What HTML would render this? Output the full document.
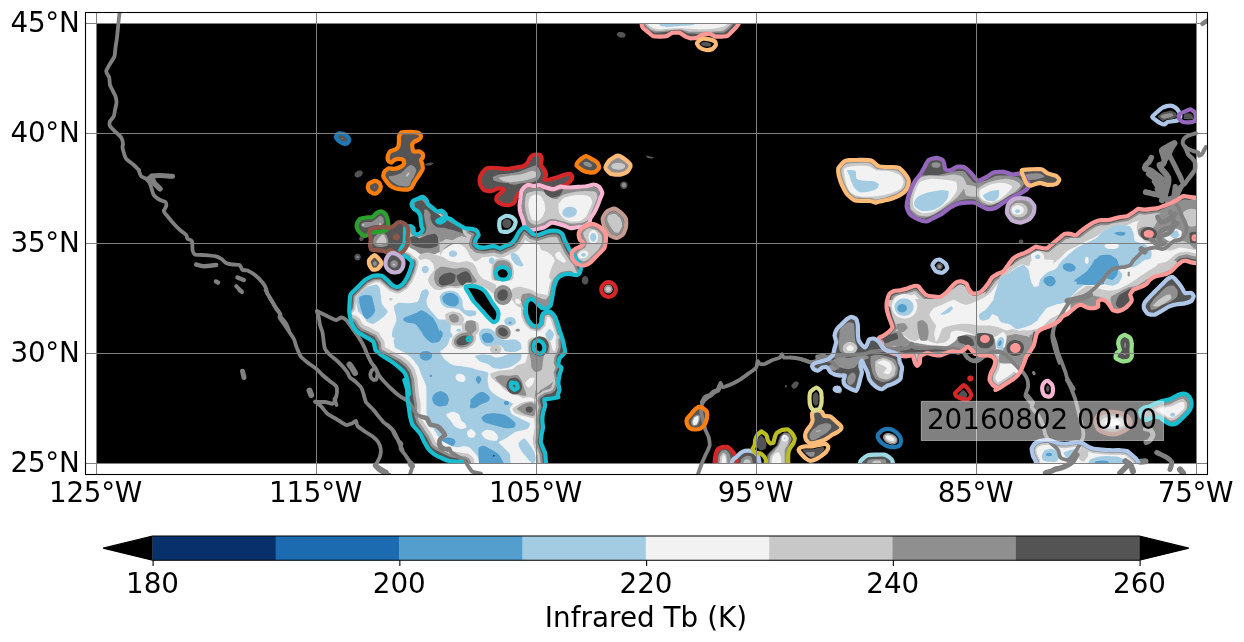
<!DOCTYPE html>
<html lang="en"><head><meta charset="utf-8"><title>Infrared Tb 20160802 00:00</title>
<style>html,body{margin:0;padding:0;background:#fff;}body{width:1244px;height:642px;overflow:hidden;}svg{display:block;}text{font-family:'DejaVu Sans', 'Liberation Sans', sans-serif;font-size:27.78px;fill:#000;}</style></head><body>
<svg width="1244" height="642" viewBox="0 0 1244 642">
<rect x="0" y="0" width="1244" height="642" fill="#fff"/>
<defs><clipPath id="ax"><rect x="85.5" y="12.5" width="1122" height="462"/></clipPath><clipPath id="data"><rect x="96.5" y="23.5" width="1100" height="440"/></clipPath><clipPath id="bigclip"><path d="M422.8 196.9 C423.5 197 426.1 199.4 426.5 200 C426.9 200.6 427.4 203.2 427.8 203.8 C428.2 204.4 430.8 206.3 431.5 206.9 C432.3 207.5 435.7 211 436.6 211.3 C437.4 211.6 440.8 210.5 441.6 210.7 C442.3 210.9 444.9 213.2 445.3 213.8 C445.8 214.4 446.2 217.2 446.6 217.6 C447 218 449.6 218.4 450.4 218.8 C451.1 219.2 454.5 222 455.4 222.6 C456.2 223.2 459.6 225.3 460.4 225.7 C461.2 226.2 464.5 228 465.4 228.2 C466.3 228.5 470.7 228.7 471.7 228.9 C472.6 229.1 476.1 230.2 476.7 230.7 C477.3 231.3 478.6 234.5 478.6 235.1 C478.5 235.8 476.4 238.2 476.1 238.9 C475.8 239.6 474.7 243.2 474.8 243.9 C475 244.6 477.2 246.7 477.9 247 C478.7 247.4 483.2 247.7 484.2 247.7 C485.3 247.6 489.6 246.5 490.5 246.4 C491.4 246.3 494.4 246.2 495.2 246.4 C496 246.6 499.4 248.3 500.2 248.3 C501 248.2 504.3 246.2 505.2 245.8 C506.2 245.4 510.6 243.8 511.5 243.3 C512.3 242.7 514.7 239.7 515.2 238.9 C515.8 238.1 517.3 234.6 517.8 233.9 C518.2 233.1 520.3 230 520.9 229.5 C521.5 228.9 524.6 226.9 525.3 227 C526 227 528.4 229.5 529 230.1 C529.7 230.7 532.1 233.4 532.8 233.9 C533.5 234.3 537 235.2 537.8 235.1 C538.7 235.1 542 233.5 542.8 233.2 C543.7 232.9 547 231.6 547.9 231.4 C548.7 231.1 552 230.7 552.9 230.7 C553.7 230.7 557.1 230.8 557.9 231.1 C558.7 231.4 561.7 233.2 562.3 233.9 C562.8 234.5 563.8 238 564.2 238.9 C564.5 239.7 566.2 243.1 566.7 243.9 C567.1 244.7 568.7 248.1 569.2 248.9 C569.6 249.7 571.8 253.1 572.3 253.9 C572.8 254.7 574.9 257.6 575.4 258.3 C576 259 578.7 261.9 579.2 262.7 C579.7 263.5 581.1 266.8 581.1 267.7 C581.1 268.6 579.9 272.6 579.5 273.2 C579.2 273.8 577.2 275.1 576.3 275.1 C575.4 275.2 569.8 273.9 568.6 273.9 C567.4 273.9 563.2 274.7 562.2 275.1 C561.2 275.6 557.7 278.1 557 279 C556.4 279.9 554.8 284.4 554.5 285.4 C554.1 286.5 553.4 290.7 553.2 291.9 C553 293 552.1 298.5 551.9 299.6 C551.7 300.7 551 304.6 550.6 305.4 C550.2 306.1 547.5 308.4 546.8 308.6 C546 308.8 542.4 308.3 541.6 307.9 C540.9 307.6 538.4 304.7 537.7 304.1 C537.1 303.4 534.5 300.7 533.9 300.2 C533.2 299.8 530.6 298.8 530 298.9 C529.4 299.1 527.2 301.4 526.8 302.2 C526.5 303 525.9 307.5 525.9 308.6 C525.9 309.7 526.2 314 526.4 315 C526.7 316 528.2 319.9 528.7 320.8 C529.3 321.7 531.9 324.8 532.6 325.3 C533.4 325.8 537.1 326.8 537.7 326.6 C538.4 326.4 540.6 324.1 541 323.4 C541.3 322.6 541.4 318.4 541.6 317.6 C541.8 316.8 542.5 314.2 542.9 313.7 C543.3 313.2 546.1 311.9 546.8 311.8 C547.4 311.7 550.6 312 551.3 312.4 C552 312.9 554.6 316 555.1 316.9 C555.6 317.9 557.3 322.9 557.7 324 C558.1 325.1 559.2 329.3 559.6 330.5 C560 331.6 561.8 336.9 562.2 338.2 C562.6 339.5 563.9 344.7 564.1 345.9 C564.4 347.1 565.4 351.3 565 352.3 C564.6 353.4 560 357.5 559.5 358.5 C558.9 359.6 558.2 364 558.4 364.8 C558.6 365.6 561.5 367.1 561.5 367.9 C561.6 368.8 559.7 373.9 559.5 375.2 C559.2 376.5 558.4 382.4 558.4 383.6 C558.4 384.8 559.5 388.8 559.5 389.9 C559.4 390.9 557.5 395.5 557.4 396.1 C557.3 396.8 558.8 397 558.2 397.2 C557.6 397.4 551.4 398.5 550.2 398.7 C549.1 398.9 544.9 398.8 544.4 399.4 C544 400 545.3 404.8 545.2 405.9 C545 407.1 543.2 411.9 543 413.2 C542.8 414.4 542.3 419.2 542.3 420.4 C542.3 421.6 543.1 426.4 543 427.6 C542.9 428.8 541.7 433.7 541.5 434.9 C541.4 436.1 540.7 441 540.8 442.1 C540.9 443.2 542.6 446.9 543 447.9 C543.4 448.8 544.9 452.5 545.2 453.7 C545.4 454.9 545.8 460.7 545.9 462.3 C545.9 464 552.9 473 545.9 473.9 C538.9 474.9 469 474.9 462 473.9 C455 472.9 462.4 462.9 462 461.9 C461.5 460.9 457.3 462 456.2 461.9 C455.1 461.8 450.1 461.2 448.9 460.9 C447.7 460.6 442.9 458.6 441.7 458 C440.5 457.5 435.6 455.1 434.5 454.4 C433.4 453.7 429.5 450.4 428.7 449.3 C427.8 448.3 425.1 443.4 424.3 442.1 C423.6 440.8 421 434.8 420 433.4 C419 432 413.5 426.4 412.7 425 C411.8 423.5 410.2 417 409.9 415.6 C409.6 414.2 409.1 409.5 408.9 408.1 C408.7 406.7 407.8 400.3 407.6 398.7 C407.5 397.2 407.3 390.9 407.1 389.4 C406.8 387.8 404.1 379.6 404.3 380 C404.4 380.4 408.7 393.8 409 394.1 C409.3 394.4 408.3 385.3 407.9 383.6 C407.6 381.9 405.6 374.5 404.8 373.2 C404 371.8 399.7 367.9 398.5 366.9 C397.3 365.8 391.6 361.6 390.2 360.6 C388.8 359.7 383 356.3 381.8 355.4 C380.6 354.5 376.2 351.3 375.5 350.2 C374.8 349 374.3 342.9 373.4 341.8 C372.6 340.7 366.5 337.4 365.1 336.6 C363.7 335.7 357.9 332.5 356.7 331.4 C355.6 330.2 352.1 324.6 351.5 323 C350.9 321.4 349.6 313.9 349.4 312.5 C349.2 311.2 349.3 308.5 349.4 307 C349.5 305.5 349.8 296.1 350.5 294.5 C351.1 292.9 355.5 289.5 356.7 288.2 C357.9 287 363.7 280.9 365.1 279.9 C366.5 278.8 372 276 373.4 275.7 C374.8 275.3 380.7 275.3 381.8 275.7 C382.9 276 386.2 279.1 387 279.9 C387.9 280.7 391.4 284.5 392.3 285.1 C393.1 285.7 396.6 287.3 397.5 287.2 C398.3 287.1 401.9 284.8 402.7 284.1 C403.5 283.3 406.3 278.9 406.9 277.8 C407.5 276.6 409.6 271.7 410 270.5 C410.5 269.2 411.9 263.6 412.1 263.2 C412.3 262.7 412.2 265.4 412.1 265.2 C412.1 265.1 411.8 262.1 411.5 261.5 C411.1 260.8 408.5 258.2 407.7 257.7 C407 257.2 403.3 255.8 402.7 255.2 C402.1 254.6 400 251.2 400.2 250.2 C400.4 249.1 404.2 244.5 404.6 242.7 C405 240.8 404.8 229 405.2 227.6 C405.6 226.2 408.5 226.5 409 226.4 C409.5 226.2 411.1 226.2 411.5 226.4 C411.8 226.5 413.2 227.7 413.4 228.2 C413.6 228.8 413.7 232.1 414 232.6 C414.3 233.1 416 234.5 416.5 234.5 C417 234.6 419.7 233.7 420.3 233.2 C420.8 232.8 422.7 230.1 422.8 229.5 C422.9 228.9 421.7 227 421.5 226.4 C421.4 225.7 421 222.2 420.9 221.3 C420.8 220.4 420.5 216.5 420.3 215.7 C420 214.9 418.3 211.9 417.8 211.3 C417.2 210.7 414.5 209.4 414 208.8 C413.5 208.2 411.5 205.1 411.5 204.4 C411.4 203.7 412.8 201.1 413.4 200.6 C413.9 200.2 417 199.1 417.8 198.8 C418.5 198.4 422 196.8 422.8 196.9Z"/></clipPath><clipPath id="bandclip"><path d="M1209 198 C1208.1 192.6 1199.4 198.1 1197.7 198 C1196.1 197.9 1190.9 197 1189.7 196.9 C1188.5 196.7 1184.4 195.8 1183.3 196.1 C1182.2 196.3 1177.9 199.5 1176.8 200.1 C1175.8 200.7 1171.5 202.8 1170.4 203.3 C1169.3 203.8 1165.1 205.3 1164 205.7 C1162.9 206.1 1158.6 207.9 1157.6 208.1 C1156.5 208.4 1152.2 208.8 1151.1 208.9 C1150.1 209.1 1145.8 209.7 1144.7 209.7 C1143.6 209.7 1139.2 208.7 1138.3 208.9 C1137.3 209.1 1134.4 211.6 1133.4 212.2 C1132.5 212.8 1128.1 215.8 1127 216.2 C1125.9 216.6 1121.7 216.8 1120.6 217 C1119.5 217.2 1115.2 218.3 1114.1 218.6 C1113.1 218.9 1108.9 220.1 1107.7 220.2 C1106.5 220.3 1100.9 220 1099.7 220.2 C1098.5 220.4 1094.3 222.1 1093.2 222.6 C1092.2 223.1 1087.9 225.9 1086.8 226.6 C1085.7 227.4 1081.3 230.7 1080.4 231.4 C1079.4 232.2 1076.4 235.3 1075.6 235.5 C1074.8 235.7 1071.7 234 1070.7 233.9 C1069.8 233.7 1065.2 233.5 1064.3 233.9 C1063.4 234.2 1060.3 237.2 1059.5 237.9 C1058.7 238.5 1055.5 241.2 1054.7 241.9 C1053.9 242.6 1050.5 245.4 1049.8 245.9 C1049.2 246.5 1047.4 248.2 1046.6 248.3 C1045.8 248.5 1041.1 247.7 1040.2 247.5 C1039.3 247.4 1036.2 246.5 1035.4 246.7 C1034.6 246.9 1031.5 249.4 1030.5 249.9 C1029.6 250.5 1025.2 252.7 1024.1 253.2 C1023 253.6 1018.6 255.1 1017.7 255.6 C1016.7 256 1013.7 258 1012.9 258.8 C1012.1 259.6 1008.8 264.1 1008 265.2 C1007.2 266.3 1004 271 1003.2 271.6 C1002.4 272.3 999.5 272.8 998.6 273.3 C997.7 273.8 993 276.6 992.2 277.3 C991.4 278.1 989.6 281.2 989 282.2 C988.3 283.1 985 287.7 984.1 288.6 C983.3 289.5 980.3 292.2 979.3 292.6 C978.4 293 973.8 293.7 972.9 293.4 C972 293.1 969.4 290.2 968.9 289.4 C968.3 288.6 967.1 284.4 966.5 283.8 C965.9 283.1 962.4 281.5 961.6 281.4 C960.8 281.2 957.6 281.8 956.8 282.2 C956 282.6 952.8 285.4 952 286.2 C951.2 287 948.1 290.9 947.2 291.8 C946.2 292.7 941.8 296.2 940.7 296.6 C939.7 297 935.5 296.8 934.3 296.6 C933.1 296.5 927.3 295.6 926.3 295 C925.2 294.5 922.1 290.9 921.4 290.2 C920.8 289.5 918.9 286.5 918.2 286.2 C917.6 285.8 914.3 286 913.4 286.2 C912.5 286.4 908 288.3 907 288.6 C905.9 288.9 901.6 290 900.5 290.2 C899.5 290.4 895.1 290.7 894.1 291 C893.2 291.3 889.9 293.3 889.3 294.2 C888.7 295.1 887.1 300.2 886.9 301.4 C886.7 302.7 886.7 308.3 886.9 309.5 C887 310.7 888.2 314.8 888.5 315.9 C888.8 317 890.6 321.4 890.9 322.3 C891.2 323.3 892.7 326.4 892.5 327.2 C892.3 328 889.3 331.3 888.5 332 C887.7 332.7 883.7 335.5 882.9 336 C882.1 336.5 878.8 337.4 878.8 338.4 C878.9 339.4 882.7 347.1 883.6 348.2 C884.5 349.4 888.7 351.6 890 352.3 C891.4 352.9 898.3 355.1 899.7 355.5 C901 355.8 905 356.3 906.1 356.3 C907.2 356.3 911.8 354.9 912.5 355.5 C913.3 356 914.5 361.8 915 362.7 C915.4 363.6 917 365.9 917.4 365.9 C917.8 365.9 919.5 363.5 919.8 362.7 C920 361.9 920 357.1 920.6 356.3 C921.2 355.5 925.9 353.2 927 353.1 C928.1 352.9 932.4 354.5 933.4 354.7 C934.5 354.9 938.8 355.6 939.9 355.5 C940.9 355.3 945.2 353.4 946.3 353.1 C947.4 352.7 951.7 351.5 952.7 351.4 C953.8 351.4 958.2 352.4 959.2 352.3 C960.1 352.1 963.3 350.3 964 349.8 C964.7 349.4 967.4 346.6 968 346.6 C968.6 346.6 970.6 349.2 971.2 349.8 C971.8 350.4 974.4 353.4 975.2 353.9 C976.1 354.3 980.6 355.3 981.7 355.5 C982.7 355.6 987.2 355.3 988.1 355.5 C989 355.6 992.3 356.6 992.9 357.1 C993.5 357.5 995.3 360.2 995.3 361.1 C995.4 362 994.1 366.5 993.7 367.5 C993.3 368.6 990.8 372.9 990.5 374 C990.2 375 989.5 379.4 989.7 380.4 C989.9 381.3 992.3 384.5 992.9 385.2 C993.6 385.9 997.5 388 997.7 388.4 C998 388.8 995.3 390.1 995.5 390 C995.7 389.9 999.5 388.1 1000.5 387.5 C1001.5 386.9 1006.8 383.3 1008 382.5 C1009.2 381.7 1014.5 378.4 1015.5 377.5 C1016.5 376.6 1019.8 372.5 1020.5 371.2 C1021.2 370 1023.6 364.1 1024.1 362.9 C1024.6 361.7 1026 357.5 1026.5 356.5 C1027.1 355.5 1029.9 351.8 1030.5 350.8 C1031.1 349.9 1033.4 346.2 1033.8 345.2 C1034.2 344.2 1035.1 339.8 1035.4 338.8 C1035.6 337.8 1036.4 334 1037 333.2 C1037.5 332.3 1040.9 329.7 1041.8 329.1 C1042.7 328.6 1047.2 327.2 1048.2 326.7 C1049.3 326.3 1053.7 324 1054.7 323.5 C1055.6 323 1058.8 320.9 1059.5 320.3 C1060.2 319.7 1062 316.8 1062.7 316.3 C1063.4 315.7 1066.7 314.4 1067.5 313.9 C1068.3 313.3 1071.5 310.5 1072.3 309.8 C1073.2 309.2 1076.4 306.2 1077.2 305.8 C1078 305.4 1081.2 304.9 1082 305 C1082.8 305.2 1085.9 307.2 1086.8 307.4 C1087.8 307.7 1092.3 308.3 1093.2 308.2 C1094.2 308.2 1097.7 307.2 1098.1 306.6 C1098.5 306.1 1097.8 302.4 1098.1 301.8 C1098.3 301.2 1100.6 299.5 1101.3 299.4 C1102 299.3 1105.4 300.5 1106.1 301 C1106.8 301.5 1108.8 304.3 1109.3 305 C1109.9 305.8 1111.9 309.3 1112.5 309.8 C1113.2 310.4 1116.4 311.5 1117.4 311.4 C1118.3 311.4 1122.9 309.6 1123.8 309 C1124.7 308.5 1127.9 305.8 1128.6 305 C1129.3 304.3 1131.7 301.1 1131.8 300.2 C1132 299.3 1130.1 295.4 1130.2 294.6 C1130.4 293.7 1132.6 290.3 1133.4 289.7 C1134.2 289.1 1138.8 287.8 1139.9 287.3 C1140.9 286.9 1145.5 284.7 1146.3 284.1 C1147.1 283.5 1148.8 280.7 1149.5 280.1 C1150.2 279.5 1153.4 277.3 1154.3 276.9 C1155.3 276.5 1159.7 275.5 1160.8 275.3 C1161.8 275 1166.3 274.1 1167.2 273.7 C1168.1 273.3 1171.2 271.1 1172 270.5 C1172.8 269.8 1176 266.4 1176.8 265.6 C1177.7 264.9 1180.9 262 1181.7 261.6 C1182.5 261.2 1185.7 260.7 1186.5 260.8 C1187.3 260.9 1190.4 262.2 1191.3 262.4 C1192.3 262.6 1196.3 263.1 1197.7 263.2 C1199.2 263.3 1208.1 268.6 1209 263.2 C1209.9 257.8 1209.9 203.4 1209 198Z"/></clipPath></defs>
<rect x="96.5" y="23.5" width="1100" height="440" fill="#000"/>
<g clip-path="url(#data)" stroke="none">
<path d="M335.8 136.6 C335.9 135.9 338.3 133.6 339.1 133.3 C339.8 133 342.4 133.6 343.2 133.8 C344 134 346 135 346.6 135.6 C347.2 136.1 349.2 138.1 349.3 138.8 C349.5 139.5 348.5 142.1 348.1 142.6 C347.7 143.1 345.7 143.8 345.1 143.8 C344.4 143.8 342.3 143 341.6 142.7 C340.9 142.3 338.6 140.9 338.1 140.3 C337.5 139.7 335.7 137.3 335.8 136.6Z" fill="#545454"/>
<path d="M343.2 138.6 C343.2 138.6 343.1 138.8 343.1 138.8 C343.1 138.9 342.9 139 342.9 139 C342.8 139 342.6 139.1 342.6 139.1 C342.5 139.1 342.3 139 342.3 139 C342.2 139 342.1 138.9 342 138.8 C342 138.8 341.9 138.6 341.9 138.6 C341.9 138.5 342 138.4 342 138.3 C342.1 138.3 342.2 138.2 342.3 138.1 C342.3 138.1 342.5 138.1 342.6 138.1 C342.6 138.1 342.8 138.1 342.9 138.1 C342.9 138.2 343.1 138.3 343.1 138.3 C343.1 138.4 343.2 138.5 343.2 138.6Z" fill="#8f8f8f"/>
<path d="M401.5 132.5 C402.6 132.1 408.5 131.9 410.3 131.9 C412 132 418 132.7 419.1 133.2 C420.1 133.6 421 135.7 421 136.3 C421 136.9 419.8 138.9 419.1 139.4 C418.4 140 414.7 141.4 414.1 141.9 C413.4 142.5 412.2 144.1 412.2 145.1 C412.1 146 412.7 150.7 413.4 151.4 C414.1 152 418.1 151.1 419.1 151.4 C420 151.6 422.5 153.2 422.8 153.9 C423.2 154.5 423 157 422.8 157.6 C422.6 158.2 421 159.5 421 160.1 C420.9 160.8 422 163 422.2 163.9 C422.4 164.8 423 168 422.8 168.9 C422.6 169.8 421 172.3 420.3 173.3 C419.7 174.3 417.2 178 416.6 178.9 C415.9 179.9 414.6 181.8 414.1 182.7 C413.6 183.6 412.2 187 411.5 187.7 C410.9 188.4 409.2 189.5 407.8 189.6 C406.4 189.7 399.4 189.3 397.8 189 C396.1 188.7 392.6 187.2 391.5 186.5 C390.4 185.7 387.3 182.5 386.5 181.4 C385.7 180.4 383.5 177.4 383.3 176.4 C383.1 175.4 384 172.2 384.6 171.4 C385.1 170.6 388 168.5 389 168.3 C389.9 168 392.9 169 394 168.9 C395.1 168.8 399.3 167.5 400.3 167 C401.3 166.5 403.7 164.6 404 163.9 C404.3 163.2 403.9 160.6 403.4 160.1 C402.9 159.6 399.9 158.9 399 158.9 C398.1 158.9 394.7 159.8 394 160.1 C393.2 160.5 392 162.6 391.5 162.6 C390.9 162.7 388.7 161.4 388.3 160.8 C388 160.1 387.5 157.3 387.7 156.4 C387.9 155.4 389.5 152 390.2 151.4 C391 150.7 394.4 150 395.2 149.5 C396.1 149 398 147.2 398.4 146.3 C398.8 145.5 398.9 142.3 399 141.3 C399.1 140.3 398.8 137.2 399 136.3 C399.3 135.4 400.4 133 401.5 132.5Z" fill="#545454"/>
<path d="M389 176.4 C389.5 176.1 394 175.6 395.2 175.2 C396.5 174.8 400.4 173.4 401.5 172.7 C402.6 171.9 405.7 168.4 406.5 167.7 C407.4 166.9 409.5 165.3 410.3 165.1 C411 165 413.5 165.9 414.1 166.4 C414.7 166.9 416.3 169.2 416.3 170.2 C416.3 171.2 414.5 175.4 414.1 176.4 C413.6 177.4 412 179.3 411.5 180.2 C411.1 181.1 410.2 184.6 409.7 185.2 C409.2 185.8 407.7 186.5 406.5 186.5 C405.3 186.5 399.1 185.7 397.8 185.2 C396.4 184.8 393.6 182.7 392.7 182.1 C391.9 181.4 390 179.5 389.6 178.9 C389.2 178.4 388.4 176.8 389 176.4Z" fill="#8f8f8f"/>
<path d="M409.2 172.5 C409.3 172.6 409.4 172.9 409.4 173.1 C409.4 173.2 409.3 173.8 409.2 174 C409.1 174.2 408.8 174.9 408.6 175.1 C408.5 175.3 407.9 175.9 407.8 176.1 C407.6 176.2 407.1 176.6 407 176.6 C406.8 176.7 406.4 176.7 406.3 176.6 C406.3 176.5 406.1 176.2 406.1 176 C406.1 175.9 406.3 175.3 406.4 175.1 C406.4 174.9 406.8 174.2 407 174 C407.1 173.8 407.6 173.2 407.8 173 C408 172.9 408.5 172.5 408.6 172.5 C408.8 172.4 409.1 172.4 409.2 172.5Z" fill="#c8c8c8"/>
<path d="M374.6 180.9 C375.6 180.8 378.3 182.2 378.9 182.7 C379.6 183.3 380.8 185.6 380.8 186.5 C380.8 187.3 379.8 190.3 379.2 191 C378.6 191.7 376 193.6 375.2 193.7 C374.3 193.9 371.4 192.6 370.7 192.1 C369.9 191.6 368.1 189.2 367.9 188.3 C367.7 187.5 368.2 184.4 368.9 183.7 C369.6 183 373.5 181 374.6 180.9Z" fill="#545454"/>
<path d="M374.9 187.5 C374.9 187.5 374.9 187.7 374.8 187.8 C374.8 187.8 374.7 188 374.6 188 C374.6 188 374.4 188.1 374.3 188.1 C374.2 188.1 374 188 374 188 C373.9 188 373.8 187.8 373.8 187.8 C373.7 187.7 373.7 187.5 373.7 187.5 C373.7 187.4 373.7 187.2 373.8 187.2 C373.8 187.1 373.9 187 374 186.9 C374 186.9 374.2 186.8 374.3 186.8 C374.4 186.8 374.6 186.9 374.6 186.9 C374.7 187 374.8 187.1 374.8 187.2 C374.9 187.2 374.9 187.4 374.9 187.5Z" fill="#8f8f8f"/>
<path d="M362.4 171.7 C362.6 172 362.8 173 362.7 173.4 C362.6 173.7 362.1 174.9 361.9 175.2 C361.6 175.5 360.6 176.4 360.2 176.6 C359.8 176.9 358.5 177.3 358.1 177.4 C357.7 177.4 356.4 177.3 356.1 177.2 C355.8 177.1 355 176.4 354.8 176.1 C354.7 175.8 354.5 174.8 354.5 174.5 C354.6 174.1 355.1 173 355.4 172.7 C355.6 172.3 356.7 171.4 357.1 171.2 C357.4 171 358.8 170.5 359.2 170.5 C359.6 170.4 360.8 170.5 361.1 170.7 C361.5 170.8 362.3 171.5 362.4 171.7Z" fill="#545454"/>
<path d="M425.3 164.1 C425.8 163.8 429.5 162.5 430.4 162.4 C431.2 162.3 433.5 163 433.5 163.3 C433.5 163.6 431.1 165.2 430.4 165.4 C429.6 165.6 426.5 165.5 426 165.4 C425.5 165.3 424.9 164.4 425.3 164.1Z" fill="#545454"/>
<path d="M533.7 154.8 C534.7 154.5 539.1 154.3 539.9 154.8 C540.7 155.2 541.6 158.2 541.7 159.2 C541.8 160.2 540.5 163.4 540.8 164.5 C541.1 165.5 543.8 168.7 544.3 169.8 C544.9 170.9 546.1 174.1 546.1 175.1 C546.1 176.1 544 179.1 544.3 179.5 C544.7 180 548.4 179.7 549.6 179.5 C550.9 179.3 555.3 177.8 556.7 177.4 C558.1 177 562.5 175.5 563.8 175.1 C565.1 174.7 569.1 173.7 570 173.9 C570.8 174 572.3 176.1 572.3 176.9 C572.3 177.6 570.7 180.5 570 181.3 C569.3 182.1 566.5 184.3 565.6 184.8 C564.6 185.4 561.5 186.1 560.3 186.6 C559 187 554.6 189.2 553.2 189.2 C551.8 189.3 547.5 187.9 546.1 187.5 C544.7 187.1 540.3 185.3 539 185.2 C537.8 185.1 534.8 186.3 533.7 186.2 C532.7 186.2 529.4 184.7 528.4 184.8 C527.5 184.9 524.8 186.8 524 187.5 C523.2 188.2 521.1 191.2 520.5 191.9 C519.8 192.6 518.3 193.9 517.8 194.6 C517.4 195.2 516.4 197.3 516 198.1 C515.7 198.9 515 201.8 514.3 202.5 C513.6 203.2 510.2 205 509 205.2 C507.7 205.3 503.1 204.7 501.9 204.3 C500.7 203.8 497.1 201.5 496.6 200.7 C496.1 199.9 496.4 197.2 496.9 196.3 C497.5 195.4 501.2 192.6 501.9 191.9 C502.6 191.2 504 189.6 503.7 189.2 C503.3 188.9 499.6 188.2 498.4 188.4 C497.1 188.5 492.7 190.8 491.3 191 C489.9 191.2 485.3 190.7 484.2 190.1 C483.1 189.5 480.8 186 480.3 184.8 C479.9 183.7 479.6 179.9 479.8 178.6 C480 177.4 481.6 173.5 482.4 172.4 C483.2 171.4 486.3 168.5 487.7 168 C489.2 167.6 494.6 167.9 496.6 168 C498.5 168.1 505.3 169 507.2 168.9 C509.1 168.9 514.5 167.8 516 167.5 C517.6 167.2 522 166.7 523.1 166.3 C524.3 165.8 526.8 163.6 527.5 162.7 C528.2 161.8 529.6 158.2 530.2 157.4 C530.8 156.6 532.8 155 533.7 154.8Z" fill="#545454"/>
<path d="M493.1 176.9 C493.7 176.2 498.4 174.6 500.1 174.2 C501.9 173.9 508.8 173.6 510.7 173.3 C512.7 173.1 517.8 172.1 519.6 171.6 C521.4 171 526.8 168.6 528.4 168 C530 167.4 534.4 165.3 535.5 165.4 C536.6 165.5 538.5 168 539 168.9 C539.6 169.8 540.9 173.2 540.8 174.2 C540.7 175.3 539 178.7 538.2 179.5 C537.3 180.3 533.5 181.8 532 182.2 C530.5 182.5 524.9 182.8 523.1 183.1 C521.4 183.3 515.9 184.8 514.3 184.8 C512.7 184.8 508.6 183.3 507.2 183.1 C505.8 182.8 501.5 182.4 500.1 182.2 C498.8 181.9 494.6 180.9 493.9 180.4 C493.2 179.9 492.4 177.5 493.1 176.9Z" fill="#8f8f8f"/>
<path d="M499.2 177.7 C500 177.2 508.5 176 510.7 175.6 C513 175.3 519.2 174.7 521.4 174.2 C523.5 173.7 530.5 170.9 532 170.7 C533.5 170.5 536 171.8 536.4 172.4 C536.7 173.1 536.3 176.2 535.5 176.9 C534.7 177.6 530 179.1 528.4 179.5 C526.8 180 521.4 181 519.6 181.3 C517.8 181.6 512.3 182.2 510.7 182.2 C509.1 182.2 504.8 181.7 503.7 181.3 C502.5 180.8 498.5 178.3 499.2 177.7Z" fill="#c8c8c8"/>
<path d="M528.4 184.8 C529.4 184.7 532.7 186.2 533.7 186.2 C534.8 186.3 537.8 185.1 539 185.2 C540.3 185.3 544.7 187.1 546.1 187.5 C547.5 187.9 551.8 189.3 553.2 189.2 C554.6 189.2 558.8 186.8 560.3 186.6 C561.7 186.4 565.6 187.4 567.3 187.5 C569.1 187.5 576 187.1 577.9 186.9 C579.9 186.8 585.2 186.5 586.8 186.2 C588.4 186 592.6 184.4 593.9 184.5 C595.1 184.5 598.3 186.1 599.2 186.9 C600 187.8 602.3 191.6 602.3 192.8 C602.4 194 600.5 197.6 600 199 C599.6 200.3 598 204.6 597.4 206 C596.8 207.5 594.6 211.9 593.9 213.1 C593.2 214.4 590.8 217.5 590.3 218.4 C589.9 219.4 590.1 222.1 589.4 222.8 C588.7 223.6 584.6 225.9 583.2 226.4 C581.9 226.8 577.4 227.1 576.2 227.3 C574.9 227.4 572.1 228.3 570.9 228.2 C569.6 228 565.2 226 563.8 225.5 C562.4 225 558 223.6 556.7 223.4 C555.5 223.1 552.7 222.5 551.4 222.8 C550.2 223.2 545.8 226.6 544.3 227.3 C542.9 227.9 538.7 228.8 537.3 229 C535.9 229.3 531.4 230.2 530.2 229.9 C529 229.7 525.6 227.4 524.9 226.4 C524.2 225.4 523.6 221.5 523.1 220.2 C522.7 218.9 520.8 214.5 520.5 213.1 C520.1 211.7 519.6 207.5 519.6 206 C519.6 204.6 520.3 200.4 520.5 199 C520.6 197.6 521 193 521.4 191.9 C521.7 190.7 523.3 188.2 524 187.5 C524.7 186.8 527.5 184.9 528.4 184.8Z" fill="#545454"/>
<path d="M528.8 187.2 C527.9 187.3 526.1 188.5 525.6 189.1 C525.1 189.6 523.9 190.9 523.5 192.6 C523.1 194.3 521.9 204 521.8 206 C521.7 208 522.1 210.7 522.6 212.6 C523.1 214.5 526 223.5 526.8 225 C527.6 226.5 529.7 227.4 530.7 227.6 C531.7 227.8 535.6 227.1 536.9 226.9 C538.1 226.6 542 225.8 543.5 225.2 C544.9 224.6 549.8 221 551.2 220.7 C552.6 220.3 555.4 220.7 557.4 221.3 C559.3 221.8 568.6 225.6 571.1 225.9 C573.6 226.2 580.9 224.7 582.5 224.3 C584.2 223.8 586.9 222.1 587.5 221.4 C588.1 220.8 587.8 218.5 588.3 217.6 C588.7 216.6 591.2 213.3 592 212 C592.7 210.8 594.6 207.1 595.4 205.2 C596.2 203.3 599.7 194.6 599.9 193 C600.2 191.3 598.2 189.2 597.6 188.6 C596.9 188 594.7 186.8 593.6 186.8 C592.6 186.8 588.7 188.2 587.1 188.4 C585.6 188.6 580 189 578.1 189.1 C576.1 189.3 569 189.7 567.3 189.7 C565.5 189.6 561.9 188.7 560.5 188.8 C559.1 189 555.2 191.6 553.1 191.4 C550.9 191.3 540.8 187.7 538.9 187.4 C537 187.1 534.8 188.5 533.8 188.4 C532.7 188.4 529.6 187.1 528.8 187.2Z" fill="#8f8f8f"/>
<path d="M526.7 193.7 C527.7 192.5 533.7 191.2 535.5 191 C537.3 190.8 542.8 191.2 544.3 191.9 C545.9 192.6 550.2 197.4 551.4 198.1 C552.7 198.8 555.5 199.3 556.7 199 C558 198.6 562 195.3 563.8 194.6 C565.6 193.8 572.1 192.3 574.4 191.9 C576.7 191.5 584.7 191 586.8 191 C588.9 191 594.6 191.3 595.6 191.9 C596.7 192.5 597.5 196 597.4 197.2 C597.3 198.4 595.4 202.7 594.7 204.3 C594.1 205.9 591.9 211.5 591.2 213.1 C590.5 214.7 588.6 219.2 587.7 220.2 C586.7 221.2 583.2 222.5 581.5 222.8 C579.8 223.2 572.8 223.9 570.9 223.7 C568.9 223.6 563.6 221.5 562 221.1 C560.4 220.6 556.2 219.5 555 219.3 C553.7 219.1 551.1 218.9 549.6 219.3 C548.2 219.8 542.4 223.2 540.8 223.7 C539.2 224.3 535 225 533.7 224.6 C532.5 224.3 529.2 221.5 528.4 220.2 C527.6 218.9 526.1 213.1 525.8 211.4 C525.4 209.6 524.8 204.3 524.9 202.5 C525 200.7 525.6 194.8 526.7 193.7Z" fill="#c8c8c8"/>
<path d="M543.5 189.2 C544.2 188.9 551.2 191.5 553.2 191.5 C555.1 191.5 562.3 188.8 562.9 189.2 C563.5 189.7 560.5 195 559.4 195.8 C558.2 196.6 552.7 197.7 551.4 197.6 C550.1 197.4 546.9 195.4 546.1 194.6 C545.3 193.7 542.8 189.5 543.5 189.2Z" fill="#545454"/>
<path d="M530.2 197.2 C530.9 196.2 534.4 194.6 535.5 194.6 C536.6 194.5 539.9 195.5 540.8 196.3 C541.7 197.1 543.9 201.2 544.3 202.5 C544.8 203.8 545.4 208.2 545.2 209.6 C545 211 543.4 215.5 542.6 216.7 C541.8 217.8 538.3 220.8 537.3 221.1 C536.2 221.3 532.8 220.3 532 219.3 C531.2 218.3 529.7 212.9 529.3 211.4 C529 209.8 528.3 205.7 528.4 204.3 C528.5 202.9 529.5 198.2 530.2 197.2Z" fill="#f2f2f2"/>
<path d="M558.5 204.3 C558.9 202.8 562.4 199 563.8 198.1 C565.2 197.2 570.7 195.7 572.6 195.4 C574.6 195.1 581.5 194.9 583.2 195.1 C585 195.3 589.4 196.5 590.3 197.2 C591.2 197.9 592.2 201.3 592.1 202.5 C592 203.7 590.1 208.2 589.4 209.6 C588.8 211 586.9 215.5 585.9 216.7 C584.9 217.8 581.2 220.6 579.7 221.1 C578.2 221.6 572.5 221.9 570.9 221.6 C569.3 221.3 564.9 219.3 563.8 218.4 C562.6 217.6 559.9 214.5 559.4 213.1 C558.8 211.7 558 205.8 558.5 204.3Z" fill="#f2f2f2"/>
<path d="M576.9 210.9 C577 211.5 576.7 213.3 576.4 213.8 C576.2 214.3 574.7 215.9 574.1 216.3 C573.5 216.6 571.3 217.5 570.6 217.6 C569.9 217.8 567.5 217.7 566.8 217.6 C566.1 217.4 564.2 216.5 563.8 216.1 C563.3 215.6 562.4 214.1 562.3 213.5 C562.2 213 562.5 211.2 562.8 210.7 C563.1 210.1 564.6 208.6 565.1 208.2 C565.7 207.8 567.9 207 568.7 206.8 C569.4 206.7 571.8 206.8 572.5 206.9 C573.1 207.1 575 208 575.5 208.4 C575.9 208.8 576.9 210.4 576.9 210.9Z" fill="#a3cce3"/>
<path d="M511.4 223.4 C511.4 223.8 511.1 225.3 510.8 225.7 C510.6 226.1 509.5 227.1 509.1 227.4 C508.8 227.6 507.3 228 506.8 228 C506.4 228 504.9 227.6 504.6 227.4 C504.2 227.1 503.1 226.1 502.9 225.7 C502.6 225.3 502.3 223.8 502.3 223.4 C502.3 222.9 502.6 221.5 502.9 221.1 C503.1 220.7 504.2 219.6 504.6 219.4 C504.9 219.2 506.4 218.8 506.8 218.8 C507.3 218.8 508.8 219.2 509.1 219.4 C509.5 219.6 510.6 220.7 510.8 221.1 C511.1 221.5 511.4 222.9 511.4 223.4Z" fill="#545454"/>
<path d="M585.9 156.2 C587.1 156.1 590.9 158.5 592.1 159.2 C593.2 159.8 596.7 161.9 597.4 162.7 C598.1 163.5 599.3 166.6 599.2 167.5 C599 168.4 596.6 171.1 595.6 171.6 C594.7 172.1 590.8 172.6 589.4 172.4 C588.1 172.3 583.7 171 582.4 170.3 C581.1 169.6 576.8 166.4 576.5 165.4 C576.3 164.3 578.8 161 579.7 160.1 C580.6 159.1 584.7 156.3 585.9 156.2Z" fill="#545454"/>
<path d="M592 166.1 C591.9 166.3 591.3 166.8 591 166.9 C590.7 167 589.6 167.2 589.1 167.1 C588.7 167.1 587.3 166.8 586.9 166.6 C586.5 166.5 585.2 165.8 584.8 165.6 C584.5 165.3 583.7 164.5 583.5 164.2 C583.4 163.9 583.3 163.1 583.3 162.9 C583.4 162.7 584 162.2 584.3 162 C584.6 161.9 585.8 161.8 586.2 161.8 C586.6 161.9 588 162.2 588.5 162.3 C588.9 162.5 590.2 163.2 590.5 163.4 C590.8 163.6 591.7 164.5 591.8 164.8 C592 165 592.1 165.8 592 166.1Z" fill="#8f8f8f"/>
<path d="M617.7 155.6 C619.2 155.6 623.5 158.2 624.8 159.2 C626.1 160.2 630.4 164.1 630.6 165.4 C630.9 166.6 628.5 170.6 627.5 171.6 C626.4 172.5 622.1 174.3 620.4 174.6 C618.7 174.8 612.2 174.6 610.7 173.9 C609.2 173.2 605.4 168.9 605.4 167.5 C605.3 166.1 608.5 161.2 609.8 160.1 C611 158.9 616.2 155.7 617.7 155.6Z" fill="#8f8f8f"/>
<path d="M625.3 166.3 C625.3 166.6 624.7 167.7 624.4 168 C624 168.3 622.4 169.1 621.8 169.3 C621.2 169.5 619 169.8 618.3 169.8 C617.6 169.8 615.3 169.5 614.7 169.3 C614.1 169.1 612.5 168.3 612.1 168 C611.8 167.7 611.2 166.6 611.2 166.3 C611.2 165.9 611.8 164.8 612.1 164.5 C612.5 164.2 614.1 163.4 614.7 163.2 C615.3 163 617.6 162.7 618.3 162.7 C619 162.7 621.2 163 621.8 163.2 C622.4 163.4 624 164.2 624.4 164.5 C624.7 164.8 625.3 165.9 625.3 166.3Z" fill="#c8c8c8"/>
<path d="M627.6 185.2 C627.6 185.5 627.3 186.7 627.1 187 C627 187.4 626.1 188.2 625.8 188.4 C625.5 188.6 624.3 188.9 623.9 188.9 C623.6 188.9 622.4 188.6 622.1 188.4 C621.7 188.2 620.9 187.4 620.7 187 C620.5 186.7 620.2 185.5 620.2 185.2 C620.2 184.8 620.5 183.6 620.7 183.3 C620.9 183 621.7 182.1 622.1 182 C622.4 181.8 623.6 181.5 623.9 181.5 C624.3 181.5 625.5 181.8 625.8 182 C626.1 182.1 627 183 627.1 183.3 C627.3 183.6 627.6 184.8 627.6 185.2Z" fill="#545454"/>
<path d="M626 185.2 C626 185.4 625.9 186.1 625.8 186.2 C625.7 186.4 625.2 186.9 625 187 C624.8 187.1 624.1 187.3 623.9 187.3 C623.7 187.3 623 187.1 622.9 187 C622.7 186.9 622.2 186.4 622.1 186.2 C622 186.1 621.8 185.4 621.8 185.2 C621.8 185 622 184.3 622.1 184.1 C622.2 183.9 622.7 183.4 622.9 183.3 C623 183.2 623.7 183.1 623.9 183.1 C624.1 183.1 624.8 183.2 625 183.3 C625.2 183.4 625.7 183.9 625.8 184.1 C625.9 184.3 626 185 626 185.2Z" fill="#8f8f8f"/>
<path d="M646 155.6 C646.3 155.5 649.7 156.4 650.5 156.5 C651.2 156.7 653.9 157.2 654 157.4 C654.1 157.6 652 158.6 651.3 158.6 C650.7 158.7 647.8 158.1 647.3 157.8 C646.7 157.5 645.7 155.8 646 155.6Z" fill="#545454"/>
<path d="M614.2 208.7 C615.5 208.8 619.2 211.3 620.4 212.2 C621.5 213.2 625.1 217 625.7 218.4 C626.3 219.8 626.3 224.8 626 226.4 C625.8 228 624 233.2 623 234.3 C622.1 235.5 618.2 237.8 616.9 237.9 C615.5 238 611 236.3 609.8 235.2 C608.5 234.2 605.2 228.9 604.5 227.3 C603.8 225.6 602.4 220 602.7 218.4 C603 216.8 606 212.3 607.1 211.4 C608.3 210.4 612.9 208.6 614.2 208.7Z" fill="#545454"/>
<path d="M614 211.1 C613 211 609.5 212.4 608.6 213.1 C607.7 213.9 605.2 217.5 605 218.9 C604.8 220.2 605.9 225 606.5 226.4 C607.2 227.9 610.2 232.5 611.2 233.4 C612.2 234.3 615.7 235.5 616.7 235.5 C617.7 235.4 620.5 233.8 621.3 232.8 C622 231.9 623.6 227.4 623.8 226 C624.1 224.7 624 220.5 623.5 219.3 C623 218.1 619.9 214.8 619 214 C618 213.1 615 211.2 614 211.1Z" fill="#8f8f8f"/>
<path d="M608.9 214.9 C609.7 214.4 613.9 213.7 615.1 214 C616.2 214.4 619.7 217.3 620.4 218.4 C621.1 219.6 622.3 224.1 622.2 225.5 C622 226.9 619.4 232 618.6 232.6 C617.8 233.2 615.1 232.4 614.2 231.7 C613.3 231 610.5 226.7 609.8 225.5 C609.1 224.3 607.2 220.4 607.1 219.3 C607 218.2 608.1 215.4 608.9 214.9Z" fill="#c8c8c8"/>
<path d="M641.6 7.9 C636.7 8.7 641.5 22.8 641.6 23.8 C641.6 24.9 643 27.9 643.3 28.3 C643.6 28.7 647.3 31.4 647.7 31.8 C648.2 32.2 652.4 36 653.1 36.2 C653.7 36.5 659.4 36.6 660.1 36.6 C660.8 36.6 666.6 36.1 667.2 35.9 C667.8 35.7 671.9 32.8 672.5 32.7 C673.1 32.5 679 32.5 679.6 32.7 C680.2 32.9 684.4 35.9 684.9 36.2 C685.4 36.5 689.6 38.3 690.2 38.3 C690.8 38.4 695.8 38.2 696.4 38 C697 37.8 701.9 35 702.6 34.8 C703.2 34.6 709 33.5 709.6 33.6 C710.3 33.7 714.3 36.4 715 36.6 C715.6 36.7 721.4 36.6 722 36.6 C722.6 36.5 726.8 36.2 727.3 35.9 C727.9 35.6 732.1 31.4 732.6 30.9 C733.2 30.4 737.3 26 737.6 25.6 C737.9 25.2 738.8 23.8 738.8 23 C738.9 22.1 743.7 8.7 738.8 7.9 C734 7.2 646.4 7.1 641.6 7.9Z" fill="#545454"/>
<path d="M645.1 22.1 C640.9 22.4 647.3 28.6 647.7 29.1 C648.2 29.7 653.9 32.6 654.8 32.7 C655.8 32.8 666.2 31.9 667.2 31.8 C668.2 31.7 673.6 30.1 674.3 30 C675 30 680.6 30.4 681.4 30.6 C682.1 30.7 687.5 33.4 688.4 33.6 C689.3 33.7 697.8 34.1 699 34.1 C700.3 34.1 711.9 32.8 713.2 32.7 C714.4 32.6 723 32.9 723.8 32.7 C724.6 32.5 728.7 29.7 729.1 29.1 C729.5 28.6 736 22.4 731.8 22.1 C727.6 21.7 649.3 21.7 645.1 22.1Z" fill="#8f8f8f"/>
<path d="M646.3 22.1 C642.4 22.4 649.9 28.7 650.4 29.1 C650.9 29.6 655.6 31.2 656.6 31.3 C657.6 31.3 669.5 30.1 670.7 30 C672 29.9 680.4 29.4 681.4 29.5 C682.3 29.6 689 31.7 690.2 31.8 C691.4 31.9 704.5 31.8 706.1 31.8 C707.7 31.8 721 31.1 722 30.9 C723.1 30.7 726.9 28.2 727.3 27.7 C727.7 27.3 734 22.4 730 22.1 C725.9 21.8 650.3 21.7 646.3 22.1Z" fill="#c8c8c8"/>
<path d="M647.7 22.1 C644 22.4 651.6 27.4 652.2 27.7 C652.8 28.1 659 29.5 660.1 29.5 C661.2 29.5 672.9 28.3 674.3 28.3 C675.7 28.2 687.2 28.7 688.4 28.8 C689.7 28.9 697.8 29.5 699 29.5 C700.3 29.5 711.9 28.9 713.2 28.8 C714.4 28.6 723.1 26.8 723.8 26.5 C724.5 26.2 731.1 22.3 727.3 22.1 C723.5 21.9 651.5 21.8 647.7 22.1Z" fill="#f2f2f2"/>
<path d="M658.4 22.1 C656.5 22.3 660.6 25.7 661 26 C661.5 26.2 666.3 27 667.2 27 C668.1 27 678.3 26.1 679.6 26 C680.8 25.9 691 25.5 692 25.3 C692.9 25.1 699.8 22.2 698.2 22.1 C696.5 21.9 660.2 21.9 658.4 22.1Z" fill="#a3cce3"/>
<path d="M711.4 44.8 C711.4 45 710.9 45.7 710.6 45.9 C710.3 46.1 709 46.5 708.6 46.6 C708.1 46.6 706.4 46.7 705.9 46.6 C705.4 46.6 703.7 46.3 703.3 46.1 C702.8 46 701.7 45.3 701.4 45.1 C701.2 44.9 700.8 44.1 700.8 43.9 C700.8 43.7 701.4 43 701.6 42.8 C701.9 42.6 703.2 42.2 703.6 42.1 C704.1 42.1 705.8 42 706.3 42.1 C706.8 42.1 708.5 42.5 708.9 42.6 C709.4 42.8 710.5 43.4 710.8 43.6 C711 43.8 711.4 44.6 711.4 44.8Z" fill="#545454"/>
<path d="M625.6 35.6 C625.5 35.9 625 36.7 624.7 36.9 C624.5 37.1 623.4 37.5 623 37.6 C622.6 37.7 621.2 37.7 620.7 37.6 C620.3 37.5 619 37 618.6 36.8 C618.3 36.6 617.4 35.8 617.2 35.5 C617 35.3 616.8 34.3 616.9 34 C616.9 33.8 617.4 33 617.7 32.7 C618 32.5 619.1 32.1 619.5 32 C619.9 31.9 621.3 31.9 621.7 32 C622.1 32.1 623.5 32.6 623.8 32.8 C624.2 33 625.1 33.8 625.2 34.1 C625.4 34.4 625.6 35.3 625.6 35.6Z" fill="#545454"/>
<path d="M845.1 160.9 C847 160.1 855 159.9 857.6 159.9 C860.2 159.8 869.1 159.9 871.2 160.5 C873.3 161.1 876.7 165.5 878.5 166.1 C880.3 166.8 887 167 889 167.2 C891 167.3 896.8 167 898.4 167.6 C899.9 168.2 903.6 172.1 904.6 173.4 C905.7 174.8 908.6 179.2 908.8 180.8 C909 182.3 907.7 187.7 906.7 189.1 C905.8 190.6 901.2 194.3 899.4 195.4 C897.6 196.4 891.1 198.9 889 199.6 C886.9 200.2 879.9 201.3 878.5 201.7 C877.2 202 876.2 202.8 875.4 202.7 C874.6 202.6 872.1 201.2 870.2 201 C868.2 200.8 857.8 201.3 855.5 200.6 C853.2 199.9 848.5 195.9 847.2 194.3 C845.8 192.8 842.8 186.8 841.9 184.9 C841.1 183.1 839.2 177.2 838.8 175.5 C838.5 173.9 837.8 169.7 838.4 168.2 C839 166.8 843.2 161.7 845.1 160.9Z" fill="#545454"/>
<path d="M845.8 162.3 C844 163.1 840.5 167.5 839.9 168.8 C839.4 170.1 840 173.7 840.3 175.2 C840.6 176.8 842.5 182.5 843.3 184.3 C844.1 186.1 847.1 191.9 848.3 193.3 C849.6 194.8 853.8 198.5 856 199.1 C858.3 199.7 868.4 199.3 870.3 199.5 C872.3 199.7 873.6 201.3 875.4 201.1 C877.2 201 886.2 198.8 888.5 198.1 C890.9 197.4 896.9 195.1 898.6 194.1 C900.3 193.1 904.5 189.6 905.4 188.3 C906.3 187 907.4 182.4 907.2 181 C907 179.6 904.4 175.6 903.5 174.4 C902.5 173.2 900.3 169.7 897.8 169.1 C895.2 168.4 880.8 168.3 878.1 167.6 C875.4 166.9 872.7 162.6 870.7 162 C868.6 161.3 860.1 161.3 857.6 161.4 C855.2 161.4 847.6 161.6 845.8 162.3Z" fill="#8f8f8f"/>
<path d="M846.5 163.8 C844.9 164.4 841.9 168.2 841.5 169.3 C841 170.4 841.5 173.5 841.8 175 C842.1 176.4 843.9 182 844.7 183.7 C845.5 185.5 848.3 190.9 849.5 192.3 C850.7 193.7 854.5 197.1 856.6 197.6 C858.7 198.2 868.6 197.9 870.5 198.1 C872.4 198.2 873.6 199.7 875.4 199.5 C877.1 199.4 885.9 197.4 888.1 196.7 C890.4 196 896.3 193.7 897.8 192.8 C899.4 191.9 903.3 188.6 904.1 187.5 C904.8 186.3 905.8 182.4 905.6 181.2 C905.4 180 903.1 176.4 902.3 175.3 C901.4 174.3 899.6 171.2 897.1 170.5 C894.7 169.9 880.4 169.7 877.7 169 C875 168.3 872.1 164 870.1 163.4 C868.1 162.8 860 162.8 857.7 162.9 C855.3 162.9 848.1 163.1 846.5 163.8Z" fill="#c8c8c8"/>
<path d="M844 169.3 C844.8 167.5 851 166.4 853.4 166.1 C855.8 165.8 865.8 165.7 868.1 166.1 C870.4 166.5 874.1 169.8 876.4 170.3 C878.7 170.8 888.7 170.8 891.1 171.4 C893.5 171.9 899.2 174.5 900.5 175.5 C901.7 176.6 903.6 180.4 903.6 181.8 C903.6 183.2 901.7 188 900.5 189.1 C899.2 190.3 893.3 192.6 891.1 193.3 C888.9 194 881.4 195.7 878.5 196 C875.6 196.4 864.5 197.1 861.8 196.8 C859.1 196.6 852.9 194.6 851.4 193.3 C849.8 192 846.9 186.3 846.1 183.9 C845.4 181.5 843.3 171 844 169.3Z" fill="#f2f2f2"/>
<path d="M847.2 170.3 C847.8 169.8 854.6 170.1 855.5 170.9 C856.5 171.8 855.7 177.7 856.6 178.7 C857.4 179.6 862.1 180.5 863.9 180.8 C865.7 181 872.8 181 874.3 181.4 C875.8 181.7 878.7 183.5 878.9 184.3 C879.1 185.1 877.5 188.4 876.4 189.1 C875.3 189.9 869.7 191.5 868.1 191.8 C866.4 192.1 861.1 192.6 859.7 192.3 C858.4 191.9 855.3 189.1 854.5 188.1 C853.6 187 851.9 183.1 851.4 181.8 C850.8 180.5 849.7 176.7 849.3 175.5 C848.8 174.4 846.5 170.8 847.2 170.3Z" fill="#a3cce3"/>
<path d="M928.7 159.9 C929.9 158.9 935.6 157.7 937 157.8 C938.5 157.9 942.5 159.8 943.3 160.9 C944.1 162 944.7 168.3 945.4 169.3 C946.1 170.2 949.5 170.6 950.6 170.3 C951.8 170.1 955.5 167.1 956.9 166.8 C958.3 166.4 962.9 166.6 964.2 167.2 C965.6 167.7 969.3 171.2 970.5 172.4 C971.6 173.5 974.9 177.8 975.7 178.7 C976.5 179.5 977.7 181 978.8 180.8 C980 180.5 985.7 177.4 987.2 176.6 C988.7 175.7 991.8 172.9 993.5 172.4 C995.1 171.9 1002 171.6 1003.9 171.8 C1005.8 172 1010.6 174.3 1012.3 174.5 C1014 174.7 1019.3 173 1020.6 173.4 C1022 173.9 1025 177.5 1025.9 178.7 C1026.7 179.8 1029 183.8 1029 184.9 C1029 186.1 1026.9 189.2 1025.9 190.2 C1024.8 191.1 1020.1 193.5 1018.6 194.3 C1017 195.2 1011.9 197.6 1010.2 198.5 C1008.5 199.5 1003.3 202.8 1001.8 203.7 C1000.4 204.7 997 207.4 995.6 207.9 C994.1 208.4 988.9 209.3 987.2 209 C985.5 208.7 980.1 205.4 978.8 204.8 C977.6 204.2 975.9 202.9 974.7 202.7 C973.4 202.5 968 202.6 966.3 202.7 C964.6 202.8 959.6 203.2 957.9 203.7 C956.3 204.3 951.3 206.9 949.6 207.9 C947.9 209 942.9 213.2 941.2 214.2 C939.6 215.2 934.3 217.6 932.9 218.4 C931.4 219.1 928.1 221.4 926.6 221.5 C925.1 221.6 919.9 220.2 918.2 219.4 C916.6 218.7 911 215.5 909.9 214.2 C908.7 212.9 906.9 208.4 906.7 206.9 C906.5 205.3 907.4 200.3 907.8 198.5 C908.2 196.7 910.2 190.9 910.9 189.1 C911.6 187.3 914.2 182.2 915.1 180.8 C916 179.3 919.4 175.8 920.3 174.5 C921.3 173.1 923.7 168.6 924.5 167.2 C925.3 165.7 927.4 160.8 928.7 159.9Z" fill="#545454"/>
<path d="M940.6 165.1 C940.6 165.4 940.2 166.3 940 166.5 C939.7 166.8 938.7 167.5 938.3 167.6 C937.9 167.8 936.5 168 936 168 C935.5 168 934.1 167.8 933.7 167.6 C933.3 167.5 932.2 166.8 932 166.5 C931.8 166.3 931.4 165.4 931.4 165.1 C931.4 164.8 931.8 163.9 932 163.6 C932.2 163.4 933.3 162.7 933.7 162.5 C934.1 162.4 935.5 162.2 936 162.2 C936.5 162.2 937.9 162.4 938.3 162.5 C938.7 162.7 939.7 163.4 940 163.6 C940.2 163.9 940.6 164.8 940.6 165.1Z" fill="#8f8f8f"/>
<path d="M915.1 181.8 C916.1 180.3 920.2 176.2 922.4 175.5 C924.6 174.9 933.9 175.5 937 175.1 C940.2 174.7 951 171.7 953.8 171.4 C956.5 171 962.6 170.7 964.2 171.4 C965.8 172 968.4 176.5 969.4 177.6 C970.5 178.8 973.1 182.5 974.7 182.8 C976.2 183.2 983 181.4 985.1 180.8 C987.2 180.1 993.3 176.5 995.6 175.9 C997.9 175.4 1005.8 175.4 1008.1 175.5 C1010.4 175.7 1017 176.8 1018.6 177.6 C1020.1 178.5 1023.8 182.5 1023.8 183.9 C1023.8 185.2 1020.1 190 1018.6 191.2 C1017 192.5 1010 195.4 1008.1 196.4 C1006.2 197.5 1001.4 200.7 999.7 201.7 C998.1 202.6 993.1 205.5 991.4 205.8 C989.7 206.1 984.7 205.4 983 204.8 C981.4 204.2 976.5 200.1 974.7 199.6 C972.8 199 966.3 199.3 964.2 199.6 C962.1 199.9 955.6 201.9 953.8 202.7 C951.9 203.5 947.3 206.8 945.4 207.9 C943.5 209.1 937 213.2 935 214.2 C932.9 215.2 926.4 218.2 924.5 218.4 C922.6 218.6 917.6 217.1 916.1 216.3 C914.7 215.5 910.5 211.6 909.9 210 C909.2 208.4 909.2 202.6 909.5 200.6 C909.7 198.6 911.4 192 912 190.2 C912.5 188.3 914.1 183.3 915.1 181.8Z" fill="#8f8f8f"/>
<path d="M918.2 178.7 C919.8 177.2 926.4 175.8 928.7 175.5 C931 175.3 938.7 176.1 941.2 175.9 C943.7 175.8 951.7 174.4 953.8 174.5 C955.9 174.5 960.9 175.6 962.1 176.6 C963.4 177.5 966.3 182.4 966.3 183.9 C966.3 185.4 963.2 189.7 962.1 191.2 C961.1 192.7 957.3 197.2 955.9 198.5 C954.4 199.9 949.2 203.5 947.5 204.8 C945.8 206 941 209.9 939.1 211.1 C937.3 212.2 930.8 215.9 928.7 216.3 C926.6 216.7 920 216 918.2 215.2 C916.5 214.5 911.7 210.4 910.9 209 C910.1 207.5 910.1 202.5 910.3 200.6 C910.5 198.7 912.2 192.4 913 190.2 C913.8 188 916.7 180.1 918.2 178.7Z" fill="#c8c8c8"/>
<path d="M978.8 188.1 C979.8 186.8 985.3 183.7 987.2 182.8 C989.1 182 995.6 180.1 997.7 179.7 C999.7 179.3 1006.1 178.5 1008.1 178.7 C1010.1 178.9 1016.3 181.1 1017.5 181.8 C1018.8 182.5 1021 184.9 1020.6 186 C1020.3 187 1015.8 191.1 1014.4 192.3 C1012.9 193.4 1007.7 196.4 1006 197.5 C1004.3 198.5 999.3 202 997.7 202.7 C996 203.4 990.9 204.9 989.3 204.8 C987.7 204.7 983.1 202.6 982 201.7 C980.8 200.7 978.1 196.7 977.8 195.4 C977.5 194 977.9 189.3 978.8 188.1Z" fill="#c8c8c8"/>
<path d="M964.2 184.9 C965.3 184.1 975.3 185.9 976.8 187 C978.2 188.2 979.9 195.6 978.8 196.4 C977.8 197.3 967.8 196.5 966.3 195.4 C964.8 194.2 963.2 185.8 964.2 184.9Z" fill="#c8c8c8"/>
<path d="M920.3 181.8 C921.8 180.8 928.3 178.9 930.8 178.7 C933.3 178.5 942.9 179.4 945.4 179.7 C947.9 180 954.7 180.8 955.9 181.8 C957 182.8 957.3 188.5 956.9 190.2 C956.5 191.8 953 197 951.7 198.5 C950.3 200.1 945.2 204.5 943.3 205.8 C941.4 207.2 935 211.4 932.9 212.1 C930.8 212.8 924.3 213.6 922.4 213.2 C920.5 212.7 915 209.3 914.1 207.9 C913.1 206.6 912.8 201.4 913 199.6 C913.2 197.7 915.4 190.9 916.1 189.1 C916.9 187.3 918.9 182.8 920.3 181.8Z" fill="#f2f2f2"/>
<path d="M979.9 190.2 C980.8 189 987.3 185.7 989.3 184.9 C991.3 184.2 997.9 183 999.7 182.8 C1001.6 182.7 1006.8 183.5 1008.1 183.9 C1009.4 184.3 1012.4 186.1 1012.3 187 C1012.2 188 1008.3 192 1007.1 193.3 C1005.8 194.6 1001.3 198.6 999.7 199.6 C998.2 200.5 993 202.6 991.4 202.7 C989.8 202.8 985.2 201.2 984.1 200.6 C982.9 200 980.3 197.5 979.9 196.4 C979.5 195.4 978.9 191.3 979.9 190.2Z" fill="#f2f2f2"/>
<path d="M918.2 196.4 C919.7 195.5 926.4 192.9 928.7 192.3 C931 191.6 939.2 190.3 941.2 190.2 C943.2 190.1 947.9 190.4 948.5 191.2 C949.2 192 948.2 197.1 947.5 198.5 C946.8 200 942.7 204.7 941.2 205.8 C939.8 207 934.7 209.5 932.9 210 C931 210.5 924.2 211.4 922.4 211.1 C920.6 210.7 915.9 207.8 915.1 206.9 C914.3 205.9 913.7 202.7 914.1 201.7 C914.4 200.6 916.8 197.4 918.2 196.4Z" fill="#a3cce3"/>
<path d="M983 195.4 C983.3 194.4 988.8 191.7 990.3 191.2 C991.9 190.7 997.9 189.6 998.7 190.2 C999.5 190.7 999.1 195.3 998.7 196.4 C998.3 197.5 995.7 200.6 994.5 201 C993.4 201.4 988.4 201.2 987.2 200.6 C986.1 200 982.7 196.3 983 195.4Z" fill="#a3cce3"/>
<path d="M1021.7 170.3 C1022.4 169.5 1029.1 169.4 1031.1 169.3 C1033.1 169.2 1039.9 168.8 1041.5 169.3 C1043.2 169.7 1046.4 172.8 1047.8 173.4 C1049.3 174.1 1055 175.3 1056.2 175.9 C1057.3 176.6 1059.3 178.9 1059.3 179.7 C1059.3 180.5 1057.3 183.4 1056.2 183.9 C1055 184.4 1049.5 185 1047.8 184.9 C1046.1 184.8 1041.1 182.8 1039.5 182.8 C1037.8 182.9 1032.3 185.5 1031.1 185.6 C1029.8 185.7 1027.6 184.7 1026.9 183.9 C1026.2 183.1 1024.3 179 1023.8 177.6 C1023.3 176.3 1021 171.1 1021.7 170.3Z" fill="#545454"/>
<path d="M1025.9 174.5 C1026.9 173.9 1037.6 173.2 1039.5 173.4 C1041.3 173.6 1044.9 176 1044.7 176.6 C1044.5 177.2 1038.9 179 1037.4 179.3 C1035.8 179.6 1030.2 180.2 1029 179.7 C1027.9 179.2 1024.8 175.1 1025.9 174.5Z" fill="#8f8f8f"/>
<path d="M1020.6 198.1 C1022.2 198.1 1027.6 198.8 1029 199.6 C1030.4 200.3 1033.8 204.5 1034.2 205.8 C1034.7 207.2 1034.1 211.8 1033.6 213.2 C1033.1 214.5 1030.3 218.5 1029 219.4 C1027.7 220.4 1022.3 222.5 1020.6 222.6 C1019 222.7 1013.6 221.4 1012.3 220.5 C1010.9 219.5 1007.5 214.7 1007.1 213.2 C1006.6 211.6 1007.5 206.1 1008.1 204.8 C1008.7 203.4 1012.1 200.2 1013.3 199.6 C1014.6 198.9 1019.1 198.1 1020.6 198.1Z" fill="#545454"/>
<path d="M1020.7 199.6 C1019.2 199.6 1015.2 200.4 1014.1 200.9 C1013 201.5 1010.1 204.3 1009.5 205.5 C1009 206.7 1008.3 211.4 1008.6 212.8 C1009 214.1 1012 218.3 1013.2 219.1 C1014.4 220 1019.1 221.1 1020.6 221 C1022 220.9 1026.9 219 1028.1 218.2 C1029.2 217.3 1031.7 213.8 1032.1 212.6 C1032.6 211.4 1033.1 207.5 1032.7 206.3 C1032.3 205.2 1029.4 201.6 1028.2 200.9 C1027 200.3 1022.1 199.6 1020.7 199.6Z" fill="#8f8f8f"/>
<path d="M1027.7 210 C1027.7 210.7 1027 213 1026.6 213.7 C1026.1 214.3 1024.1 216 1023.4 216.4 C1022.6 216.7 1019.8 217.3 1019 217.3 C1018.1 217.3 1015.3 216.7 1014.6 216.4 C1013.8 216 1011.8 214.3 1011.4 213.7 C1010.9 213 1010.2 210.7 1010.2 210 C1010.2 209.3 1010.9 207 1011.4 206.4 C1011.8 205.7 1013.8 204 1014.6 203.7 C1015.3 203.3 1018.1 202.7 1019 202.7 C1019.8 202.7 1022.6 203.3 1023.4 203.7 C1024.1 204 1026.1 205.7 1026.6 206.4 C1027 207 1027.7 209.3 1027.7 210Z" fill="#c8c8c8"/>
<path d="M1023.8 210 C1023.8 210.5 1023.3 212 1023 212.4 C1022.7 212.8 1021.3 213.9 1020.7 214.2 C1020.2 214.4 1018.3 214.8 1017.7 214.8 C1017.1 214.8 1015.2 214.4 1014.7 214.2 C1014.2 213.9 1012.8 212.8 1012.5 212.4 C1012.2 212 1011.7 210.5 1011.7 210 C1011.7 209.5 1012.2 208 1012.5 207.6 C1012.8 207.2 1014.2 206.1 1014.7 205.9 C1015.2 205.6 1017.1 205.2 1017.7 205.2 C1018.3 205.2 1020.2 205.6 1020.7 205.9 C1021.3 206.1 1022.7 207.2 1023 207.6 C1023.3 208 1023.8 209.5 1023.8 210Z" fill="#f2f2f2"/>
<path d="M1020 211.1 C1020 211.2 1019.8 211.8 1019.7 212 C1019.6 212.2 1019 212.6 1018.8 212.7 C1018.5 212.8 1017.8 212.9 1017.5 212.9 C1017.3 212.9 1016.5 212.8 1016.3 212.7 C1016 212.6 1015.5 212.2 1015.3 212 C1015.2 211.8 1015 211.2 1015 211.1 C1015 210.9 1015.2 210.3 1015.3 210.1 C1015.5 210 1016 209.5 1016.3 209.4 C1016.5 209.3 1017.3 209.2 1017.5 209.2 C1017.8 209.2 1018.5 209.3 1018.8 209.4 C1019 209.5 1019.6 210 1019.7 210.1 C1019.8 210.3 1020 210.9 1020 211.1Z" fill="#a3cce3"/>
<path d="M942.9 266.4 C942.9 266.8 942.6 267.8 942.4 268.1 C942.3 268.4 941.5 269.2 941.2 269.3 C940.9 269.5 939.9 269.8 939.6 269.8 C939.2 269.8 938.2 269.5 937.9 269.3 C937.6 269.2 936.8 268.4 936.7 268.1 C936.5 267.8 936.2 266.8 936.2 266.4 C936.2 266.1 936.5 265.1 936.7 264.8 C936.8 264.5 937.6 263.7 937.9 263.6 C938.2 263.4 939.2 263.1 939.6 263.1 C939.9 263.1 940.9 263.4 941.2 263.6 C941.5 263.7 942.3 264.5 942.4 264.8 C942.6 265.1 942.9 266.1 942.9 266.4Z" fill="#545454"/>
<path d="M941.4 266.7 C941.4 266.8 941.3 267.4 941.2 267.6 C941.1 267.8 940.7 268.2 940.5 268.3 C940.3 268.4 939.7 268.5 939.6 268.5 C939.4 268.5 938.8 268.4 938.6 268.3 C938.4 268.2 938 267.8 937.9 267.6 C937.8 267.4 937.7 266.8 937.7 266.7 C937.7 266.5 937.8 265.9 937.9 265.7 C938 265.6 938.4 265.1 938.6 265 C938.8 264.9 939.4 264.8 939.6 264.8 C939.7 264.8 940.3 264.9 940.5 265 C940.7 265.1 941.1 265.6 941.2 265.7 C941.3 265.9 941.4 266.5 941.4 266.7Z" fill="#8f8f8f"/>
<path d="M1023.4 241.8 C1023.4 242 1023.2 242.7 1023.1 242.9 C1022.9 243.1 1022.4 243.7 1022.2 243.8 C1022 243.9 1021.3 244.1 1021.1 244.1 C1020.8 244.1 1020.1 243.9 1019.9 243.8 C1019.7 243.7 1019.2 243.1 1019.1 242.9 C1019 242.7 1018.8 242 1018.8 241.8 C1018.8 241.6 1019 240.8 1019.1 240.6 C1019.2 240.4 1019.7 239.9 1019.9 239.8 C1020.1 239.7 1020.8 239.5 1021.1 239.5 C1021.3 239.5 1022 239.7 1022.2 239.8 C1022.4 239.9 1022.9 240.4 1023.1 240.6 C1023.2 240.8 1023.4 241.6 1023.4 241.8Z" fill="#545454"/>
<path d="M1157.8 116.3 C1158.1 115.7 1161.6 113.1 1162.8 112.5 C1164.1 112 1169.1 110.7 1170.4 110.7 C1171.6 110.7 1174.7 112 1175.4 112.5 C1176.1 113.1 1177.5 115.7 1177.3 116.3 C1177 116.9 1173.9 118.5 1172.9 118.8 C1171.8 119.1 1167.6 119.2 1166.6 119.4 C1165.6 119.7 1163.5 121.1 1162.8 121.1 C1162.1 121 1160.2 119.3 1159.7 118.8 C1159.2 118.3 1157.5 116.9 1157.8 116.3Z" fill="#545454"/>
<path d="M1160.3 116.3 C1160.5 115.8 1164.2 114.1 1165.3 113.8 C1166.5 113.5 1170.8 113 1171.6 113.2 C1172.4 113.4 1173.7 115.2 1173.5 115.7 C1173.2 116.1 1170 117.2 1169.1 117.6 C1168.2 117.9 1165 118.9 1164.1 118.8 C1163.2 118.7 1160.2 116.8 1160.3 116.3Z" fill="#8f8f8f"/>
<path d="M1184.2 114.4 C1184.7 113.8 1188.4 113.1 1189.2 113.2 C1190 113.2 1191.9 114.5 1192.3 115 C1192.7 115.6 1193.7 118.7 1192.9 119.1 C1192.1 119.5 1185 119.5 1184.2 119.1 C1183.3 118.6 1183.7 115 1184.2 114.4Z" fill="#545454"/>
<path d="M356.9 223.8 C357.2 223 359.1 219.5 360.1 218.8 C361 218.2 365.1 217.8 366.3 217.6 C367.6 217.4 371.6 217.4 372.6 216.9 C373.6 216.5 375.5 213.7 376.4 213.2 C377.2 212.6 380.4 211.2 381.4 211.3 C382.3 211.4 385.1 213.6 385.8 214.4 C386.4 215.3 387.4 219 387.7 220.1 C387.9 221.1 388.3 224.2 388.3 225.1 C388.3 226 388.2 228.2 387.7 228.9 C387.1 229.5 383.8 231.1 382.6 231.4 C381.5 231.7 377.5 231.9 376.4 232 C375.2 232.1 372.2 232.3 371.4 232.6 C370.5 232.9 368.3 234.8 367.6 235.1 C366.8 235.4 364.7 236.1 363.8 235.8 C362.9 235.4 359.5 232.2 358.8 231.4 C358.1 230.6 357.1 228.4 356.9 227.6 C356.7 226.9 356.6 224.7 356.9 223.8Z" fill="#545454"/>
<path d="M361.3 223.8 C361.6 223.4 364.1 222.2 365.1 222 C366.1 221.8 370.2 222.3 371.4 222 C372.5 221.6 375.5 219.5 376.4 218.8 C377.2 218.2 379.4 215.8 380.1 215.7 C380.8 215.6 382.9 217.5 383.3 218.2 C383.6 218.9 384.1 221.8 383.9 222.6 C383.7 223.3 382.1 225.5 381.4 225.7 C380.6 226 377.5 225 376.4 225.1 C375.2 225.2 371.2 226.1 370.1 226.4 C369 226.6 365.9 227.6 365.1 227.6 C364.3 227.6 362.3 226.7 361.9 226.4 C361.6 226 361 224.3 361.3 223.8Z" fill="#8f8f8f"/>
<path d="M364.2 224.8 C364.2 224.9 364.1 225.3 364.1 225.3 C364 225.4 363.8 225.7 363.7 225.7 C363.6 225.8 363.3 225.9 363.2 225.9 C363.1 225.9 362.8 225.8 362.7 225.7 C362.6 225.7 362.4 225.4 362.3 225.3 C362.3 225.3 362.2 224.9 362.2 224.8 C362.2 224.7 362.3 224.4 362.3 224.3 C362.4 224.3 362.6 224 362.7 224 C362.8 223.9 363.1 223.8 363.2 223.8 C363.3 223.8 363.6 223.9 363.7 224 C363.8 224 364 224.3 364.1 224.3 C364.1 224.4 364.2 224.7 364.2 224.8Z" fill="#c8c8c8"/>
<path d="M381.1 224.1 C381.1 224.2 381 224.5 381 224.6 C380.9 224.7 380.7 224.9 380.6 225 C380.5 225 380.2 225.1 380.1 225.1 C380 225.1 379.7 225 379.6 225 C379.5 224.9 379.3 224.7 379.3 224.6 C379.2 224.5 379.1 224.2 379.1 224.1 C379.1 224 379.2 223.7 379.3 223.6 C379.3 223.5 379.5 223.3 379.6 223.2 C379.7 223.2 380 223.1 380.1 223.1 C380.2 223.1 380.5 223.2 380.6 223.2 C380.7 223.3 380.9 223.5 381 223.6 C381 223.7 381.1 224 381.1 224.1Z" fill="#c8c8c8"/>
<path d="M363.7 239 C363.6 239.3 363.1 240.1 362.9 240.3 C362.7 240.6 362 241 361.7 241.1 C361.5 241.2 360.8 241.2 360.5 241.1 C360.3 241 359.8 240.5 359.6 240.3 C359.5 240.1 359.2 239.3 359.2 239 C359.2 238.7 359.3 237.8 359.4 237.5 C359.6 237.2 360.1 236.4 360.2 236.2 C360.4 236 361.2 235.5 361.4 235.4 C361.6 235.4 362.4 235.4 362.6 235.4 C362.8 235.5 363.4 236 363.5 236.2 C363.7 236.4 363.9 237.2 363.9 237.5 C363.9 237.8 363.8 238.8 363.7 239Z" fill="#545454"/>
<path d="M360.8 257.1 C360.8 257.4 360.5 258.4 360.4 258.7 C360.2 259 359.5 259.7 359.2 259.9 C358.9 260.1 357.9 260.3 357.6 260.3 C357.2 260.3 356.2 260.1 355.9 259.9 C355.6 259.7 354.9 259 354.7 258.7 C354.6 258.4 354.3 257.4 354.3 257.1 C354.3 256.8 354.6 255.7 354.7 255.4 C354.9 255.2 355.6 254.4 355.9 254.3 C356.2 254.1 357.2 253.8 357.6 253.8 C357.9 253.8 358.9 254.1 359.2 254.3 C359.5 254.4 360.2 255.2 360.4 255.4 C360.5 255.7 360.8 256.8 360.8 257.1Z" fill="#545454"/>
<path d="M358.8 257.1 C358.8 257.2 358.7 257.5 358.6 257.6 C358.6 257.7 358.3 257.9 358.2 257.9 C358.1 258 357.7 258.1 357.6 258.1 C357.4 258.1 357 258 356.9 257.9 C356.8 257.9 356.5 257.7 356.5 257.6 C356.4 257.5 356.3 257.2 356.3 257.1 C356.3 257 356.4 256.7 356.5 256.6 C356.5 256.5 356.8 256.3 356.9 256.2 C357 256.2 357.4 256.1 357.6 256.1 C357.7 256.1 358.1 256.2 358.2 256.2 C358.3 256.3 358.6 256.5 358.6 256.6 C358.7 256.7 358.8 257 358.8 257.1Z" fill="#8f8f8f"/>
<path d="M422.8 196.9 C423.5 197 426.1 199.4 426.5 200 C426.9 200.6 427.4 203.2 427.8 203.8 C428.2 204.4 430.8 206.3 431.5 206.9 C432.3 207.5 435.7 211 436.6 211.3 C437.4 211.6 440.8 210.5 441.6 210.7 C442.3 210.9 444.9 213.2 445.3 213.8 C445.8 214.4 446.2 217.2 446.6 217.6 C447 218 449.6 218.4 450.4 218.8 C451.1 219.2 454.5 222 455.4 222.6 C456.2 223.2 459.6 225.3 460.4 225.7 C461.2 226.2 464.5 228 465.4 228.2 C466.3 228.5 470.7 228.7 471.7 228.9 C472.6 229.1 476.1 230.2 476.7 230.7 C477.3 231.3 478.6 234.5 478.6 235.1 C478.5 235.8 476.4 238.2 476.1 238.9 C475.8 239.6 474.7 243.2 474.8 243.9 C475 244.6 477.2 246.7 477.9 247 C478.7 247.4 483.2 247.7 484.2 247.7 C485.3 247.6 489.6 246.5 490.5 246.4 C491.4 246.3 494.4 246.2 495.2 246.4 C496 246.6 499.4 248.3 500.2 248.3 C501 248.2 504.3 246.2 505.2 245.8 C506.2 245.4 510.6 243.8 511.5 243.3 C512.3 242.7 514.7 239.7 515.2 238.9 C515.8 238.1 517.3 234.6 517.8 233.9 C518.2 233.1 520.3 230 520.9 229.5 C521.5 228.9 524.6 226.9 525.3 227 C526 227 528.4 229.5 529 230.1 C529.7 230.7 532.1 233.4 532.8 233.9 C533.5 234.3 537 235.2 537.8 235.1 C538.7 235.1 542 233.5 542.8 233.2 C543.7 232.9 547 231.6 547.9 231.4 C548.7 231.1 552 230.7 552.9 230.7 C553.7 230.7 557.1 230.8 557.9 231.1 C558.7 231.4 561.7 233.2 562.3 233.9 C562.8 234.5 563.8 238 564.2 238.9 C564.5 239.7 566.2 243.1 566.7 243.9 C567.1 244.7 568.7 248.1 569.2 248.9 C569.6 249.7 571.8 253.1 572.3 253.9 C572.8 254.7 574.9 257.6 575.4 258.3 C576 259 578.7 261.9 579.2 262.7 C579.7 263.5 581.1 266.8 581.1 267.7 C581.1 268.6 579.9 272.6 579.5 273.2 C579.2 273.8 577.2 275.1 576.3 275.1 C575.4 275.2 569.8 273.9 568.6 273.9 C567.4 273.9 563.2 274.7 562.2 275.1 C561.2 275.6 557.7 278.1 557 279 C556.4 279.9 554.8 284.4 554.5 285.4 C554.1 286.5 553.4 290.7 553.2 291.9 C553 293 552.1 298.5 551.9 299.6 C551.7 300.7 551 304.6 550.6 305.4 C550.2 306.1 547.5 308.4 546.8 308.6 C546 308.8 542.4 308.3 541.6 307.9 C540.9 307.6 538.4 304.7 537.7 304.1 C537.1 303.4 534.5 300.7 533.9 300.2 C533.2 299.8 530.6 298.8 530 298.9 C529.4 299.1 527.2 301.4 526.8 302.2 C526.5 303 525.9 307.5 525.9 308.6 C525.9 309.7 526.2 314 526.4 315 C526.7 316 528.2 319.9 528.7 320.8 C529.3 321.7 531.9 324.8 532.6 325.3 C533.4 325.8 537.1 326.8 537.7 326.6 C538.4 326.4 540.6 324.1 541 323.4 C541.3 322.6 541.4 318.4 541.6 317.6 C541.8 316.8 542.5 314.2 542.9 313.7 C543.3 313.2 546.1 311.9 546.8 311.8 C547.4 311.7 550.6 312 551.3 312.4 C552 312.9 554.6 316 555.1 316.9 C555.6 317.9 557.3 322.9 557.7 324 C558.1 325.1 559.2 329.3 559.6 330.5 C560 331.6 561.8 336.9 562.2 338.2 C562.6 339.5 563.9 344.7 564.1 345.9 C564.4 347.1 565.4 351.3 565 352.3 C564.6 353.4 560 357.5 559.5 358.5 C558.9 359.6 558.2 364 558.4 364.8 C558.6 365.6 561.5 367.1 561.5 367.9 C561.6 368.8 559.7 373.9 559.5 375.2 C559.2 376.5 558.4 382.4 558.4 383.6 C558.4 384.8 559.5 388.8 559.5 389.9 C559.4 390.9 557.5 395.5 557.4 396.1 C557.3 396.8 558.8 397 558.2 397.2 C557.6 397.4 551.4 398.5 550.2 398.7 C549.1 398.9 544.9 398.8 544.4 399.4 C544 400 545.3 404.8 545.2 405.9 C545 407.1 543.2 411.9 543 413.2 C542.8 414.4 542.3 419.2 542.3 420.4 C542.3 421.6 543.1 426.4 543 427.6 C542.9 428.8 541.7 433.7 541.5 434.9 C541.4 436.1 540.7 441 540.8 442.1 C540.9 443.2 542.6 446.9 543 447.9 C543.4 448.8 544.9 452.5 545.2 453.7 C545.4 454.9 545.8 460.7 545.9 462.3 C545.9 464 552.9 473 545.9 473.9 C538.9 474.9 469 474.9 462 473.9 C455 472.9 462.4 462.9 462 461.9 C461.5 460.9 457.3 462 456.2 461.9 C455.1 461.8 450.1 461.2 448.9 460.9 C447.7 460.6 442.9 458.6 441.7 458 C440.5 457.5 435.6 455.1 434.5 454.4 C433.4 453.7 429.5 450.4 428.7 449.3 C427.8 448.3 425.1 443.4 424.3 442.1 C423.6 440.8 421 434.8 420 433.4 C419 432 413.5 426.4 412.7 425 C411.8 423.5 410.2 417 409.9 415.6 C409.6 414.2 409.1 409.5 408.9 408.1 C408.7 406.7 407.8 400.3 407.6 398.7 C407.5 397.2 407.3 390.9 407.1 389.4 C406.8 387.8 404.1 379.6 404.3 380 C404.4 380.4 408.7 393.8 409 394.1 C409.3 394.4 408.3 385.3 407.9 383.6 C407.6 381.9 405.6 374.5 404.8 373.2 C404 371.8 399.7 367.9 398.5 366.9 C397.3 365.8 391.6 361.6 390.2 360.6 C388.8 359.7 383 356.3 381.8 355.4 C380.6 354.5 376.2 351.3 375.5 350.2 C374.8 349 374.3 342.9 373.4 341.8 C372.6 340.7 366.5 337.4 365.1 336.6 C363.7 335.7 357.9 332.5 356.7 331.4 C355.6 330.2 352.1 324.6 351.5 323 C350.9 321.4 349.6 313.9 349.4 312.5 C349.2 311.2 349.3 308.5 349.4 307 C349.5 305.5 349.8 296.1 350.5 294.5 C351.1 292.9 355.5 289.5 356.7 288.2 C357.9 287 363.7 280.9 365.1 279.9 C366.5 278.8 372 276 373.4 275.7 C374.8 275.3 380.7 275.3 381.8 275.7 C382.9 276 386.2 279.1 387 279.9 C387.9 280.7 391.4 284.5 392.3 285.1 C393.1 285.7 396.6 287.3 397.5 287.2 C398.3 287.1 401.9 284.8 402.7 284.1 C403.5 283.3 406.3 278.9 406.9 277.8 C407.5 276.6 409.6 271.7 410 270.5 C410.5 269.2 411.9 263.6 412.1 263.2 C412.3 262.7 412.2 265.4 412.1 265.2 C412.1 265.1 411.8 262.1 411.5 261.5 C411.1 260.8 408.5 258.2 407.7 257.7 C407 257.2 403.3 255.8 402.7 255.2 C402.1 254.6 400 251.2 400.2 250.2 C400.4 249.1 404.2 244.5 404.6 242.7 C405 240.8 404.8 229 405.2 227.6 C405.6 226.2 408.5 226.5 409 226.4 C409.5 226.2 411.1 226.2 411.5 226.4 C411.8 226.5 413.2 227.7 413.4 228.2 C413.6 228.8 413.7 232.1 414 232.6 C414.3 233.1 416 234.5 416.5 234.5 C417 234.6 419.7 233.7 420.3 233.2 C420.8 232.8 422.7 230.1 422.8 229.5 C422.9 228.9 421.7 227 421.5 226.4 C421.4 225.7 421 222.2 420.9 221.3 C420.8 220.4 420.5 216.5 420.3 215.7 C420 214.9 418.3 211.9 417.8 211.3 C417.2 210.7 414.5 209.4 414 208.8 C413.5 208.2 411.5 205.1 411.5 204.4 C411.4 203.7 412.8 201.1 413.4 200.6 C413.9 200.2 417 199.1 417.8 198.8 C418.5 198.4 422 196.8 422.8 196.9Z" fill="#545454"/>
<path d="M409 395.6 C409.2 397.3 411 412.9 411.4 415.3 C411.9 417.6 413.3 422.7 414.1 424.2 C414.9 425.6 420.4 431.1 421.4 432.6 C422.3 434 425 440 425.7 441.3 C426.5 442.6 429.1 447.3 429.9 448.3 C430.7 449.3 434.3 452.4 435.4 453.1 C436.4 453.7 441.2 456 442.4 456.5 C443.5 457.1 448.2 459 449.4 459.3 C450.5 459.7 455.2 460.2 456.3 460.3 C457.4 460.4 462.2 460.5 462.9 460.6 C463.5 460.7 463.5 460.8 463.6 461.8 C463.6 462.7 456.8 471.4 463.6 472.3 C470.3 473.2 537.6 473.1 544.3 472.3 C551 471.5 544.3 463.9 544.3 462.4 C544.2 460.9 544 455.7 543.6 454 C543.2 452.3 539.5 443.7 539.2 442.1 C538.9 440.5 539.8 435.9 540 434.7 C540.1 433.5 541.3 428.7 541.4 427.5 C541.4 426.3 540.7 421.6 540.7 420.4 C540.7 419.2 541.2 414.2 541.4 413 C541.6 411.8 543.4 406.9 543.5 405.8 C543.7 404.6 542.8 399.8 542.9 399.1 C542.9 398.5 543 398.1 544.1 397.8 C545.2 397.6 554.6 396.7 555.8 396 C556.9 395.4 557.7 390.8 557.8 389.7 C557.9 388.7 556.8 384.6 556.8 383.4 C556.8 382.2 557.6 376.2 557.9 374.9 C558.1 373.7 559.8 369.2 559.7 368.4 C559.7 367.6 557 366 556.8 365.1 C556.7 364.3 557.3 359.4 557.9 358.3 C558.4 357.1 562.9 352.8 563.3 351.8 C563.7 350.8 562.8 347.3 562.5 346.2 C562.3 345.1 561.2 340.4 560.6 338.6 C560.1 336.8 556.7 326.3 556.2 324.5 C555.6 322.8 554.2 318.6 553.7 317.8 C553.2 316.9 551 314.3 550.4 313.9 C549.9 313.6 547.5 313.4 547 313.5 C546.5 313.5 544.5 314.5 544.2 314.9 C543.9 315.2 543.3 317.2 543.2 317.9 C543 318.7 542.7 323.3 542.4 324.1 C542 325 539.2 327.5 538.8 327.8 C538.3 328.2 537.9 328.2 537.4 328.1 C536.8 328 532.6 327.2 531.8 326.7 C530.9 326.1 528 322.6 527.4 321.7 C526.9 320.8 525.2 316.6 524.9 315.5 C524.6 314.4 524.3 309.7 524.3 308.5 C524.4 307.4 525 302.3 525.4 301.4 C525.8 300.5 528.6 298 529 297.7 C529.4 297.4 529.4 297.2 529.9 297.3 C530.4 297.4 533.8 298.1 534.8 298.9 C535.8 299.7 541.4 305.8 542.4 306.4 C543.3 307.1 545.7 307.1 546.3 306.9 C546.8 306.8 548.6 306.3 549.2 304.5 C549.7 302.7 552.4 287.2 552.9 285 C553.5 282.8 555.1 278.9 555.9 277.9 C556.6 277 560.7 274.1 561.7 273.6 C562.8 273.1 567.4 272.3 568.6 272.3 C569.8 272.2 575.2 273.5 576 273.5 C576.8 273.5 577.9 272.6 578.2 272.2 C578.5 271.7 579.4 268.5 579.4 267.8 C579.4 267.1 578.2 264.2 577.8 263.5 C577.4 262.8 575 260.4 574.1 259.2 C573.3 258.1 568.8 251.4 567.8 249.8 C566.9 248.1 563.3 240.8 562.7 239.6 C562.2 238.4 561.4 235.5 561 234.9 C560.5 234.4 558 232.9 557.4 232.7 C556.7 232.5 553.7 232.3 552.9 232.3 C552.1 232.4 549.5 232.6 548.2 232.9 C547 233.3 538.9 236.5 537.6 236.7 C536.2 236.9 533.1 235.9 532 235.3 C531 234.6 525.9 229.3 525.1 228.9 C524.3 228.5 522.5 230.2 522 230.7 C521.5 231.2 519.6 233.9 519.1 234.7 C518.7 235.4 517.1 238.9 516.6 239.8 C516 240.6 513.8 243.7 512.5 244.5 C511.2 245.4 501.8 249.3 500.8 249.8 C499.7 250.2 500.3 250 499.8 249.8 C499.3 249.7 495.7 248.2 494.9 248 C494.1 247.9 491.5 247.9 490.7 248 C489.8 248.1 485.3 249.2 484.2 249.3 C483.1 249.3 478.5 249 477.6 248.6 C476.7 248.2 473.5 245 473.2 244.2 C473 243.3 474.3 239.1 474.6 238.3 C474.9 237.6 476.7 235.5 476.8 235 C476.8 234.4 475.9 232.4 475.5 232 C475 231.6 472.2 230.6 471.3 230.4 C470.4 230.2 465.9 230 465 229.8 C464 229.5 460.8 227.9 459.5 227.1 C458.3 226.3 450.8 220.9 449.6 220.3 C448.4 219.6 446.1 219.3 445.7 218.9 C445.2 218.4 444.3 215.3 444 214.7 C443.6 214.2 441.8 212.5 441.1 212.3 C440.4 212.2 437 213.3 435.8 212.7 C434.5 212.1 427.5 205.9 426.7 204.9 C425.8 203.9 425.5 201.5 425.2 201 C424.8 200.4 423.3 198.6 422.5 198.7 C421.6 198.8 415.3 201.4 414.5 201.9 C413.8 202.4 413.2 203.9 413.3 204.4 C413.4 204.8 414.7 207.2 415.2 207.7 C415.7 208.2 418.4 209.6 419 210.3 C419.5 210.9 421.4 213.9 421.8 215.2 C422.1 216.5 422.9 224.7 423.1 225.9 C423.3 227.2 424.5 228.9 424.4 229.7 C424.2 230.4 422 233.9 421.3 234.5 C420.6 235 417.1 236.2 416.4 236.1 C415.7 236 413.1 234.2 412.7 233.6 C412.3 233 412 229.5 411.9 229 C411.7 228.5 411 228 410.8 228 C410.6 227.9 409.6 227.9 409.2 228 C408.9 228 407 227.5 406.8 228.8 C406.5 230 406.5 241.2 406.1 243 C405.7 244.8 402.2 249.3 402 250.2 C401.8 251.2 403.3 253.5 403.9 254 C404.5 254.5 408 255.9 408.7 256.5 C409.5 257 412.3 259.7 412.7 260.5 C413.1 261.2 413.6 264.6 413.7 265 C413.7 265.3 413.4 264.5 413.2 265 C413.1 265.5 411.9 270 411.5 271.1 C411.1 272.2 408.9 277.5 408.2 278.7 C407.6 279.8 404.7 284.4 403.8 285.3 C402.8 286.1 398.4 288.7 397.4 288.8 C396.3 288.9 392.3 287.1 391.4 286.4 C390.4 285.8 386.8 281.8 386 281.1 C385.1 280.3 382.3 277.6 381.2 277.3 C380.2 277 375.1 277 373.8 277.3 C372.6 277.6 367.8 279.7 366 281.2 C364.2 282.7 353.2 293.1 352 295.2 C350.7 297.4 351.1 305.7 351 307.1 C350.9 308.5 350.8 311.1 351 312.4 C351.2 313.7 352.4 320.9 353 322.4 C353.6 323.9 356.1 328.7 357.9 330.2 C359.7 331.7 372.9 339 374.5 340.6 C376.1 342.2 376.3 348.1 377 349.3 C377.6 350.4 381.6 353.2 382.7 354.1 C383.9 354.9 389.7 358.4 391.1 359.3 C392.5 360.3 398.2 364.5 399.5 365.6 C400.7 366.7 405.3 370.8 406.1 372.3 C407 373.8 409.1 381.6 409.5 383.4 C409.9 385.3 410.5 393.1 410.6 394 C410.6 395 410.2 395 410.1 395.2 C410 395.3 408.9 394 409 395.6Z" fill="#8f8f8f"/>
<path d="M410.7 396.7 C410.8 398.3 412.6 412.7 413 414.9 C413.4 417.1 414.7 422 415.6 423.4 C416.4 424.8 421.8 430.3 422.7 431.7 C423.7 433.2 426.4 439.3 427.1 440.5 C427.9 441.8 430.4 446.3 431.2 447.2 C431.9 448.2 435.3 451.1 436.3 451.7 C437.3 452.4 441.9 454.6 443 455.1 C444.1 455.6 448.7 457.5 449.8 457.8 C450.9 458.1 455.4 458.6 456.4 458.7 C457.4 458.8 461.7 458.7 462.3 458.7 C462.9 458.8 463.5 459.1 463.7 459.3 C463.9 459.4 464.7 460.2 464.8 460.4 C464.9 460.6 465.1 460.7 465.1 461.6 C465.2 462.5 458.7 470 465.2 470.7 C471.6 471.5 536.2 471.4 542.7 470.7 C549.1 470 542.7 463.8 542.7 462.5 C542.6 461.1 542.4 456.1 542 454.4 C541.6 452.7 537.9 443.7 537.6 442.1 C537.3 440.4 538.2 435.8 538.4 434.5 C538.5 433.3 539.7 428.6 539.8 427.5 C539.8 426.3 539.1 421.6 539.1 420.4 C539.1 419.2 539.6 414.1 539.8 412.8 C540 411.6 541.8 406.8 541.9 405.6 C542 404.5 541.3 399.5 541.3 398.8 C541.3 398.1 541.7 397.6 541.9 397.4 C542.1 397.2 542.4 396.6 543.4 396.4 C544.5 396.1 553.4 395.2 554.5 394.7 C555.5 394.1 556.1 390.6 556.2 389.6 C556.2 388.7 555.2 384.5 555.2 383.2 C555.2 382 556.1 375.8 556.3 374.6 C556.5 373.4 558 369.5 557.9 368.9 C557.9 368.2 555.8 366.7 555.6 366.3 C555.4 365.9 555.2 365 555.3 364.3 C555.3 363.5 556 358.2 556.6 357.1 C557.1 356.1 561.3 352.2 561.6 351.3 C562 350.4 561.2 347.5 561 346.5 C560.8 345.5 559.6 340.9 559.1 339.1 C558.6 337.3 555.2 326.7 554.6 325 C554.1 323.3 552.7 319.4 552.3 318.6 C551.9 317.8 550 315.7 549.6 315.4 C549.2 315.2 547.6 315.1 547.3 315.1 C546.9 315.2 545.7 315.7 545.5 316 C545.3 316.3 544.9 317.6 544.8 318.3 C544.6 319 544.3 323.7 543.9 324.6 C543.5 325.5 540.1 328.8 539.5 329.3 C538.9 329.7 537.9 329.8 537.3 329.8 C536.7 329.7 532.4 328.6 531.8 328.4 C531.2 328.2 530.7 327.9 530.2 327.4 C529.7 326.9 526.3 323 525.8 322 C525.2 321 523.5 316.7 523.3 315.6 C523 314.5 522.7 309.7 522.7 308.5 C522.8 307.2 523.6 301.6 524 300.6 C524.5 299.6 527.6 296.9 528 296.5 C528.5 296.1 529.2 295.8 529.5 295.8 C529.7 295.7 530.2 295.7 530.7 295.8 C531.2 296 534.4 296.7 535.4 297.4 C536.5 298.2 542.2 304.3 543.1 304.9 C544 305.6 545.4 305.3 545.8 305.2 C546.2 305.1 547.3 305.3 547.7 303.6 C548.2 301.9 550.8 286.8 551.4 284.5 C552 282.3 553.9 277.9 554.7 276.8 C555.5 275.8 560.1 272.6 561.3 272.1 C562.4 271.6 567.4 270.7 568.6 270.7 C569.8 270.6 575 271.8 575.7 271.8 C576.4 271.8 576.6 271.5 576.8 271.1 C577 270.8 577.8 268.4 577.7 267.9 C577.7 267.3 576.8 265 576.4 264.4 C576 263.7 573.7 261.3 572.8 260.2 C572 259 567.4 252.3 566.5 250.6 C565.5 248.9 561.9 241.5 561.3 240.3 C560.7 239.1 560 236.5 559.7 236 C559.3 235.5 557.4 234.4 556.9 234.2 C556.3 234.1 553.6 233.9 552.9 233.9 C552.3 234 549.8 234.1 548.6 234.5 C547.5 234.8 539.9 237.8 538.9 238.1 C538 238.4 538 238.4 537.4 238.3 C536.7 238.2 532.3 237.3 531.2 236.6 C530.2 236 525.6 231.2 524.9 230.8 C524.3 230.4 523.5 231.5 523.1 231.9 C522.7 232.3 520.9 234.8 520.5 235.5 C520.1 236.2 518.5 239.8 517.9 240.6 C517.3 241.5 514.9 244.9 513.5 245.8 C512.1 246.7 502.5 250.8 501.3 251.3 C500.2 251.7 499.9 251.5 499.4 251.4 C498.8 251.2 495.3 249.7 494.6 249.6 C493.9 249.5 491.7 249.5 490.8 249.6 C489.9 249.7 485.3 250.8 484.2 250.9 C483.1 250.9 478 250.3 477.3 250.2 C476.6 250.1 476.3 249.9 475.9 249.5 C475.5 249.2 472.9 246.6 472.6 246.2 C472.2 245.7 471.6 245.1 471.7 244.4 C471.7 243.7 472.8 238.6 473.1 237.8 C473.3 237 474.8 235.2 475 234.8 C475.1 234.4 474.6 233.5 474.3 233.3 C474 233 471.8 232.2 470.9 232 C470.1 231.8 465 231.4 464 231.1 C463 230.8 460 229.2 458.7 228.4 C457.4 227.7 450 222.4 448.9 221.7 C447.7 221 445.1 220.4 444.7 220.2 C444.3 219.9 443.9 219.3 443.7 218.9 C443.5 218.5 442.9 216.1 442.6 215.7 C442.3 215.3 441.1 214.1 440.6 214 C440.1 213.9 437.1 214.5 436.7 214.5 C436.2 214.5 435.9 214.8 434.9 214.1 C434 213.4 426.4 207.1 425.5 206 C424.6 205 424.1 202.4 423.8 201.9 C423.5 201.4 422.8 200.4 422.2 200.5 C421.5 200.6 416.3 202.8 415.7 203.1 C415.1 203.4 415.1 204 415.1 204.3 C415.2 204.6 416 206.1 416.4 206.6 C416.8 207 419.6 208.6 420.2 209.2 C420.8 209.9 422.8 213 423.2 214.4 C423.6 215.8 424.4 224.3 424.6 225.5 C424.9 226.8 425.9 229.3 426 229.8 C426 230.3 425.7 230.8 425.4 231.3 C425.1 231.8 423.1 235.2 422.3 235.7 C421.6 236.2 417.2 237.6 416.6 237.7 C416 237.8 415.3 237.5 414.8 237.2 C414.4 237 411.8 235.2 411.4 234.5 C411 233.9 410.4 229.9 410.2 229.6 C409.9 229.2 408.5 228.8 408.3 229.9 C408.1 231.1 408.1 241.7 407.7 243.4 C407.3 245.1 404 249.5 403.8 250.3 C403.6 251.1 404.6 252.4 405.1 252.8 C405.6 253.2 409 254.7 409.7 255.2 C410.5 255.8 413.6 259 414 259.4 C414.4 259.9 414.5 260.2 414.6 260.6 C414.7 261.1 415.4 263.8 415.3 264.7 C415.1 265.6 413.4 270.5 413 271.7 C412.5 273 410.2 278.3 409.5 279.6 C408.9 280.8 405.7 285.6 404.8 286.5 C403.9 287.3 399.7 289.6 399.1 289.9 C398.5 290.3 398.3 290.6 397.6 290.4 C396.8 290.2 391.5 288.4 390.5 287.8 C389.4 287.1 385.7 283 384.9 282.3 C384.1 281.5 381.6 279.2 380.7 278.9 C379.8 278.6 375.3 278.6 374.2 278.9 C373.1 279.2 368.7 281.1 367 282.5 C365.3 283.9 354.7 293.9 353.5 295.9 C352.3 298 352.7 305.8 352.6 307.2 C352.5 308.5 352.4 311 352.6 312.2 C352.8 313.4 354 320.4 354.5 321.8 C355.1 323.2 357.3 327.6 359 329 C360.8 330.5 374.2 338.5 375.6 339.5 C377.1 340.4 376.2 340 376.5 340.7 C376.7 341.5 377.8 347.4 378.4 348.4 C379 349.4 382.5 352 383.7 352.8 C384.8 353.6 390.7 357.1 392.1 358.1 C393.5 359 399.2 363.2 400.4 364.3 C401.7 365.4 406.6 369.8 407.5 371.4 C408.3 373 410.7 381.4 411.1 383.3 C411.5 385.2 412.1 393 412.2 394 C412.2 395.1 411.9 395.3 411.8 395.5 C411.7 395.8 410.6 395.1 410.7 396.7Z" fill="#c8c8c8"/>
<path d="M409.9 235.5 C409.5 235.9 409.8 242.6 409.4 243.8 C409.1 245.1 406.1 249.7 405.9 250.4 C405.6 251 406 251.2 406.4 251.5 C406.8 251.8 410.1 253.2 410.9 253.8 C411.6 254.4 414.9 257.8 415.4 258.3 C415.8 258.8 416.2 259.6 416.3 260.1 C416.4 260.6 417 264 417 264.4 C417.1 264.8 416.5 264.4 416.5 264.5 C416.5 264.5 417.1 263.9 416.9 264.5 C416.8 265.2 415.1 271.1 414.6 272.4 C414.1 273.8 411.8 279.3 411 280.6 C410.3 281.8 406.9 286.9 406 287.8 C405 288.7 400.3 291.4 399.6 291.7 C398.9 292.1 398 292.2 397.6 292.2 C397.3 292.2 396.3 292.1 395.6 291.8 C394.9 291.6 390.8 290.2 389.5 289.3 C388.2 288.3 381.3 281.4 380 280.7 C378.8 280 375.6 280.4 374.6 280.7 C373.6 281 369.7 282.6 368 284 C366.4 285.3 356.4 294.4 355.3 296.7 C354.1 299.1 354.3 310 354.4 312 C354.5 314.1 355.7 319.8 356.2 321.1 C356.7 322.4 358.6 326.3 360.3 327.7 C362.1 329.2 375.7 337.5 377.2 338.5 C378.7 339.5 377.9 339.4 378.2 340.1 C378.4 340.9 379.4 346.4 380 347.4 C380.5 348.3 383.6 350.6 384.7 351.3 C385.8 352.1 391.8 355.6 393.2 356.6 C394.6 357.6 400.2 361.7 401.5 362.9 C402.8 364 408 368.7 409 370.4 C409.9 372 412.4 380.7 412.8 382.6 C413.2 384.6 414 392.7 414 394 C414 395.3 412.5 396.5 412.6 398.2 C412.7 399.9 414.4 412.5 414.8 414.6 C415.2 416.6 416.4 421.1 417.2 422.5 C418 423.8 423.3 429.4 424.3 430.8 C425.2 432.2 428 438.4 428.7 439.7 C429.4 441 431.9 445.2 432.6 446.1 C433.3 447 435.8 449.4 437.3 450.2 C438.8 451 448.6 455.5 450.2 456 C451.8 456.6 455.5 456.8 456.5 456.9 C457.5 457 461.8 456.9 462.5 456.9 C463.1 457 464.4 457.6 464.7 457.8 C465 457.9 465.9 458.9 466.1 459.1 C466.3 459.4 466.8 460.1 466.9 460.9 C466.9 461.8 460.8 468.3 467 468.9 C473.1 469.6 534.8 470.1 540.9 468.9 C547 467.7 540.7 457 540.2 454.8 C539.8 452.5 536.1 443.8 535.8 442.1 C535.5 440.3 536.4 435.6 536.6 434.4 C536.7 433.1 537.9 428.5 537.9 427.4 C538 426.2 537.3 421.6 537.3 420.4 C537.3 419.2 537.8 413.9 538 412.7 C538.3 411.4 540 406.6 540.1 405.5 C540.2 404.3 539.5 399.3 539.5 398.5 C539.6 397.7 540.3 396.6 540.5 396.3 C540.8 396 541.4 395.1 542.4 394.8 C543.5 394.6 552.1 393.5 553.1 393.1 C554.1 392.6 554.3 390.3 554.3 389.5 C554.3 388.6 553.4 384.3 553.4 383 C553.5 381.7 554.3 375.4 554.6 374.2 C554.8 373.1 556 370 555.9 369.4 C555.9 368.8 554 367.2 553.8 366.8 C553.6 366.3 553.4 364.8 553.5 364 C553.6 363.1 554.4 357.5 554.9 356.4 C555.5 355.3 559.5 352.1 559.7 350.7 C559.9 349.3 558.1 342.2 557.4 339.6 C556.6 337 551.4 321.4 550.7 319.5 C550 317.6 549 317.3 548.7 317.1 C548.4 316.9 547.3 316.6 547 317.3 C546.7 318 545.9 324.6 545.4 325.8 C544.8 326.9 540.7 330.6 540 331 C539.3 331.5 537.9 331.7 537 331.5 C536.2 331.4 531 330.2 530 329.6 C528.9 328.9 525.3 324.7 524.6 323.6 C523.9 322.5 521.9 317.7 521.6 316.4 C521.3 315.1 520.9 309.7 520.9 308.4 C520.9 307.2 521.7 302.3 521.9 301.5 C522 300.7 522.6 299.5 523 299 C523.4 298.4 526.4 295.5 526.9 295.1 C527.3 294.7 528.3 294.2 528.6 294.1 C529 294 530 293.8 530.6 294 C531.3 294.1 535.6 295.3 536.7 296.1 C537.8 296.9 543.2 302.6 543.9 303.2 C544.6 303.8 545 303.4 545.2 303.4 C545.4 303.3 545.7 304.2 546.1 302.6 C546.5 301 549.1 286.2 549.7 284 C550.3 281.8 552.1 277.1 553.1 276 C554 274.8 559.5 270.9 560.8 270.3 C562.1 269.8 567.3 268.9 568.5 268.9 C569.7 268.8 574.7 270 575.3 269.9 C575.9 269.8 575.9 268.3 575.8 267.9 C575.8 267.6 575.5 266.2 574.8 265.3 C574.2 264.3 568.9 257.8 568.1 256.6 C567.2 255.4 565.5 252.8 564.7 251.1 C563.9 249.5 558.9 238.5 558.2 237.2 C557.5 235.9 556.7 236.1 556.3 236 C555.8 235.9 553.6 235.7 553 235.7 C552.4 235.8 550.2 235.9 549.1 236.2 C547.9 236.6 540.5 239.5 539.6 239.8 C538.6 240.1 538.4 240.2 537.6 240.1 C536.8 240 531.4 238.8 530.3 238.2 C529.3 237.6 525.4 233.2 524.7 233 C524.1 232.9 522.5 235.7 522 236.4 C521.6 237.2 520 240.8 519.4 241.6 C518.8 242.5 516.4 245.9 514.9 246.9 C513.5 247.8 503.3 252.4 502 253 C500.7 253.5 500.1 253.4 499.4 253.2 C498.8 253.1 495 251.6 494.3 251.4 C493.6 251.3 491.8 251.3 491 251.4 C490.2 251.5 485.5 252.7 484.2 252.7 C483 252.7 477.1 252.1 476 251.7 C474.9 251.2 471.4 247.6 470.9 247.1 C470.4 246.5 470 245.1 469.9 244.7 C469.8 244.4 469.8 243.8 469.9 243.2 C470 242.6 471 238.4 471.2 237.7 C471.5 237 472.9 235 472.9 234.7 C472.8 234.3 471.3 233.9 470.5 233.8 C469.7 233.6 464.2 233 463.2 232.7 C462.1 232.4 459 230.7 457.7 230 C456.5 229.2 449.2 224 448 223.3 C446.8 222.6 444.1 221.9 443.6 221.6 C443.2 221.3 442.5 220.5 442.3 220.1 C442.1 219.7 441.2 217.1 441 216.7 C440.9 216.4 440.4 215.9 440 215.9 C439.6 215.9 436.8 216.3 436.2 216.3 C435.7 216.3 435 216.4 434 215.6 C433 214.9 425.3 208.4 424.2 207.3 C423.2 206.2 422.4 202.8 421.8 202.6 C421.2 202.3 417.6 204.2 417.2 204.4 C416.9 204.6 417.4 205 417.7 205.3 C418.1 205.6 421 207.3 421.6 208.1 C422.2 208.8 424.6 212.7 425 214.1 C425.4 215.6 426.2 223.9 426.4 225.1 C426.6 226.3 427.7 228.5 427.7 229 C427.8 229.6 427.7 230.7 427.4 231.4 C427 232.1 424.3 236.4 423.5 237.1 C422.7 237.7 418.4 239.2 417.6 239.4 C416.9 239.5 415 239.3 414.3 239 C413.7 238.7 410.3 235.1 409.9 235.5Z" fill="#f2f2f2"/>
<g clip-path="url(#bigclip)">
<path d="M415.2 201.3 C416.1 200.6 421.5 199.5 422.8 200 C424 200.5 426.7 205 427.8 206.3 C428.9 207.5 432.6 210.8 434.1 212.6 C435.6 214.3 441.2 222.5 442.8 223.8 C444.5 225.2 448.6 225.7 450.4 226.4 C452.1 227 458.4 229.5 460.4 230.1 C462.4 230.7 469 232 470.4 232.6 C471.8 233.2 473.9 235.4 474.2 236.4 C474.4 237.4 473.8 241.9 472.9 242.7 C472.1 243.4 466.9 243.9 465.4 243.9 C463.9 243.9 459.4 242.5 457.9 242.7 C456.4 242.8 451.9 244.4 450.4 245.2 C448.9 245.9 444.3 249.3 442.8 250.2 C441.3 251.1 436.8 253.4 435.3 253.9 C433.8 254.4 429.3 255.2 427.8 255.2 C426.3 255.2 421.5 254.4 420.3 253.9 C419 253.4 416.2 250.8 415.2 250.2 C414.2 249.6 411 248.4 410.2 247.7 C409.5 246.9 407.7 243.7 407.7 242.7 C407.7 241.7 409.2 238 410.2 237.6 C411.2 237.3 416.5 239.1 417.8 238.9 C419 238.6 422.3 236.4 422.8 235.1 C423.3 233.9 423 228.1 422.8 226.4 C422.5 224.6 420.8 219.2 420.3 217.6 C419.8 215.9 418.4 211.2 417.8 210 C417.1 208.9 414.2 207.2 414 206.3 C413.7 205.4 414.4 201.9 415.2 201.3Z" fill="#8f8f8f"/>
<path d="M427.8 280.1 C427.8 279.1 429.7 276.1 430.3 275.1 C430.9 274.1 433.7 271.1 434.1 270.1 C434.4 269 433.8 265.4 433.4 264.4 C433.1 263.5 431.1 261.2 430.3 260.7 C429.5 260.1 426.3 258.8 425.3 258.8 C424.3 258.7 421 260.2 420.3 260 C419.6 259.9 418.4 258.1 418.4 257.5 C418.4 257 419.3 254.9 420.3 254.4 C421.2 253.9 426.2 252.4 427.8 252.5 C429.4 252.6 434.9 254.5 436.6 255 C438.2 255.5 442.8 257 444.1 257.5 C445.3 258.1 447.7 260.2 449.1 260.7 C450.5 261.2 456.1 262.5 457.9 262.5 C459.6 262.6 465.2 261.2 466.7 261.3 C468.2 261.3 472 262.5 472.9 263.2 C473.9 263.8 475.5 266.5 476.1 267.6 C476.6 268.6 477.9 272.7 478.6 273.8 C479.3 275 481.9 278.1 483 278.8 C484 279.6 487.9 280.7 489.2 281.4 C490.5 282 495.3 283.7 496 285.1 C496.7 286.5 496.6 294.5 496 295.1 C495.5 295.8 491.7 292.1 490.5 291.4 C489.3 290.6 485.5 288.1 484.2 287.6 C483 287.1 479.1 286.4 477.9 286.4 C476.8 286.4 474.1 287.8 472.9 287.6 C471.8 287.4 467.7 284.6 466.7 284.5 C465.7 284.4 463.8 286 462.9 286.4 C462 286.7 459.1 288.1 457.9 288.2 C456.6 288.4 451.7 287.6 450.4 287.6 C449 287.7 445.2 288.6 444.1 288.9 C443 289.1 440.1 290.1 439.1 290.1 C438.1 290.1 434.9 289.4 434.1 288.9 C433.2 288.4 430.9 286 430.3 285.1 C429.7 284.2 427.8 281.1 427.8 280.1Z" fill="#c8c8c8"/>
<path d="M440 237.6 C440.8 235.7 445.9 235.7 447.5 235.7 C449.2 235.7 454.5 237.7 456.3 237.6 C458.1 237.6 463.6 235.2 465.1 235.1 C466.5 235 469.8 235.1 470.7 236.4 C471.6 237.6 473 246 473.9 247.7 C474.7 249.3 477.9 251.9 478.9 252.7 C479.9 253.4 483.8 254.6 483.9 255.2 C484 255.8 481 258.3 480.1 258.9 C479.3 259.6 476.1 261.7 475.1 261.4 C474.1 261.2 470.9 257.6 470.1 256.4 C469.3 255.3 467.7 251.2 467 250.2 C466.2 249.1 463.6 246.5 462.6 245.8 C461.5 245.1 457.6 243.5 456.3 243.3 C455 243.1 451.3 243.3 450 243.9 C448.8 244.5 444.8 247.8 443.8 248.9 C442.8 250 440.4 256.3 440 255.2 C439.6 254.1 439.2 239.6 440 237.6Z" fill="#c8c8c8"/>
<path d="M537.8 240.1 C539.7 239.4 555.4 237.2 557.9 237.6 C560.3 238 561.5 242.6 562.3 243.9 C563 245.1 564.6 248.9 565.4 250.2 C566.2 251.4 569.4 254.9 570.4 256.4 C571.5 257.9 575.6 263.8 576.1 265.2 C576.5 266.6 575.6 269.8 574.8 270.2 C574 270.7 569.4 269.5 567.9 269.6 C566.5 269.7 561.5 270.9 560.4 271.5 C559.3 272 557.5 274.4 556.6 275.2 C555.8 276.1 552.4 279.9 551.6 280 C550.9 280.1 549.1 277.7 549.1 276.5 C549.1 275.3 551 269.4 551.6 267.7 C552.2 266.1 554.7 261.4 554.7 260.2 C554.7 258.9 552.4 256.1 551.6 255.2 C550.8 254.3 547.6 251.9 546.6 251.4 C545.6 250.9 542.3 250.8 541.6 250.2 C540.8 249.5 539.4 246.1 539.1 245.1 C538.7 244.1 535.9 240.9 537.8 240.1Z" fill="#c8c8c8"/>
<path d="M492.7 262.7 C493.2 261.6 495.4 259.4 496.4 258.9 C497.4 258.5 501.4 258.2 502.7 258.3 C504 258.4 508 259.5 509 260.2 C510 260.9 512.2 264 512.7 265.2 C513.2 266.5 514.1 271.2 514 272.7 C513.9 274.2 513.6 279.5 511.5 280.3 C509.4 281 494.7 281.3 492.7 280.3 C490.7 279.3 491.4 272 491.4 270.2 C491.4 268.5 492.2 263.8 492.7 262.7Z" fill="#c8c8c8"/>
<path d="M490.2 373.9 C490.5 373.2 494.9 371.8 496.4 371.4 C497.9 371 503.6 370.4 505.2 370.1 C506.8 369.9 511.5 369.4 512.7 368.9 C514 368.4 516.5 365.8 517.8 365.1 C519 364.5 524.3 363.8 525.3 362.6 C526.3 361.5 527.5 356 527.8 353.8 C528 351.7 527.3 342.9 527.8 341.3 C528.3 339.7 530.9 337.9 532.8 337.5 C534.7 337.2 544.8 337.2 546.6 337.5 C548.4 337.9 549.7 340 550.4 341.3 C551 342.6 552.2 348.7 552.9 350.1 C553.5 351.5 556.4 353.8 556.6 355.1 C556.9 356.4 555.3 361.2 555.4 362.6 C555.4 364 557.2 367.4 557.3 368.9 C557.3 370.4 556.1 376 556 377.7 C555.9 379.3 556.9 383.7 556.6 385.2 C556.3 386.7 554.2 391.6 552.9 392.7 C551.5 393.8 544.2 395.7 542.8 396.5 C541.5 397.2 539.6 399.4 539.1 400.2 C538.6 401.1 538.9 404.8 537.8 405.3 C536.7 405.8 529 405.8 527.8 405.3 C526.5 404.8 526 401.1 525.3 400.2 C524.5 399.4 521.5 397.1 520.3 396.5 C519 395.9 514.2 394.6 512.7 394 C511.2 393.3 506.6 391.2 505.2 390.2 C503.8 389.2 500.2 385.1 498.9 383.9 C497.7 382.8 493.5 379.9 492.7 378.9 C491.8 377.9 489.8 374.7 490.2 373.9Z" fill="#c8c8c8"/>
<path d="M512 289.3 C512.8 288 517.9 286.7 519.7 286.7 C521.5 286.7 528.2 288.6 530 289.3 C531.8 289.9 535.9 292.5 537.7 293.2 C539.5 293.8 546.9 294.4 548 295.7 C549.2 297 549.6 304.5 549.3 306 C549.1 307.6 546.4 310.5 545.5 311.2 C544.6 311.8 541.9 312.3 540.3 312.4 C538.8 312.6 531.8 312.8 530 312.4 C528.2 312.1 523.6 309.2 522.3 308.6 C521 307.9 518.2 306.9 517.2 306 C516.1 305.1 512.5 301.3 512 299.6 C511.5 297.9 511.3 290.6 512 289.3Z" fill="#c8c8c8"/>
<path d="M427.8 206.3 C428.3 205.5 433.8 211.4 435.3 212.6 C436.8 213.7 441.1 216.6 442.8 217.6 C444.6 218.6 450.9 221.7 452.9 222.6 C454.9 223.5 460.9 225.6 462.9 226.4 C464.9 227.1 471.4 229.5 472.9 230.1 C474.4 230.7 477.6 231.9 477.9 232.6 C478.3 233.4 477.4 237.1 476.7 237.6 C475.9 238.2 471.8 238.4 470.4 238.3 C469 238.1 464.7 236.9 462.9 236.4 C461.1 235.8 454.6 233.1 452.9 232.6 C451.1 232.1 446.8 231.6 445.3 231.4 C443.8 231.1 439.1 230.5 437.8 230.1 C436.6 229.7 433.6 228.6 432.8 227.6 C432 226.6 430.8 222.2 430.3 220.1 C429.8 217.9 427.3 207 427.8 206.3Z" fill="#8f8f8f"/>
<path d="M435.3 271.3 C435.9 270.1 439.1 267.3 440.3 266.9 C441.6 266.6 446.3 267.4 447.9 267.6 C449.4 267.7 453.9 268.8 455.4 268.8 C456.9 268.8 461.5 267.5 462.9 267.6 C464.3 267.6 468.2 268.7 469.2 269.4 C470.2 270.2 472.2 273.9 472.9 275.1 C473.7 276.3 476.8 280.5 476.7 281.4 C476.6 282.2 472.7 283.8 471.7 283.9 C470.7 283.9 467.7 281.9 466.7 282 C465.7 282.1 462.8 284.7 461.6 285.1 C460.5 285.6 456.8 286.3 455.4 286.4 C454 286.4 449.2 285.6 447.9 285.7 C446.5 285.9 442.7 287.7 441.6 287.6 C440.5 287.6 437.3 286 436.6 285.1 C435.8 284.2 434.2 280.2 434.1 278.8 C433.9 277.5 434.7 272.5 435.3 271.3Z" fill="#8f8f8f"/>
<path d="M440 224.5 C440.8 222.8 446 224.7 447.5 225.1 C449 225.5 453.5 227.6 455 228.2 C456.6 228.8 461.1 230.9 462.6 231.4 C464.1 231.9 469.2 232.6 470.1 233.2 C471 233.9 471.9 237.4 471.4 237.6 C470.9 237.9 466.3 235.9 465.1 235.7 C463.8 235.6 460.1 235.9 458.8 236.4 C457.6 236.8 453.8 239.9 452.5 240.1 C451.3 240.4 447.5 238.8 446.3 238.9 C445 239 440.6 242.8 440 241.4 C439.4 239.9 439.2 226.1 440 224.5Z" fill="#8f8f8f"/>
<path d="M493.9 265.2 C494.4 264 496.7 261.3 497.7 260.8 C498.7 260.3 502.8 260 504 260.2 C505.1 260.4 508.8 261.8 509.6 262.7 C510.4 263.6 511.9 267.7 512.1 269 C512.3 270.2 511.8 274.1 511.5 275.2 C511.2 276.4 510.6 279.8 509 280.3 C507.3 280.8 496.7 281 495.2 280.3 C493.6 279.5 493.4 274.2 493.3 272.7 C493.2 271.2 493.5 266.4 493.9 265.2Z" fill="#8f8f8f"/>
<path d="M530.3 341.3 C530.9 340.5 533.8 338.4 535.3 338.2 C536.8 337.9 544 338.2 545.3 338.8 C546.7 339.4 548.7 342.4 549.1 343.8 C549.5 345.2 549.6 351.5 549.1 352.6 C548.6 353.7 544.7 354.1 544.1 355.1 C543.5 356.1 543.1 361.1 542.8 362.6 C542.6 364.1 542.3 369.2 541.6 370.1 C540.8 371.1 536.3 372.3 535.3 372 C534.3 371.8 532 368.8 531.5 367.6 C531.1 366.4 531.2 361.6 530.9 360.1 C530.7 358.6 529.3 354 529 352.6 C528.8 351.2 528.7 347.4 528.8 346.3 C528.9 345.2 529.6 342.1 530.3 341.3Z" fill="#8f8f8f"/>
<path d="M495.2 377.7 C495.3 376.9 498.7 375.4 500.2 375.2 C501.7 375 508.5 375.8 510.2 375.8 C512 375.8 516.6 374.7 517.8 375.2 C518.9 375.6 520.9 378.9 521.5 380.2 C522.1 381.4 523.5 386.2 524 387.7 C524.5 389.2 526.9 394.5 526.5 395.2 C526.2 396 521.6 395.5 520.3 395.2 C518.9 395 514.2 393.5 512.7 392.7 C511.2 392 506.6 388.7 505.2 387.7 C503.8 386.7 499.9 383.7 498.9 382.7 C497.9 381.7 495.1 378.4 495.2 377.7Z" fill="#8f8f8f"/>
<path d="M540.3 390.2 C541.2 389.3 545.3 387.3 546.6 386.4 C547.9 385.6 552 382.6 552.9 381.4 C553.7 380.3 554.8 374.8 555.4 375.2 C555.9 375.5 558.3 383.4 558.5 385.2 C558.7 387 557.9 391.7 557.3 392.7 C556.6 393.8 552.9 395.4 551.6 395.9 C550.3 396.3 545.1 396.7 544.1 397.1 C543.1 397.5 542 399.4 541.6 400.2 C541.2 401.1 540.7 404.8 540.3 405.3 C539.9 405.8 538.1 406.3 537.8 405.3 C537.6 404.3 537.6 396.7 537.8 395.2 C538.1 393.7 539.4 391.1 540.3 390.2Z" fill="#8f8f8f"/>
<path d="M522.3 294.4 C523.2 293.7 528.5 292.9 530 293.2 C531.6 293.4 536.2 296.4 537.7 297 C539.3 297.7 544.3 299.7 545.5 299.6 C546.6 299.5 548.8 295.1 549.3 295.7 C549.8 296.4 550.9 304.5 550.6 306 C550.4 307.6 547.8 310.6 546.8 311.2 C545.7 311.7 542 311 540.3 311.2 C538.6 311.3 531.7 312.7 530 312.4 C528.4 312.2 524.5 309.7 523.6 308.6 C522.7 307.4 521.2 302.3 521 300.9 C520.9 299.5 521.4 295.2 522.3 294.4Z" fill="#8f8f8f"/>
<path d="M415.2 201.3 C415.9 200.6 421 200.2 422.1 200.6 C423.3 201.1 425.7 204.8 426.5 205.7 C427.3 206.5 429.4 208.1 430.3 208.8 C431.2 209.5 434.3 211.8 435.3 212.6 C436.3 213.3 440.3 215.8 440.3 216.3 C440.3 216.8 436.2 217.7 435.3 217.6 C434.4 217.4 432.3 215.7 431.5 215.1 C430.8 214.4 428.4 211.8 427.8 211.3 C427.2 210.8 425.7 209.7 425.3 210 C424.9 210.4 424 213.8 424 215.1 C424 216.3 425 221.3 425.3 222.6 C425.5 223.8 426.5 226.6 426.5 227.6 C426.5 228.6 425.9 231.9 425.3 232.6 C424.7 233.4 420.5 235.4 420.3 235.1 C420 234.9 422.6 231.4 422.8 230.1 C423 228.9 422.3 224 422.1 222.6 C422 221.2 421.8 217.4 421.5 216.3 C421.2 215.2 419.6 212.2 419 211.3 C418.4 210.4 415.6 208.5 415.2 207.5 C414.9 206.5 414.6 202 415.2 201.3Z" fill="#545454"/>
<path d="M424.3 209.8 C424.6 209.3 427.2 209.8 427.8 210.3 C428.4 210.8 430 213.8 430.3 215.1 C430.6 216.3 430.7 221.4 430.9 222.6 C431.1 223.8 432.9 226.9 432.6 227.4 C432.2 227.8 428.4 227.7 427.8 227 C427.2 226.3 426.8 221.3 426.5 220.1 C426.2 218.9 425 216.1 424.8 215.1 C424.5 214 424 210.3 424.3 209.8Z" fill="#8f8f8f"/>
<path d="M410.2 237 C410.6 236.3 414.2 236.3 415.2 236.4 C416.2 236.5 419 238.4 420.3 238.3 C421.5 238.1 426.3 235.6 427.8 235.1 C429.3 234.7 434.3 233.6 435.3 233.9 C436.3 234.1 437.6 236.5 437.8 237.6 C438.1 238.8 438.3 244.2 437.8 245.2 C437.3 246.2 434.1 247.4 432.8 247.7 C431.5 248 426.8 248.4 425.3 248.3 C423.8 248.2 419.1 247.5 417.8 247 C416.4 246.6 412.2 244.9 411.5 243.9 C410.7 242.9 409.9 237.8 410.2 237Z" fill="#545454"/>
<path d="M439.1 278.2 C439.4 277.3 441.7 275 442.8 274.5 C444 273.9 449.1 272.5 450.4 272.6 C451.6 272.6 454.9 274.2 455.4 275.1 C455.8 276 455.2 280.5 454.7 281.4 C454.2 282.2 451.6 283.4 450.4 283.9 C449.2 284.3 444 285.8 442.8 285.7 C441.7 285.7 439.4 284 439.1 283.2 C438.7 282.5 438.7 279.1 439.1 278.2Z" fill="#545454"/>
<path d="M456.6 276.3 C456.9 275.3 460.6 273.1 461.6 272.6 C462.6 272.1 465.8 271.1 466.7 271.3 C467.5 271.6 469.9 274.1 470.4 275.1 C470.9 276.1 472.1 280.6 471.7 281.4 C471.3 282.1 467.6 282.2 466.7 282.6 C465.7 283 463 285.7 462.3 285.7 C461.5 285.7 459.7 283.5 459.1 282.6 C458.6 281.7 456.4 277.3 456.6 276.3Z" fill="#545454"/>
<path d="M539.1 392.7 C539.6 391.8 543 390.8 544.1 390.8 C545.2 390.8 549.2 392.8 550.4 392.7 C551.6 392.6 555.6 389.3 556 389.6 C556.4 389.8 555.7 394.5 554.7 395.2 C553.8 396 547.9 396.6 546.6 397.1 C545.3 397.6 542.8 399.4 542.2 400.2 C541.6 401.1 540.7 405.3 540.3 405.3 C539.9 405.3 538.6 401.5 538.4 400.2 C538.3 399 538.5 393.7 539.1 392.7Z" fill="#545454"/>
<path d="M432.8 211.3 C433.8 211.2 438.9 215.4 440.3 216.3 C441.7 217.2 445.3 219.3 446.6 220.1 C447.9 220.8 451.6 223.2 452.9 223.8 C454.1 224.5 457.9 225.8 459.1 226.4 C460.4 226.9 464.2 229 465.4 229.5 C466.7 230 470.5 231.1 471.7 231.4 C472.9 231.7 476.9 232.1 477.3 232.6 C477.7 233.2 476.4 236.8 475.4 237 C474.5 237.3 469.4 235.6 467.9 235.1 C466.4 234.7 461.9 233.1 460.4 232.6 C458.9 232.1 454.4 230.6 452.9 230.1 C451.4 229.7 446.8 228.5 445.3 228.2 C443.8 228 439.1 228 437.8 227.6 C436.6 227.2 433.6 224.8 432.8 223.8 C432 222.8 430.3 218.8 430.3 217.6 C430.3 216.3 431.8 211.4 432.8 211.3Z" fill="#545454"/>
<path d="M555.4 253.9 C555.7 253.3 558.3 251.3 559.1 251.4 C560 251.5 563.4 254.3 564.2 255.2 C564.9 256.1 566.7 259.4 566.7 260.2 C566.7 260.9 564.9 262.7 564.2 262.7 C563.4 262.7 560 260.7 559.1 260.2 C558.3 259.7 556.4 258.3 556 257.7 C555.6 257.1 555.1 254.6 555.4 253.9Z" fill="#f2f2f2"/>
<path d="M525.3 383.3 C525.5 382.3 529.4 378.2 530.3 377.7 C531.2 377.2 534.4 377.7 534.7 378.3 C534.9 378.9 533.4 383 532.8 383.9 C532.2 384.9 529.2 387.8 528.4 387.7 C527.7 387.6 525.1 384.3 525.3 383.3Z" fill="#f2f2f2"/>
<path d="M515.2 299.6 C515.5 299.2 517.9 298.7 518.5 298.9 C519 299.2 521 301.6 521 302.2 C521 302.7 519 304 518.5 304.1 C517.9 304.1 515.9 303.2 515.6 302.8 C515.3 302.3 515 300 515.2 299.6Z" fill="#f2f2f2"/>
<path d="M356.9 297.7 C357.4 296.5 360.1 292.5 361.3 291.4 C362.5 290.3 367.3 287.1 368.8 286.4 C370.3 285.7 375.3 284.4 376.4 284.5 C377.4 284.6 379.1 286.6 379.5 287.6 C379.9 288.7 380.5 293.5 380.8 295.1 C381 296.8 381.3 302.3 382 303.9 C382.7 305.6 387.5 310.2 387.7 311.4 C387.8 312.7 384.9 315.5 383.9 316.5 C382.9 317.5 378.9 320.7 377.6 321.5 C376.4 322.3 372.7 324.4 371.4 324.6 C370 324.8 365 324.1 363.8 323.4 C362.7 322.7 360.7 319.2 360.1 317.7 C359.4 316.3 357.9 310.4 357.6 308.9 C357.2 307.4 356.4 303.8 356.3 302.7 C356.2 301.5 356.4 298.8 356.9 297.7Z" fill="#a3cce3"/>
<path d="M393.9 306.4 C394.3 305.4 397.6 303 398.9 302.7 C400.3 302.4 405.8 303.4 407.7 303.3 C409.6 303.2 416.4 302.6 417.8 301.4 C419.1 300.2 420.6 292.6 421.5 291.4 C422.4 290.1 425.8 288.8 426.5 288.9 C427.3 289 429 291.5 429 292.6 C429 293.8 426.7 298.8 426.5 300.2 C426.4 301.5 427.2 305.2 427.8 306.4 C428.4 307.7 431.7 311.3 432.8 312.7 C433.9 314.1 437.9 319 439.1 320.2 C440.2 321.5 443.1 324.2 444.1 325.2 C445.1 326.2 448.5 329 449.1 330.3 C449.7 331.5 455.9 337 450.4 337.8 C444.8 338.5 399.3 339.5 393.9 337.8 C388.5 336 396.3 322.7 396.4 320.2 C396.6 317.7 395.4 314.1 395.2 312.7 C394.9 311.3 393.5 307.4 393.9 306.4Z" fill="#a3cce3"/>
<path d="M439.7 296.4 C439.9 295.2 442.9 292.6 444.1 292 C445.3 291.4 450.2 290.6 451.6 290.8 C453 290.9 456.8 292.3 457.9 293.3 C458.9 294.2 461.8 298.8 462.3 300.2 C462.8 301.5 462.6 305.4 462.9 306.4 C463.2 307.4 464.5 309.8 465.4 310.2 C466.3 310.6 470.6 310.1 471.7 310.2 C472.7 310.3 475.7 310.9 476.1 311.4 C476.4 312 476.1 314.7 475.4 315.2 C474.8 315.7 470.3 316.6 469.2 316.5 C468 316.3 465.2 314.6 464.2 314 C463.2 313.3 460.3 310.1 459.1 309.6 C458 309 454.1 308.5 452.9 308.3 C451.6 308.1 447.7 308.1 446.6 307.7 C445.5 307.2 442.3 305.1 441.6 303.9 C440.9 302.8 439.4 297.6 439.7 296.4Z" fill="#a3cce3"/>
<path d="M428.8 269.4 C428.8 269.8 428.5 271 428.3 271.3 C428.1 271.6 427.3 272.5 427 272.7 C426.7 272.9 425.6 273.2 425.3 273.2 C424.9 273.2 423.8 272.9 423.5 272.7 C423.2 272.5 422.4 271.6 422.2 271.3 C422.1 271 421.8 269.8 421.8 269.4 C421.8 269.1 422.1 267.9 422.2 267.6 C422.4 267.2 423.2 266.4 423.5 266.2 C423.8 266 424.9 265.7 425.3 265.7 C425.6 265.7 426.7 266 427 266.2 C427.3 266.4 428.1 267.2 428.3 267.6 C428.5 267.9 428.8 269.1 428.8 269.4Z" fill="#a3cce3"/>
<path d="M456.9 253.8 C456.9 254.1 456.5 255.1 456.3 255.4 C456.1 255.7 455.2 256.4 454.9 256.6 C454.5 256.7 453.3 257 452.9 257 C452.5 257 451.2 256.7 450.9 256.6 C450.5 256.4 449.6 255.7 449.4 255.4 C449.2 255.1 448.9 254.1 448.9 253.8 C448.9 253.4 449.2 252.4 449.4 252.1 C449.6 251.8 450.5 251.1 450.9 250.9 C451.2 250.8 452.5 250.5 452.9 250.5 C453.3 250.5 454.5 250.8 454.9 250.9 C455.2 251.1 456.1 251.8 456.3 252.1 C456.5 252.4 456.9 253.4 456.9 253.8Z" fill="#a3cce3"/>
<path d="M494.5 260.7 C494.5 261 494.3 262 494.1 262.3 C494 262.6 493.4 263.3 493.1 263.5 C492.9 263.6 492 263.9 491.7 263.9 C491.5 263.9 490.6 263.6 490.4 263.5 C490.1 263.3 489.5 262.6 489.4 262.3 C489.2 262 489 261 489 260.7 C489 260.3 489.2 259.3 489.4 259 C489.5 258.7 490.1 258 490.4 257.8 C490.6 257.7 491.5 257.4 491.7 257.4 C492 257.4 492.9 257.7 493.1 257.8 C493.4 258 494 258.7 494.1 259 C494.3 259.3 494.5 260.3 494.5 260.7Z" fill="#a3cce3"/>
<path d="M456.9 253.7 C456.9 254 456.6 254.9 456.4 255.2 C456.2 255.4 455.4 256.1 455 256.3 C454.7 256.4 453.5 256.7 453.2 256.7 C452.8 256.7 451.6 256.4 451.3 256.3 C451 256.1 450.1 255.4 449.9 255.2 C449.7 254.9 449.4 254 449.4 253.7 C449.4 253.4 449.7 252.4 449.9 252.2 C450.1 251.9 451 251.2 451.3 251.1 C451.6 250.9 452.8 250.7 453.2 250.7 C453.5 250.7 454.7 250.9 455 251.1 C455.4 251.2 456.2 251.9 456.4 252.2 C456.6 252.4 456.9 253.4 456.9 253.7Z" fill="#a3cce3"/>
<path d="M493.9 260.8 C493.9 261.1 493.7 262 493.6 262.3 C493.5 262.5 492.9 263.2 492.7 263.3 C492.5 263.5 491.7 263.7 491.4 263.7 C491.2 263.7 490.4 263.5 490.2 263.3 C489.9 263.2 489.4 262.5 489.2 262.3 C489.1 262 488.9 261.1 488.9 260.8 C488.9 260.5 489.1 259.6 489.2 259.4 C489.4 259.1 489.9 258.5 490.2 258.3 C490.4 258.2 491.2 257.9 491.4 257.9 C491.7 257.9 492.5 258.2 492.7 258.3 C492.9 258.5 493.5 259.1 493.6 259.4 C493.7 259.6 493.9 260.5 493.9 260.8Z" fill="#a3cce3"/>
<path d="M510.9 253.9 C511.1 253.3 513.3 252.5 514 252.7 C514.7 252.8 517 254.3 517.8 255.2 C518.5 256.1 521 260.4 521.5 261.4 C522.1 262.5 523.5 264.7 523.4 265.2 C523.3 265.7 521.1 266.6 520.3 266.5 C519.4 266.3 516.1 264.7 515.2 264 C514.4 263.2 511.9 259.9 511.5 258.9 C511 257.9 510.6 254.6 510.9 253.9Z" fill="#a3cce3"/>
<path d="M586.4 254.9 C586.4 255.1 586.1 255.8 586 255.9 C585.8 256.1 585.2 256.6 585 256.7 C584.7 256.8 583.9 256.9 583.6 256.9 C583.3 256.9 582.5 256.8 582.2 256.7 C582 256.6 581.3 256.1 581.2 255.9 C581.1 255.8 580.8 255.1 580.8 254.9 C580.8 254.7 581.1 254.1 581.2 253.9 C581.3 253.8 582 253.3 582.2 253.2 C582.5 253.1 583.3 252.9 583.6 252.9 C583.9 252.9 584.7 253.1 585 253.2 C585.2 253.3 585.8 253.8 586 253.9 C586.1 254.1 586.4 254.7 586.4 254.9Z" fill="#a3cce3"/>
<path d="M393.9 338.8 C394.7 337.9 401.1 337.3 402.7 336.9 C404.3 336.5 409.2 335.7 410.2 335 C411.2 334.3 413.2 330.8 412.7 330 C412.2 329.3 406.2 328.5 405.2 327.5 C404.2 326.5 398.4 320.7 402.7 320 C407 319.2 443.1 318.7 447.9 320 C452.6 321.2 450.2 330.4 450.4 332.5 C450.5 334.7 449.5 339.9 449.1 341.3 C448.7 342.7 447.5 345.4 446.6 346.3 C445.7 347.2 440.8 349.2 440.3 350.1 C439.8 351 441.1 354.1 441.6 355.1 C442.1 356.1 444.2 359.1 445.3 360.1 C446.5 361.1 451.1 364.5 452.9 365.1 C454.6 365.8 461.1 366.1 462.9 366.4 C464.7 366.6 468.9 367.3 470.4 367.6 C471.9 368 476.2 369.6 477.9 370.1 C479.7 370.6 487 371.7 488 372.7 C488.9 373.7 487.5 378.7 487.6 380.2 C487.7 381.7 488.4 386.4 488.9 387.7 C489.4 389 491.5 391.7 492.6 392.7 C493.7 393.7 498.5 396.9 500.1 397.7 C501.8 398.6 507.3 400.7 508.9 401.5 C510.6 402.3 514.3 404.1 516.4 405.3 C518.6 406.4 529.2 406.8 530.6 412.8 C532 418.8 537.1 460.2 530.6 465.5 C524.1 470.7 473.2 466.2 465.4 465.5 C457.6 464.7 455.4 459.7 452.9 457.9 C450.4 456.2 442.3 449.9 440.3 447.9 C438.3 445.9 434.1 439.9 432.8 437.9 C431.5 435.9 428.4 430.3 427.8 427.8 C427.2 425.3 426.7 416 426.5 412.8 C426.4 409.5 426.6 398 426.5 395.2 C426.5 392.5 426.4 387.2 425.9 385.2 C425.4 383.2 422.3 376.9 421.5 375.2 C420.7 373.4 418.9 369 417.8 367.6 C416.6 366.3 411.7 362.2 410.2 361.4 C408.7 360.5 404.2 359.5 402.7 358.9 C401.2 358.2 396 356.4 395.2 355.1 C394.4 353.8 394.7 347.9 394.6 346.3 C394.4 344.7 393.1 339.7 393.9 338.8Z" fill="#a3cce3"/>
<path d="M475.1 356.4 C475.2 355.7 479.9 354.6 481.4 354.5 C482.9 354.3 488.8 354.8 490.2 355.1 C491.5 355.4 493.9 357.5 495.2 357.6 C496.4 357.7 501.3 356.7 502.7 356.4 C504.1 356 507.7 354.2 509 353.8 C510.2 353.5 514 353.2 515.2 353.2 C516.5 353.3 521 353.8 521.5 354.5 C522 355.2 521 359 520.3 360.1 C519.5 361.2 515.1 364.4 514 365.1 C512.9 365.9 510.2 367.3 509 367.6 C507.7 368 503 368.8 501.4 368.9 C499.9 369 495.3 368.8 493.9 368.3 C492.5 367.8 489 364.6 487.7 363.9 C486.3 363.2 481.4 362.1 480.1 361.4 C478.9 360.6 475 357 475.1 356.4Z" fill="#a3cce3"/>
<path d="M478.9 333.8 C479 332.4 481.5 329.3 482.6 328.8 C483.8 328.3 488.9 328.4 490.2 328.8 C491.4 329.1 494.3 331.6 495.2 332.5 C496.1 333.4 497.9 336.8 498.9 337.5 C499.9 338.3 503.6 339.9 505.2 340 C506.8 340.2 513.7 339.2 515.2 339.4 C516.7 339.7 519.6 341.6 520.3 342.6 C520.9 343.5 522 347.9 521.5 348.8 C521 349.8 516.9 351.7 515.2 352 C513.6 352.2 506.5 351.8 505.2 351.3 C504 350.9 503.3 348.2 502.7 347.6 C502.1 346.9 499.9 345.2 498.9 345.1 C497.9 344.9 493.9 346.2 492.7 346.3 C491.4 346.4 487.5 346.7 486.4 346.3 C485.3 345.9 482.1 343.8 481.4 342.6 C480.6 341.3 478.8 335.2 478.9 333.8Z" fill="#a3cce3"/>
<path d="M440 325 C440.6 322.5 445.3 324.2 446.3 325 C447.3 325.8 449.9 330.9 450 332.5 C450.2 334.2 448 339.8 447.5 341.3 C447 342.8 445.8 346.7 445 347.6 C444.3 348.5 440.5 352.3 440 350.1 C439.5 347.8 439.4 327.5 440 325Z" fill="#a3cce3"/>
<path d="M545.3 334.4 C545.5 333.4 548.9 328.8 549.7 328.8 C550.6 328.8 554 333.2 554.1 334.4 C554.2 335.6 551.6 340.2 551 340.7 C550.4 341.1 548.4 339.4 547.9 338.8 C547.3 338.2 545.2 335.4 545.3 334.4Z" fill="#a3cce3"/>
<path d="M515.9 321.4 C515.9 321.9 515.4 323.3 515.1 323.7 C514.8 324.1 513.5 325.1 513 325.3 C512.5 325.6 510.7 325.9 510.1 325.9 C509.5 325.9 507.7 325.6 507.2 325.3 C506.7 325.1 505.4 324.1 505.1 323.7 C504.8 323.3 504.3 321.9 504.3 321.4 C504.3 321 504.8 319.6 505.1 319.2 C505.4 318.8 506.7 317.8 507.2 317.5 C507.7 317.3 509.5 316.9 510.1 316.9 C510.7 316.9 512.5 317.3 513 317.5 C513.5 317.8 514.8 318.8 515.1 319.2 C515.4 319.6 515.9 321 515.9 321.4Z" fill="#a3cce3"/>
<path d="M461.3 330.3 C461.3 330.4 461.1 330.9 461 331 C460.9 331.1 460.3 331.5 460.1 331.6 C459.8 331.6 459.1 331.8 458.8 331.8 C458.6 331.8 457.8 331.6 457.6 331.6 C457.3 331.5 456.8 331.1 456.6 331 C456.5 330.9 456.3 330.4 456.3 330.3 C456.3 330.1 456.5 329.6 456.6 329.5 C456.8 329.4 457.3 329 457.6 329 C457.8 328.9 458.6 328.8 458.8 328.8 C459.1 328.8 459.8 328.9 460.1 329 C460.3 329 460.9 329.4 461 329.5 C461.1 329.6 461.3 330.1 461.3 330.3Z" fill="#a3cce3"/>
<path d="M518.4 443.5 C518.7 442.3 523 438.3 524.2 438.5 C525.3 438.6 529 443.6 530 445 C531 446.4 533.7 450.8 534.3 452.2 C534.9 453.7 535.9 458.4 535.8 459.5 C535.6 460.5 533.7 462.5 532.9 462.3 C532 462.2 528.2 459.2 527.1 458 C525.9 456.8 522.2 452.2 521.3 450.8 C520.4 449.3 518.1 444.8 518.4 443.5Z" fill="#a3cce3"/>
<path d="M465.1 379.4 C465 379.7 464.2 380.7 463.8 380.9 C463.5 381.1 462.1 381.6 461.6 381.6 C461.2 381.6 459.6 381.4 459.1 381.2 C458.6 381 457.3 380.2 456.9 379.9 C456.6 379.5 455.8 378.3 455.7 378 C455.5 377.6 455.5 376.3 455.7 376 C455.8 375.6 456.6 374.6 457 374.4 C457.3 374.2 458.7 373.8 459.1 373.8 C459.6 373.7 461.2 374 461.7 374.1 C462.1 374.3 463.5 375.1 463.9 375.5 C464.2 375.8 465 377 465.1 377.4 C465.2 377.8 465.2 379 465.1 379.4Z" fill="#f2f2f2"/>
<path d="M465.4 380 C465.3 380.3 464.5 381.2 464.2 381.4 C463.8 381.6 462.5 382 462 382 C461.5 382 460 381.8 459.5 381.6 C459 381.4 457.6 380.6 457.3 380.3 C456.9 380 456.1 378.8 456 378.5 C455.9 378.1 455.9 376.9 456 376.6 C456.1 376.3 456.9 375.4 457.2 375.2 C457.6 375 458.9 374.6 459.4 374.6 C459.8 374.6 461.4 374.8 461.9 375 C462.4 375.2 463.7 376 464.1 376.3 C464.4 376.6 465.2 377.8 465.4 378.1 C465.5 378.5 465.5 379.7 465.4 380Z" fill="#f2f2f2"/>
<path d="M446 414.6 C446.3 413.7 452 411.7 453.3 411.7 C454.6 411.7 458.3 413.7 459.1 414.6 C459.9 415.5 460.7 419.5 461.2 420.4 C461.8 421.3 464.3 422.6 464.9 423.3 C465.4 424 466.7 427 466.3 427.6 C465.9 428.2 461.7 429.2 460.5 429.1 C459.4 428.9 455.7 427 454.7 426.2 C453.7 425.3 451.3 421.5 450.4 420.4 C449.5 419.2 445.8 415.5 446 414.6Z" fill="#f2f2f2"/>
<path d="M467 432 C467.3 431.2 470.5 428.9 471.4 429.1 C472.2 429.2 475.5 432.5 475.7 433.4 C475.9 434.3 474.3 437.4 473.5 437.7 C472.8 438.1 469.1 437.6 468.5 437 C467.8 436.4 466.7 432.8 467 432Z" fill="#f2f2f2"/>
<path d="M481.5 433.4 C481.6 432.5 485.3 430 486.6 429.8 C487.8 429.6 492.6 430.6 493.8 431.2 C495 431.9 497.8 435.4 498.1 436.3 C498.4 437.2 497.4 440.2 496.7 440.6 C496 441.1 492.1 440.9 490.9 440.6 C489.7 440.4 486.1 439.2 485.1 438.5 C484.2 437.7 481.4 434.3 481.5 433.4Z" fill="#f2f2f2"/>
<path d="M506.8 437.7 C508.5 436.7 513.5 432.8 515.5 432 C517.5 431.1 525.6 429.9 527.1 429.1 C528.5 428.2 530.5 424.3 530 423.3 C529.4 422.3 523 419.8 521.3 418.9 C519.6 418.1 513.8 415.6 512.6 414.6 C511.4 413.6 509.6 410 509.7 408.8 C509.9 407.7 513 404 514.1 403 C515.1 402 518.2 399.3 519.8 398.7 C521.4 398.1 528.4 397.1 530 397.2 C531.6 397.4 535 399 535.8 400.1 C536.5 401.3 536.9 406.9 537.2 408.8 C537.5 410.7 538.7 417.1 538.7 418.9 C538.7 420.8 537.5 425.9 537.2 427.6 C536.9 429.4 535.8 434.6 535.8 436.3 C535.8 438 536.8 443.4 537.2 445 C537.6 446.6 539.7 450.2 540.1 452.2 C540.5 454.2 544.3 463.9 541.5 465.2 C538.8 466.5 515.8 466.4 512.6 465.2 C509.4 464.1 510.7 455.5 509.7 453.7 C508.7 451.8 503.6 447.6 502.5 446.4 C501.4 445.3 498.4 443 498.9 442.1 C499.3 441.2 505.2 438.8 506.8 437.7Z" fill="#f2f2f2"/>
<path d="M518.4 443.5 C518.7 442.3 523 438.3 524.2 438.5 C525.3 438.6 529 443.6 530 445 C531 446.4 533.7 450.8 534.3 452.2 C534.9 453.7 535.9 458.3 535.8 459.5 C535.6 460.6 533.7 463.9 532.9 463.8 C532 463.7 528.2 459.3 527.1 458 C525.9 456.7 522.2 452.2 521.3 450.8 C520.4 449.3 518.1 444.8 518.4 443.5Z" fill="#a3cce3"/>
<path d="M454.7 449.3 C454.9 448.5 460.5 446.6 462 446.4 C463.4 446.2 468 446.6 469.2 447.2 C470.4 447.7 472.9 450.4 473.5 452.2 C474.2 454 476.7 463.9 475.7 465.2 C474.7 466.5 464.9 466.3 463.4 465.2 C461.9 464.2 461.4 456.7 460.5 455.1 C459.6 453.5 454.6 450.2 454.7 449.3Z" fill="#f2f2f2"/>
<path d="M359.4 297 C360 296.3 363.9 295.3 365.1 295.1 C366.3 295 370.5 295.1 371.4 295.8 C372.2 296.4 372.9 300 373.2 301.4 C373.6 302.9 375.2 308.8 375.1 310.2 C375.1 311.6 373.4 314.3 372.6 315.2 C371.9 316.1 368.5 318.8 367.6 319 C366.7 319.2 364.5 318 363.8 317.1 C363.2 316.2 361.8 311.6 361.3 310.2 C360.9 308.8 359.6 304 359.4 302.7 C359.3 301.4 358.9 297.8 359.4 297Z" fill="#539ecd"/>
<path d="M404 317.7 C404.6 317.2 409 315.7 410.2 315.2 C411.5 314.7 415.4 313.2 416.5 312.7 C417.6 312.2 420.5 310.2 421.5 310.2 C422.5 310.2 425.4 312 426.5 312.7 C427.7 313.5 431.8 316.6 432.8 317.7 C433.8 318.8 435.9 322.7 436.6 324 C437.2 325.2 438.6 329 439.1 330.3 C439.6 331.5 441.6 335.4 441.6 336.5 C441.6 337.7 440.1 340.9 439.1 341.5 C438.1 342.2 432.9 343.2 431.5 342.8 C430.2 342.4 426.4 339 425.3 337.8 C424.1 336.5 421.3 331.6 420.3 330.3 C419.3 328.9 416.5 324.7 415.2 324 C414 323.2 408.9 323.1 407.7 322.7 C406.5 322.4 403.7 320.7 403.3 320.2 C403 319.7 403.3 318.2 404 317.7Z" fill="#539ecd"/>
<path d="M442.2 297.7 C442.5 296.7 445.5 293.7 446.6 293.3 C447.7 292.8 451.7 292.9 452.9 293.3 C454 293.6 457.3 296.1 457.9 297 C458.5 298 459.1 301.7 458.9 302.7 C458.6 303.6 456.4 306.1 455.4 306.4 C454.4 306.7 450.2 306.2 449.1 305.8 C448 305.4 444.8 303.5 444.1 302.7 C443.4 301.9 442 298.6 442.2 297.7Z" fill="#539ecd"/>
<path d="M432.2 355.7 C432.2 356.2 431.6 357.7 431.3 358.1 C431 358.5 429.6 359.6 429 359.9 C428.5 360.1 426.5 360.5 425.9 360.5 C425.3 360.5 423.3 360.1 422.8 359.9 C422.2 359.6 420.8 358.5 420.5 358.1 C420.2 357.7 419.6 356.2 419.6 355.7 C419.6 355.2 420.2 353.8 420.5 353.3 C420.8 352.9 422.2 351.8 422.8 351.6 C423.3 351.4 425.3 351 425.9 351 C426.5 351 428.5 351.4 429 351.6 C429.6 351.8 431 352.9 431.3 353.3 C431.6 353.8 432.2 355.2 432.2 355.7Z" fill="#539ecd"/>
<path d="M432.2 375.8 C432.2 375.9 432.1 376.3 432 376.4 C431.9 376.5 431.7 376.8 431.5 376.9 C431.4 376.9 431 377 430.9 377 C430.8 377 430.4 376.9 430.3 376.9 C430.2 376.8 429.9 376.5 429.8 376.4 C429.8 376.3 429.7 375.9 429.7 375.8 C429.7 375.7 429.8 375.3 429.8 375.2 C429.9 375.1 430.2 374.8 430.3 374.7 C430.4 374.6 430.8 374.5 430.9 374.5 C431 374.5 431.4 374.6 431.5 374.7 C431.7 374.8 431.9 375.1 432 375.2 C432.1 375.3 432.2 375.7 432.2 375.8Z" fill="#539ecd"/>
<path d="M476.1 379.6 C476.1 378.7 478 375.8 478.6 375.8 C479.1 375.8 481.5 378.7 481.5 379.6 C481.5 380.4 479.1 383.9 478.6 383.9 C478 383.9 476.1 380.4 476.1 379.6Z" fill="#539ecd"/>
<path d="M448.5 399 C448.5 399.7 447.8 402.1 447.4 402.8 C447 403.4 445.1 405.1 444.4 405.5 C443.7 405.9 441.1 406.5 440.3 406.5 C439.5 406.5 437 405.9 436.3 405.5 C435.5 405.1 433.7 403.4 433.3 402.8 C432.9 402.1 432.2 399.7 432.2 399 C432.2 398.2 432.9 395.9 433.3 395.2 C433.7 394.6 435.5 392.9 436.3 392.5 C437 392.1 439.5 391.5 440.3 391.5 C441.1 391.5 443.7 392.1 444.4 392.5 C445.1 392.9 447 394.6 447.4 395.2 C447.8 395.9 448.5 398.2 448.5 399Z" fill="#539ecd"/>
<path d="M470.4 400.2 C470.8 399.2 474.3 396 475.4 395.2 C476.6 394.4 480.5 392.1 481.7 392.1 C483 392.1 487.2 394.5 488 395.2 C488.8 395.9 490.2 398.2 489.9 399 C489.5 399.7 485.4 402.1 484.2 402.8 C483 403.4 479.2 405 477.9 405.3 C476.7 405.5 472.4 405.8 471.7 405.3 C470.9 404.8 470 401.2 470.4 400.2Z" fill="#539ecd"/>
<path d="M482 335 C482.5 334.4 485.5 332.8 486.4 332.8 C487.3 332.7 490.7 333.8 491.4 334.4 C492.2 335 493.9 338 493.9 338.8 C493.9 339.6 492.3 342.2 491.4 342.6 C490.5 342.9 486.1 342.9 485.1 342.6 C484.2 342.2 482.3 339.5 482 338.8 C481.7 338 481.6 335.6 482 335Z" fill="#539ecd"/>
<path d="M440 330 C440.3 329.5 442.3 331.9 442.5 332.5 C442.8 333.2 442.8 335.8 442.5 336.3 C442.3 336.8 440.3 338.2 440 337.5 C439.7 336.9 439.7 330.5 440 330Z" fill="#539ecd"/>
<path d="M475.7 379.6 C475.7 378.7 477.7 375.8 478.2 375.8 C478.8 375.8 481.1 378.7 481.1 379.6 C481.1 380.4 478.8 383.9 478.2 383.9 C477.7 383.9 475.7 380.4 475.7 379.6Z" fill="#539ecd"/>
<path d="M440 391.5 C440.5 390.3 444.1 392.6 445 393.3 C445.9 394.1 448.6 397.8 448.8 399 C449 400.2 447.8 404.6 446.9 405.3 C446 405.9 440.7 406.6 440 405.3 C439.3 403.9 439.5 392.7 440 391.5Z" fill="#539ecd"/>
<path d="M509 403 C509 403.2 508.8 403.8 508.6 404 C508.5 404.2 507.9 404.6 507.7 404.7 C507.5 404.8 506.7 405 506.5 405 C506.2 405 505.4 404.8 505.2 404.7 C505 404.6 504.4 404.2 504.3 404 C504.2 403.8 504 403.2 504 403 C504 402.8 504.2 402.2 504.3 402 C504.4 401.8 505 401.4 505.2 401.3 C505.4 401.2 506.2 401 506.5 401 C506.7 401 507.5 401.2 507.7 401.3 C507.9 401.4 508.5 401.8 508.6 402 C508.8 402.2 509 402.8 509 403Z" fill="#539ecd"/>
<path d="M511.6 322.7 C511.6 322.8 511.5 323.2 511.4 323.2 C511.4 323.3 511 323.6 510.9 323.6 C510.7 323.7 510.3 323.8 510.1 323.8 C509.9 323.8 509.5 323.7 509.3 323.6 C509.2 323.6 508.8 323.3 508.8 323.2 C508.7 323.2 508.6 322.8 508.6 322.7 C508.6 322.6 508.7 322.3 508.8 322.2 C508.8 322.1 509.2 321.9 509.3 321.8 C509.5 321.8 509.9 321.7 510.1 321.7 C510.3 321.7 510.7 321.8 510.9 321.8 C511 321.9 511.4 322.1 511.4 322.2 C511.5 322.3 511.6 322.6 511.6 322.7Z" fill="#539ecd"/>
<path d="M469.9 407.4 C469.6 406.6 471.3 401.5 472.1 400.1 C472.9 398.8 476.7 394.4 477.9 393.6 C479 392.8 482.5 391.8 483.7 392.2 C484.8 392.5 489 396.3 489.5 397.2 C489.9 398.2 488.9 400.9 488 401.6 C487.1 402.3 482.1 403.8 480.8 404.5 C479.5 405.1 476.1 407.8 475 408.1 C473.9 408.4 470.2 408.2 469.9 407.4Z" fill="#539ecd"/>
<path d="M508.8 403 C508.8 403.2 508.6 403.9 508.5 404 C508.4 404.2 507.9 404.7 507.7 404.8 C507.5 404.9 506.8 405 506.5 405 C506.3 405 505.6 404.9 505.4 404.8 C505.2 404.7 504.6 404.2 504.5 404 C504.4 403.9 504.2 403.2 504.2 403 C504.2 402.8 504.4 402.2 504.5 402 C504.6 401.8 505.2 401.4 505.4 401.3 C505.6 401.2 506.3 401 506.5 401 C506.8 401 507.5 401.2 507.7 401.3 C507.9 401.4 508.4 401.8 508.5 402 C508.6 402.2 508.8 402.8 508.8 403Z" fill="#539ecd"/>
<path d="M481.5 417.5 C481.8 416.7 485.2 414.3 486.6 413.9 C487.9 413.4 493.5 413.1 495.2 413.2 C497 413.2 502.3 414 503.9 414.6 C505.5 415.2 510 418.1 511.2 418.9 C512.3 419.8 515.2 422.4 515.5 423.3 C515.8 424.1 514.9 427.1 514.1 427.6 C513.2 428.1 508.4 428.5 506.8 428.3 C505.2 428.2 499.9 426.6 498.1 426.2 C496.4 425.7 490.9 424.4 489.5 424 C488 423.6 484.5 422.5 483.7 421.8 C482.9 421.2 481.2 418.3 481.5 417.5Z" fill="#539ecd"/>
<path d="M455.5 442.1 C455.5 442.6 454.8 444 454.5 444.4 C454.1 444.8 452.5 445.9 451.8 446.1 C451.2 446.3 448.9 446.7 448.2 446.7 C447.5 446.7 445.2 446.3 444.6 446.1 C444 445.9 442.3 444.8 442 444.4 C441.6 444 441 442.6 441 442.1 C441 441.6 441.6 440.2 442 439.8 C442.3 439.4 444 438.3 444.6 438.1 C445.2 437.8 447.5 437.5 448.2 437.5 C448.9 437.5 451.2 437.8 451.8 438.1 C452.5 438.3 454.1 439.4 454.5 439.8 C454.8 440.2 455.5 441.6 455.5 442.1Z" fill="#539ecd"/>
<path d="M478.6 447.9 C479.1 446.9 482.4 445.6 483.7 445.7 C484.9 445.9 489.5 448.5 490.9 449.3 C492.3 450.1 497.1 452.7 498.1 453.7 C499.2 454.7 501.2 458.3 501.8 459.5 C502.3 460.6 505.4 464.7 503.2 465.2 C501 465.8 482.5 466.3 480 465.2 C477.6 464.2 478.7 456.8 478.6 455.1 C478.5 453.4 478.1 448.8 478.6 447.9Z" fill="#539ecd"/>
<path d="M494.7 455.8 C494.7 455.9 494.6 456.2 494.5 456.3 C494.5 456.3 494.3 456.5 494.2 456.6 C494.2 456.6 493.9 456.7 493.8 456.7 C493.7 456.7 493.4 456.6 493.4 456.6 C493.3 456.5 493.1 456.3 493 456.3 C493 456.2 492.9 455.9 492.9 455.8 C492.9 455.8 493 455.5 493 455.4 C493.1 455.3 493.3 455.1 493.4 455.1 C493.4 455 493.7 455 493.8 455 C493.9 455 494.2 455 494.2 455.1 C494.3 455.1 494.5 455.3 494.5 455.4 C494.6 455.5 494.7 455.8 494.7 455.8Z" fill="#08306b"/>
<path d="M445.3 314 C446 313 451.4 311.5 452.9 311.4 C454.4 311.4 459.3 312.6 460.4 313.3 C461.5 314.1 464 317.8 464.2 319 C464.3 320.2 462.8 324.6 461.6 325.2 C460.5 325.9 454.4 325.6 452.9 325.2 C451.4 324.9 447.3 322.6 446.6 321.5 C445.8 320.4 444.7 315 445.3 314Z" fill="#c8c8c8"/>
<path d="M449.1 315.8 C449.5 315.1 453.2 313.6 454.1 313.7 C455.1 313.8 458.1 315.7 458.5 316.5 C458.9 317.2 458.9 320.9 458.5 321.5 C458.1 322.1 454.9 322.8 454.1 322.7 C453.3 322.7 450.9 321.5 450.4 320.9 C449.9 320.2 448.7 316.6 449.1 315.8Z" fill="#8f8f8f"/>
<path d="M462.3 324 C463.1 323 468.9 320.4 470.4 320.2 C472 320.1 477.1 321.7 477.9 322.7 C478.8 323.7 479.5 329 479.2 330.3 C479 331.5 476.7 334.8 475.4 335.3 C474.2 335.8 468 335.8 466.7 335.3 C465.3 334.8 462.7 331.4 462.3 330.3 C461.8 329.1 461.5 325 462.3 324Z" fill="#c8c8c8"/>
<path d="M465.4 324 C465.9 323.2 469.4 322.1 470.4 322.1 C471.4 322.1 474.9 323.2 475.4 324 C476 324.8 476.6 329.4 476.1 330.3 C475.6 331.1 471.5 332.8 470.4 332.8 C469.4 332.8 465.9 331.1 465.4 330.3 C464.9 329.4 464.9 324.8 465.4 324Z" fill="#8f8f8f"/>
<path d="M392.7 299.2 C392.7 299.3 392.5 299.7 392.4 299.8 C392.3 299.9 391.9 300.2 391.7 300.2 C391.6 300.3 391 300.4 390.8 300.4 C390.6 300.4 390 300.3 389.8 300.2 C389.7 300.2 389.3 299.9 389.2 299.8 C389.1 299.7 388.9 299.3 388.9 299.2 C388.9 299 389.1 298.6 389.2 298.5 C389.3 298.4 389.7 298.1 389.8 298.1 C390 298 390.6 297.9 390.8 297.9 C391 297.9 391.6 298 391.7 298.1 C391.9 298.1 392.3 298.4 392.4 298.5 C392.5 298.6 392.7 299 392.7 299.2Z" fill="#c8c8c8"/>
<path d="M512.3 295.1 C512.3 296.1 511.5 299.2 511 300.1 C510.6 301 508.5 303.3 507.7 303.8 C506.9 304.3 503.9 305.1 503 305.1 C502.1 305.1 499.2 304.3 498.4 303.8 C497.6 303.3 495.5 301 495 300.1 C494.5 299.2 493.8 296.1 493.8 295.1 C493.8 294.1 494.5 290.9 495 290.1 C495.5 289.2 497.6 286.9 498.4 286.4 C499.2 285.9 502.1 285 503 285 C503.9 285 506.9 285.9 507.7 286.4 C508.5 286.9 510.6 289.2 511 290.1 C511.5 290.9 512.3 294.1 512.3 295.1Z" fill="#8f8f8f"/>
<path d="M507.5 296.8 C507.3 297.4 506.2 299 505.8 299.4 C505.4 299.8 503.8 300.6 503.3 300.8 C502.8 300.9 501.1 300.8 500.6 300.6 C500.1 300.5 498.8 299.4 498.5 299 C498.1 298.6 497.5 296.9 497.4 296.3 C497.4 295.8 497.6 293.9 497.8 293.3 C498 292.8 499 291.2 499.5 290.8 C499.9 290.4 501.5 289.5 502 289.4 C502.5 289.3 504.2 289.3 504.7 289.5 C505.1 289.7 506.5 290.7 506.8 291.1 C507.1 291.6 507.8 293.3 507.8 293.8 C507.9 294.4 507.7 296.3 507.5 296.8Z" fill="#545454"/>
<path d="M509.9 336 C509.6 336.6 507.9 338.2 507.2 338.5 C506.6 338.8 504.2 339.3 503.4 339.3 C502.6 339.3 500.2 338.5 499.5 338.1 C498.8 337.7 496.9 336 496.5 335.3 C496.1 334.7 495.3 332.3 495.3 331.6 C495.2 330.9 495.8 328.6 496.1 328 C496.5 327.4 498.2 325.8 498.8 325.5 C499.5 325.1 501.9 324.7 502.6 324.7 C503.4 324.7 505.9 325.5 506.6 325.9 C507.3 326.3 509.1 328 509.5 328.7 C510 329.3 510.7 331.7 510.8 332.4 C510.8 333.1 510.3 335.4 509.9 336Z" fill="#8f8f8f"/>
<path d="M507.5 334.6 C507.3 334.9 506.3 335.8 505.9 336 C505.5 336.2 504 336.4 503.5 336.4 C503 336.3 501.4 335.8 501 335.6 C500.5 335.3 499.3 334.2 499 333.8 C498.7 333.4 498.2 332 498.1 331.5 C498.1 331.1 498.4 329.8 498.6 329.4 C498.8 329.1 499.8 328.2 500.2 328 C500.6 327.8 502.1 327.6 502.6 327.6 C503.1 327.7 504.6 328.2 505.1 328.4 C505.5 328.7 506.7 329.8 507 330.2 C507.3 330.6 507.9 332 507.9 332.4 C508 332.9 507.7 334.2 507.5 334.6Z" fill="#545454"/>
<path d="M475.9 335.7 C476.2 336.5 476.1 339.6 475.8 340.5 C475.5 341.5 473.4 344.4 472.5 345.2 C471.6 346 468.1 348.1 466.9 348.6 C465.7 349 461.6 349.7 460.4 349.6 C459.2 349.6 455.7 348.6 454.9 348.1 C454 347.6 452 345.3 451.7 344.5 C451.4 343.6 451.5 340.6 451.8 339.7 C452.1 338.7 454.2 335.8 455.1 335 C456 334.2 459.5 332.1 460.7 331.6 C461.9 331.2 466 330.5 467.2 330.6 C468.4 330.6 471.9 331.5 472.7 332.1 C473.6 332.6 475.6 334.9 475.9 335.7Z" fill="#c8c8c8"/>
<path d="M473.5 336.6 C473.7 337.2 473.7 339.6 473.4 340.4 C473.1 341.1 471.4 343.5 470.7 344.1 C470 344.7 467.2 346.4 466.2 346.7 C465.2 347.1 462 347.6 461.1 347.6 C460.1 347.6 457.3 346.9 456.6 346.5 C455.9 346.1 454.4 344.3 454.1 343.6 C453.9 343 453.9 340.6 454.2 339.8 C454.5 339.1 456.1 336.7 456.9 336.1 C457.6 335.5 460.4 333.8 461.4 333.4 C462.3 333.1 465.6 332.6 466.5 332.6 C467.5 332.6 470.3 333.3 471 333.7 C471.7 334.1 473.2 335.9 473.5 336.6Z" fill="#8f8f8f"/>
<path d="M471 337.8 C471.2 338.3 471.1 339.9 470.9 340.4 C470.6 340.9 469.3 342.5 468.8 342.9 C468.2 343.4 466.1 344.6 465.4 344.8 C464.7 345.1 462.2 345.6 461.5 345.6 C460.8 345.6 458.8 345.2 458.3 344.9 C457.8 344.7 456.7 343.6 456.5 343.1 C456.4 342.7 456.5 341.1 456.7 340.6 C456.9 340.1 458.2 338.5 458.8 338 C459.3 337.6 461.5 336.4 462.2 336.1 C462.9 335.9 465.3 335.4 466 335.4 C466.8 335.4 468.8 335.8 469.3 336 C469.8 336.3 470.9 337.4 471 337.8Z" fill="#545454"/>
<path d="M466.3 321.2 C467.2 320.1 474.3 320.4 475.1 321.2 C475.9 322.1 474.9 328.6 474.5 330 C474.1 331.4 472.1 334.8 471.4 335 C470.6 335.3 467.5 333.9 467 332.5 C466.5 331.1 465.5 322.4 466.3 321.2Z" fill="#8f8f8f"/>
<path d="M520 330.3 C520 330.4 519.8 330.9 519.7 331 C519.6 331.1 519.1 331.5 518.9 331.6 C518.7 331.6 518 331.8 517.8 331.8 C517.5 331.8 516.8 331.6 516.6 331.6 C516.4 331.5 515.9 331.1 515.8 331 C515.7 330.9 515.5 330.4 515.5 330.3 C515.5 330.1 515.7 329.6 515.8 329.5 C515.9 329.4 516.4 329 516.6 329 C516.8 328.9 517.5 328.8 517.8 328.8 C518 328.8 518.7 328.9 518.9 329 C519.1 329 519.6 329.4 519.7 329.5 C519.8 329.6 520 330.1 520 330.3Z" fill="#8f8f8f"/>
<path d="M501.6 349.5 C501.6 349.9 501.1 351.4 500.8 351.8 C500.5 352.2 499.2 353.3 498.7 353.6 C498.2 353.8 496.4 354.2 495.8 354.2 C495.2 354.2 493.4 353.8 492.9 353.6 C492.4 353.3 491.1 352.2 490.8 351.8 C490.5 351.4 490 349.9 490 349.5 C490 349 490.5 347.5 490.8 347.1 C491.1 346.7 492.4 345.6 492.9 345.3 C493.4 345.1 495.2 344.7 495.8 344.7 C496.4 344.7 498.2 345.1 498.7 345.3 C499.2 345.6 500.5 346.7 500.8 347.1 C501.1 347.5 501.6 349 501.6 349.5Z" fill="#c8c8c8"/>
<path d="M497.1 349.8 C497.1 349.9 497 350.2 496.9 350.3 C496.9 350.4 496.6 350.6 496.6 350.7 C496.5 350.7 496.2 350.8 496.1 350.8 C496 350.8 495.6 350.7 495.6 350.7 C495.5 350.6 495.2 350.4 495.2 350.3 C495.1 350.2 495.1 349.9 495.1 349.8 C495.1 349.7 495.1 349.4 495.2 349.3 C495.2 349.2 495.5 349 495.6 349 C495.6 348.9 496 348.8 496.1 348.8 C496.2 348.8 496.5 348.9 496.6 349 C496.6 349 496.9 349.2 496.9 349.3 C497 349.4 497.1 349.7 497.1 349.8Z" fill="#8f8f8f"/>
<path d="M521.5 383.4 C521.8 384.2 522.1 387 522 387.8 C521.9 388.6 520.9 391.1 520.4 391.7 C519.9 392.3 517.9 393.8 517.2 394.1 C516.4 394.4 513.9 394.5 513.1 394.3 C512.3 394.2 510 392.9 509.4 392.4 C508.8 391.8 507.2 389.5 506.9 388.7 C506.6 387.9 506.3 385.2 506.5 384.4 C506.6 383.5 507.6 381.1 508.1 380.5 C508.5 379.8 510.6 378.3 511.3 378.1 C512.1 377.8 514.6 377.6 515.4 377.8 C516.1 378 518.5 379.2 519.1 379.8 C519.7 380.3 521.3 382.6 521.5 383.4Z" fill="#545454"/>
<path d="M548.7 346.3 C548.7 347.3 548 350.5 547.5 351.3 C547.1 352.2 545 354.5 544.2 355 C543.4 355.5 540.6 356.4 539.7 356.4 C538.8 356.4 536 355.5 535.2 355 C534.4 354.5 532.3 352.2 531.9 351.3 C531.4 350.5 530.7 347.3 530.7 346.3 C530.7 345.3 531.4 342.2 531.9 341.3 C532.3 340.4 534.4 338.1 535.2 337.6 C536 337.1 538.8 336.3 539.7 336.3 C540.6 336.3 543.4 337.1 544.2 337.6 C545 338.1 547.1 340.4 547.5 341.3 C548 342.2 548.7 345.3 548.7 346.3Z" fill="#545454"/>
<path d="M512.6 408.8 C513.2 407.8 519.4 403.8 521.3 403 C523.2 402.2 529.8 400.7 531.4 400.9 C533 401 536.5 403.1 537.2 404.5 C537.9 405.8 538.9 413.2 538.7 414.6 C538.4 416 535.8 418.1 534.3 418.2 C532.9 418.4 526.1 416.6 524.2 416 C522.3 415.5 516.7 413.9 515.5 413.2 C514.3 412.4 512 409.8 512.6 408.8Z" fill="#c8c8c8"/>
<path d="M516.9 408.8 C516.9 407.8 522.7 404.4 524.2 403.7 C525.6 403.1 530.3 402.1 531.4 402.3 C532.6 402.5 535.2 404.8 535.8 405.9 C536.3 407 537.5 412.1 537.2 413.2 C536.9 414.2 534.2 416 532.9 416 C531.6 416.1 525.8 414.6 524.2 413.9 C522.6 413.2 516.9 409.8 516.9 408.8Z" fill="#8f8f8f"/>
<path d="M532.9 409.5 C532.9 409.9 532.6 410.9 532.4 411.1 C532.2 411.4 531.4 412.1 531.1 412.3 C530.7 412.5 529.6 412.7 529.2 412.7 C528.9 412.7 527.8 412.5 527.4 412.3 C527.1 412.1 526.3 411.4 526.1 411.1 C525.9 410.9 525.6 409.9 525.6 409.5 C525.6 409.2 525.9 408.2 526.1 407.9 C526.3 407.7 527.1 406.9 527.4 406.8 C527.8 406.6 528.9 406.4 529.2 406.4 C529.6 406.4 530.7 406.6 531.1 406.8 C531.4 406.9 532.2 407.7 532.4 407.9 C532.6 408.2 532.9 409.2 532.9 409.5Z" fill="#545454"/>
<path d="M535.8 390 C536.3 389.4 539.5 397.1 540.1 398.7 C540.7 400.3 541.6 404.5 541.5 405.9 C541.5 407.4 539.7 411.7 539.4 413.2 C539.1 414.6 538.7 418.9 538.7 420.4 C538.7 421.8 539.4 426.2 539.4 427.6 C539.3 429.1 538.1 433.4 537.9 434.9 C537.7 436.3 537.1 440.8 537.2 442.1 C537.3 443.4 538.9 446.7 539.4 447.9 C539.8 449 541.3 451.9 541.5 453.7 C541.8 455.4 542.7 464.1 542.3 465.2 C541.8 466.4 537.8 466.4 537.2 465.2 C536.6 464.1 536.8 455.5 536.5 453.7 C536.2 451.8 534.7 447.9 534.3 446.4 C533.9 445 532.9 440.5 532.9 439.2 C532.9 437.9 534 434.7 534.3 433.4 C534.6 432.1 535.7 427.6 535.8 426.2 C535.8 424.7 535 420.4 535 418.9 C535 417.5 535.8 413.2 535.8 411.7 C535.7 410.3 534.3 406.6 534.3 404.5 C534.3 402.3 535.2 390.6 535.8 390Z" fill="#8f8f8f"/>
<path d="M474.8 473.9 L478 469.1 L479.2 463.4 L478.1 457.6 L475.8 453.9 L473.7 451.8 L470 449.5 L452.6 446.4 L440.5 440.3 L431 424.5 L426.3 418.1 L424.9 413.6 L425.2 404.3 L423.2 392.8 L421.8 377.4 L418.6 367.1 L413.4 359.9 L410.4 356.9 L404.3 352.4 L389.5 344.7 L387.9 338.3 L383.3 331 L380.4 328.1 L366.8 321.4 L363.1 315.8 L358.7 312 L354.6 310.4 L349.4 310.1 L351.5 323 L356.7 331.4 L373.4 341.8 L375.5 350.2 L381.8 355.4 L390.2 360.6 L398.5 366.9 L404.8 373.2 L407.9 383.6 L409 394.1 L404.3 380 L407.1 389.4 L407.6 398.7 L409.9 415.6 L412.7 425 L420 433.4 L428.7 449.3 L434.5 454.4 L448.9 460.9 L456.2 461.9 L462 461.9 L462 473.9Z" fill="#f2f2f2"/>
<path d="M462 473.7 L466.2 473.7 L469.1 472.6 L472.9 469.2 L474.6 464.4 L473.9 459.3 L471.6 455.9 L468.2 453.7 L456.6 452 L451 450.6 L438 444.2 L436 442.5 L431.9 434.4 L422.2 420.1 L420.4 414.2 L420.7 404.5 L418.7 393.5 L417.4 378.2 L415 370 L413.6 367.6 L409.2 361.8 L402.7 356.7 L385 347.3 L384.3 341.2 L378.4 332.3 L369.8 327.5 L364.4 325.3 L362.3 323.5 L359.6 318.6 L356.5 315.9 L353.6 314.8 L349.8 314.6 L351.5 323 L356.7 331.4 L373.4 341.8 L375.5 350.2 L381.8 355.4 L390.2 360.6 L398.5 366.9 L404.8 373.2 L407.9 383.6 L409 394.1 L404.3 380 L407.1 389.4 L407.6 398.7 L409.9 415.6 L412.7 425 L420 433.4 L428.7 449.3 L434.5 454.4 L448.9 460.9 L456.2 461.9 L462 461.9Z" fill="#c8c8c8"/>
<path d="M462 470.2 L467.5 469.5 L470.4 466.7 L471.2 464 L471.1 462 L469.1 458.4 L465.6 456.5 L456 455.5 L449.8 453.9 L436.1 447.1 L433.2 444.8 L428.9 436.2 L419 421.7 L416.9 414.7 L417.2 404.7 L415.3 394.1 L414 378.9 L410.8 369.7 L406.6 364.2 L400.6 359.5 L382.2 349.7 L381.5 348.8 L381 342.5 L376.1 334.9 L362.5 328.4 L359.4 325.7 L355.9 319.7 L353.5 318.4 L350.5 318.1 L351.5 323 L356.7 331.4 L373.4 341.8 L375.5 350.2 L381.8 355.4 L390.2 360.6 L398.5 366.9 L404.8 373.2 L407.9 383.6 L409 394.1 L404.3 380 L407.1 389.4 L407.6 398.7 L409.9 415.6 L412.7 425 L420 433.4 L428.7 449.3 L434.5 454.4 L448.9 460.9 L456.2 461.9 L462 461.9Z" fill="#8f8f8f"/>
<path d="M462 467.4 L466.2 467.1 L468.2 465 L468.4 462.5 L467.2 460.3 L465 459.1 L455.6 458.2 L448.8 456.5 L434.7 449.4 L431.1 446.5 L426.6 437.7 L416.6 423 L414.2 415 L414.5 404.8 L412.6 394.5 L411.3 379.4 L409.1 372 L404.9 366.3 L398.7 361.5 L380.5 351.8 L378.8 349.8 L378.5 343.5 L374.5 337.1 L367 333.1 L361.1 330.7 L357.3 327.3 L354.4 322 L351 320.7 L351.5 323 L356.7 331.4 L373.4 341.8 L375.5 350.2 L381.8 355.4 L390.2 360.6 L398.5 366.9 L404.8 373.2 L407.9 383.6 L409 394.1 L404.3 380 L407.1 389.4 L407.6 398.7 L409.9 415.6 L412.7 425 L420 433.4 L428.7 449.3 L434.5 454.4 L448.9 460.9 L456.2 461.9 L462 461.9Z" fill="#545454"/>
<path d="M535.3 410.9 L534.3 420.4 L534.9 427.2 L533.6 434.1 L532.9 443.5 L537.3 455.4 L538 463.8 L538.8 466 L542 469.3 L545.9 470.3 L545.2 453.7 L540.8 442.1 L543 427.6 L542.3 420.4 L543 413.2 L545.2 405.9 L544.4 399.4 L558.2 397.2 L557.4 396.1 L559.5 389.9 L558.4 383.6 L559.5 375.2 L561.5 367.9 L558.4 364.8 L559.5 358.5 L565 352.3 L564.1 345.9 L560.7 333.8 L557.9 335.7 L556.1 338.3 L555.5 341.3 L556 346.8 L555 350.4 L552.7 353.8 L551.8 356.6 L551.2 363.2 L552.7 367.6 L551.4 370.6 L551.1 373 L552.9 382.2 L552.1 385.3 L551.2 387.7 L549.5 389 L542.8 390.7 L536.2 395.7 L534.8 400 L536.4 407.2Z" fill="#c8c8c8"/>
<path d="M537.7 411.6 L536.8 420.4 L537.4 427.3 L536.1 434.3 L535.4 443.1 L539.7 454.9 L540.8 464.4 L542.8 466.9 L545.9 467.8 L545.2 453.7 L540.8 442.1 L543 427.6 L542.3 420.4 L543 413.2 L545.2 405.9 L544.4 399.4 L558.2 397.2 L557.4 396.1 L559.5 389.9 L558.4 383.6 L559.5 375.2 L561.5 367.9 L558.4 364.8 L559.5 358.5 L565 352.3 L564.1 345.9 L561.5 336.2 L559.6 337.4 L558.3 339.7 L558.6 347 L557.2 351.5 L554.3 356.9 L553.7 363 L555.5 367.6 L553.6 372.3 L555.4 382.4 L554.5 386.1 L553.3 389.3 L550.6 391.3 L544 392.9 L538.3 397.1 L537.3 400.6 L539 407.2Z" fill="#8f8f8f"/>
<path d="M539.9 412.2 L539.1 420.4 L539.8 427.5 L537.6 442.4 L542 454.4 L542.9 463.5 L544.1 465 L545.9 465.5 L545.2 453.7 L540.8 442.1 L543 427.6 L542.3 420.4 L543 413.2 L545.2 405.9 L544.4 399.4 L556.9 397.5 L557.8 396.8 L557.4 396.1 L559.5 389.9 L558.4 383.6 L559.5 375.2 L561.5 367.9 L558.4 364.8 L559.5 358.5 L565 352.3 L562.2 338.4 L560.5 340.4 L560.9 347.3 L559.3 352.5 L556.7 356.6 L556 362.2 L558.1 367.6 L555.9 372.5 L557.8 382.5 L556.7 386.8 L555.2 390.7 L551.5 393.5 L545.4 394.8 L540.2 398.4 L539.7 400.8 L541.5 406.9Z" fill="#545454"/>
<path d="M356.7 297.4 L368.9 285.2 L375 282.2 L379.5 282.2 L389.8 291.1 L396.3 293.6 L399 293.5 L400.8 292.8 L407.4 288.6 L412.6 280.9 L416 273 L418.4 264.9 L418.6 262.4 L417.8 260 L416.1 258.1 L413.3 256.8 L410.7 256.8 L408.1 258.1 L411.5 261.5 L411.9 263.9 L410 270.5 L406.9 277.8 L402.7 284.1 L397.5 287.2 L392.3 285.1 L381.8 275.7 L373.4 275.7 L365.1 279.9 L350.5 294.5 L349.4 307 L349.6 313.5 L353.1 312.4 L355.2 310Z" fill="#c8c8c8"/>
<path d="M354.8 296.5 L367.7 283.6 L374.5 280.2 L380.2 280.2 L390.2 289.1 L396.7 291.6 L399.8 291 L405.9 287.2 L410.8 279.9 L414.2 272.2 L416.4 264.4 L416 261 L414.9 259.6 L412.9 258.7 L409.5 259.5 L411.5 261.5 L411.9 263.9 L410 270.5 L406.9 277.8 L402.7 284.1 L397.5 287.2 L392.3 285.1 L381.8 275.7 L373.4 275.7 L365.1 279.9 L350.5 294.5 L349.4 311.5 L351.6 311 L353.4 309.1Z" fill="#8f8f8f"/>
<path d="M353.3 295.8 L366.9 282.3 L374.1 278.7 L380.7 278.7 L390.6 287.6 L396.7 290.1 L398.7 289.9 L404.9 286.1 L409.5 279.2 L412.9 271.3 L415.1 263.7 L414.7 261.7 L412.9 260.3 L410.6 260.6 L411.5 261.5 L411.9 263.9 L410 270.5 L406.9 277.8 L402.7 284.1 L397.5 287.2 L392.3 285.1 L381.8 275.7 L373.4 275.7 L365.1 279.9 L350.5 294.5 L349.4 310 L351.1 309.5 L352.3 307.9Z" fill="#545454"/>
<path d="M465.6 241.6 L465.4 245.5 L466.9 249.1 L471.9 254.4 L474.3 255.8 L484.2 257.2 L493.5 255.9 L497.8 257.5 L500.7 257.8 L503.5 257.2 L517.4 250.7 L523.2 244.1 L525.4 239.9 L529.7 242.8 L537.4 244.6 L540.2 244.3 L550.1 240.6 L554.6 240.4 L561.1 253.9 L570.9 267.6 L572.6 271.9 L574.8 274.9 L576.3 275.1 L579.5 273.2 L581.1 267.7 L579.2 262.7 L575.4 258.3 L569.2 248.9 L562.3 233.9 L557.9 231.1 L552.9 230.7 L547.9 231.4 L537.8 235.1 L532.8 233.9 L525.3 227 L520.9 229.5 L517.8 233.9 L515.2 238.9 L511.5 243.3 L500.2 248.3 L495.2 246.4 L490.5 246.4 L484.2 247.7 L477.9 247 L474.8 243.9 L476.1 238.9 L478.6 235.1 L476.7 230.7 L471.7 228.9 L465.4 228.2 L462.4 226.7 L462.3 230.1 L463 232.8 L464.5 235.1 L466.8 237Z" fill="#c8c8c8"/>
<path d="M471.4 235.1 L469 242.5 L468.9 244.9 L470.2 247.7 L474.6 252 L476.8 252.9 L484.2 253.7 L494.1 252.4 L499.9 254.3 L502.3 253.9 L515.2 248 L520.2 242.2 L524.8 234.4 L529.8 239.1 L537.6 241.1 L549.3 237.2 L556 237 L557.4 237.9 L564.1 252.1 L570.6 261.8 L574 265.8 L576 270.9 L577.6 272.6 L579.5 273.2 L581.1 267.7 L579.2 262.7 L575.4 258.3 L569.2 248.9 L562.3 233.9 L557.9 231.1 L552.9 230.7 L547.9 231.4 L537.8 235.1 L532.8 233.9 L525.3 227 L520.9 229.5 L517.8 233.9 L515.2 238.9 L511.5 243.3 L500.2 248.3 L495.2 246.4 L490.5 246.4 L484.2 247.7 L477.9 247 L474.8 243.9 L476.1 238.9 L478.6 235.1 L476.7 230.7 L471.7 228.9 L465.7 228.3 L466.8 232.4 L468.5 234Z" fill="#8f8f8f"/>
<path d="M474.6 234.8 L472.8 237.7 L471.3 244.1 L472.1 246.1 L476 250 L484.2 251.2 L490.8 249.9 L494.6 249.9 L500.4 251.8 L513.7 246 L518.2 240.8 L523.3 232.1 L524.9 231.2 L531.1 236.9 L537.3 238.6 L548.7 234.8 L553 234.2 L556.8 234.5 L559.4 236.2 L566.2 250.8 L572.6 260.3 L576.1 264.5 L578.1 269.6 L580.1 271.1 L581.1 267.7 L579.2 262.7 L575.4 258.3 L569.2 248.9 L562.3 233.9 L557.9 231.1 L552.9 230.7 L547.9 231.4 L537.8 235.1 L532.8 233.9 L525.3 227 L520.9 229.5 L517.8 233.9 L515.2 238.9 L511.5 243.3 L500.2 248.3 L495.2 246.4 L490.5 246.4 L484.2 247.7 L477.9 247 L474.8 243.9 L476.1 238.9 L478.6 235.1 L476.7 230.7 L471.7 228.9 L468.2 228.5 L469.3 231.4 L474.1 233.5Z" fill="#545454"/>
<path d="M465.7 286.7 C466.2 286.4 470.2 286 471.5 286.1 C472.8 286.1 477.2 286.8 478.6 287.4 C479.9 287.9 484 290.3 485 291.2 C486 292.2 488.1 295.8 488.9 297 C489.6 298.2 492 302.3 492.7 303.4 C493.5 304.6 496 307.6 496.6 308.6 C497.2 309.6 498.5 312.6 498.5 313.7 C498.6 314.9 497.7 319.3 497.2 320.2 C496.7 321 494.2 322.3 493.4 322.1 C492.5 321.9 489.8 319.2 488.9 318.2 C487.9 317.3 484.8 313.6 483.7 312.4 C482.7 311.3 479.6 307.8 478.6 306.7 C477.6 305.5 474.3 302.1 473.4 300.9 C472.5 299.6 470.3 295.6 469.6 294.4 C468.9 293.3 466.8 290.1 466.4 289.3 C466 288.5 465.2 287 465.7 286.7Z" fill="#000000"/>
<path d="M502.4 266.8 C503.4 266.8 506.8 268.3 507.5 269 C508.3 269.7 510.1 272.9 510.1 273.9 C510.1 274.8 508.3 277.8 507.5 278.4 C506.8 278.9 503.4 279.7 502.4 279.6 C501.4 279.6 498.3 278.4 497.6 277.7 C496.9 277.1 495.6 274.1 495.6 273.2 C495.6 272.3 496.9 269.6 497.6 269 C498.3 268.3 501.4 266.8 502.4 266.8Z" fill="#000000"/>
<path d="M539 340.5 C539.8 340.6 542.4 342.6 542.9 343.3 C543.4 344 544.4 346.9 544.4 347.8 C544.4 348.7 543.4 351.7 542.9 352.3 C542.4 352.9 539.8 353.7 539 353.6 C538.3 353.5 535.7 351.7 535.2 351 C534.6 350.3 533.6 347.4 533.6 346.5 C533.6 345.6 534.6 342.6 535.2 342 C535.7 341.4 538.3 340.4 539 340.5Z" fill="#000000"/>
</g>
<path d="M370.1 229.5 C370.6 228.8 373.9 228.1 375.1 227.9 C376.4 227.6 381.1 227 382.6 227 C384.1 227 389 227.7 390.2 227.6 C391.3 227.5 393.2 226.2 393.9 225.7 C394.7 225.2 396.8 222.9 397.7 222.6 C398.6 222.3 401.8 222.2 402.7 222.6 C403.6 223 406.5 225.5 407.1 226.4 C407.7 227.2 408.3 230.2 408.3 231.4 C408.4 232.5 407.8 236.4 407.7 237.6 C407.7 238.9 408 242.8 407.7 243.9 C407.5 245 405.8 248 405.2 248.9 C404.6 249.8 402.1 252.2 401.4 252.7 C400.8 253.2 399.7 254 398.9 253.9 C398.2 253.9 394.8 252.4 393.9 252.1 C393 251.7 390.9 250.2 390.2 250.2 C389.4 250.2 387.2 252 386.4 252.1 C385.6 252.1 383.6 251 382.6 250.8 C381.6 250.6 377.5 250.3 376.4 250.2 C375.2 250.1 372 250.1 371.4 249.6 C370.7 249.1 370.2 246.1 370.1 245.2 C370 244.2 370.7 241.1 370.7 240.1 C370.7 239.1 370.2 236.2 370.1 235.1 C370 234.1 369.6 230.2 370.1 229.5Z" fill="#545454"/>
<path d="M373.9 237.6 C374.3 236.7 376.7 234.4 377.6 233.9 C378.5 233.4 381.8 232.5 382.6 232.6 C383.5 232.7 385.8 234.4 386.4 235.1 C387 235.9 388.2 239.1 388.3 240.1 C388.4 241.1 388.2 244.5 387.7 245.2 C387.1 245.9 383.8 246.9 382.6 247 C381.5 247.2 377.3 246.8 376.4 246.4 C375.4 246 373.5 244.2 373.2 243.3 C373 242.4 373.4 238.6 373.9 237.6Z" fill="#8f8f8f"/>
<path d="M376.4 241.4 C376.7 240.6 379.4 237.1 380.1 236.4 C380.8 235.7 382.7 234.3 383.3 234.5 C383.8 234.7 385.5 237.5 385.8 238.3 C386.1 239.1 386.8 242 386.4 242.7 C386 243.3 382.3 244.4 381.4 244.5 C380.4 244.7 377.5 244.2 377 243.9 C376.5 243.6 376.1 242.2 376.4 241.4Z" fill="#c8c8c8"/>
<path d="M374.5 255.2 C375.6 255.2 379.4 259.3 380.1 260.2 C380.8 261.1 381.6 263.1 381.4 264 C381.1 264.9 378.5 268.4 377.6 269 C376.7 269.6 373.4 270 372.6 269.6 C371.8 269.2 369.8 266.2 369.5 265.2 C369.1 264.3 368.6 261.2 369.1 260.2 C369.6 259.2 373.4 255.2 374.5 255.2Z" fill="#545454"/>
<path d="M376.9 263.6 C376.9 263.8 376.7 264.5 376.6 264.7 C376.5 264.9 376 265.4 375.9 265.6 C375.7 265.7 375.1 265.9 374.9 265.9 C374.7 265.9 374 265.7 373.9 265.6 C373.7 265.4 373.2 264.9 373.1 264.7 C373 264.5 372.9 263.8 372.9 263.6 C372.9 263.4 373 262.7 373.1 262.5 C373.2 262.3 373.7 261.8 373.9 261.6 C374 261.5 374.7 261.3 374.9 261.3 C375.1 261.3 375.7 261.5 375.9 261.6 C376 261.8 376.5 262.3 376.6 262.5 C376.7 262.7 376.9 263.4 376.9 263.6Z" fill="#8f8f8f"/>
<path d="M392.7 252.9 C393.7 253 397.7 254.7 398.7 255.4 C399.7 256.2 402.5 259.1 403 260.2 C403.4 261.3 403.3 265.4 403 266.5 C402.7 267.6 400.8 270.6 399.9 271.2 C399 271.8 395.1 272.6 393.9 272.5 C392.8 272.4 389.4 270.7 388.5 270 C387.7 269.3 385.9 266.3 385.6 265.2 C385.4 264.1 385.8 260.2 386.1 259.2 C386.5 258.2 388 255.6 388.7 254.9 C389.3 254.3 391.7 252.9 392.7 252.9Z" fill="#545454"/>
<path d="M397.9 264 C397.9 264.4 397.6 265.5 397.4 265.9 C397.2 266.2 396.4 267 396.1 267.2 C395.7 267.4 394.6 267.7 394.2 267.7 C393.8 267.7 392.6 267.4 392.3 267.2 C392 267 391.1 266.2 390.9 265.9 C390.7 265.5 390.4 264.4 390.4 264 C390.4 263.6 390.7 262.4 390.9 262.1 C391.1 261.8 392 260.9 392.3 260.7 C392.6 260.5 393.8 260.2 394.2 260.2 C394.6 260.2 395.7 260.5 396.1 260.7 C396.4 260.9 397.2 261.8 397.4 262.1 C397.6 262.4 397.9 263.6 397.9 264Z" fill="#8f8f8f"/>
<path d="M395.2 264.6 C395.2 264.7 395.1 265 395 265.1 C394.9 265.2 394.7 265.4 394.6 265.5 C394.4 265.5 394.1 265.6 393.9 265.6 C393.8 265.6 393.4 265.5 393.3 265.5 C393.2 265.4 392.9 265.2 392.8 265.1 C392.8 265 392.7 264.7 392.7 264.6 C392.7 264.5 392.8 264.2 392.8 264.1 C392.9 264 393.2 263.8 393.3 263.7 C393.4 263.7 393.8 263.6 393.9 263.6 C394.1 263.6 394.4 263.7 394.6 263.7 C394.7 263.8 394.9 264 395 264.1 C395.1 264.2 395.2 264.5 395.2 264.6Z" fill="#c8c8c8"/>
<path d="M1209 198 C1208.1 192.6 1199.4 198.1 1197.7 198 C1196.1 197.9 1190.9 197 1189.7 196.9 C1188.5 196.7 1184.4 195.8 1183.3 196.1 C1182.2 196.3 1177.9 199.5 1176.8 200.1 C1175.8 200.7 1171.5 202.8 1170.4 203.3 C1169.3 203.8 1165.1 205.3 1164 205.7 C1162.9 206.1 1158.6 207.9 1157.6 208.1 C1156.5 208.4 1152.2 208.8 1151.1 208.9 C1150.1 209.1 1145.8 209.7 1144.7 209.7 C1143.6 209.7 1139.2 208.7 1138.3 208.9 C1137.3 209.1 1134.4 211.6 1133.4 212.2 C1132.5 212.8 1128.1 215.8 1127 216.2 C1125.9 216.6 1121.7 216.8 1120.6 217 C1119.5 217.2 1115.2 218.3 1114.1 218.6 C1113.1 218.9 1108.9 220.1 1107.7 220.2 C1106.5 220.3 1100.9 220 1099.7 220.2 C1098.5 220.4 1094.3 222.1 1093.2 222.6 C1092.2 223.1 1087.9 225.9 1086.8 226.6 C1085.7 227.4 1081.3 230.7 1080.4 231.4 C1079.4 232.2 1076.4 235.3 1075.6 235.5 C1074.8 235.7 1071.7 234 1070.7 233.9 C1069.8 233.7 1065.2 233.5 1064.3 233.9 C1063.4 234.2 1060.3 237.2 1059.5 237.9 C1058.7 238.5 1055.5 241.2 1054.7 241.9 C1053.9 242.6 1050.5 245.4 1049.8 245.9 C1049.2 246.5 1047.4 248.2 1046.6 248.3 C1045.8 248.5 1041.1 247.7 1040.2 247.5 C1039.3 247.4 1036.2 246.5 1035.4 246.7 C1034.6 246.9 1031.5 249.4 1030.5 249.9 C1029.6 250.5 1025.2 252.7 1024.1 253.2 C1023 253.6 1018.6 255.1 1017.7 255.6 C1016.7 256 1013.7 258 1012.9 258.8 C1012.1 259.6 1008.8 264.1 1008 265.2 C1007.2 266.3 1004 271 1003.2 271.6 C1002.4 272.3 999.5 272.8 998.6 273.3 C997.7 273.8 993 276.6 992.2 277.3 C991.4 278.1 989.6 281.2 989 282.2 C988.3 283.1 985 287.7 984.1 288.6 C983.3 289.5 980.3 292.2 979.3 292.6 C978.4 293 973.8 293.7 972.9 293.4 C972 293.1 969.4 290.2 968.9 289.4 C968.3 288.6 967.1 284.4 966.5 283.8 C965.9 283.1 962.4 281.5 961.6 281.4 C960.8 281.2 957.6 281.8 956.8 282.2 C956 282.6 952.8 285.4 952 286.2 C951.2 287 948.1 290.9 947.2 291.8 C946.2 292.7 941.8 296.2 940.7 296.6 C939.7 297 935.5 296.8 934.3 296.6 C933.1 296.5 927.3 295.6 926.3 295 C925.2 294.5 922.1 290.9 921.4 290.2 C920.8 289.5 918.9 286.5 918.2 286.2 C917.6 285.8 914.3 286 913.4 286.2 C912.5 286.4 908 288.3 907 288.6 C905.9 288.9 901.6 290 900.5 290.2 C899.5 290.4 895.1 290.7 894.1 291 C893.2 291.3 889.9 293.3 889.3 294.2 C888.7 295.1 887.1 300.2 886.9 301.4 C886.7 302.7 886.7 308.3 886.9 309.5 C887 310.7 888.2 314.8 888.5 315.9 C888.8 317 890.6 321.4 890.9 322.3 C891.2 323.3 892.7 326.4 892.5 327.2 C892.3 328 889.3 331.3 888.5 332 C887.7 332.7 883.7 335.5 882.9 336 C882.1 336.5 878.8 337.4 878.8 338.4 C878.9 339.4 882.7 347.1 883.6 348.2 C884.5 349.4 888.7 351.6 890 352.3 C891.4 352.9 898.3 355.1 899.7 355.5 C901 355.8 905 356.3 906.1 356.3 C907.2 356.3 911.8 354.9 912.5 355.5 C913.3 356 914.5 361.8 915 362.7 C915.4 363.6 917 365.9 917.4 365.9 C917.8 365.9 919.5 363.5 919.8 362.7 C920 361.9 920 357.1 920.6 356.3 C921.2 355.5 925.9 353.2 927 353.1 C928.1 352.9 932.4 354.5 933.4 354.7 C934.5 354.9 938.8 355.6 939.9 355.5 C940.9 355.3 945.2 353.4 946.3 353.1 C947.4 352.7 951.7 351.5 952.7 351.4 C953.8 351.4 958.2 352.4 959.2 352.3 C960.1 352.1 963.3 350.3 964 349.8 C964.7 349.4 967.4 346.6 968 346.6 C968.6 346.6 970.6 349.2 971.2 349.8 C971.8 350.4 974.4 353.4 975.2 353.9 C976.1 354.3 980.6 355.3 981.7 355.5 C982.7 355.6 987.2 355.3 988.1 355.5 C989 355.6 992.3 356.6 992.9 357.1 C993.5 357.5 995.3 360.2 995.3 361.1 C995.4 362 994.1 366.5 993.7 367.5 C993.3 368.6 990.8 372.9 990.5 374 C990.2 375 989.5 379.4 989.7 380.4 C989.9 381.3 992.3 384.5 992.9 385.2 C993.6 385.9 997.5 388 997.7 388.4 C998 388.8 995.3 390.1 995.5 390 C995.7 389.9 999.5 388.1 1000.5 387.5 C1001.5 386.9 1006.8 383.3 1008 382.5 C1009.2 381.7 1014.5 378.4 1015.5 377.5 C1016.5 376.6 1019.8 372.5 1020.5 371.2 C1021.2 370 1023.6 364.1 1024.1 362.9 C1024.6 361.7 1026 357.5 1026.5 356.5 C1027.1 355.5 1029.9 351.8 1030.5 350.8 C1031.1 349.9 1033.4 346.2 1033.8 345.2 C1034.2 344.2 1035.1 339.8 1035.4 338.8 C1035.6 337.8 1036.4 334 1037 333.2 C1037.5 332.3 1040.9 329.7 1041.8 329.1 C1042.7 328.6 1047.2 327.2 1048.2 326.7 C1049.3 326.3 1053.7 324 1054.7 323.5 C1055.6 323 1058.8 320.9 1059.5 320.3 C1060.2 319.7 1062 316.8 1062.7 316.3 C1063.4 315.7 1066.7 314.4 1067.5 313.9 C1068.3 313.3 1071.5 310.5 1072.3 309.8 C1073.2 309.2 1076.4 306.2 1077.2 305.8 C1078 305.4 1081.2 304.9 1082 305 C1082.8 305.2 1085.9 307.2 1086.8 307.4 C1087.8 307.7 1092.3 308.3 1093.2 308.2 C1094.2 308.2 1097.7 307.2 1098.1 306.6 C1098.5 306.1 1097.8 302.4 1098.1 301.8 C1098.3 301.2 1100.6 299.5 1101.3 299.4 C1102 299.3 1105.4 300.5 1106.1 301 C1106.8 301.5 1108.8 304.3 1109.3 305 C1109.9 305.8 1111.9 309.3 1112.5 309.8 C1113.2 310.4 1116.4 311.5 1117.4 311.4 C1118.3 311.4 1122.9 309.6 1123.8 309 C1124.7 308.5 1127.9 305.8 1128.6 305 C1129.3 304.3 1131.7 301.1 1131.8 300.2 C1132 299.3 1130.1 295.4 1130.2 294.6 C1130.4 293.7 1132.6 290.3 1133.4 289.7 C1134.2 289.1 1138.8 287.8 1139.9 287.3 C1140.9 286.9 1145.5 284.7 1146.3 284.1 C1147.1 283.5 1148.8 280.7 1149.5 280.1 C1150.2 279.5 1153.4 277.3 1154.3 276.9 C1155.3 276.5 1159.7 275.5 1160.8 275.3 C1161.8 275 1166.3 274.1 1167.2 273.7 C1168.1 273.3 1171.2 271.1 1172 270.5 C1172.8 269.8 1176 266.4 1176.8 265.6 C1177.7 264.9 1180.9 262 1181.7 261.6 C1182.5 261.2 1185.7 260.7 1186.5 260.8 C1187.3 260.9 1190.4 262.2 1191.3 262.4 C1192.3 262.6 1196.3 263.1 1197.7 263.2 C1199.2 263.3 1208.1 268.6 1209 263.2 C1209.9 257.8 1209.9 203.4 1209 198Z" fill="#545454"/>
<path d="M998.2 387.1 C1000 386.4 1012.8 377.8 1014.5 376.5 C1016.3 375.1 1018.4 372.2 1019.3 370.5 C1020.2 368.8 1024.4 357.6 1025.3 355.9 C1026.1 354.2 1028.8 351 1029.4 350.1 C1030 349.1 1031.9 346.2 1032.5 344.7 C1033 343.2 1035.3 333.6 1036 332.2 C1036.7 330.8 1040.2 328.4 1041.2 327.9 C1042.1 327.3 1046.6 325.9 1047.7 325.4 C1048.7 325 1053.1 322.8 1054 322.3 C1054.9 321.8 1057.9 319.8 1058.5 319.2 C1059.2 318.7 1061.1 315.7 1061.8 315.2 C1062.5 314.6 1065.5 313.6 1066.8 312.7 C1068 311.8 1075.1 305.4 1076.4 304.7 C1077.7 303.9 1081.3 303.5 1082.2 303.6 C1083.1 303.7 1086.3 305.8 1087.2 306.1 C1088.1 306.3 1092.3 306.8 1093.1 306.8 C1093.9 306.8 1096.4 306.1 1096.7 305.6 C1097 305.1 1096.5 301.7 1096.9 301.1 C1097.2 300.5 1100.2 298.5 1100.6 298.2 C1100.9 297.9 1100.9 297.9 1101.5 298 C1102 298.1 1105.9 299 1106.9 299.8 C1107.9 300.7 1112.6 307.8 1113.4 308.7 C1114.3 309.5 1116.5 310 1117.3 310 C1118.1 309.9 1122.2 308.3 1123.1 307.8 C1123.9 307.3 1127 304.7 1127.6 304.1 C1128.2 303.4 1130.2 300.8 1130.3 300 C1130.4 299.1 1128.7 295.1 1128.9 294.2 C1129.1 293.2 1131.7 289.3 1132.6 288.6 C1133.4 288 1138.2 286.5 1139.3 286 C1140.4 285.6 1144.6 283.6 1145.4 283 C1146.2 282.4 1147.9 279.6 1148.6 279 C1149.3 278.4 1152.2 276.2 1153.7 275.6 C1155.2 275.1 1165.2 272.9 1166.6 272.4 C1168.1 271.8 1170.4 270 1171.1 269.4 C1171.9 268.7 1175.1 265.3 1176 264.6 C1176.8 263.8 1180.1 260.8 1181 260.4 C1181.9 259.9 1185.7 259.3 1186.5 259.4 C1187.4 259.5 1190.7 260.8 1191.6 261 C1192.6 261.2 1196.5 261.8 1197.8 261.8 C1199.2 261.9 1206.8 267 1207.6 261.8 C1208.4 256.6 1208.4 204.6 1207.6 199.4 C1206.8 194.2 1199.6 199.5 1197.6 199.4 C1195.6 199.2 1185.3 197.4 1183.6 197.5 C1181.9 197.7 1178.5 200.8 1177.5 201.3 C1176.4 201.9 1172.7 203.9 1171 204.6 C1169.4 205.2 1160.1 208.9 1157.9 209.5 C1155.7 210 1146.4 211.1 1144.8 211.1 C1143.1 211.2 1140.1 209.9 1138.6 210.4 C1137.2 210.9 1128.8 216.9 1127.3 217.5 C1125.9 218.2 1122.5 218 1120.8 218.4 C1119.2 218.7 1109.6 221.3 1107.9 221.6 C1106.1 221.9 1101.1 221.4 1099.9 221.6 C1098.8 221.8 1094.9 223.4 1093.9 223.9 C1092.8 224.4 1089.1 226.7 1087.6 227.8 C1086.1 228.9 1077.4 236.2 1076 236.8 C1074.5 237.4 1071.4 235.4 1070.5 235.3 C1069.6 235.1 1066.8 234.1 1064.8 235.3 C1062.9 236.5 1049.7 248.5 1047.2 249.6 C1044.8 250.7 1037 248.1 1035.7 248.2 C1034.3 248.3 1032.1 250.7 1031.2 251.2 C1030.3 251.7 1025.8 253.9 1024.7 254.4 C1023.7 254.9 1019.2 256.4 1018.3 256.8 C1017.4 257.3 1015 258.5 1013.8 259.8 C1012.7 261.1 1005.5 271.4 1004.2 272.6 C1003 273.8 1000.2 274.1 999.2 274.6 C998.3 275.1 994.4 277.1 993.2 278.4 C992 279.6 986.3 288.3 985.2 289.5 C984 290.8 980.8 293.5 979.8 293.9 C978.7 294.4 973.1 294.9 972.1 294.6 C971.1 294.3 968.3 291 967.7 290.2 C967.2 289.4 965.9 285.4 965.4 284.8 C964.9 284.2 962.1 282.9 961.4 282.8 C960.8 282.7 958.1 283.1 957.4 283.5 C956.7 283.8 953.8 286.4 953 287.2 C952.2 288 949.1 291.9 948.1 292.8 C947.1 293.7 942.2 297.6 941 298 C939.8 298.4 935.4 298.2 934.2 298 C932.9 297.9 926.9 296.9 925.7 296.3 C924.6 295.7 921.1 291.9 920.5 291.2 C919.8 290.5 918.1 287.9 917.6 287.6 C917 287.3 914.5 287.4 913.7 287.6 C912.8 287.8 908.4 289.6 907.3 289.9 C906.3 290.3 901.9 291.4 900.9 291.6 C899.8 291.8 895.5 292 894.6 292.3 C893.7 292.6 891 294.3 890.5 295.1 C889.9 295.9 888.5 300.5 888.3 301.7 C888.1 302.9 888.2 308.2 888.3 309.3 C888.4 310.5 889.4 314 889.8 315.5 C890.3 317 893.9 325.8 893.9 327.3 C893.9 328.8 890.5 332.1 889.4 333.1 C888.3 334 881.1 337.8 880.7 339 C880.3 340.1 883.9 346.3 884.7 347.3 C885.5 348.3 889.4 350.4 890.6 351 C891.9 351.5 898.7 353.8 900 354.1 C901.3 354.4 905 354.8 906.1 354.9 C907.2 354.9 912.5 354.2 913.2 354.2 C913.8 354.2 913.6 354.4 913.9 355 C914.1 355.7 915.9 361.3 916.2 362 C916.5 362.8 917.2 363.6 917.4 363.6 C917.5 363.6 918.3 362.8 918.4 362.2 C918.6 361.5 918.8 356.3 919.4 355.5 C920.1 354.6 924.8 351.9 926.5 351.7 C928.2 351.6 938.1 354 939.7 354 C941.3 354 944.9 352 946 351.7 C947 351.4 951.4 350.1 952.5 350.1 C953.6 350 958 350.9 958.9 350.8 C959.8 350.7 962.5 349.1 963.2 348.7 C963.9 348.2 966.9 345.7 967.4 345.4 C967.8 345.1 967.7 344.7 968.4 345.3 C969.1 345.9 974.8 351.9 976 352.6 C977.1 353.3 980.8 353.9 981.8 354.1 C982.9 354.2 987.4 353.9 988.4 354.1 C989.4 354.3 993.4 355.6 994 356.2 C994.7 356.8 996.6 360.3 996.7 361.3 C996.8 362.3 995.4 366.9 995 368 C994.6 369.1 992.2 373.4 991.9 374.4 C991.6 375.4 991 379.2 991.2 380 C991.3 380.9 993.3 383.6 993.9 384.2 C994.5 384.8 996.5 387.7 998.2 387.1Z" fill="#8f8f8f"/>
<path d="M917.1 359.7 C917.3 359.8 917.6 356.1 917.7 355.6 C917.8 355.2 917.6 354.8 918.3 354.3 C919 353.9 924.5 350.3 926.2 350.2 C928 350 937.9 352.4 939.5 352.4 C941.1 352.4 944.5 350.5 945.6 350.1 C946.6 349.8 951.2 348.6 952.3 348.5 C953.4 348.4 957.8 349.3 958.6 349.2 C959.5 349.1 961.7 347.7 962.4 347.3 C963 346.9 966.1 344.3 966.6 344 C967.2 343.7 968.6 343.7 968.9 343.8 C969.2 343.8 969.5 343.9 970.1 344.5 C970.8 345.1 975.8 350.5 976.8 351.1 C977.8 351.8 981 352.4 982 352.5 C983 352.6 987.7 352.4 988.7 352.5 C989.8 352.7 993.6 354.1 994.2 354.3 C994.7 354.6 995 354.8 995.3 355.3 C995.7 355.7 997.8 359.3 998 359.8 C998.3 360.3 998.4 360.8 998.3 361.5 C998.2 362.3 997 367.5 996.5 368.6 C996.1 369.7 993.7 373.9 993.4 374.8 C993.1 375.8 992.7 379 992.8 379.7 C993 380.3 994.6 382.6 995.1 383 C995.5 383.5 998 385.1 998.4 385.2 C998.7 385.4 997.7 385.7 999 384.9 C1000.2 384.1 1011.9 376.5 1013.4 375.3 C1015 374 1017 371.4 1017.9 369.7 C1018.8 368 1023 356.9 1023.8 355.2 C1024.7 353.5 1027.4 350.1 1028 349.2 C1028.6 348.3 1030.4 345.5 1031 344.1 C1031.5 342.7 1033.8 333.4 1034.1 332.3 C1034.4 331.2 1034.3 331.5 1034.8 331 C1035.4 330.6 1039.4 327 1040.4 326.5 C1041.5 325.9 1046 324.4 1047 324 C1048.1 323.5 1052.3 321.4 1053.2 320.9 C1054 320.4 1056.8 318.6 1057.4 318.1 C1058.1 317.5 1060.1 314.5 1060.8 313.9 C1061.5 313.4 1064.6 312.2 1065.9 311.3 C1067.1 310.4 1074.1 304.1 1075.5 303.3 C1076.9 302.6 1081.4 302 1082.4 302 C1083.5 302.1 1086.8 304.3 1087.7 304.5 C1088.6 304.8 1092.3 305.2 1092.9 305.2 C1093.6 305.2 1094.9 304.8 1095.1 304.5 C1095.3 304.1 1095.1 301.6 1095.1 301.2 C1095.2 300.8 1095.7 300 1096 299.6 C1096.4 299.2 1099.3 297.1 1099.7 296.8 C1100.2 296.6 1101 296.3 1101.7 296.4 C1102.3 296.6 1106.8 297.6 1107.8 298.5 C1108.9 299.4 1113.7 306.5 1114.5 307.3 C1115.3 308.1 1116.7 308.3 1117.3 308.3 C1118 308.2 1121.5 306.8 1122.3 306.4 C1123 306 1125.8 303.6 1126.4 303 C1126.9 302.4 1128.5 300.3 1128.6 299.7 C1128.6 299 1127.4 295.6 1127.3 295.1 C1127.2 294.6 1127 294.3 1127.4 293.7 C1127.7 293 1130.2 288.4 1131.6 287.4 C1133 286.4 1143 282.5 1144.4 281.7 C1145.7 280.9 1146.9 278.4 1147.6 277.8 C1148.3 277.2 1151.4 274.8 1153 274.2 C1154.5 273.6 1164.5 271.4 1166 270.9 C1167.4 270.4 1169.4 268.7 1170.1 268.1 C1170.9 267.5 1174.1 264.1 1174.9 263.3 C1175.8 262.6 1179.3 259.4 1180.3 259 C1181.3 258.5 1185.6 257.8 1186.6 257.8 C1187.6 257.8 1191 259.3 1192 259.5 C1192.9 259.7 1196.8 260.2 1197.9 260.2 C1199.1 260.3 1205.3 265.1 1206 260.2 C1206.7 255.3 1206.7 205.9 1206 201 C1205.3 196.1 1199.2 201.1 1197.3 201 C1195.5 200.8 1185.6 199 1184 199.2 C1182.4 199.3 1179.2 202.2 1178.2 202.8 C1177.2 203.3 1173.4 205.3 1171.8 206 C1170.1 206.7 1160.5 210.5 1158.3 211 C1156 211.6 1146.4 212.7 1144.8 212.7 C1143.2 212.8 1140.4 211.5 1139 212.1 C1137.6 212.6 1129.2 218.4 1127.7 219.1 C1126.2 219.7 1122.8 219.6 1121.1 219.9 C1119.5 220.3 1109.8 222.9 1108.1 223.2 C1106.3 223.4 1101.3 223 1100.2 223.2 C1099.1 223.4 1095.6 224.8 1094.6 225.3 C1093.6 225.8 1090 228 1088.5 229.1 C1087 230.2 1077.5 237.6 1076.4 238.3 C1075.3 239.1 1075.4 238.5 1074.9 238.4 C1074.4 238.3 1071 237 1070.3 236.9 C1069.5 236.7 1067.3 235.7 1065.4 236.9 C1063.5 238 1049.5 249.8 1047.9 251 C1046.3 252.2 1047.2 251.4 1046.3 251.3 C1045.3 251.2 1037.2 249.8 1036 249.9 C1034.8 250 1032.8 252.1 1031.9 252.6 C1031 253.1 1026.5 255.4 1025.5 255.8 C1024.4 256.3 1019.9 257.8 1019.1 258.3 C1018.2 258.7 1016.1 259.7 1015 261 C1013.8 262.3 1006.5 272.6 1005.2 273.9 C1004 275.1 1000.8 275.6 999.9 276 C999 276.5 995.5 278.3 994.3 279.5 C993.2 280.8 987.5 289.3 986.3 290.7 C985.2 292 981.4 295 980.3 295.5 C979.1 295.9 973.7 296.4 973 296.4 C972.2 296.5 972.1 296.5 971.5 296.1 C971 295.6 967 291.9 966.4 291.1 C965.8 290.2 964.6 286.5 964.1 286 C963.7 285.4 961.7 284.6 961.2 284.5 C960.7 284.4 958.7 284.7 958.1 285 C957.5 285.3 954.8 287.6 954.1 288.3 C953.4 289.1 950.3 293.1 949.2 294 C948.2 294.9 942.6 299.1 941.3 299.6 C940 300 935.4 299.8 934 299.6 C932.7 299.5 926.3 298.4 925.1 297.8 C923.9 297.2 920 293 919.3 292.3 C918.6 291.6 917.2 289.4 916.8 289.2 C916.3 288.9 914.7 289 914 289.2 C913.2 289.4 908.8 291.2 907.7 291.5 C906.6 291.8 902.3 292.9 901.3 293.1 C900.2 293.3 896 293.6 895.2 293.9 C894.4 294.1 892.3 295.5 891.8 296.1 C891.4 296.8 890 300.9 889.9 301.9 C889.7 303 889.8 308 889.9 309.1 C890 310.2 890.9 313.6 891.4 315 C891.8 316.4 895 325.1 895.4 326.2 C895.7 327.3 895.8 327.4 895.4 328 C895 328.7 891.5 333.3 890.4 334.3 C889.4 335.2 883.1 338.6 882.7 339.6 C882.4 340.6 885.2 345.3 885.9 346.1 C886.6 347 890.1 349 891.3 349.5 C892.5 350 899.1 352.2 900.3 352.5 C901.6 352.8 905.1 353.3 906.1 353.2 C907.1 353.2 911.8 352.5 912.5 352.5 C913.1 352.4 913.9 352.8 914.1 352.9 C914.4 353.1 915 353.7 915.3 354.2 C915.5 354.8 916.9 359.6 917.1 359.7Z" fill="#c8c8c8"/>
<path d="M886 340.5 C885.6 341.3 887.3 343.8 887.9 344.4 C888.4 345 891.3 346.8 892.4 347.2 C893.5 347.7 899.8 349.8 900.9 350.1 C902 350.4 905.1 350.7 906.1 350.7 C907.2 350.7 912.7 350 913.5 350 C914.3 350.1 915.2 350.6 915.5 350.8 C915.8 351 916 352.4 916.9 352.2 C917.8 351.9 924.3 347.8 926.1 347.6 C928 347.4 937.6 349.8 939.2 349.8 C940.8 349.8 943.9 348 945 347.7 C946 347.4 950.8 346.1 951.9 346 C953 345.9 957.4 346.7 958.2 346.6 C959 346.5 960.4 345.6 961 345.2 C961.7 344.8 965.4 341.9 966 341.5 C966.5 341.2 967.7 341.1 968 341.1 C968.4 341.1 969.8 341.4 970.1 341.5 C970.4 341.7 971.2 342.1 971.9 342.7 C972.6 343.3 977.2 348.3 978.1 348.9 C978.9 349.5 981.4 349.9 982.3 350 C983.3 350.1 988.2 349.9 989.3 350.1 C990.3 350.3 994.5 351.8 995.2 352.1 C995.9 352.4 996.9 353.2 997.3 353.8 C997.8 354.3 1000 358.2 1000.3 358.7 C1000.6 359.3 1000.9 360 1000.8 360.8 C1000.7 361.7 999.5 367.6 999.1 368.9 C998.7 370.1 996.2 374.7 995.9 375.6 C995.6 376.4 995.3 378.6 995.4 379 C995.5 379.5 996.6 381 996.9 381.2 C997.1 381.5 997.2 382.9 998.4 382.3 C999.7 381.6 1010.3 374.6 1011.7 373.4 C1013.2 372.2 1014.9 370 1015.7 368.4 C1016.6 366.8 1020.5 356.2 1021.6 354.1 C1022.6 352 1027.8 345 1028.6 343.1 C1029.5 341.3 1031.3 332.8 1031.7 331.6 C1032.1 330.5 1032.4 329.9 1033.1 329.3 C1033.7 328.7 1038.2 324.9 1039.3 324.2 C1040.4 323.6 1045 322.1 1046 321.7 C1047.1 321.2 1051.1 319.2 1051.9 318.7 C1052.7 318.3 1055.1 316.7 1055.7 316.2 C1056.3 315.6 1058.5 312.6 1059.2 312 C1060 311.4 1063.3 310.1 1064.5 309.2 C1065.7 308.3 1073.1 302 1074.1 301.2 C1075.1 300.5 1075.6 300.5 1076.3 300.4 C1076.9 300.3 1081.6 299.6 1082.2 299.5 C1082.9 299.5 1083.4 299.7 1083.9 299.9 C1084.4 300.1 1087.7 301.9 1088.4 302.1 C1089.2 302.3 1092.2 302.8 1092.6 302.6 C1092.9 302.4 1092.7 300.5 1092.8 300.1 C1093 299.7 1093.8 298.2 1094.3 297.8 C1094.8 297.3 1098.3 294.8 1098.9 294.4 C1099.5 294.1 1101.1 293.8 1102 293.9 C1102.9 294.1 1108.3 295.8 1109.3 296.5 C1110.2 297.1 1113.1 300.9 1113.6 301.6 C1114.2 302.3 1115.8 304.9 1116.1 305.2 C1116.4 305.6 1116.8 305.7 1117.3 305.6 C1117.7 305.5 1120.4 304.6 1121 304.2 C1121.6 303.9 1124.1 301.7 1124.5 301.3 C1124.9 300.9 1125.8 299.7 1125.8 299.3 C1125.9 298.8 1124.9 296.1 1124.8 295.6 C1124.7 295 1124.5 293.8 1125 292.9 C1125.4 292.1 1128.5 286.5 1130 285.4 C1131.5 284.3 1141.4 280.5 1142.8 279.7 C1144.1 278.9 1145.3 276.5 1146 275.9 C1146.8 275.2 1150.3 272.6 1151.8 272 C1153.4 271.4 1163.6 269 1164.9 268.6 C1166.3 268.1 1167.8 266.8 1168.5 266.2 C1169.2 265.6 1172.4 262.2 1173.3 261.4 C1174.2 260.6 1178 257.2 1179.1 256.7 C1180.2 256.2 1185.5 255.3 1186.7 255.3 C1187.8 255.3 1191.6 256.8 1192.5 257 C1193.5 257.2 1197.2 257.7 1198.1 257.7 C1199 257.8 1203.1 262.2 1203.5 257.7 C1204 253.2 1204 208 1203.5 203.5 C1203 199 1198.6 203.6 1197 203.5 C1195.4 203.3 1186 201.6 1184.5 201.8 C1183.1 201.9 1180.3 204.5 1179.3 205 C1178.3 205.6 1174.6 207.5 1172.9 208.2 C1171.2 208.9 1161.2 212.9 1158.9 213.5 C1156.5 214.1 1146.5 215.1 1144.9 215.2 C1143.3 215.3 1141 214.1 1139.6 214.7 C1138.2 215.2 1129.8 220.9 1128.3 221.5 C1126.8 222.2 1123.2 222 1121.6 222.4 C1119.9 222.7 1110.1 225.4 1108.4 225.7 C1106.6 225.9 1101.7 225.5 1100.7 225.7 C1099.6 225.9 1096.6 227.1 1095.7 227.6 C1094.8 228 1091.4 230.1 1089.9 231.2 C1088.5 232.2 1079.7 239.2 1078.6 240 C1077.6 240.8 1077.4 240.7 1077.1 240.7 C1076.8 240.8 1075.5 241 1074.9 240.9 C1074.3 240.8 1070.6 239.5 1069.8 239.4 C1069.1 239.2 1068 238.2 1066.3 239.4 C1064.6 240.5 1050.7 252.1 1049 253.3 C1047.4 254.5 1047.5 253.9 1046.5 253.8 C1045.4 253.8 1037.7 252.4 1036.6 252.5 C1035.5 252.6 1033.8 254.4 1033 254.9 C1032.2 255.3 1027.6 257.6 1026.6 258.1 C1025.5 258.5 1021 260.1 1020.2 260.5 C1019.4 260.9 1017.8 261.6 1016.7 262.8 C1015.6 264.1 1008.2 274.4 1006.9 275.7 C1005.6 277 1001.9 277.8 1001 278.3 C1000.1 278.8 997.2 280.2 996.1 281.4 C995 282.5 989.2 291.1 988.1 292.4 C987 293.7 983.4 296.4 982.8 296.8 C982.3 297.3 981.8 297.7 981 297.8 C980.2 298 973.9 298.9 973 298.9 C972.1 298.9 971 298.8 970.3 298.3 C969.6 297.8 965.3 293.8 964.6 292.9 C964 292 962.5 288.3 962.2 287.8 C961.9 287.3 961 287.1 960.8 287.1 C960.5 287 959.6 287.1 959.2 287.3 C958.8 287.6 956.6 289.4 955.9 290.1 C955.1 290.8 951.5 295.3 950.5 296.2 C949.4 297.1 944.3 300.8 943.6 301.3 C942.9 301.8 942.6 302 941.7 302 C940.9 302.1 935.2 302.3 933.8 302.1 C932.3 301.9 925.1 300.4 924.2 300.1 C923.2 299.8 923.1 299.6 922.4 298.9 C921.7 298.2 916.3 292.3 915.6 291.7 C914.9 291.1 915 291.5 914.4 291.7 C913.8 291.9 909.4 293.6 908.3 293.9 C907.3 294.2 902.9 295.3 901.9 295.5 C900.9 295.7 896.8 296.1 896.1 296.3 C895.4 296.5 894.2 297.2 893.9 297.7 C893.6 298.2 892.5 301.4 892.4 302.3 C892.3 303.3 892.3 307.8 892.4 308.8 C892.5 309.8 893.3 312.9 893.7 314.3 C894.2 315.7 897.4 324.3 897.7 325.4 C898.1 326.6 898 327.8 897.9 328.2 C897.9 328.6 897.5 329.6 897.1 330.2 C896.6 330.9 893.3 335 892.4 335.9 C891.5 336.7 886.4 339.8 886 340.5Z" fill="#f2f2f2"/>
<g clip-path="url(#bandclip)">
<path d="M914.5 294.3 L921.2 301.2 L923.9 302.7 L933.5 304.6 L941.5 304.6 L944.9 303.4 L952 298.2 L960.3 289.7 L962.7 294.5 L969.2 300.5 L973.1 301.4 L981.8 300.2 L983.8 299.2 L989.9 294.1 L997.9 283.2 L1008.6 277.6 L1018.4 264.7 L1021.4 262.7 L1027.7 260.3 L1037.2 255.1 L1046.4 256.3 L1049.4 255.8 L1054.6 252.3 L1067.2 241.9 L1069.4 241.9 L1074.6 243.4 L1078.6 242.9 L1091.3 233.2 L1096.8 229.8 L1101.1 228.2 L1108.7 228.1 L1122.1 224.9 L1128.9 224 L1140.2 217.2 L1145 217.7 L1159.5 215.9 L1174 210.5 L1185.1 204.4 L1197.4 206 L1200.5 205.5 L1204.2 202.7 L1205.7 198 L1197.7 198 L1183.3 196.1 L1170.4 203.3 L1157.6 208.1 L1144.7 209.7 L1138.3 208.9 L1127 216.2 L1120.6 217 L1107.7 220.2 L1099.7 220.2 L1093.2 222.6 L1086.8 226.6 L1075.6 235.5 L1070.7 233.9 L1064.3 233.9 L1046.6 248.3 L1035.4 246.7 L1024.1 253.2 L1017.7 255.6 L1012.9 258.8 L1003.2 271.6 L998.6 273.3 L992.2 277.3 L984.1 288.6 L979.3 292.6 L972.9 293.4 L968.9 289.4 L966.5 283.8 L961.6 281.4 L956.8 282.2 L952 286.2 L947.2 291.8 L940.7 296.6 L934.3 296.6 L926.3 295 L918.2 286.2 L913.4 286.2 L900.5 290.2 L894.1 291 L889.3 294.2 L886.9 301.4 L886.9 309.5 L888.5 315.9 L892.5 327.2 L888.5 332 L878.8 338.4 L882.3 345.6 L893.7 338.1 L898.7 332.3 L900.2 329.4 L900.3 325.4 L894.9 308.5 L894.9 302.7 L896 299.3 L897 298.7 L908.9 296.3Z" fill="#c8c8c8"/>
<path d="M881 342.9 L891.7 335.8 L897.3 328.6 L897.4 326.1 L891.9 308.9 L891.9 302.3 L893.5 297.4 L895.9 295.8 L901.8 295 L914.3 291.2 L915.8 291.2 L924.4 299.6 L933.8 301.6 L941.7 301.5 L943.7 300.6 L950.6 295.4 L955.5 289.7 L959 286.9 L960.9 286.5 L962.6 287.4 L965 292.6 L970.6 297.8 L973 298.4 L980.9 297.4 L987.8 292 L995.7 281 L1000.8 277.8 L1006.6 275.4 L1016.3 262.5 L1020 260 L1026.4 257.6 L1036.5 252 L1046 253.3 L1048.4 253 L1066.1 238.9 L1069.9 238.9 L1075 240.4 L1077.5 240.1 L1089.6 230.8 L1095.5 227.1 L1100.6 225.2 L1108.3 225.2 L1121.5 221.9 L1128.2 221 L1139.5 214.1 L1144.9 214.7 L1158.8 213 L1172.7 207.8 L1184.4 201.3 L1199 202.8 L1201.8 201 L1202.7 198 L1197.7 198 L1183.3 196.1 L1170.4 203.3 L1157.6 208.1 L1144.7 209.7 L1138.3 208.9 L1127 216.2 L1120.6 217 L1107.7 220.2 L1099.7 220.2 L1093.2 222.6 L1086.8 226.6 L1075.6 235.5 L1070.7 233.9 L1064.3 233.9 L1046.6 248.3 L1035.4 246.7 L1024.1 253.2 L1017.7 255.6 L1012.9 258.8 L1003.2 271.6 L998.6 273.3 L992.2 277.3 L984.1 288.6 L979.3 292.6 L972.9 293.4 L968.9 289.4 L966.5 283.8 L961.6 281.4 L956.8 282.2 L952 286.2 L947.2 291.8 L940.7 296.6 L934.3 296.6 L926.3 295 L918.2 286.2 L913.4 286.2 L900.5 290.2 L894.1 291 L889.3 294.2 L886.9 301.4 L886.9 309.5 L888.5 315.9 L892.5 327.2 L888.5 332 L878.8 338.4Z" fill="#8f8f8f"/>
<path d="M880.4 341 L890.4 334.3 L895.4 328 L895.4 326.2 L889.9 309.1 L889.9 301.9 L891.8 296.1 L895.2 293.9 L907.7 291.5 L914 289.2 L916.8 289.2 L925.1 297.8 L934 299.6 L941.3 299.6 L949.2 294 L954.1 288.3 L958.1 285 L961.2 284.5 L964.1 286 L966.4 291.1 L971.5 296.1 L973 296.4 L980.3 295.5 L986.3 290.7 L994.3 279.5 L999.9 276 L1005.2 273.9 L1015 261 L1019.1 258.3 L1025.5 255.8 L1036 249.9 L1046.3 251.3 L1047.9 251 L1065.4 236.9 L1070.3 236.9 L1074.9 238.4 L1076.4 238.3 L1088.5 229.1 L1094.6 225.3 L1100.2 223.2 L1108.1 223.2 L1121.1 219.9 L1127.7 219.1 L1139 212.1 L1144.8 212.7 L1158.3 211 L1171.8 206 L1184 199.2 L1197.9 201 L1200 200 L1200.7 198 L1183.3 196.1 L1170.4 203.3 L1157.6 208.1 L1144.7 209.7 L1138.3 208.9 L1127 216.2 L1120.6 217 L1107.7 220.2 L1099.7 220.2 L1093.2 222.6 L1086.8 226.6 L1075.6 235.5 L1070.7 233.9 L1064.3 233.9 L1046.6 248.3 L1035.4 246.7 L1024.1 253.2 L1017.7 255.6 L1012.9 258.8 L1003.2 271.6 L998.6 273.3 L992.2 277.3 L984.1 288.6 L979.3 292.6 L972.9 293.4 L968.9 289.4 L966.5 283.8 L961.6 281.4 L956.8 282.2 L952 286.2 L947.2 291.8 L940.7 296.6 L934.3 296.6 L926.3 295 L918.2 286.2 L913.4 286.2 L900.5 290.2 L894.1 291 L889.3 294.2 L886.9 301.4 L886.9 309.5 L888.5 315.9 L892.5 327.2 L888.5 332 L878.8 338.4Z" fill="#545454"/>
<path d="M1208.7 256.3 L1205.3 252.6 L1200.6 250.5 L1186.9 247.8 L1178.2 249.1 L1173.3 251.6 L1161.9 261.6 L1148.4 265.3 L1141.2 270.1 L1137.9 273.8 L1125.4 279.6 L1122.6 282.5 L1118.8 288.4 L1117.2 294.1 L1114.5 291.1 L1111.4 289.1 L1101.7 286.4 L1095.6 287.7 L1088.1 293.5 L1085.3 292.4 L1081.2 292 L1073.7 293.3 L1071.1 294.3 L1060.4 302.9 L1054.5 306.2 L1050.6 310.6 L1043 314.8 L1034.6 318.3 L1026.8 325 L1024.9 328.4 L1021.6 340.3 L1014.8 350.9 L1011.6 359.5 L1011.2 364.6 L1012.9 369.4 L1015.2 372.4 L1018 374.4 L1020.5 371.2 L1026.5 356.5 L1033.8 345.2 L1037 333.2 L1041.8 329.1 L1054.7 323.5 L1059.5 320.3 L1062.7 316.3 L1067.5 313.9 L1077.2 305.8 L1082 305 L1086.8 307.4 L1093.2 308.2 L1098.1 306.6 L1098.1 301.8 L1101.3 299.4 L1106.1 301 L1112.5 309.8 L1117.4 311.4 L1123.8 309 L1128.6 305 L1131.8 300.2 L1130.2 294.6 L1133.4 289.7 L1146.3 284.1 L1149.5 280.1 L1154.3 276.9 L1167.2 273.7 L1172 270.5 L1181.7 261.6 L1186.5 260.8 L1191.3 262.4 L1197.7 263.2 L1209 263.2Z" fill="#f2f2f2"/>
<path d="M1207.2 263.2 L1206.6 259.8 L1205.2 257.4 L1203.2 255.5 L1200.7 254.2 L1193.4 253.1 L1187.7 251.4 L1179.1 252.5 L1175.6 254.3 L1163.3 264.8 L1150 268.4 L1143.5 272.8 L1140.2 276.6 L1127.5 282.3 L1121.5 290.9 L1120.7 294.5 L1121.5 298.6 L1119 300.7 L1118.1 301 L1113.5 295.1 L1110.8 292.7 L1101.6 289.9 L1096.3 291.3 L1091.6 294.8 L1089.3 298.1 L1085.3 296.1 L1082.4 295.5 L1072.8 297.4 L1062.3 305.9 L1056.7 308.9 L1053 313.2 L1044.4 318 L1036.6 321.2 L1029.6 327.2 L1027.8 330.5 L1024.9 341.6 L1018.3 351.6 L1015.2 359.6 L1014.7 364.1 L1015.9 367.7 L1017.6 369.8 L1020.3 371.6 L1026.5 356.5 L1033.8 345.2 L1037 333.2 L1041.8 329.1 L1054.7 323.5 L1059.5 320.3 L1062.7 316.3 L1067.5 313.9 L1077.2 305.8 L1082 305 L1086.8 307.4 L1093.2 308.2 L1098.1 306.6 L1098.1 301.8 L1101.3 299.4 L1106.1 301 L1112.5 309.8 L1117.4 311.4 L1123.8 309 L1128.6 305 L1131.8 300.2 L1130.2 294.6 L1133.4 289.7 L1146.3 284.1 L1149.5 280.1 L1154.3 276.9 L1167.2 273.7 L1172 270.5 L1181.7 261.6 L1186.5 260.8 L1191.3 262.4 L1197.7 263.2Z" fill="#c8c8c8"/>
<path d="M1204.2 263.2 L1202.5 258.7 L1199.2 256.9 L1192.8 256 L1186.7 254.3 L1178.7 255.9 L1167.9 265.4 L1164.5 267.6 L1151.4 271.1 L1145.4 275.1 L1142.1 278.9 L1129.4 284.7 L1124 292.6 L1123.7 295.1 L1124.8 299.1 L1120.5 303.3 L1117.2 304.6 L1109.8 295.7 L1102.1 292.9 L1098.5 293.5 L1094.2 296.6 L1092.4 298.6 L1091.6 301.5 L1088.7 301.1 L1082.3 298.5 L1074.2 300.1 L1063.9 308.4 L1058.6 311.2 L1055 315.4 L1045.6 320.8 L1038.2 323.7 L1031.9 329.1 L1030.7 331.4 L1027.7 342.8 L1020.9 353.2 L1018 360.6 L1017.7 363.8 L1018.5 366.2 L1021.5 368.9 L1026.5 356.5 L1033.8 345.2 L1037 333.2 L1041.8 329.1 L1054.7 323.5 L1059.5 320.3 L1062.7 316.3 L1067.5 313.9 L1077.2 305.8 L1082 305 L1086.8 307.4 L1093.2 308.2 L1098.1 306.6 L1098.1 301.8 L1101.3 299.4 L1106.1 301 L1112.5 309.8 L1117.4 311.4 L1123.8 309 L1128.6 305 L1131.8 300.2 L1130.2 294.6 L1133.4 289.7 L1146.3 284.1 L1149.5 280.1 L1154.3 276.9 L1167.2 273.7 L1172 270.5 L1181.7 261.6 L1186.5 260.8 L1191.3 262.4 L1197.7 263.2Z" fill="#8f8f8f"/>
<path d="M1201.2 263 L1200.5 261.1 L1199.2 260 L1192.1 259 L1187.3 257.4 L1180 258.5 L1169.8 267.7 L1165.8 270.4 L1152.7 273.8 L1147.3 277.4 L1144 281.3 L1131.3 287 L1126.9 293.5 L1126.8 295.2 L1128 299.6 L1126 302.7 L1122 306 L1117.3 307.7 L1114.8 306.9 L1108.1 298.1 L1101.7 295.9 L1099.5 296.4 L1095.7 299.2 L1094.6 301.1 L1094.6 304.1 L1092.9 304.7 L1087.8 304 L1082.5 301.6 L1075.5 302.7 L1065.6 310.9 L1060.5 313.5 L1057.1 317.7 L1046.8 323.5 L1040.2 326 L1034.2 331 L1030.5 343.9 L1023.3 355.2 L1020.7 362 L1021.1 364.6 L1022.7 366.1 L1026.5 356.5 L1033.8 345.2 L1037 333.2 L1041.8 329.1 L1054.7 323.5 L1059.5 320.3 L1062.7 316.3 L1067.5 313.9 L1077.2 305.8 L1082 305 L1086.8 307.4 L1093.2 308.2 L1098.1 306.6 L1098.1 301.8 L1101.3 299.4 L1106.1 301 L1112.5 309.8 L1117.4 311.4 L1123.8 309 L1128.6 305 L1131.8 300.2 L1130.2 294.6 L1133.4 289.7 L1146.3 284.1 L1149.5 280.1 L1154.3 276.9 L1167.2 273.7 L1172 270.5 L1181.7 261.6 L1186.5 260.8 L1191.3 262.4 L1197.7 263.2Z" fill="#545454"/>
<path d="M940.7 298.2 C940.9 297.4 945.9 294.4 947.2 293.4 C948.5 292.4 952.3 289.5 953.6 288.6 C954.9 287.7 958.9 284.8 960 284.6 C961.2 284.3 964.1 285.5 964.9 286.2 C965.7 286.9 967.3 290.8 968.1 291.8 C968.9 292.8 971.8 295.5 972.9 295.8 C974 296.1 978 295.4 979.3 295 C980.6 294.6 985.4 291.5 985.8 291.8 C986.1 292.1 983.5 297.3 982.5 298.2 C981.6 299.2 977.7 300.9 976.1 301.4 C974.5 302 968.1 303.7 966.5 303.9 C964.9 304 961.3 303.5 960 303.1 C958.7 302.7 955 300 953.6 299.8 C952.2 299.7 946.8 301.6 945.6 301.4 C944.3 301.3 940.6 299 940.7 298.2Z" fill="#c8c8c8"/>
<path d="M890 300 C900.9 299.2 989 296.8 1000 300 C1011 303.2 1000.7 328.5 1000 332.2 C999.3 335.9 995.2 336.7 992.9 337 C990.6 337.3 979.4 335.9 976.8 335.4 C974.3 334.9 969.1 332.6 967.2 332.2 C965.3 331.7 959.2 330.5 957.6 330.5 C955.9 330.5 951.9 331.4 951.1 332.2 C950.3 333 950.2 337.5 949.5 338.6 C948.9 339.6 946 342.1 944.7 342.6 C943.4 343.1 938.3 343.6 936.7 343.4 C935 343.2 930.1 341.6 928.6 341 C927.2 340.4 923.5 337.8 922.2 337.8 C920.9 337.8 917 340.8 915.8 341 C914.5 341.2 910.6 340 909.3 339.4 C908 338.7 904 335.5 902.9 334.6 C901.8 333.6 898.9 330.9 898.1 329.7 C897.3 328.5 895.4 323.9 894.9 322.5 C894.3 321.1 892.8 317.5 892.4 316.1 C892 314.6 891.1 309.6 890.8 308 C890.6 306.4 879.1 300.8 890 300Z" fill="#c8c8c8"/>
<path d="M883.6 338.6 C884.4 337.1 891.6 333 893.2 332.2 C894.9 331.4 898.6 330.1 899.7 330.5 C900.8 331 903.4 335.9 904.5 337 C905.6 338.1 909.5 341.2 910.9 341.8 C912.4 342.4 917.2 343.1 919 343.4 C920.7 343.7 926.7 344.7 928.6 345 C930.5 345.3 936.3 346.5 938.3 346.6 C940.2 346.7 946.3 346.3 947.9 345.8 C949.5 345.3 953.2 342.7 954.3 341.8 C955.5 340.9 957.9 337.7 959.2 337 C960.5 336.3 965.4 334.6 967.2 334.6 C969 334.5 974.9 336.2 976.8 336.2 C978.8 336.2 984.7 334.3 986.5 334.6 C988.3 334.8 993.6 337.2 994.5 338.6 C995.5 340 996.6 346.8 996.1 348.2 C995.7 349.7 991.3 352.6 989.7 353.1 C988.1 353.5 981.7 353.2 980.1 353.1 C978.5 352.9 974.8 352.3 973.6 351.4 C972.4 350.6 969.1 344.5 968 344.2 C966.9 343.9 963.7 347.7 962.4 348.2 C961 348.8 956.1 349.5 954.3 349.8 C952.6 350.2 946.5 351.1 944.7 351.4 C942.9 351.8 938.4 353.1 936.7 353.1 C934.9 353.1 928.8 351.4 927 351.4 C925.2 351.5 920.4 353.6 919 353.9 C917.5 354.1 914.1 353.9 912.5 353.9 C910.9 353.9 904.8 354.1 902.9 353.9 C901 353.6 895 352.2 893.2 351.4 C891.5 350.7 886.2 347.9 885.2 346.6 C884.2 345.3 882.8 340 883.6 338.6Z" fill="#8f8f8f"/>
<path d="M917.4 322.5 C917.8 321.3 921.2 319.9 922.2 320.1 C923.2 320.3 926.4 322.9 927 324.1 C927.7 325.3 928.6 330.5 928.6 332.2 C928.6 333.8 927.8 339.4 927 340.2 C926.2 341 921.5 341 920.6 340.2 C919.7 339.4 918.5 333.9 918.2 332.2 C917.8 330.4 917 323.7 917.4 322.5Z" fill="#8f8f8f"/>
<path d="M896.5 324.1 C897.1 323.4 903.4 322.9 904.5 323.3 C905.6 323.7 907.9 327.3 907.7 328.1 C907.6 329 903.9 331.9 902.9 332.2 C901.9 332.4 898.7 331.4 898.1 330.5 C897.4 329.7 895.8 324.8 896.5 324.1Z" fill="#8f8f8f"/>
<path d="M882.8 337.8 C883.3 336.9 888.7 335 890 334.6 C891.4 334.1 895.7 332.6 896.5 333 C897.3 333.4 898.6 337.8 898.1 338.6 C897.6 339.4 892.9 340.5 891.6 341 C890.4 341.5 886.1 343.7 885.2 343.4 C884.3 343.1 882.3 338.7 882.8 337.8Z" fill="#545454"/>
<path d="M957.6 337 C958.2 336.3 964.1 335.2 965.6 335.4 C967 335.5 971.1 337.6 972 338.6 C972.9 339.5 974.8 344.2 974.4 345 C974.1 345.8 969.9 346.7 968.8 346.6 C967.8 346.5 965 344.6 964 344.2 C963 343.8 959.8 343.3 959.2 342.6 C958.5 341.9 956.9 337.7 957.6 337Z" fill="#545454"/>
<path d="M976 333.8 C976.9 332.9 983.2 332.8 984.9 333 C986.6 333.1 992 334.3 992.9 335.4 C993.8 336.4 994.2 342.1 993.7 343.4 C993.2 344.7 989.5 347.8 988.1 348.2 C986.7 348.6 981.3 348.1 980.1 347.4 C978.9 346.8 976.4 343.2 976 341.8 C975.6 340.4 975.2 334.6 976 333.8Z" fill="#545454"/>
<path d="M899.7 346.6 C901 346.3 910 348.2 912.5 348.2 C915.1 348.3 922.8 347.4 925.4 347.4 C928 347.4 935.9 348.2 938.3 348.2 C940.7 348.3 948.9 347.9 949.5 348.2 C950.2 348.5 946.5 350.8 944.7 351.1 C942.9 351.5 934.4 351.7 931.8 351.8 C929.3 351.9 921.5 352.2 919 352.3 C916.4 352.3 908 352.8 906.1 352.7 C904.2 352.7 900.3 352.1 899.7 351.4 C899 350.8 898.4 346.9 899.7 346.6Z" fill="#545454"/>
<path d="M888.4 346.6 C888.9 346.4 894.1 345.7 894.9 345.8 C895.7 346 896.9 348 896.5 348.2 C896 348.5 890.8 348.7 890 348.6 C889.2 348.4 887.9 346.9 888.4 346.6Z" fill="#c8c8c8"/>
<path d="M936.7 346.6 C937 346.4 943.6 345.7 944.7 345.8 C945.8 345.9 948.2 347.2 947.9 347.4 C947.6 347.7 942.6 348.6 941.5 348.6 C940.4 348.5 936.3 346.9 936.7 346.6Z" fill="#c8c8c8"/>
<path d="M1009.6 266.8 C1011.6 265.2 1017.4 261.5 1019.3 260.4 C1021.2 259.3 1027 256.5 1028.9 255.6 C1030.9 254.6 1036.7 251.1 1038.6 250.7 C1040.5 250.4 1046.6 252.7 1048.2 252.3 C1049.8 252 1053.1 248.6 1054.7 247.5 C1056.3 246.4 1062.7 242.1 1064.3 241.1 C1065.9 240.1 1069.1 238.2 1070.7 237.9 C1072.3 237.6 1078.5 238.4 1080.4 237.9 C1082.3 237.4 1088.1 234 1090 233.1 C1092 232.1 1097.4 229.2 1099.7 228.2 C1101.9 227.3 1110 224.1 1112.5 223.4 C1115.1 222.8 1122.8 222.4 1125.4 221.8 C1128 221.2 1136 217.7 1138.3 217 C1140.5 216.3 1146 214.9 1147.9 214.6 C1149.8 214.2 1156.9 213 1157.6 213.8 C1158.2 214.5 1155.6 221.2 1154.3 221.8 C1153.1 222.4 1146.6 220.2 1144.7 220.2 C1142.8 220.2 1137 221.2 1135 221.8 C1133.1 222.4 1127.7 225.3 1125.4 225.8 C1123.2 226.3 1114.8 226.1 1112.5 226.6 C1110.3 227.2 1104.5 230.5 1102.9 231.4 C1101.3 232.4 1098.1 235.3 1096.5 236.3 C1094.9 237.2 1088.7 240.1 1086.8 241.1 C1084.9 242.1 1079.1 245 1077.2 245.9 C1075.2 246.9 1069.1 249.6 1067.5 250.7 C1065.9 251.9 1062.5 255.9 1061.1 257.2 C1059.6 258.5 1054.5 262.6 1053.1 263.6 C1051.6 264.6 1048.1 266.7 1046.6 266.8 C1045.2 267 1040 265.2 1038.6 265.2 C1037.1 265.2 1033.8 266.3 1032.2 266.8 C1030.5 267.3 1024.3 269.2 1022.5 270 C1020.7 270.8 1016.1 273.7 1014.5 274.9 C1012.9 276 1007.9 280.5 1006.4 281.3 C1005 282.1 1000.6 283.4 1000 282.9 C999.4 282.4 999 278.1 1000 276.5 C1001 274.9 1007.7 268.4 1009.6 266.8Z" fill="#c8c8c8"/>
<path d="M1138.3 221.8 C1139.4 220.8 1146 219.2 1147.9 218.6 C1149.8 217.9 1155.3 216.3 1157.6 215.4 C1159.8 214.4 1168.2 210.2 1170.4 208.9 C1172.7 207.7 1177.5 203.2 1180.1 202.5 C1182.7 201.9 1194.8 198 1196.5 202.5 C1198.1 207 1197.1 242.9 1196.5 247.5 C1195.8 252.2 1191.4 249.1 1189.7 249.1 C1188.1 249.1 1182 247.4 1180.1 247.5 C1178.1 247.7 1172.3 250.6 1170.4 250.7 C1168.5 250.9 1162.5 249.8 1160.8 249.1 C1159 248.5 1154.3 245.1 1152.7 244.3 C1151.1 243.5 1146.1 242.1 1144.7 241.1 C1143.2 240.1 1139.1 235.9 1138.3 234.7 C1137.5 233.4 1136.7 229.5 1136.7 228.2 C1136.7 226.9 1137.1 222.8 1138.3 221.8Z" fill="#c8c8c8"/>
<path d="M1160.8 210.5 C1162.1 209.1 1168.5 206.7 1170.4 205.7 C1172.3 204.8 1178.1 201.5 1180.1 200.9 C1182 200.3 1188.1 200.1 1189.7 200.1 C1191.4 200.1 1195.8 196.2 1196.5 200.9 C1197.1 205.6 1197.1 243.2 1196.5 247.5 C1195.8 251.9 1191 245 1189.7 244.3 C1188.4 243.7 1184.6 241.3 1183.3 241.1 C1182 240.9 1178.1 242.7 1176.8 242.7 C1175.6 242.7 1171.7 240.9 1170.4 241.1 C1169.1 241.3 1165.3 244.3 1164 244.3 C1162.7 244.3 1158.7 241.7 1157.6 241.1 C1156.4 240.5 1154.5 238.4 1152.7 237.9 C1151 237.4 1141.3 237.1 1139.9 236.3 C1138.4 235.5 1137.8 230.8 1138.3 229.8 C1138.7 228.9 1143.2 226.8 1144.7 226.6 C1146.1 226.5 1151.4 228.9 1152.7 228.2 C1154 227.6 1156.8 222 1157.6 220.2 C1158.4 218.4 1159.5 212 1160.8 210.5Z" fill="#8f8f8f"/>
<path d="M1183.3 212.2 C1183.8 210.9 1188.4 209.1 1189.7 208.9 C1191 208.8 1195.8 208.9 1196.5 210.5 C1197.1 212.2 1197.1 223.4 1196.5 225 C1195.8 226.6 1190.9 226.9 1189.7 226.6 C1188.6 226.3 1185.5 223.2 1184.9 221.8 C1184.2 220.4 1182.8 213.4 1183.3 212.2Z" fill="#c8c8c8"/>
<path d="M1162.4 228.2 C1163 227.2 1167.5 225.8 1168.8 225.8 C1170.1 225.8 1174 227.7 1175.2 228.2 C1176.5 228.8 1181.2 230.3 1181.7 231.4 C1182.2 232.6 1180.9 238.4 1180.1 239.5 C1179.3 240.5 1174.9 241.8 1173.6 241.9 C1172.3 242 1168.3 240.9 1167.2 240.3 C1166.1 239.7 1162.9 237.5 1162.4 236.3 C1161.9 235.1 1161.7 229.3 1162.4 228.2Z" fill="#f2f2f2"/>
<path d="M1170.4 233.1 C1171 232.4 1176 230.4 1176.8 230.6 C1177.7 230.9 1179.4 234.7 1179.3 235.5 C1179.1 236.3 1176 238.5 1175.2 238.7 C1174.4 238.8 1171.7 237.6 1171.2 237.1 C1170.7 236.5 1169.9 233.7 1170.4 233.1Z" fill="#a3cce3"/>
<path d="M1157.1 233.9 C1157.1 234.5 1156.4 236.6 1156 237.2 C1155.5 237.8 1153.6 239.4 1152.9 239.7 C1152.2 240 1149.5 240.6 1148.7 240.6 C1147.9 240.6 1145.3 240 1144.5 239.7 C1143.8 239.4 1141.9 237.8 1141.5 237.2 C1141.1 236.6 1140.4 234.5 1140.4 233.9 C1140.4 233.2 1141.1 231.1 1141.5 230.5 C1141.9 229.9 1143.8 228.3 1144.5 228 C1145.3 227.7 1147.9 227.1 1148.7 227.1 C1149.5 227.1 1152.2 227.7 1152.9 228 C1153.6 228.3 1155.5 229.9 1156 230.5 C1156.4 231.1 1157.1 233.2 1157.1 233.9Z" fill="#545454"/>
<path d="M1189.7 233.1 C1190.3 232 1195.8 231.2 1196.5 232.3 C1197.1 233.3 1197.1 242.5 1196.5 243.5 C1195.9 244.5 1191.2 243.7 1190.5 242.7 C1189.8 241.7 1189.1 234.1 1189.7 233.1Z" fill="#545454"/>
<path d="M1006.4 335.6 C1008 334 1014.1 334 1016.1 334 C1018 334 1024.1 334.9 1025.7 335.6 C1027.3 336.2 1031.7 338.9 1032.2 340.4 C1032.6 341.8 1031.2 348.3 1030.5 350 C1029.9 351.8 1026.5 356.8 1025.7 358.1 C1024.9 359.4 1025.1 362.4 1022.5 362.9 C1019.9 363.4 1002.3 364.2 1000 362.9 C997.7 361.6 999.4 352.8 1000 350 C1000.6 347.3 1004.8 337.2 1006.4 335.6Z" fill="#8f8f8f"/>
<path d="M1000 324.3 C1001 323.3 1007.7 326.9 1009.6 327.5 C1011.6 328.2 1017.4 330.6 1019.3 330.7 C1021.2 330.9 1027.3 329.8 1028.9 329.1 C1030.5 328.5 1035 323.8 1035.4 324.3 C1035.7 324.8 1033.3 332.8 1032.2 334 C1031 335.1 1025.7 335.6 1024.1 335.6 C1022.5 335.6 1017.7 334 1016.1 334 C1014.5 334 1009.6 335.2 1008 335.6 C1006.4 335.9 1000.8 338.3 1000 337.2 C999.2 336 999 325.3 1000 324.3Z" fill="#c8c8c8"/>
<path d="M1024.1 348.1 C1024.1 348.9 1023.4 351.4 1022.9 352.1 C1022.5 352.8 1020.5 354.7 1019.7 355.1 C1018.9 355.5 1016.2 356.1 1015.3 356.1 C1014.4 356.1 1011.6 355.5 1010.9 355.1 C1010.1 354.7 1008.1 352.8 1007.6 352.1 C1007.2 351.4 1006.4 348.9 1006.4 348.1 C1006.4 347.3 1007.2 344.8 1007.6 344.1 C1008.1 343.4 1010.1 341.5 1010.9 341.1 C1011.6 340.7 1014.4 340.1 1015.3 340.1 C1016.2 340.1 1018.9 340.7 1019.7 341.1 C1020.5 341.5 1022.5 343.4 1022.9 344.1 C1023.4 344.8 1024.1 347.3 1024.1 348.1Z" fill="#545454"/>
<path d="M1040.2 316.3 C1041.6 314.3 1046.5 309.4 1048.2 308.2 C1050 307.1 1055.9 305.8 1057.9 305 C1059.8 304.2 1065.6 301.5 1067.5 300.2 C1069.5 298.9 1075.2 293.6 1077.2 292.2 C1079.1 290.7 1084.9 286.2 1086.8 285.7 C1088.7 285.2 1094.5 287 1096.5 287.3 C1098.4 287.7 1104.2 288.9 1106.1 288.9 C1108 288.9 1114.1 288.1 1115.8 287.3 C1117.4 286.5 1120.9 282.3 1122.2 280.9 C1123.5 279.5 1127 274.1 1128.6 272.9 C1130.2 271.6 1136.3 268.8 1138.3 268 C1140.2 267.2 1145.7 265.3 1147.9 264.8 C1150.2 264.3 1158.2 263.7 1160.8 263.2 C1163.3 262.7 1171.9 259.8 1173.6 260 C1175.4 260.2 1178.8 263.5 1178.5 264.8 C1178.1 266.1 1172.2 271.8 1170.4 272.9 C1168.6 273.9 1162.7 274.7 1160.8 275.3 C1158.8 275.8 1152.7 277.6 1151.1 278.5 C1149.5 279.4 1146.1 283.1 1144.7 284.1 C1143.2 285.2 1137.9 287.9 1136.7 288.9 C1135.4 290 1132.6 293.1 1131.8 294.6 C1131 296 1129.6 302 1128.6 303.4 C1127.7 304.8 1123.5 307.7 1122.2 308.2 C1120.9 308.8 1116.9 309.4 1115.8 309 C1114.6 308.7 1111.9 305.9 1110.9 305 C1110 304.1 1107.2 300.8 1106.1 300.2 C1105 299.6 1100.6 298.9 1099.7 299.4 C1098.7 299.9 1097.6 304.3 1096.5 305 C1095.3 305.7 1090 306.7 1088.4 306.6 C1086.8 306.5 1081.8 304.1 1080.4 304.2 C1078.9 304.4 1075.2 307.3 1074 308.2 C1072.7 309.1 1068.8 312.1 1067.5 313.1 C1066.2 314 1062.4 316.9 1061.1 317.9 C1059.8 318.8 1056.1 321.9 1054.7 322.7 C1053.2 323.5 1048.1 325.4 1046.6 325.9 C1045.2 326.5 1041.3 327.7 1040.2 328.3 C1039.1 329 1036 332.4 1035.4 332.3 C1034.7 332.3 1033.3 329.1 1033.8 327.5 C1034.2 325.9 1038.7 318.2 1040.2 316.3Z" fill="#c8c8c8"/>
<path d="M1069.1 298.6 C1070.2 297.9 1075.4 296.6 1077.2 296.2 C1078.9 295.8 1084.9 294.6 1086.8 294.6 C1088.7 294.6 1094.9 295.9 1096.5 296.2 C1098.1 296.5 1102.7 297.3 1102.9 297.8 C1103.1 298.3 1098.6 300.2 1098.1 301 C1097.5 301.8 1098.1 305.2 1097.3 305.8 C1096.5 306.4 1091.6 307.1 1090 306.9 C1088.5 306.8 1083.4 304.3 1082 304.2 C1080.5 304.1 1076.7 305.3 1075.6 305.8 C1074.4 306.3 1071.6 309.3 1070.7 309 C1069.9 308.8 1066.9 304.5 1066.7 303.4 C1066.6 302.4 1068.1 299.3 1069.1 298.6Z" fill="#8f8f8f"/>
<path d="M1110.9 297 C1111.7 296 1117.2 293.1 1119 292.2 C1120.7 291.2 1126.8 288 1128.6 287.3 C1130.4 286.7 1135 286.4 1136.7 285.7 C1138.3 285.1 1143.1 281.9 1144.7 280.9 C1146.3 279.9 1151.1 276.8 1152.7 276.1 C1154.3 275.4 1159 274.3 1160.8 273.7 C1162.5 273 1168.8 270.5 1170.4 269.6 C1172 268.8 1175.9 265.5 1176.8 264.8 C1177.8 264.2 1180.2 262.7 1180.1 263.2 C1179.9 263.7 1176.5 268.5 1175.2 269.6 C1174 270.8 1169.1 273.7 1167.2 274.5 C1165.3 275.3 1157.7 277 1155.9 277.7 C1154.2 278.3 1150.6 280.2 1149.5 280.9 C1148.5 281.6 1146.9 284 1145.5 284.9 C1144.1 285.8 1136.5 288.8 1135 289.7 C1133.6 290.7 1131.4 293.5 1131 294.6 C1130.7 295.6 1132.2 299.1 1131.8 300.2 C1131.4 301.3 1128.3 304.9 1127 305.8 C1125.7 306.8 1120.3 309.7 1119 309.8 C1117.6 310 1114.1 308.2 1113.3 307.4 C1112.5 306.6 1111.2 302.8 1110.9 301.8 C1110.7 300.8 1110.1 297.9 1110.9 297Z" fill="#8f8f8f"/>
<path d="M1119 295.4 C1120.1 294 1125.7 291.3 1127 290.5 C1128.3 289.8 1131.5 287.7 1131.8 288.1 C1132.2 288.5 1130.3 293.4 1130.2 294.6 C1130.1 295.8 1131.4 299.1 1131 300.2 C1130.7 301.2 1128.1 304.2 1127 305 C1125.9 305.8 1120.9 308.3 1119.8 308.2 C1118.6 308.2 1115.8 305.5 1115.8 304.2 C1115.7 302.9 1117.8 296.7 1119 295.4Z" fill="#545454"/>
<path d="M929.5 314.3 C929.6 313 933 308.8 934.3 307.9 C935.6 306.9 940.4 305.5 942.3 304.7 C944.3 303.9 951.8 300 953.6 299.8 C955.4 299.7 958.7 302.6 960 303.1 C961.3 303.5 964.9 304.8 966.5 304.7 C968.1 304.5 974.2 302.3 976.1 301.4 C978 300.6 983.8 297.9 985.8 296.6 C987.7 295.3 993.6 290.4 995.4 288.6 C997.2 286.8 1001.8 280.7 1003.4 278.9 C1005 277.2 1009.7 272.3 1011.5 270.9 C1013.2 269.5 1019.2 265 1021.1 264.5 C1023.1 264 1029.5 266.6 1030.8 266.1 C1032.1 265.6 1034 260.8 1034 259.6 C1034 258.5 1030.5 255.6 1030.8 254.8 C1031.1 254 1035.9 251.4 1037.2 251.6 C1038.5 251.8 1042.8 255.3 1043.6 256.4 C1044.4 257.6 1044.3 261.9 1045.2 262.9 C1046.2 263.8 1051.8 266.4 1053.3 266.1 C1054.7 265.8 1058 260.8 1059.7 259.6 C1061.4 258.5 1069 249.4 1070 254.8 C1071 260.3 1071 308.4 1070 314.3 C1069 320.3 1061.7 313.8 1059.7 314.3 C1057.7 314.8 1051.7 318 1050.1 319.1 C1048.5 320.3 1044.9 324.6 1043.6 325.6 C1042.3 326.5 1038.8 328.3 1037.2 328.8 C1035.6 329.3 1029.8 330.4 1027.6 330.4 C1025.3 330.4 1016.8 328.8 1014.7 328.8 C1012.6 328.8 1008.3 330.5 1006.7 330.4 C1005 330.2 1000.4 327.7 998.6 327.2 C996.8 326.7 990.9 325.7 989 325.6 C987 325.4 981.3 325.7 979.3 325.6 C977.4 325.4 971.6 324.1 969.7 324 C967.7 323.8 962 323.8 960 324 C958.1 324.1 952.2 325.1 950.4 325.6 C948.6 326 943.5 327.7 942.3 328.8 C941.2 329.9 939.8 335.5 939.1 336.8 C938.5 338.1 936.4 342 935.9 341.6 C935.4 341.3 934.3 335.2 934.3 333.6 C934.3 332 936.1 326.8 935.9 325.6 C935.8 324.3 933.3 321.9 932.7 320.7 C932.1 319.6 929.3 315.6 929.5 314.3Z" fill="#f2f2f2"/>
<path d="M998.6 335.2 C999.4 334.2 1002.6 331.8 1003.4 332 C1004.2 332.2 1006.5 335.4 1006.7 336.8 C1006.8 338.3 1005.7 345 1005 346.5 C1004.4 347.9 1001.1 351.1 1000.2 351.3 C999.3 351.4 996.7 349 996.2 348.1 C995.7 347.1 995.2 342.9 995.4 341.6 C995.6 340.4 997.8 336.2 998.6 335.2Z" fill="#f2f2f2"/>
<path d="M917.4 306.3 C917.4 307.5 916.3 311.5 915.7 312.5 C915.1 313.6 912.1 316.5 911 317.1 C909.9 317.8 905.9 318.8 904.6 318.8 C903.3 318.8 899.2 317.8 898.1 317.1 C897 316.5 894.1 313.6 893.4 312.5 C892.8 311.5 891.7 307.5 891.7 306.3 C891.7 305 892.8 301.1 893.4 300 C894.1 298.9 897 296 898.1 295.4 C899.2 294.8 903.3 293.7 904.6 293.7 C905.9 293.7 909.9 294.8 911 295.4 C912.1 296 915.1 298.9 915.7 300 C916.3 301.1 917.4 305 917.4 306.3Z" fill="#f2f2f2"/>
<path d="M1043.6 257.2 C1043.6 257.8 1043.1 259.6 1042.8 260.1 C1042.5 260.6 1041.1 262 1040.6 262.2 C1040 262.5 1038.1 263 1037.5 263 C1036.9 263 1035 262.5 1034.5 262.2 C1033.9 262 1032.5 260.6 1032.2 260.1 C1031.9 259.6 1031.4 257.8 1031.4 257.2 C1031.4 256.7 1031.9 254.8 1032.2 254.3 C1032.5 253.8 1033.9 252.5 1034.5 252.2 C1035 251.9 1036.9 251.4 1037.5 251.4 C1038.1 251.4 1040 251.9 1040.6 252.2 C1041.1 252.5 1042.5 253.8 1042.8 254.3 C1043.1 254.8 1043.6 256.7 1043.6 257.2Z" fill="#f2f2f2"/>
<path d="M1044.2 257.7 C1044.2 258.3 1043.7 260.2 1043.4 260.7 C1043 261.2 1041.6 262.6 1041 262.9 C1040.4 263.2 1038.4 263.8 1037.8 263.8 C1037.1 263.8 1035.1 263.2 1034.6 262.9 C1034 262.6 1032.5 261.2 1032.2 260.7 C1031.9 260.2 1031.4 258.3 1031.4 257.7 C1031.4 257 1031.9 255.1 1032.2 254.6 C1032.5 254.1 1034 252.7 1034.6 252.4 C1035.1 252.1 1037.1 251.5 1037.8 251.5 C1038.4 251.5 1040.4 252.1 1041 252.4 C1041.6 252.7 1043 254.1 1043.4 254.6 C1043.7 255.1 1044.2 257 1044.2 257.7Z" fill="#f2f2f2"/>
<path d="M979.3 314.3 C980 313.4 984.5 310.8 985.8 309.5 C987 308.2 990.9 303.1 992.2 301.4 C993.5 299.8 997.2 295.2 998.6 293.4 C1000.1 291.6 1005 285.7 1006.7 283.8 C1008.3 281.8 1013.2 275.9 1014.7 274.1 C1016.1 272.3 1020.2 267 1021.1 266.1 C1022.1 265.2 1023.5 264.8 1024.3 265.3 C1025.1 265.8 1028.5 269.5 1029.2 270.9 C1029.8 272.3 1030.5 277.6 1030.8 278.9 C1031.1 280.3 1031.6 283.9 1032.4 284.6 C1033.2 285.2 1037.7 285.9 1038.8 285.4 C1039.9 284.8 1042.8 280.1 1043.6 278.9 C1044.4 277.8 1045.9 274.8 1046.8 274.1 C1047.8 273.5 1052 273.3 1053.3 272.5 C1054.6 271.7 1058.7 267.2 1059.7 266.1 C1060.7 265 1061.9 262 1062.9 261.3 C1064 260.5 1069.3 255.1 1070 258.8 C1070.7 262.5 1070.7 293.8 1070 298.2 C1069.3 302.7 1064.6 302.4 1062.9 303.1 C1061.3 303.7 1055 304.2 1053.3 304.7 C1051.5 305.1 1046.5 306.9 1045.2 307.9 C1044 308.8 1041.2 313 1040.4 314.3 C1039.6 315.6 1038.2 319.8 1037.2 320.7 C1036.2 321.7 1032.2 323.3 1030.8 324 C1029.3 324.6 1024.2 326.8 1022.7 327.2 C1021.3 327.6 1017.4 328.5 1016.3 328 C1015.2 327.5 1012.6 323.2 1011.5 322.3 C1010.4 321.5 1006.5 319.8 1005 319.1 C1003.6 318.5 998.3 316.4 997 315.9 C995.7 315.4 993 314 992.2 314.3 C991.4 314.6 989.9 318.5 989 319.1 C988 319.8 983.5 320.8 982.5 320.7 C981.6 320.7 979.6 319 979.3 318.3 C979 317.7 978.7 315.2 979.3 314.3Z" fill="#a3cce3"/>
<path d="M1077.2 247.5 C1079.1 246.2 1084.9 243.7 1086.8 242.7 C1088.7 241.7 1094.9 239 1096.5 237.9 C1098.1 236.8 1101.3 232.6 1102.9 231.4 C1104.5 230.3 1110.6 227.3 1112.5 226.6 C1114.5 226 1120.4 225 1122.2 225 C1124 225 1129.1 225.8 1130.2 226.6 C1131.4 227.4 1133 231.6 1133.4 233.1 C1133.9 234.5 1133.9 240 1135 241.1 C1136.2 242.2 1143.1 243.3 1144.7 244.3 C1146.3 245.3 1150.5 249.5 1151.1 250.7 C1151.8 252 1151.8 255.7 1151.1 257.2 C1150.5 258.6 1146 264.2 1144.7 265.2 C1143.4 266.3 1139.9 267.8 1138.3 267.6 C1136.7 267.5 1130.2 263.4 1128.6 263.6 C1127 263.8 1123.2 268.1 1122.2 270 C1121.2 272 1127.2 281.6 1119 282.9 C1110.8 284.2 1047.6 283.5 1040.2 282.9 C1032.8 282.3 1043.6 277.6 1045 276.5 C1046.5 275.3 1053.2 272.9 1054.7 271.6 C1056.1 270.4 1058.2 265.2 1059.5 263.6 C1060.8 262 1065.8 257.2 1067.5 255.6 C1069.3 254 1075.2 248.8 1077.2 247.5Z" fill="#a3cce3"/>
<path d="M1000 279.3 C1001.6 276.6 1007.7 274.1 1009.6 272.9 C1011.6 271.6 1018 266.4 1019.3 266.4 C1020.6 266.4 1021.5 271.4 1022.5 272.9 C1023.5 274.3 1027.5 279.6 1028.9 280.9 C1030.4 282.2 1035.9 285.9 1037 285.7 C1038.1 285.6 1039.2 280.6 1040.2 279.3 C1041.2 278 1045.2 273.8 1046.6 272.9 C1048.1 271.9 1053.2 270.5 1054.7 269.6 C1056.1 268.8 1059.8 265.9 1061.1 264.8 C1062.4 263.7 1059.2 259 1067.5 258.4 C1075.9 257.7 1137.3 257.6 1144.7 258.4 C1152.1 259.2 1142.8 265.5 1141.5 266.4 C1140.2 267.4 1133.8 267.2 1131.8 268 C1129.9 268.8 1123.5 273 1122.2 274.5 C1120.9 275.9 1119.9 281.4 1119 282.5 C1118 283.6 1114 285.6 1112.5 285.7 C1111.1 285.9 1106.1 284.1 1104.5 284.1 C1102.9 284.1 1098.2 285.7 1096.5 285.7 C1094.7 285.7 1088.6 283.8 1086.8 284.1 C1085 284.4 1080.2 287.8 1078.8 288.9 C1077.3 290.1 1073.8 294.1 1072.3 295.4 C1070.9 296.7 1066.1 300.8 1064.3 301.8 C1062.5 302.8 1056.4 304.4 1054.7 305 C1052.9 305.7 1048.1 307.1 1046.6 308.2 C1045.2 309.4 1041.6 314.7 1040.2 316.3 C1038.7 317.9 1033.8 323.2 1032.2 324.3 C1030.5 325.4 1025.7 327 1024.1 327.5 C1022.5 328 1017.5 329.5 1016.1 329.1 C1014.6 328.8 1011.3 325.1 1009.6 324.3 C1008 323.5 1001.6 323.5 1000 321.1 C998.4 318.7 993.6 304.4 993.6 300.2 C993.6 296 998.4 282 1000 279.3Z" fill="#a3cce3"/>
<path d="M1006.4 282.9 C1007.1 281.8 1011.4 276.6 1012.9 274.9 C1014.3 273.1 1019.6 265.7 1020.9 265.2 C1022.2 264.7 1024.9 268.6 1025.7 270 C1026.5 271.5 1028.5 278.1 1028.9 279.7 C1029.4 281.3 1032.8 285.5 1030.5 286.1 C1028.3 286.8 1008.8 286.4 1006.4 286.1 C1004 285.8 1005.8 284 1006.4 282.9Z" fill="#a3cce3"/>
<path d="M913.7 307.1 C913.7 308 912.9 310.7 912.4 311.5 C912 312.3 909.7 314.3 908.9 314.7 C908.1 315.2 905 315.9 904.1 315.9 C903.1 315.9 900.1 315.2 899.3 314.7 C898.4 314.3 896.2 312.3 895.7 311.5 C895.2 310.7 894.4 308 894.4 307.1 C894.4 306.2 895.2 303.4 895.7 302.7 C896.2 301.9 898.4 299.9 899.3 299.4 C900.1 299 903.1 298.2 904.1 298.2 C905 298.2 908.1 299 908.9 299.4 C909.7 299.9 912 301.9 912.4 302.7 C912.9 303.4 913.7 306.2 913.7 307.1Z" fill="#a3cce3"/>
<path d="M940.3 314.3 C940.5 313.9 944.5 311.1 945.6 310.3 C946.7 309.5 950.5 306.4 951.2 306.3 C951.9 306.1 953 308 952.8 308.7 C952.6 309.3 949.7 312.1 948.8 312.7 C947.8 313.3 944 314.5 943.2 314.6 C942.3 314.8 940 314.7 940.3 314.3Z" fill="#a3cce3"/>
<path d="M1039.9 256.8 C1039.9 257 1039.7 257.6 1039.6 257.8 C1039.5 258 1038.9 258.5 1038.7 258.6 C1038.5 258.7 1037.8 258.8 1037.5 258.8 C1037.3 258.8 1036.5 258.7 1036.3 258.6 C1036.1 258.5 1035.6 258 1035.4 257.8 C1035.3 257.6 1035.1 257 1035.1 256.8 C1035.1 256.5 1035.3 255.9 1035.4 255.7 C1035.6 255.5 1036.1 255 1036.3 254.9 C1036.5 254.8 1037.3 254.7 1037.5 254.7 C1037.8 254.7 1038.5 254.8 1038.7 254.9 C1038.9 255 1039.5 255.5 1039.6 255.7 C1039.7 255.9 1039.9 256.5 1039.9 256.8Z" fill="#a3cce3"/>
<path d="M1040.4 256.8 C1040.4 257.1 1040.1 257.8 1040 258 C1039.9 258.2 1039.3 258.7 1039.1 258.8 C1038.8 258.9 1038 259.1 1037.8 259.1 C1037.5 259.1 1036.7 258.9 1036.5 258.8 C1036.3 258.7 1035.7 258.2 1035.6 258 C1035.4 257.8 1035.2 257.1 1035.2 256.8 C1035.2 256.6 1035.4 255.9 1035.6 255.7 C1035.7 255.5 1036.3 255 1036.5 254.9 C1036.7 254.8 1037.5 254.6 1037.8 254.6 C1038 254.6 1038.8 254.8 1039.1 254.9 C1039.3 255 1039.9 255.5 1040 255.7 C1040.1 255.9 1040.4 256.6 1040.4 256.8Z" fill="#a3cce3"/>
<path d="M1003.5 344.1 C1003.3 344.7 1002.4 346.4 1002.1 346.8 C1001.7 347.3 1000.5 348.3 1000.1 348.5 C999.7 348.7 998.5 348.8 998.1 348.7 C997.8 348.5 996.9 347.7 996.8 347.3 C996.6 346.9 996.3 345.3 996.3 344.7 C996.3 344.2 996.7 342.3 996.9 341.7 C997.1 341.1 998 339.4 998.4 339 C998.7 338.6 1000 337.5 1000.4 337.3 C1000.8 337.2 1002 337.1 1002.3 337.2 C1002.6 337.3 1003.5 338.2 1003.7 338.6 C1003.9 339 1004.2 340.5 1004.1 341.1 C1004.1 341.7 1003.8 343.6 1003.5 344.1Z" fill="#a3cce3"/>
<path d="M1000 337.2 C1000.3 336 1002.9 339.1 1003.2 340.4 C1003.5 341.7 1003.5 348.9 1003.2 350 C1002.9 351.2 1000.3 352.9 1000 351.6 C999.7 350.4 999.7 338.3 1000 337.2Z" fill="#a3cce3"/>
<path d="M1119 245.9 C1119 246.2 1118.4 247.2 1118 247.5 C1117.6 247.8 1116 248.5 1115.4 248.7 C1114.7 248.9 1112.5 249.1 1111.7 249.1 C1111 249.1 1108.7 248.9 1108.1 248.7 C1107.5 248.5 1105.8 247.8 1105.5 247.5 C1105.1 247.2 1104.5 246.2 1104.5 245.9 C1104.5 245.6 1105.1 244.6 1105.5 244.3 C1105.8 244 1107.5 243.3 1108.1 243.1 C1108.7 243 1111 242.7 1111.7 242.7 C1112.5 242.7 1114.7 243 1115.4 243.1 C1116 243.3 1117.6 244 1118 244.3 C1118.4 244.6 1119 245.6 1119 245.9Z" fill="#f2f2f2"/>
<path d="M1088.7 260.4 C1088.7 260.7 1088.6 261.8 1088.5 262.2 C1088.4 262.5 1087.9 263.3 1087.8 263.4 C1087.6 263.6 1087 263.9 1086.8 263.9 C1086.6 263.9 1086 263.6 1085.9 263.4 C1085.7 263.3 1085.2 262.5 1085.1 262.2 C1085 261.8 1084.9 260.7 1084.9 260.4 C1084.9 260 1085 258.9 1085.1 258.6 C1085.2 258.3 1085.7 257.5 1085.9 257.3 C1086 257.1 1086.6 256.8 1086.8 256.8 C1087 256.8 1087.6 257.1 1087.8 257.3 C1087.9 257.5 1088.4 258.3 1088.5 258.6 C1088.6 258.9 1088.7 260 1088.7 260.4Z" fill="#f2f2f2"/>
<path d="M1032.2 260 C1034.6 259 1051.1 259.4 1053.1 260 C1055 260.6 1052.3 265.1 1051.4 266.4 C1050.6 267.7 1046.1 271.6 1045 272.9 C1043.9 274.1 1040.8 278 1040.2 279.3 C1039.5 280.6 1039.2 285 1038.6 285.7 C1037.9 286.4 1034.6 287.2 1033.8 286.5 C1033 285.9 1031 281 1030.5 279.3 C1030.1 277.6 1028.8 271.6 1028.9 269.6 C1029.1 267.7 1029.7 261 1032.2 260Z" fill="#f2f2f2"/>
<path d="M1119 269.6 C1119.3 268.8 1124 266.7 1125.4 266.4 C1126.8 266.2 1132.2 267.4 1133.4 267.2 C1134.7 267.1 1137.1 265.5 1138.3 264.8 C1139.4 264.1 1143.1 260.6 1144.7 260 C1146.3 259.4 1153.1 258.7 1154.3 259.2 C1155.6 259.7 1158.2 263.6 1157.6 264.8 C1156.9 266 1149.8 270 1147.9 271.3 C1146 272.5 1140.2 276.4 1138.3 277.7 C1136.3 279 1130.5 283 1128.6 284.1 C1126.7 285.2 1120.7 288.3 1119 288.9 C1117.2 289.6 1112.5 290.5 1110.9 290.5 C1109.3 290.6 1104.3 290.1 1102.9 289.7 C1101.4 289.4 1096.5 287.9 1096.5 287.3 C1096.5 286.8 1101.3 284.4 1102.9 284.1 C1104.5 283.9 1110.9 285.2 1112.5 284.9 C1114.1 284.7 1118 282.7 1119 281.7 C1119.9 280.7 1122.2 275.7 1122.2 274.5 C1122.2 273.3 1118.6 270.5 1119 269.6Z" fill="#f2f2f2"/>
<path d="M1127.8 272.1 C1128 271.7 1129.5 271.7 1129.7 272.1 C1129.9 272.5 1129.9 275.7 1129.7 276.1 C1129.5 276.5 1128 276.5 1127.8 276.1 C1127.6 275.7 1127.6 272.5 1127.8 272.1Z" fill="#8f8f8f"/>
<path d="M907 308.2 C907 308.6 906.6 309.9 906.3 310.3 C906.1 310.7 905 311.6 904.6 311.8 C904.1 312 902.6 312.4 902.2 312.4 C901.7 312.4 900.2 312 899.7 311.8 C899.3 311.6 898.2 310.7 898 310.3 C897.7 309.9 897.3 308.6 897.3 308.2 C897.3 307.8 897.7 306.5 898 306.1 C898.2 305.7 899.3 304.8 899.7 304.6 C900.2 304.4 901.7 304 902.2 304 C902.6 304 904.1 304.4 904.6 304.6 C905 304.8 906.1 305.7 906.3 306.1 C906.6 306.5 907 307.8 907 308.2Z" fill="#539ecd"/>
<path d="M1055.7 281.4 C1055.7 281.8 1055.2 283.3 1054.9 283.8 C1054.7 284.2 1053.4 285.3 1052.9 285.5 C1052.4 285.8 1050.6 286.2 1050.1 286.2 C1049.5 286.2 1047.7 285.8 1047.3 285.5 C1046.8 285.3 1045.5 284.2 1045.2 283.8 C1044.9 283.3 1044.4 281.8 1044.4 281.4 C1044.4 280.9 1044.9 279.4 1045.2 278.9 C1045.5 278.5 1046.8 277.4 1047.3 277.2 C1047.7 276.9 1049.5 276.5 1050.1 276.5 C1050.6 276.5 1052.4 276.9 1052.9 277.2 C1053.4 277.4 1054.7 278.5 1054.9 278.9 C1055.2 279.4 1055.7 280.9 1055.7 281.4Z" fill="#539ecd"/>
<path d="M1001.4 343.8 C1001.3 344.1 1000.9 344.9 1000.7 345.1 C1000.6 345.3 1000 345.8 999.8 345.9 C999.6 346 999.1 346 998.9 346 C998.8 345.9 998.4 345.5 998.3 345.3 C998.2 345.1 998.1 344.4 998.1 344.1 C998.1 343.9 998.3 343 998.4 342.7 C998.5 342.4 998.9 341.6 999.1 341.4 C999.3 341.2 999.8 340.7 1000 340.6 C1000.2 340.5 1000.7 340.5 1000.9 340.5 C1001 340.6 1001.4 341 1001.5 341.2 C1001.6 341.4 1001.7 342.1 1001.7 342.4 C1001.7 342.6 1001.5 343.5 1001.4 343.8Z" fill="#539ecd"/>
<path d="M1080.4 278.1 C1081.7 276.6 1088.4 271.8 1090 270 C1091.6 268.3 1095.5 261.8 1096.5 260.4 C1097.4 258.9 1098.4 256.1 1099.7 255.6 C1101 255 1107.7 254.4 1109.3 254.8 C1110.9 255.1 1114.8 257.7 1115.8 258.8 C1116.7 259.8 1118.8 263.9 1119 265.2 C1119.1 266.5 1118 270.5 1117.4 271.6 C1116.7 272.8 1113.7 275.7 1112.5 276.5 C1111.4 277.3 1107.1 278.9 1106.1 279.7 C1105.1 280.5 1105.8 284 1102.9 284.5 C1100 285 1079.4 285.1 1077.2 284.5 C1074.9 283.9 1079.1 279.5 1080.4 278.1Z" fill="#539ecd"/>
<path d="M1075.5 268.7 C1075.4 269.1 1074.6 270.3 1074.3 270.6 C1073.9 270.9 1072.3 271.5 1071.7 271.6 C1071.1 271.7 1069.1 271.7 1068.4 271.6 C1067.8 271.5 1065.9 270.8 1065.4 270.5 C1064.8 270.2 1063.6 269 1063.3 268.6 C1063 268.2 1062.7 266.9 1062.8 266.5 C1062.9 266.1 1063.6 265 1064 264.7 C1064.4 264.4 1066 263.7 1066.6 263.6 C1067.2 263.5 1069.2 263.6 1069.8 263.7 C1070.5 263.8 1072.4 264.5 1072.9 264.8 C1073.4 265 1074.7 266.2 1075 266.6 C1075.2 267 1075.5 268.3 1075.5 268.7Z" fill="#539ecd"/>
<path d="M1114.1 233.1 C1114.3 232.7 1118.6 231.8 1119.8 231.8 C1120.9 231.7 1125 232.4 1125.4 232.7 C1125.8 233.1 1124.5 235.2 1123.8 235.5 C1123.1 235.7 1119.1 235.7 1118.2 235.5 C1117.2 235.2 1114 233.4 1114.1 233.1Z" fill="#539ecd"/>
<path d="M1054.7 280.5 C1054.7 280.9 1054.2 282.1 1053.9 282.5 C1053.6 282.8 1052.3 283.8 1051.8 284 C1051.4 284.2 1049.6 284.5 1049 284.5 C1048.5 284.5 1046.7 284.2 1046.2 284 C1045.7 283.8 1044.4 282.8 1044.2 282.5 C1043.9 282.1 1043.4 280.9 1043.4 280.5 C1043.4 280.1 1043.9 278.8 1044.2 278.5 C1044.4 278.1 1045.7 277.2 1046.2 277 C1046.7 276.8 1048.5 276.5 1049 276.5 C1049.6 276.5 1051.4 276.8 1051.8 277 C1052.3 277.2 1053.6 278.1 1053.9 278.5 C1054.2 278.8 1054.7 280.1 1054.7 280.5Z" fill="#539ecd"/>
<path d="M1074 280.9 C1074.1 280.3 1079.1 277 1080.4 276.1 C1081.7 275.1 1085.7 272.4 1086.8 271.3 C1087.9 270.1 1090.7 266.1 1091.6 264.8 C1092.6 263.5 1094.1 259 1096.5 258.4 C1098.9 257.7 1113.6 257.6 1115.8 258.4 C1117.9 259.2 1118 264.8 1118.2 266.4 C1118.3 268 1117.9 273.1 1117.4 274.5 C1116.8 275.8 1113.8 279.8 1112.5 280.1 C1111.3 280.4 1106.1 277.9 1104.5 277.7 C1102.9 277.4 1098.2 277.5 1096.5 277.7 C1094.7 277.8 1088.6 278.9 1086.8 279.3 C1085 279.7 1080.1 281.5 1078.8 281.7 C1077.5 281.9 1073.8 281.5 1074 280.9Z" fill="#539ecd"/>
<path d="M1075.5 268.4 C1075.4 268.7 1074.6 269.9 1074.3 270.2 C1073.9 270.5 1072.3 271.1 1071.7 271.2 C1071.1 271.3 1069.1 271.3 1068.4 271.2 C1067.8 271.1 1065.9 270.4 1065.4 270.1 C1064.8 269.8 1063.6 268.6 1063.3 268.2 C1063 267.8 1062.7 266.5 1062.8 266.1 C1062.9 265.7 1063.6 264.6 1064 264.3 C1064.4 264 1066 263.3 1066.6 263.2 C1067.2 263.1 1069.2 263.2 1069.8 263.3 C1070.5 263.4 1072.4 264.1 1072.9 264.4 C1073.4 264.7 1074.7 265.8 1075 266.2 C1075.2 266.6 1075.5 268 1075.5 268.4Z" fill="#539ecd"/>
<path d="M1055.3 281.2 C1055.3 281.7 1054.9 283.3 1054.6 283.8 C1054.4 284.2 1053.2 285.4 1052.7 285.7 C1052.3 285.9 1050.7 286.4 1050.2 286.4 C1049.6 286.4 1048 285.9 1047.6 285.7 C1047.1 285.4 1046 284.2 1045.7 283.8 C1045.4 283.3 1045 281.7 1045 281.2 C1045 280.7 1045.4 279.1 1045.7 278.6 C1046 278.2 1047.1 277 1047.6 276.8 C1048 276.5 1049.6 276.1 1050.2 276.1 C1050.7 276.1 1052.3 276.5 1052.7 276.8 C1053.2 277 1054.4 278.2 1054.6 278.6 C1054.9 279.1 1055.3 280.7 1055.3 281.2Z" fill="#539ecd"/>
<path d="M1104.5 277.7 C1105.3 277.3 1111.2 280.4 1112.5 280.1 C1113.9 279.8 1117.2 274.9 1118.2 274.5 C1119.1 274.1 1122.1 275.3 1122.2 276.1 C1122.3 276.9 1119.9 281.5 1119 282.5 C1118 283.5 1114 285.6 1112.5 285.7 C1111.1 285.9 1105.3 284.9 1104.5 284.1 C1103.7 283.3 1103.7 278.1 1104.5 277.7Z" fill="#a3cce3"/>
</g>
<path d="M851.4 316.9 C852.4 316.9 855.6 318.4 856.3 319.3 C856.9 320.2 857.7 324.3 857.9 325.7 C858 327.2 857.8 332.3 857.9 333.8 C858 335.2 858.3 339.1 858.7 340.2 C859.1 341.3 861.3 344.3 861.9 345 C862.5 345.7 864.5 347.6 865.1 347.4 C865.7 347.3 867.1 344.2 867.5 343.4 C867.9 342.6 868.5 339.9 869.1 339.4 C869.8 338.9 873 338.3 874 338.6 C874.9 338.8 878 341 878.8 341.8 C879.6 342.6 881.4 345.8 882 346.6 C882.6 347.4 884.4 349.4 885.2 349.8 C886 350.3 889.1 351.1 890 351.4 C891 351.8 894 352.6 894.9 353.1 C895.7 353.5 898.4 355.4 898.9 356.3 C899.4 357.2 899.4 360.8 899.7 361.9 C900 363 901.9 366.4 902.1 367.5 C902.3 368.6 901.4 372 901.3 373.2 C901.1 374.3 901 377.9 900.5 378.8 C900 379.7 897.3 381.4 896.5 382 C895.6 382.6 892.6 384 891.6 384.4 C890.7 384.8 887.8 385.5 886.8 386 C885.9 386.5 883 389.1 882 389.2 C881 389.4 878.1 388.2 877.2 387.6 C876.2 387.1 873.2 384.5 872.3 383.6 C871.5 382.7 869.6 379.9 869.1 378.8 C868.6 377.7 868 373.6 867.5 372.3 C867 371.1 864.9 367.1 864.3 365.9 C863.7 364.7 862.3 360.3 861.9 360.3 C861.5 360.3 860.3 364.7 860.3 365.9 C860.3 367.1 861.9 371.1 861.9 372.3 C861.9 373.6 860.6 377.5 860.3 378.8 C860 380.1 859.1 384 858.7 385.2 C858.3 386.4 857.2 390.5 856.3 390.8 C855.4 391.2 851 389 849.8 388.4 C848.7 387.9 845.7 386 845 385.2 C844.4 384.4 843.4 381.4 843.4 380.4 C843.4 379.4 845.3 376 845 375.6 C844.7 375.1 841.2 375.6 840.2 375.6 C839.2 375.5 836.3 375.1 835.4 374.8 C834.4 374.4 831.4 373.1 830.5 372.3 C829.7 371.6 828.1 368 827.3 367.5 C826.5 367 823.5 367.2 822.5 367.5 C821.5 367.8 818.6 370.6 817.7 370.7 C816.8 370.9 814.2 369.6 813.7 369.1 C813.1 368.6 811.8 366.6 812.1 365.9 C812.3 365.3 815 363.2 816.1 362.7 C817.1 362.2 821.2 361.5 822.5 361.1 C823.8 360.7 827.9 359.3 828.9 358.7 C830 358 832.4 355.7 833 354.7 C833.5 353.6 834.2 349.5 834.6 348.2 C834.9 346.9 836.2 343.1 836.2 341.8 C836.2 340.5 834.5 336.7 834.6 335.4 C834.6 334.1 836.3 330.1 837 328.9 C837.7 327.8 840.8 325.1 841.8 324.1 C842.8 323.2 845.7 320 846.6 319.3 C847.6 318.6 850.5 316.9 851.4 316.9Z" fill="#545454"/>
<path d="M840.2 328.9 C841.1 327.7 846.9 323 848.2 322.5 C849.6 322 853.2 323 853.9 324.1 C854.5 325.2 854.5 332 854.7 333.8 C854.8 335.5 855.1 340.4 855.5 341.8 C855.8 343.2 858.1 347.1 857.9 348.2 C857.6 349.4 854.2 352.5 853.1 353.1 C851.9 353.6 847.9 354 846.6 353.9 C845.3 353.7 841 352.5 840.2 351.4 C839.4 350.4 838.7 345 838.6 343.4 C838.5 341.8 839.2 336.8 839.4 335.4 C839.5 333.9 839.3 330.2 840.2 328.9Z" fill="#8f8f8f"/>
<path d="M857.1 348.2 C857.1 348.8 856.5 350.8 856.1 351.3 C855.7 351.8 854.1 353.2 853.5 353.5 C852.8 353.8 850.6 354.3 849.8 354.3 C849.1 354.3 846.8 353.8 846.2 353.5 C845.6 353.2 843.9 351.8 843.6 351.3 C843.2 350.8 842.6 348.8 842.6 348.2 C842.6 347.6 843.2 345.7 843.6 345.2 C843.9 344.6 845.6 343.2 846.2 342.9 C846.8 342.6 849.1 342.1 849.8 342.1 C850.6 342.1 852.8 342.6 853.5 342.9 C854.1 343.2 855.7 344.6 856.1 345.2 C856.5 345.7 857.1 347.6 857.1 348.2Z" fill="#c8c8c8"/>
<path d="M853.7 348.2 C853.7 348.5 853.4 349.4 853.2 349.7 C853 349.9 852.2 350.6 851.9 350.7 C851.6 350.9 850.5 351.1 850.2 351.1 C849.8 351.1 848.7 350.9 848.4 350.7 C848.1 350.6 847.3 349.9 847.1 349.7 C846.9 349.4 846.6 348.5 846.6 348.2 C846.6 347.9 846.9 347 847.1 346.8 C847.3 346.5 848.1 345.9 848.4 345.7 C848.7 345.6 849.8 345.3 850.2 345.3 C850.5 345.3 851.6 345.6 851.9 345.7 C852.2 345.9 853 346.5 853.2 346.8 C853.4 347 853.7 347.9 853.7 348.2Z" fill="#f2f2f2"/>
<path d="M870.7 356.3 C871.4 355.3 875.6 354.7 877.2 354.7 C878.8 354.7 885 355.8 886.8 356.3 C888.6 356.8 893.7 358.4 894.9 359.5 C896 360.6 897.9 365.9 898.1 367.5 C898.2 369.1 897.3 374.3 896.5 375.6 C895.7 376.8 891.5 379.7 890 380.4 C888.6 381 883.4 382.2 882 382 C880.5 381.8 876.5 379.7 875.6 378.8 C874.6 377.8 872.8 373.8 872.3 372.3 C871.9 370.9 870.9 365.9 870.7 364.3 C870.6 362.7 870.1 357.2 870.7 356.3Z" fill="#8f8f8f"/>
<path d="M875.6 361.1 C876.4 359.8 882 357.9 883.6 357.9 C885.2 357.9 890.4 360.1 891.6 361.1 C892.8 362.1 895.4 366.1 895.7 367.5 C895.9 369 894.9 374.4 894.1 375.6 C893.2 376.8 888.3 379.4 886.8 379.6 C885.3 379.7 879.9 378.1 878.8 377.2 C877.7 376.3 875.9 372.3 875.6 370.7 C875.2 369.1 874.8 362.4 875.6 361.1Z" fill="#c8c8c8"/>
<path d="M877.2 362.7 C877.3 362.2 882.3 360.3 883.6 360.3 C884.9 360.3 889.2 361.8 890 362.7 C890.9 363.6 892.1 368 892 369.1 C891.8 370.3 889.6 373.9 888.7 374.3 C887.9 374.6 883.8 373.3 883.6 372.7 C883.4 372.1 887 369.1 886.8 368.3 C886.7 367.6 883 365.7 882 365.1 C881 364.5 877 363.2 877.2 362.7Z" fill="#f2f2f2"/>
<path d="M832.2 361.1 C832.7 360.1 838.6 356.6 840.2 356.3 C841.8 355.9 846.6 357.9 848.2 357.9 C849.8 357.9 854.7 356.6 856.3 356.3 C857.9 355.9 863 354.5 864.3 354.7 C865.6 354.8 869.5 357.2 869.1 357.9 C868.8 358.5 862.5 360.1 861.1 361.1 C859.6 362.1 855.9 366.7 854.7 367.5 C853.4 368.3 849.7 369.1 848.2 369.1 C846.8 369.1 841.6 367.8 840.2 367.5 C838.8 367.2 835.4 366.6 834.6 365.9 C833.8 365.3 831.6 362.1 832.2 361.1Z" fill="#8f8f8f"/>
<path d="M837.8 367.5 C837.8 367.8 837.4 368.9 837.1 369.1 C836.9 369.4 835.8 370.1 835.4 370.3 C835 370.5 833.4 370.7 833 370.7 C832.5 370.7 831 370.5 830.5 370.3 C830.1 370.1 829 369.4 828.8 369.1 C828.5 368.9 828.1 367.8 828.1 367.5 C828.1 367.2 828.5 366.2 828.8 365.9 C829 365.6 830.1 364.9 830.5 364.7 C831 364.6 832.5 364.3 833 364.3 C833.4 364.3 835 364.6 835.4 364.7 C835.8 364.9 836.9 365.6 837.1 365.9 C837.4 366.2 837.8 367.2 837.8 367.5Z" fill="#8f8f8f"/>
<path d="M855.2 380.2 C855 380.8 854 382.5 853.6 383 C853.2 383.4 851.9 384.5 851.4 384.7 C851 384.9 849.6 385 849.2 384.8 C848.9 384.7 847.9 383.7 847.7 383.3 C847.4 382.9 847.1 381.2 847.1 380.6 C847.1 380 847.5 378 847.7 377.4 C847.9 376.8 848.9 375 849.3 374.6 C849.7 374.1 851 373 851.5 372.9 C851.9 372.7 853.3 372.6 853.6 372.7 C854 372.9 855 373.8 855.2 374.2 C855.5 374.7 855.8 376.4 855.8 376.9 C855.8 377.5 855.4 379.5 855.2 380.2Z" fill="#8f8f8f"/>
<path d="M963.2 390 C964.1 390 966.9 393.3 967.2 394.1 C967.5 394.8 967 396.9 966.4 397.3 C965.8 397.6 961.6 397.5 960.8 397.3 C960 397 958.1 395.6 958.4 394.9 C958.6 394.1 962.3 390.1 963.2 390Z" fill="#545454"/>
<path d="M1172 276.9 C1173 277 1175.9 279.9 1176.8 280.9 C1177.8 281.9 1180.9 286.1 1181.7 287.3 C1182.5 288.5 1183.9 292.4 1184.9 293 C1185.9 293.5 1190.4 292.6 1191.3 293 C1192.2 293.3 1193.7 295.4 1193.7 296.2 C1193.7 297 1192.2 300.3 1191.3 301 C1190.4 301.7 1186.3 303.1 1184.9 303.4 C1183.4 303.7 1178.5 303.9 1176.8 304.2 C1175.2 304.5 1170.4 305.9 1168.8 306.6 C1167.2 307.3 1162.2 310.6 1160.8 311.4 C1159.3 312.3 1155.6 314.4 1154.3 314.7 C1153.1 314.9 1149 314.5 1147.9 313.9 C1146.9 313.2 1144.2 309.4 1143.9 308.2 C1143.6 307.1 1144.1 303.7 1144.7 302.6 C1145.3 301.5 1148.4 298.2 1149.5 297 C1150.6 295.8 1154.7 291.8 1155.9 290.5 C1157.2 289.3 1161.3 285.2 1162.4 284.1 C1163.5 283 1166.2 280 1167.2 279.3 C1168.2 278.6 1171.1 276.7 1172 276.9Z" fill="#545454"/>
<path d="M1150.3 305 C1150.6 303.9 1153.3 299.9 1154.3 298.6 C1155.4 297.3 1159.5 293.4 1160.8 292.2 C1162.1 290.9 1165.9 287.2 1167.2 286.5 C1168.5 285.9 1172.6 285.3 1173.6 285.7 C1174.7 286.1 1177.3 289.4 1177.7 290.5 C1178 291.7 1177.6 295.9 1176.8 297 C1176.1 298.1 1171.9 301 1170.4 301.8 C1169 302.6 1163.8 304.3 1162.4 305 C1160.9 305.7 1157.1 308.6 1155.9 309 C1154.8 309.5 1151.7 310.2 1151.1 309.8 C1150.6 309.4 1150 306.1 1150.3 305Z" fill="#8f8f8f"/>
<path d="M1152.7 305.8 C1152.8 305.1 1157.9 300.4 1159.2 299.4 C1160.5 298.3 1164.5 295.9 1165.6 295.4 C1166.7 294.9 1169.9 294.2 1170.4 294.6 C1171 294.9 1171.7 297.8 1171.2 298.6 C1170.7 299.4 1166.9 301.8 1165.6 302.6 C1164.3 303.4 1159.6 306.3 1158.4 306.6 C1157.1 306.9 1152.7 306.5 1152.7 305.8Z" fill="#c8c8c8"/>
<path d="M1124.6 334.8 C1125.6 334.8 1129.5 337.1 1130.2 338 C1130.9 338.9 1131.7 342.4 1131.8 343.6 C1132 344.8 1131.5 348.7 1131.5 350 C1131.5 351.3 1132.1 355.4 1131.8 356.5 C1131.5 357.5 1129.6 360 1128.6 360.5 C1127.7 361 1123.5 361.5 1122.2 361.3 C1120.9 361 1116.3 358.9 1115.8 358.1 C1115.2 357.3 1116.2 354.1 1116.6 353.2 C1117 352.4 1119.6 351 1119.8 350 C1119.9 349.1 1118.2 344.8 1118.2 343.6 C1118.2 342.4 1119.1 338.9 1119.8 338 C1120.4 337.1 1123.6 334.8 1124.6 334.8Z" fill="#545454"/>
<path d="M1125.9 345.2 C1125.9 345.5 1125.8 346.4 1125.8 346.7 C1125.7 346.9 1125.6 347.6 1125.5 347.7 C1125.4 347.9 1125.2 348.1 1125.1 348.1 C1125 348.1 1124.7 347.9 1124.7 347.7 C1124.6 347.6 1124.4 346.9 1124.4 346.7 C1124.3 346.4 1124.3 345.5 1124.3 345.2 C1124.3 344.9 1124.3 344 1124.4 343.8 C1124.4 343.5 1124.6 342.8 1124.7 342.7 C1124.7 342.6 1125 342.3 1125.1 342.3 C1125.2 342.3 1125.4 342.6 1125.5 342.7 C1125.6 342.8 1125.7 343.5 1125.8 343.8 C1125.8 344 1125.9 344.9 1125.9 345.2Z" fill="#8f8f8f"/>
<path d="M1125.9 354.1 C1125.9 354.1 1125.8 354.5 1125.7 354.5 C1125.6 354.6 1125.4 354.8 1125.2 354.9 C1125.1 354.9 1124.7 355 1124.6 355 C1124.5 355 1124.1 354.9 1124 354.9 C1123.8 354.8 1123.5 354.6 1123.5 354.5 C1123.4 354.5 1123.3 354.1 1123.3 354.1 C1123.3 354 1123.4 353.7 1123.5 353.6 C1123.5 353.5 1123.8 353.3 1124 353.2 C1124.1 353.2 1124.5 353.1 1124.6 353.1 C1124.7 353.1 1125.1 353.2 1125.2 353.2 C1125.4 353.3 1125.6 353.5 1125.7 353.6 C1125.8 353.7 1125.9 354 1125.9 354.1Z" fill="#8f8f8f"/>
<path d="M591.4 223.8 C592.7 223.7 596.5 225.1 597.6 225.7 C598.8 226.3 601.8 228.6 602.6 229.5 C603.5 230.3 605.5 233.3 605.8 234.5 C606.1 235.7 605.9 240.1 605.8 241.4 C605.6 242.7 605.1 246.5 604.5 247.7 C604 248.8 601.1 251.7 600.1 252.7 C599.2 253.7 596.1 256.7 595.1 257.7 C594.1 258.7 591.1 262 590.1 262.7 C589.1 263.5 586.2 265 585.1 265.2 C584 265.4 579.9 265 578.8 264.6 C577.7 264.2 575.1 262.3 574.4 261.4 C573.7 260.6 572.1 257.4 571.9 256.4 C571.7 255.4 572.1 252.2 572.5 251.4 C573 250.6 575.5 248.8 576.3 248.3 C577.1 247.8 579.9 246.9 580.7 246.4 C581.4 245.9 583.9 243.9 583.8 243.3 C583.8 242.6 580.6 240.9 580.1 240.1 C579.6 239.4 578.9 236.6 578.8 235.7 C578.7 234.9 578.9 232.2 579.4 231.4 C579.9 230.5 582.6 227.7 583.8 227 C585 226.2 590 224 591.4 223.8Z" fill="#545454"/>
<path d="M591.4 225.4 C590.2 225.5 585.7 227.6 584.7 228.2 C583.6 228.9 581.3 231.3 580.9 232.1 C580.4 232.8 580.3 234.9 580.3 235.6 C580.4 236.4 580.9 238.6 581.4 239.3 C581.8 239.9 584.6 241.9 585 242.3 C585.4 242.8 585.6 243.2 585.3 243.7 C584.9 244.2 582.5 247 581.6 247.6 C580.8 248.1 577.9 249.1 577.1 249.6 C576.3 250 574.3 251.5 574 252.2 C573.6 252.8 573.3 255.3 573.5 256.2 C573.6 257 575 259.7 575.6 260.4 C576.2 261.1 578.4 262.8 579.4 263.1 C580.3 263.5 583.8 263.8 584.8 263.7 C585.8 263.5 587.4 263.1 589.2 261.5 C591 259.8 601.6 249 603.1 247 C604.6 244.9 604.2 242.4 604.3 241.2 C604.4 240 604.5 236 604.3 234.9 C604 233.8 602.2 231.3 601.5 230.5 C600.8 229.7 597.9 227.6 596.9 227.1 C595.9 226.6 592.7 225.3 591.4 225.4Z" fill="#8f8f8f"/>
<path d="M583.2 232.6 C583.6 231.7 587.5 228.5 588.8 228.2 C590.2 228 595.1 229.4 596.4 230.1 C597.6 230.8 600.8 233.9 601.4 235.1 C601.9 236.4 602.3 241.3 602 242.6 C601.8 244 599.7 247.8 598.9 248.9 C598.1 250 594.9 252.9 593.9 253.9 C592.9 254.9 589.8 258.2 588.8 258.9 C587.8 259.7 584.8 261.4 583.8 261.4 C582.8 261.4 579.5 259.7 578.8 258.9 C578.1 258.2 576.8 254.8 576.9 253.9 C577.1 253 579.3 250.8 580.1 250.2 C580.9 249.5 584.4 248.4 585.1 247.7 C585.8 246.9 587 243.6 587 242.6 C586.9 241.6 584.8 238.6 584.5 237.6 C584.1 236.6 582.8 233.5 583.2 232.6Z" fill="#c8c8c8"/>
<path d="M598 237 C598 237.7 597.6 239.8 597.4 240.4 C597.1 241 596 242.6 595.6 243 C595.2 243.3 593.7 243.9 593.2 243.9 C592.8 243.9 591.3 243.3 590.9 243 C590.4 242.6 589.3 241 589.1 240.4 C588.9 239.8 588.5 237.7 588.5 237 C588.5 236.3 588.9 234.1 589.1 233.5 C589.3 232.9 590.4 231.4 590.9 231 C591.3 230.7 592.8 230.1 593.2 230.1 C593.7 230.1 595.2 230.7 595.6 231 C596 231.4 597.1 232.9 597.4 233.5 C597.6 234.1 598 236.3 598 237Z" fill="#f2f2f2"/>
<path d="M588.1 252.8 C588.3 253.1 588.3 254.4 588.1 254.8 C588 255.2 587.2 256.4 586.8 256.7 C586.4 257 585 257.9 584.5 258.1 C584 258.3 582.3 258.5 581.8 258.5 C581.3 258.5 579.9 258.1 579.6 257.9 C579.2 257.7 578.4 256.7 578.3 256.4 C578.1 256 578.1 254.7 578.3 254.3 C578.4 253.9 579.2 252.7 579.6 252.4 C580 252.1 581.4 251.2 581.9 251 C582.4 250.8 584.1 250.6 584.6 250.6 C585.1 250.6 586.5 251 586.8 251.2 C587.2 251.4 588 252.4 588.1 252.8Z" fill="#f2f2f2"/>
<path d="M596.4 237.4 C596.4 237.8 596.1 239.2 595.9 239.6 C595.8 239.9 595.1 241 594.8 241.2 C594.5 241.4 593.5 241.8 593.2 241.8 C592.9 241.8 591.9 241.4 591.7 241.2 C591.4 241 590.7 239.9 590.5 239.6 C590.4 239.2 590.1 237.8 590.1 237.4 C590.1 236.9 590.4 235.6 590.5 235.2 C590.7 234.8 591.4 233.8 591.7 233.6 C591.9 233.4 592.9 233 593.2 233 C593.5 233 594.5 233.4 594.8 233.6 C595.1 233.8 595.8 234.8 595.9 235.2 C596.1 235.6 596.4 236.9 596.4 237.4Z" fill="#a3cce3"/>
<path d="M586 254.8 C586 255 585.7 255.6 585.6 255.7 C585.5 255.9 584.9 256.3 584.7 256.4 C584.5 256.5 583.7 256.7 583.5 256.7 C583.2 256.7 582.4 256.5 582.2 256.4 C582 256.3 581.4 255.9 581.3 255.7 C581.2 255.6 580.9 255 580.9 254.8 C580.9 254.6 581.2 254 581.3 253.9 C581.4 253.7 582 253.3 582.2 253.2 C582.4 253.1 583.2 252.9 583.5 252.9 C583.7 252.9 584.5 253.1 584.7 253.2 C584.9 253.3 585.5 253.7 585.6 253.9 C585.7 254 586 254.6 586 254.8Z" fill="#a3cce3"/>
<path d="M612.9 289.1 C612.9 289.6 612.5 291 612.3 291.4 C612 291.8 611 292.8 610.6 293 C610.2 293.3 608.8 293.6 608.3 293.6 C607.9 293.6 606.5 293.3 606.1 293 C605.7 292.8 604.7 291.8 604.4 291.4 C604.2 291 603.8 289.6 603.8 289.1 C603.8 288.7 604.2 287.3 604.4 286.9 C604.7 286.5 605.7 285.4 606.1 285.2 C606.5 285 607.9 284.6 608.3 284.6 C608.8 284.6 610.2 285 610.6 285.2 C611 285.4 612 286.5 612.3 286.9 C612.5 287.3 612.9 288.7 612.9 289.1Z" fill="#8f8f8f"/>
<path d="M611.1 289.1 C611.1 289.4 610.9 290.3 610.7 290.5 C610.6 290.7 610 291.4 609.7 291.5 C609.5 291.7 608.6 291.9 608.3 291.9 C608.1 291.9 607.2 291.7 607 291.5 C606.7 291.4 606.1 290.7 606 290.5 C605.8 290.3 605.6 289.4 605.6 289.1 C605.6 288.9 605.8 288 606 287.7 C606.1 287.5 606.7 286.9 607 286.7 C607.2 286.6 608.1 286.4 608.3 286.4 C608.6 286.4 609.5 286.6 609.7 286.7 C610 286.9 610.6 287.5 610.7 287.7 C610.9 288 611.1 288.9 611.1 289.1Z" fill="#c8c8c8"/>
<path d="M588.5 280.3 C588.5 280.8 588.2 282.1 588.1 282.5 C587.9 282.8 587.1 283.8 586.8 284 C586.5 284.3 585.5 284.6 585.1 284.6 C584.8 284.6 583.7 284.3 583.5 284 C583.2 283.8 582.4 282.8 582.2 282.5 C582 282.1 581.8 280.8 581.8 280.3 C581.8 279.9 582 278.6 582.2 278.2 C582.4 277.8 583.2 276.9 583.5 276.7 C583.7 276.4 584.8 276.1 585.1 276.1 C585.5 276.1 586.5 276.4 586.8 276.7 C587.1 276.9 587.9 277.8 588.1 278.2 C588.2 278.6 588.5 279.9 588.5 280.3Z" fill="#545454"/>
<path d="M698.8 406.9 C699.7 406.8 702.4 407.7 703.2 408.2 C704 408.7 706.6 411 707 412 C707.3 412.9 707.2 416.4 707 417.6 C706.8 418.8 705.7 422.8 705.1 423.9 C704.5 424.9 701.7 427.7 700.7 428.3 C699.7 428.8 696.1 429.5 695 429.5 C694 429.5 690.8 428.8 690 428.3 C689.2 427.7 687.2 424.8 686.9 423.9 C686.6 422.9 686.5 419.8 686.9 418.9 C687.3 417.9 689.9 415.3 690.7 414.5 C691.4 413.6 693.6 410.8 694.4 410.1 C695.2 409.3 697.9 407.1 698.8 406.9Z" fill="#545454"/>
<path d="M691.3 420.7 C691.5 419.9 693.2 417 693.8 416.4 C694.4 415.7 696.9 414.5 697.6 414.5 C698.2 414.5 699.9 415.7 700.1 416.4 C700.3 417 699.7 420.5 699.4 421.4 C699.2 422.2 698.1 424.6 697.6 425.1 C697 425.6 694.4 426.4 693.8 426.4 C693.2 426.3 691.5 425.1 691.3 424.5 C691 423.9 691 421.6 691.3 420.7Z" fill="#8f8f8f"/>
<path d="M692.5 421.4 C692.7 420.6 694.5 417.5 695 417 C695.6 416.4 697.8 415.4 698.2 415.7 C698.5 416 698.7 419.3 698.6 420.1 C698.4 420.9 697.4 423.4 696.9 423.9 C696.5 424.4 694.2 425.4 693.8 425.1 C693.4 424.9 692.4 422.2 692.5 421.4Z" fill="#f2f2f2"/>
<path d="M715.1 472.8 C713.7 471.6 715.2 456.8 715.4 455.2 C715.5 453.7 717.2 450.1 717.6 449.6 C718.1 449 721.3 447.2 722 447.1 C722.7 446.9 727 446.9 727.7 447.1 C728.3 447.3 730.9 449.7 731.4 450.2 C731.9 450.8 734.8 454.6 735.2 455.2 C735.5 455.9 736.3 459.1 736.4 460.2 C736.6 461.4 738.5 471.9 737.1 472.8 C735.6 473.6 716.6 474 715.1 472.8Z" fill="#545454"/>
<path d="M717.6 472.8 C716.7 471.7 718 457.9 718.2 456.5 C718.5 455 720.8 451.3 721.4 450.8 C721.9 450.4 725.8 449.9 726.4 450.2 C727 450.5 729.8 453.7 730.2 455.2 C730.5 456.7 732.3 471.6 731.4 472.8 C730.6 474 718.5 473.9 717.6 472.8Z" fill="#8f8f8f"/>
<path d="M719.5 472.8 C719 471.7 719.9 458.4 720.1 457.1 C720.4 455.8 722.8 452.8 723.3 452.7 C723.7 452.6 726.1 453.9 726.4 455.2 C726.7 456.6 728.7 471.6 728.3 472.8 C727.8 474 720 473.8 719.5 472.8Z" fill="#c8c8c8"/>
<path d="M721.4 472.8 C721.1 471.8 721.8 459.6 722 458.4 C722.2 457.2 723.6 454.6 723.9 454.6 C724.1 454.6 725.6 457.2 725.8 458.4 C725.9 459.6 726.7 471.8 726.4 472.8 C726.1 473.7 721.7 473.7 721.4 472.8Z" fill="#f2f2f2"/>
<path d="M730.2 472.8 C728.4 471.9 732.3 461.3 732.7 460.2 C733.1 459.2 735.9 457.6 736.4 457.1 C736.9 456.6 739.6 453.8 740.2 453.3 C740.8 452.9 744.5 451 745.2 450.8 C745.9 450.7 749.6 450.7 750.2 450.8 C750.9 451 754.7 452.3 755.2 452.7 C755.8 453.1 758.1 455.8 758.4 457.1 C758.7 458.4 761.5 471.7 759.6 472.8 C757.8 473.8 732 473.6 730.2 472.8Z" fill="#545454"/>
<path d="M738.9 472.8 C738.1 471.9 740.9 460.1 741.4 459 C742 457.9 745.8 456 746.5 455.9 C747.1 455.7 751 456 751.5 457.1 C752 458.2 754.8 471.7 754 472.8 C753.2 473.8 739.8 473.7 738.9 472.8Z" fill="#8f8f8f"/>
<path d="M741.4 472.8 C740.9 472 743.6 461.8 744 460.9 C744.3 460 746.7 459 747.1 459 C747.5 459 749.9 460 750.2 460.9 C750.6 461.8 752.7 472 752.1 472.8 C751.5 473.6 742 473.6 741.4 472.8Z" fill="#c8c8c8"/>
<path d="M757.1 440.2 C757.4 439.4 760.4 435.2 760.9 435.2 C761.4 435.1 764.3 438.3 764.7 438.9 C765 439.5 766.5 443.3 766.5 443.9 C766.6 444.6 765.7 448.5 765.3 449 C764.9 449.4 760.8 450.4 760.3 450.2 C759.7 450 756.7 447.1 756.5 446.4 C756.3 445.8 756.8 440.9 757.1 440.2Z" fill="#545454"/>
<path d="M766.5 472.8 C765.2 471.6 766.8 456.7 767.2 455.2 C767.5 453.7 770.9 450.9 771.5 450.2 C772.2 449.5 776 446.1 776.6 445.2 C777.1 444.3 779.2 437.3 779.7 436.4 C780.2 435.6 783.4 432.6 784.1 432.4 C784.8 432.2 789.2 432.8 789.7 433.3 C790.3 433.7 792.6 438.1 792.6 438.9 C792.7 439.7 790.7 444.4 790.4 445.2 C790 446 787.8 449.6 787.6 451.5 C787.4 453.3 788.3 471.4 786.8 472.8 C785.4 474.2 767.8 474 766.5 472.8Z" fill="#545454"/>
<path d="M767.8 472.8 C766.6 471.6 768.1 456.7 768.4 455.2 C768.7 453.7 772.2 450.9 772.8 450.2 C773.4 449.5 777.3 446 777.8 445.2 C778.3 444.4 779.9 438.5 780.3 437.7 C780.7 436.9 783.5 433.5 784.1 433.3 C784.7 433 788.6 433.5 789.1 433.9 C789.6 434.3 791.6 438.2 791.6 438.9 C791.6 439.7 789.4 444.4 789.1 445.2 C788.8 446 786.8 449.6 786.6 451.5 C786.4 453.3 787.2 471.4 786 472.8 C784.7 474.2 769 474 767.8 472.8Z" fill="#8f8f8f"/>
<path d="M769.7 472.8 C768.7 471.7 769.9 458 770.3 456.5 C770.7 455 774.7 451 775.3 450.2 C775.9 449.4 779.3 444.8 779.7 443.9 C780.1 443.1 781.2 438.3 781.6 437.7 C782 437.1 784.8 435.2 785.3 435.2 C785.8 435.2 788.9 437.1 789.1 437.7 C789.3 438.3 788.1 443.1 787.9 443.9 C787.6 444.8 785 448.3 784.7 450.2 C784.5 452.1 785.1 471.3 784.1 472.8 C783.1 474.3 770.6 473.9 769.7 472.8Z" fill="#c8c8c8"/>
<path d="M771.5 472.8 C770.9 471.8 771.9 459 772.2 457.7 C772.4 456.4 774.8 453.7 775.3 453.3 C775.8 453 778.7 452.4 779.1 452.7 C779.4 453 780.8 456.4 781 457.7 C781.1 459.1 782.2 471.8 781.6 472.8 C781 473.8 772.2 473.8 771.5 472.8Z" fill="#f2f2f2"/>
<path d="M787.9 438.3 C787.9 438.5 787.5 439.9 787.4 440.1 C787.3 440.3 786.5 441.2 786.3 441.3 C786.1 441.5 784.9 441.8 784.7 441.8 C784.5 441.8 783.3 441.5 783.1 441.3 C783 441.2 782.1 440.3 782 440.1 C781.9 439.9 781.6 438.5 781.6 438.3 C781.6 438.1 781.9 436.7 782 436.5 C782.1 436.3 783 435.4 783.1 435.3 C783.3 435.1 784.5 434.8 784.7 434.8 C784.9 434.8 786.1 435.1 786.3 435.3 C786.5 435.4 787.3 436.3 787.4 436.5 C787.5 436.7 787.9 438.1 787.9 438.3Z" fill="#f2f2f2"/>
<path d="M785.6 438.3 C785.6 438.4 785.5 438.8 785.5 438.9 C785.4 438.9 785.2 439.2 785.2 439.3 C785.1 439.3 784.8 439.4 784.7 439.4 C784.7 439.4 784.3 439.3 784.3 439.3 C784.2 439.2 784 438.9 784 438.9 C783.9 438.8 783.8 438.4 783.8 438.3 C783.8 438.2 783.9 437.8 784 437.7 C784 437.7 784.2 437.4 784.3 437.3 C784.3 437.3 784.7 437.2 784.7 437.2 C784.8 437.2 785.1 437.3 785.2 437.3 C785.2 437.4 785.4 437.7 785.5 437.7 C785.5 437.8 785.6 438.2 785.6 438.3Z" fill="#a3cce3"/>
<path d="M816.4 409.5 C817.2 409.5 821.3 411.3 822 412 C822.8 412.6 823.1 415.3 823.9 415.7 C824.7 416.2 829 415.9 830.2 416.4 C831.3 416.9 834.2 419.9 835.2 420.7 C836.2 421.6 839.6 424.4 840.2 425.1 C840.8 425.9 841.7 427.6 841.4 428.3 C841.2 429 838.6 431.4 837.7 432 C836.8 432.7 833.6 434 832.7 434.5 C831.7 435.1 829.2 437.1 828.3 437.7 C827.4 438.2 824.7 439.8 823.9 440.2 C823.1 440.6 821 441.2 820.1 441.4 C819.3 441.7 816.1 442.5 815.1 442.7 C814.1 442.9 811 443.6 810.1 443.3 C809.2 443.1 806.8 441 806.3 440.2 C805.8 439.4 805 436.2 805.1 435.2 C805.1 434.2 806.4 431.1 807 430.1 C807.5 429.1 810.2 426.1 810.7 425.1 C811.3 424.1 812.5 421.1 812.6 420.1 C812.7 419.1 811.9 416 812 415.1 C812 414.2 812.8 411.9 813.2 411.3 C813.7 410.8 815.5 409.4 816.4 409.5Z" fill="#545454"/>
<path d="M809.5 435.2 C809.6 434.2 811.7 431.1 812.6 430.1 C813.5 429.1 817.6 425.8 818.9 425.1 C820.1 424.4 824 423.4 825.1 423.2 C826.3 423.1 829.5 423.4 830.2 423.9 C830.8 424.3 831.7 426.8 831.4 427.6 C831.2 428.5 828.5 431.3 827.7 432 C826.8 432.8 823.8 434.5 822.6 435.2 C821.5 435.9 817.5 438.4 816.4 438.9 C815.2 439.4 812 440.6 811.4 440.2 C810.7 439.8 809.3 436.2 809.5 435.2Z" fill="#8f8f8f"/>
<path d="M816.4 431.1 C816.8 430.9 820.3 429.9 820.8 429.9 C821.2 429.8 821.2 430.4 820.8 430.6 C820.3 430.9 817.1 432 816.6 432 C816.2 432.1 816 431.4 816.4 431.1Z" fill="#c8c8c8"/>
<path d="M802.3 449.6 C803 449.1 810.6 449.5 812.6 449.2 C814.6 449 821.4 447.1 822.6 447.1 C823.8 447.1 824.6 448.3 824.5 449 C824.4 449.6 822.3 452.5 821.4 453.3 C820.5 454.2 816.8 456.7 815.7 457.1 C814.7 457.5 811.7 458 810.7 457.7 C809.7 457.4 806.5 454.8 805.7 454 C804.9 453.2 801.6 450.1 802.3 449.6Z" fill="#545454"/>
<path d="M805.7 452.7 C806.1 452.3 813.7 451.8 814.5 452.1 C815.3 452.4 814.3 455.4 813.9 455.9 C813.4 456.3 810.9 457 810.1 456.7 C809.3 456.4 805.3 453.2 805.7 452.7Z" fill="#8f8f8f"/>
<path d="M812.9 395 C813.2 394 815.5 391.8 816.1 391.9 C816.7 392 818.4 394.5 818.6 395.7 C818.8 396.9 818.4 402.8 818.1 403.8 C817.8 404.8 816.1 405.8 815.6 405.7 C815.1 405.6 813.4 403.6 813.1 402.6 C812.8 401.5 812.6 396.1 812.9 395Z" fill="#545454"/>
<path d="M897.4 442 C897.2 442.4 895.9 443.7 895.3 443.9 C894.8 444.2 892.7 444.5 892 444.5 C891.2 444.4 888.8 443.8 888.1 443.4 C887.4 443.1 885.4 441.7 884.9 441.2 C884.4 440.6 883.3 438.8 883.1 438.2 C883 437.6 883.1 435.9 883.3 435.4 C883.5 434.9 884.8 433.7 885.4 433.4 C885.9 433.2 888 432.9 888.8 432.9 C889.5 432.9 891.9 433.6 892.6 433.9 C893.3 434.2 895.3 435.7 895.8 436.2 C896.3 436.7 897.4 438.6 897.6 439.1 C897.7 439.7 897.6 441.5 897.4 442Z" fill="#8f8f8f"/>
<path d="M896 441.3 C895.9 441.7 894.9 442.5 894.5 442.7 C894.1 442.8 892.4 443 891.8 443 C891.3 442.9 889.3 442.3 888.8 442.1 C888.2 441.8 886.6 440.7 886.1 440.3 C885.7 439.9 884.8 438.5 884.6 438.1 C884.5 437.7 884.5 436.4 884.7 436 C884.8 435.7 885.8 434.8 886.2 434.7 C886.7 434.5 888.3 434.3 888.9 434.4 C889.5 434.5 891.4 435 891.9 435.3 C892.5 435.5 894.2 436.6 894.6 437 C895 437.4 895.9 438.8 896.1 439.3 C896.2 439.7 896.2 441 896 441.3Z" fill="#c8c8c8"/>
<path d="M894.1 440.3 C894 440.5 893.4 441 893.1 441.1 C892.8 441.1 891.7 441.2 891.3 441.1 C890.9 441.1 889.6 440.7 889.2 440.5 C888.8 440.3 887.6 439.5 887.3 439.3 C887 439 886.3 438.1 886.2 437.8 C886.1 437.6 886 436.8 886.1 436.6 C886.2 436.4 886.9 435.9 887.1 435.8 C887.4 435.7 888.6 435.7 888.9 435.7 C889.3 435.8 890.7 436.2 891.1 436.4 C891.5 436.6 892.6 437.3 892.9 437.6 C893.2 437.8 893.9 438.7 894 439 C894.1 439.3 894.2 440.1 894.1 440.3Z" fill="#f2f2f2"/>
<path d="M860.3 472.8 C858.1 472 860 462.5 860.3 461.5 C860.5 460.5 863.5 458.2 864 457.7 C864.5 457.3 867 455.4 867.8 455.2 C868.5 455 874.2 454.6 875.3 454.6 C876.4 454.6 883.2 454.4 884.1 454.6 C885 454.8 888.6 456.7 889.1 457.1 C889.6 457.5 892 459.2 892.2 460.2 C892.5 461.3 895 471.9 892.9 472.8 C890.7 473.6 862.4 473.5 860.3 472.8Z" fill="#545454"/>
<path d="M865.3 472.8 C863.9 471.9 867.1 461.2 867.8 460.2 C868.5 459.3 874.1 459 875.3 459 C876.5 458.9 884.5 458.7 885.3 459.6 C886.2 460.5 889.2 471.9 887.9 472.8 C886.5 473.7 866.6 473.6 865.3 472.8Z" fill="#8f8f8f"/>
<path d="M870.3 472.8 C869.5 472 872.1 462.3 872.8 461.5 C873.5 460.7 879.6 460.1 880.3 460.9 C881.1 461.6 884.8 472 884.1 472.8 C883.4 473.6 871 473.5 870.3 472.8Z" fill="#c8c8c8"/>
<path d="M1049.5 388.7 C1049.5 389.1 1049.4 390.1 1049.3 390.3 C1049.2 390.6 1048.8 391.3 1048.6 391.5 C1048.5 391.7 1048 391.9 1047.8 391.9 C1047.6 391.9 1047.1 391.7 1046.9 391.5 C1046.8 391.3 1046.4 390.6 1046.3 390.3 C1046.2 390.1 1046 389.1 1046 388.7 C1046 388.4 1046.2 387.4 1046.3 387.2 C1046.4 386.9 1046.8 386.1 1046.9 386 C1047.1 385.8 1047.6 385.6 1047.8 385.6 C1048 385.6 1048.5 385.8 1048.6 386 C1048.8 386.1 1049.2 386.9 1049.3 387.2 C1049.4 387.4 1049.5 388.4 1049.5 388.7Z" fill="#545454"/>
<path d="M1185 393.8 C1186 394 1188.6 395.8 1189.3 396.7 C1189.9 397.6 1191.3 401.3 1191.5 402.5 C1191.6 403.6 1191.2 407.1 1190.7 408.3 C1190.2 409.4 1187.4 412.9 1186.4 414.1 C1185.4 415.2 1181.6 418.9 1180.6 419.9 C1179.6 420.8 1177.3 423 1176.3 423.5 C1175.3 423.9 1171.6 424.4 1170.5 424.2 C1169.3 424 1165.7 422 1164.7 421.3 C1163.7 420.7 1161.2 418.1 1160.4 417.7 C1159.5 417.3 1157 416.9 1156 417 C1155 417 1151.2 418.1 1150.2 418.4 C1149.2 418.7 1146.8 420 1145.9 419.9 C1145 419.7 1142.1 417.8 1141.5 417 C1141 416.1 1139.8 412.1 1140.1 411.2 C1140.4 410.2 1143.4 408.1 1144.4 407.6 C1145.5 407.1 1149.1 406.5 1150.2 406.1 C1151.4 405.7 1154.9 403.7 1156 403.2 C1157.2 402.7 1160.5 401.4 1161.8 401 C1163.1 400.7 1167.7 400 1169 399.6 C1170.3 399.2 1173.8 397.2 1174.8 396.7 C1175.8 396.2 1178.2 394.8 1179.2 394.5 C1180.2 394.2 1183.9 393.6 1185 393.8Z" fill="#545454"/>
<path d="M1184.6 395.4 C1183.7 395.2 1181.1 395.4 1179.6 396 C1178.1 396.6 1171.3 400.3 1169.6 401 C1167.8 401.6 1163.5 402.1 1162.2 402.5 C1160.9 402.9 1157.8 404.1 1156.6 404.6 C1155.5 405.1 1151.9 407.1 1150.7 407.5 C1149.6 408 1146 408.5 1145.1 408.9 C1144.2 409.3 1142 411 1141.8 411.7 C1141.6 412.4 1142.4 415.4 1142.9 416 C1143.3 416.7 1144.8 418.3 1146.1 418.2 C1147.4 418.1 1154.4 415.7 1155.8 415.5 C1157.3 415.3 1159.6 415.7 1160.6 416.2 C1161.6 416.7 1164.5 419.4 1165.5 420 C1166.5 420.7 1169.7 422.5 1170.7 422.7 C1171.8 422.9 1174.2 423 1175.7 422 C1177.1 421.1 1183.9 414.5 1185.3 413.1 C1186.6 411.6 1188.8 408.7 1189.3 407.7 C1189.8 406.7 1190.1 403.7 1189.9 402.7 C1189.8 401.7 1188.6 398.4 1188.1 397.7 C1187.5 397 1185.4 395.5 1184.6 395.4Z" fill="#8f8f8f"/>
<path d="M1154.6 409.7 C1154.9 409 1160.2 406.7 1161.8 406.1 C1163.4 405.5 1168.9 404.5 1170.5 403.9 C1172.1 403.4 1176.4 400.8 1177.7 400.3 C1179 399.8 1182.6 398.6 1183.5 398.9 C1184.4 399.2 1186.8 402.2 1187.1 403.2 C1187.4 404.2 1186.9 407.9 1186.4 409 C1185.9 410.1 1183.1 413.1 1182.1 414.1 C1181 415.1 1177.4 418.5 1176.3 419.1 C1175.1 419.8 1171.6 420.8 1170.5 420.6 C1169.3 420.4 1165.9 417.7 1164.7 417 C1163.5 416.2 1159.9 414.1 1158.9 413.3 C1157.9 412.6 1154.3 410.5 1154.6 409.7Z" fill="#c8c8c8"/>
<path d="M1157.5 409.7 C1157.7 409.1 1163.2 407.9 1164.7 407.6 C1166.1 407.2 1170.5 406.6 1171.9 406.1 C1173.4 405.6 1177.9 402.9 1179.2 402.5 C1180.4 402.1 1183.7 401.9 1184.2 402.5 C1184.7 403.1 1184.7 407.2 1184.2 408.3 C1183.7 409.4 1180.3 412.4 1179.2 413.3 C1178.1 414.3 1174.5 417.3 1173.4 417.7 C1172.2 418 1168.7 417.4 1167.6 417 C1166.5 416.5 1163.5 414.1 1162.5 413.3 C1161.5 412.6 1157.2 410.3 1157.5 409.7Z" fill="#f2f2f2"/>
<path d="M1175.3 414.8 C1175.3 415 1175 415.6 1174.9 415.8 C1174.8 416 1174.2 416.4 1174 416.5 C1173.7 416.6 1172.9 416.8 1172.7 416.8 C1172.4 416.8 1171.6 416.6 1171.4 416.5 C1171.1 416.4 1170.5 416 1170.4 415.8 C1170.3 415.6 1170.1 415 1170.1 414.8 C1170.1 414.6 1170.3 414 1170.4 413.8 C1170.5 413.6 1171.1 413.1 1171.4 413 C1171.6 412.9 1172.4 412.8 1172.7 412.8 C1172.9 412.8 1173.7 412.9 1174 413 C1174.2 413.1 1174.8 413.6 1174.9 413.8 C1175 414 1175.3 414.6 1175.3 414.8Z" fill="#a3cce3"/>
<path d="M1095.2 421.3 C1095.3 419.9 1097.7 415.7 1098.9 414.8 C1100 413.9 1104.9 412.1 1106.8 411.9 C1108.8 411.7 1116.4 412.2 1118.4 412.6 C1120.4 413.1 1125.8 415.4 1127.1 416.2 C1128.3 417.1 1130.5 420.1 1130.7 421.3 C1130.8 422.5 1129.5 426.7 1128.5 427.8 C1127.6 428.9 1122.7 431.5 1121.3 432.2 C1119.8 432.8 1115.6 434.3 1114.1 434.3 C1112.5 434.4 1107 433.4 1105.4 432.9 C1103.8 432.4 1099.1 430.4 1098.1 429.3 C1097.1 428.1 1095.2 422.7 1095.2 421.3Z" fill="#8f8f8f"/>
<path d="M1124.9 422.7 C1124.9 423.4 1123.9 425.4 1123.3 426 C1122.6 426.6 1119.8 428.1 1118.8 428.4 C1117.7 428.7 1113.8 429.3 1112.6 429.3 C1111.4 429.3 1107.5 428.7 1106.5 428.4 C1105.4 428.1 1102.6 426.6 1102 426 C1101.3 425.4 1100.3 423.4 1100.3 422.7 C1100.3 422.1 1101.3 420.1 1102 419.5 C1102.6 418.9 1105.4 417.4 1106.5 417.1 C1107.5 416.8 1111.4 416.2 1112.6 416.2 C1113.8 416.2 1117.7 416.8 1118.8 417.1 C1119.8 417.4 1122.6 418.9 1123.3 419.5 C1123.9 420.1 1124.9 422.1 1124.9 422.7Z" fill="#c8c8c8"/>
<path d="M1120.6 422.7 C1120.6 423.1 1119.9 424.2 1119.5 424.6 C1119.1 424.9 1117.3 425.7 1116.6 425.9 C1115.9 426.1 1113.4 426.4 1112.6 426.4 C1111.8 426.4 1109.3 426.1 1108.6 425.9 C1107.9 425.7 1106.1 424.9 1105.7 424.6 C1105.3 424.2 1104.6 423.1 1104.6 422.7 C1104.6 422.4 1105.3 421.3 1105.7 420.9 C1106.1 420.6 1107.9 419.8 1108.6 419.6 C1109.3 419.4 1111.8 419.1 1112.6 419.1 C1113.4 419.1 1115.9 419.4 1116.6 419.6 C1117.3 419.8 1119.1 420.6 1119.5 420.9 C1119.9 421.3 1120.6 422.4 1120.6 422.7Z" fill="#f2f2f2"/>
<path d="M1038.8 476.3 C1032 475.3 1036.3 463.2 1035.9 461.8 C1035.5 460.5 1033.3 456.9 1033 456 C1032.7 455.2 1031.5 449.6 1031.6 448.8 C1031.7 448 1033.9 444.3 1034.5 443.7 C1035 443.2 1039.3 441.1 1040.3 440.8 C1041.2 440.6 1047.8 440 1048.9 440.1 C1050.1 440.3 1056.5 442.8 1057.6 443 C1058.8 443.2 1065.1 443.8 1066.3 443.7 C1067.5 443.7 1073.9 442.3 1075 442.3 C1076 442.2 1081.4 442.7 1082.2 443 C1083.1 443.3 1087.2 446.2 1088 446.6 C1088.8 447 1092.9 448.6 1093.8 448.8 C1094.7 449 1100 449.4 1101 449.5 C1102.1 449.6 1108.5 450.2 1109.7 450.2 C1111 450.3 1118.7 450.2 1119.8 450.2 C1121 450.3 1126.3 450.7 1127.1 451 C1127.8 451.3 1130.8 454.1 1131.4 454.6 C1132 455.1 1135.3 457.7 1135.8 458.2 C1136.2 458.7 1137.7 460.6 1137.9 461.8 C1138.1 463 1145.3 475.3 1138.7 476.3 C1132 477.3 1045.7 477.3 1038.8 476.3Z" fill="#545454"/>
<path d="M1039.9 475 C1046.6 475.9 1130.8 475.8 1137.3 475 C1143.7 474.1 1136.8 463.3 1136.6 462.2 C1136.5 461.1 1135.4 459.7 1134.8 459.1 C1134.1 458.4 1127.5 452.7 1126.5 452.2 C1125.6 451.7 1120.9 451.6 1119.8 451.5 C1118.6 451.5 1111.4 451.6 1109.6 451.5 C1107.9 451.4 1095 450.3 1093.6 450.1 C1092.1 449.8 1088.2 448.2 1087.4 447.8 C1086.6 447.4 1082.6 444.6 1081.8 444.3 C1081 444 1076.1 443.5 1075 443.6 C1074 443.6 1067.4 445 1066.2 445 C1065 445.1 1058.5 444.5 1057.4 444.3 C1056.2 444 1049.9 441.6 1048.8 441.4 C1047.7 441.3 1041.5 441.9 1040.6 442.1 C1039.7 442.3 1035.9 444.3 1035.4 444.7 C1034.9 445.2 1033 448.3 1032.9 449 C1032.9 449.7 1034 454.8 1034.3 455.6 C1034.5 456.4 1036.8 460.2 1037.2 461.5 C1037.5 462.7 1033.2 474.1 1039.9 475Z" fill="#8f8f8f"/>
<path d="M1041.1 473.5 C1047.6 474.3 1129.4 474.2 1135.7 473.5 C1142 472.8 1135.3 463.6 1135.2 462.7 C1135 461.8 1134.2 460.6 1133.6 460 C1133 459.4 1126.9 454.1 1125.9 453.7 C1125 453.2 1120.8 453.1 1119.7 453 C1118.6 453 1111.2 453.1 1109.5 453 C1107.7 452.9 1094.8 451.8 1093.3 451.5 C1091.8 451.3 1087.6 449.5 1086.8 449.1 C1086 448.7 1082.1 446 1081.3 445.7 C1080.5 445.5 1076.1 445.1 1075.1 445.1 C1074.1 445.2 1067.3 446.5 1066.1 446.5 C1064.9 446.6 1058.2 446 1057.1 445.8 C1055.9 445.5 1049.7 443.1 1048.6 443 C1047.5 442.8 1041.8 443.4 1041 443.6 C1040.2 443.8 1036.9 445.5 1036.5 445.9 C1036 446.2 1034.6 448.7 1034.5 449.3 C1034.5 449.9 1035.4 454.3 1035.7 455.1 C1036 455.9 1038.2 459.8 1038.6 461 C1039 462.3 1034.6 472.7 1041.1 473.5Z" fill="#c8c8c8"/>
<path d="M1042.5 471.8 C1048.7 472.5 1127.9 472.4 1133.9 471.8 C1140 471.2 1133.6 463.9 1133.5 463.2 C1133.4 462.5 1132.8 461.7 1132.3 461.2 C1131.7 460.6 1126.1 455.7 1125.3 455.3 C1124.4 454.9 1120.7 454.8 1119.6 454.7 C1118.6 454.7 1111.1 454.8 1109.3 454.7 C1107.6 454.6 1094.9 453.5 1093.3 453.3 C1091.8 453 1086.9 451.1 1086 450.7 C1085.2 450.3 1081.5 447.6 1080.7 447.4 C1080 447.1 1076.1 446.8 1075.1 446.8 C1074.2 446.9 1067.5 448.2 1066.3 448.2 C1065.1 448.3 1058.4 447.7 1057.2 447.5 C1056.1 447.3 1049.4 444.8 1048.4 444.7 C1047.3 444.5 1042.2 445.1 1041.5 445.2 C1040.8 445.4 1038 446.9 1037.7 447.1 C1037.4 447.4 1036.3 449.1 1036.3 449.6 C1036.3 450.1 1037.1 453.8 1037.3 454.6 C1037.6 455.3 1039.9 459.4 1040.2 460.5 C1040.6 461.7 1036.3 471 1042.5 471.8Z" fill="#f2f2f2"/>
<path d="M1077.9 450.2 C1078.2 449.5 1083 447.3 1083.7 447.3 C1084.3 447.3 1087.7 449.7 1088 450.2 C1088.3 450.8 1088.3 455.3 1088 456 C1087.7 456.8 1084.2 461.6 1083.7 461.8 C1083.1 462 1079.7 459.7 1079.3 458.9 C1078.9 458.2 1077.6 451 1077.9 450.2Z" fill="#c8c8c8"/>
<path d="M1041.7 456 C1041.8 455.4 1043.9 450.7 1044.6 450.2 C1045.3 449.8 1051 448.7 1051.8 448.8 C1052.7 448.9 1057.1 451.1 1057.6 451.7 C1058.1 452.3 1059.2 456.8 1059.1 457.5 C1059 458.2 1056.8 461.5 1056.2 461.8 C1055.5 462.1 1049.8 461.9 1048.9 461.8 C1048.1 461.7 1043.6 460.8 1043.2 460.4 C1042.7 460 1041.6 456.7 1041.7 456Z" fill="#a3cce3"/>
<path d="M1052.1 454.6 C1052.1 454.7 1051.8 455.4 1051.7 455.5 C1051.6 455.6 1050.7 456 1050.5 456.1 C1050.3 456.1 1049.2 456.3 1048.9 456.3 C1048.7 456.3 1047.5 456.1 1047.3 456.1 C1047.2 456 1046.3 455.6 1046.2 455.5 C1046.1 455.4 1045.8 454.7 1045.8 454.6 C1045.8 454.5 1046.1 453.8 1046.2 453.7 C1046.3 453.6 1047.2 453.1 1047.3 453.1 C1047.5 453 1048.7 452.8 1048.9 452.8 C1049.2 452.8 1050.3 453 1050.5 453.1 C1050.7 453.1 1051.6 453.6 1051.7 453.7 C1051.8 453.8 1052.1 454.5 1052.1 454.6Z" fill="#539ecd"/>
<path d="M1063.4 453.1 C1063.5 452.6 1068.3 450.5 1069.2 450.2 C1070.1 450 1075.9 448.6 1076.4 448.8 C1077 449 1078 452.6 1077.9 453.1 C1077.8 453.7 1075.7 457.1 1075 457.5 C1074.3 457.9 1068.5 459.2 1067.7 458.9 C1067 458.6 1063.3 453.7 1063.4 453.1Z" fill="#a3cce3"/>
<path d="M1086.6 476.3 C1084.1 475.2 1088.7 461.7 1089.5 460.4 C1090.2 459.1 1097 457 1098.1 456.8 C1099.3 456.5 1105.5 456 1106.8 456 C1108.2 456 1117.2 456.5 1118.4 456.8 C1119.6 457 1123.6 459.1 1124.2 460.4 C1124.8 461.7 1129.6 475.2 1127.1 476.3 C1124.6 477.3 1089.1 477.3 1086.6 476.3Z" fill="#a3cce3"/>
<path d="M1090.9 476.3 C1089.8 475.3 1094.5 462.9 1095.2 461.8 C1096 460.8 1101.6 460.4 1102.5 460.4 C1103.3 460.4 1107.7 460.8 1108.3 461.8 C1108.8 462.9 1112.3 475.3 1111.2 476.3 C1110 477.3 1092 477.3 1090.9 476.3Z" fill="#539ecd"/>
<path d="M791.2 385.5 C791.4 384.7 794.7 381.5 795.5 381.2 C796.3 381 798.9 382.4 799 383 C799.1 383.6 797.5 386.4 797 387 C796.5 387.6 794.3 389.1 793.8 389 C793.2 388.9 791.1 386.3 791.2 385.5Z" fill="#545454"/>
<path d="M787 386.2 C787 386.4 786.9 386.8 786.9 386.9 C786.8 387 786.6 387.3 786.5 387.3 C786.4 387.4 786.1 387.5 786 387.5 C785.9 387.5 785.6 387.4 785.5 387.3 C785.4 387.3 785.2 387 785.1 386.9 C785.1 386.8 785 386.4 785 386.2 C785 386.1 785.1 385.7 785.1 385.6 C785.2 385.5 785.4 385.2 785.5 385.2 C785.6 385.1 785.9 385 786 385 C786.1 385 786.4 385.1 786.5 385.2 C786.6 385.2 786.8 385.5 786.9 385.6 C786.9 385.7 787 386.1 787 386.2Z" fill="#545454"/>
</g>
<g clip-path="url(#ax)" fill="none" stroke="#808080" stroke-width="3.8" stroke-linejoin="round" stroke-linecap="round">
<path d="M120 10 C119.9 10.3 119.7 11.2 119.5 13 C119.3 14.8 118.5 22.1 118.2 25 C118 27.9 117.3 34.9 117 37.5 C116.7 40.1 115.8 45.3 115.5 47.5 C115.2 49.7 115.1 54.4 114.5 56.2 C113.9 58.1 111 62 110 63.8 C109 65.5 106.3 69.6 106.2 71.2 C106.2 72.9 108.8 75.9 109.2 77.5 C109.7 79.1 109.6 83.4 110 85 C110.4 86.6 112.4 89.9 113 91.2 C113.6 92.6 115.1 94.9 115.5 96.2 C115.9 97.6 116.6 100.9 116.5 102.5 C116.4 104.1 115.3 108.4 115 110 C114.7 111.6 114.3 114.9 113.8 116.2 C113.2 117.6 110.4 120.1 110 121.2 C109.6 122.4 109.3 124.9 110 126.2 C110.7 127.6 114.9 131.2 116.2 132.5 C117.6 133.8 120.5 136.2 121.2 137.5 C122 138.8 122.9 142.6 123 143.8 C123.1 144.9 122.3 146.2 122.5 147.5 C122.7 148.8 124.1 153.7 124.5 155 C124.9 156.3 125.2 157.6 126.2 158.8 C127.3 159.9 132.3 163.7 133.8 165 C135.2 166.3 138.2 169.4 138.8 170"/>
<path d="M138.8 170 C139 170.7 140.2 175.1 141.2 176.2 C142.3 177.4 146.4 178.5 147.5 179.5 C148.6 180.5 149.8 183.2 150.5 185 C151.2 186.8 152.6 193.2 153.8 195 C154.9 196.8 158.6 199.2 160 200 C161.4 200.8 164.8 201.3 165.5 202 C166.2 202.7 166.5 205.2 166.2 206.2 C166 207.3 163.6 210.1 163.8 211.2 C163.9 212.4 166.3 214.8 167.5 216.2 C168.7 217.7 172.3 222.1 173.8 223.8 C175.2 225.4 178.5 228.7 180 230 C181.5 231.3 185.4 234 186.2 235 C187.1 236 186.8 238 187.5 238.8 C188.2 239.5 191.4 239.9 192 241.2 C192.6 242.6 192.2 248.5 192.5 250 C192.8 251.5 193.8 253.9 195 254.5 C196.2 255.1 200.2 254.8 202.5 255 C204.8 255.2 212.8 255.8 215 256.2 C217.2 256.7 219.9 258 221.2 258.8 C222.6 259.5 224.9 262.3 226.2 263 C227.6 263.7 231 264.3 232.5 264.5 C234 264.7 238.3 264.4 239.5 265 C240.7 265.6 241.6 269.4 242.5 270 C243.4 270.6 246 269.9 247.5 270.5 C249 271.1 253.2 273.6 255 275 C256.8 276.4 261.2 280.9 262.5 282.5 C263.8 284.1 265.7 287.4 266.2 288.8 C266.8 290.1 266.9 292.4 267.5 293.8 C268.1 295.1 270.2 298.2 271.2 300 C272.3 301.8 275.2 307.1 276.2 308.8 C277.3 310.4 279.4 312.7 280 313.8 C280.6 314.8 280.5 316.3 281.2 317.5 C282 318.7 285.4 322.3 286.2 323.8 C287.1 325.2 288.5 329.3 288.8 330"/>
<path d="M147.5 179.5 C148 179.1 150.5 176.5 152 176 C153.5 175.5 157.6 175.5 160 175.5 C162.4 175.5 171 176.2 172.5 176.2" stroke-width="5"/>
<path d="M152 176.2 C152.2 177 152.8 181 153.8 182.5 C154.7 184 159.3 188 160 188.8" stroke-width="5.5"/>
<path d="M196.2 264.5 C197.1 264.7 201.4 266.2 203.8 266.2 C206.1 266.3 214.8 265.1 216.2 265" stroke-width="4.5"/>
<path d="M216 281.5 L218 282.5" stroke-width="4.5"/>
<path d="M237.5 277.5 L243.8 280" stroke-width="4.5"/>
<path d="M236.2 286.2 L242 292" stroke-width="4"/>
<path d="M265.5 290 C265.7 290.4 266.8 292.6 267.5 293.8 C268.2 294.9 270.4 298.5 271.2 300 C272.1 301.5 274 304.6 275 306.2 C276 307.9 279.5 312.4 280 313.8 C280.5 315.1 279.1 316.3 279.5 317.5 C279.9 318.7 282.7 322.1 283.8 323.8 C284.8 325.4 287.6 329.5 288.8 331.2 C289.9 333 292.9 337 293.8 338.8 C294.6 340.5 295.7 344.6 296.2 346.2 C296.8 347.9 298.2 351.2 298.8 352.5 C299.3 353.8 300.2 355.8 301.2 357 C302.3 358.2 305.8 361.1 307.5 362.5 C309.2 363.9 314.5 367.3 316.2 368.8 C318 370.2 320.9 373.5 322.5 375 C324.1 376.5 328.4 379.9 330 381.2 C331.6 382.6 335.4 384.9 336.2 386.2 C337.1 387.6 337.1 390.9 337 392.5 C336.9 394.1 335.5 398.7 335 400 C334.5 401.3 333.7 403.5 332.5 403.8 C331.3 404 327 402.2 325 402 C323 401.8 316.2 401.8 315 401.8"/>
<path d="M334.5 398.8 L336.5 405"/>
<path d="M315.3 401.5 C315.9 402.1 319.5 404.8 320.9 406.2 C322.3 407.6 325.6 412.2 327.5 413.7 C329.3 415.2 334.6 418 336.8 419.3 C339 420.6 344.4 424.5 346.2 425 C347.9 425.4 350.7 423.9 351.8 423.5 C352.9 423 355.3 420.5 355.9 420.8 C356.6 421.1 356.4 424.6 357.4 425.9 C358.5 427.1 363.2 430.3 364.9 431.5 C366.7 432.7 370.9 435 372.4 436.2 C373.9 437.4 377 440.3 378 441.8 C379 443.3 380.6 447.6 380.8 449.3 C381.1 451 380.3 455.3 379.9 456.8 C379.5 458.3 377.5 461.2 377.1 462.4 C376.7 463.6 375.6 466 376.2 467.1 C376.7 468.2 380.2 470.9 381.8 471.8 C383.3 472.7 388.4 474.3 389.3 474.6"/>
<path d="M317 311.2 C317.2 312 318.4 315.9 318.8 317.5 C319.1 319.1 319.6 323.2 320 325 C320.4 326.8 322.1 330.5 322.5 332.5 C322.9 334.5 323.5 340.6 323.8 342.5 C324 344.4 324.3 347.3 325 348.8 C325.7 350.2 328.7 353.7 330 355 C331.3 356.3 334.8 358.7 336.2 360 C337.7 361.3 341.2 364.8 342.5 366.2 C343.8 367.7 346.6 371.2 347.5 372.5 C348.4 373.8 349.1 376.5 350 377.5 C350.9 378.5 353.7 380.1 355 381.2 C356.3 382.4 360.2 385.9 361.2 387.5 C362.3 389.1 363.2 393.2 363.8 395 C364.3 396.8 365.2 400.9 366.2 402.5 C367.3 404.1 371.2 407.3 372.5 408.8 C373.8 410.2 376.2 413.4 377.5 415 C378.8 416.6 382.4 421.2 383.8 422.5 C385.1 423.8 387.6 425.2 388.8 426.2 C389.9 427.3 392.7 429.8 393.8 431.2 C394.8 432.7 396.8 437.1 397.5 438.8 C398.2 440.4 399.4 443.7 400 445 C400.6 446.3 402.2 449.4 402.5 450"/>
<path d="M387.4 425 C387.9 425.5 391.2 428.4 392.1 429.6 C393 430.8 394.1 433.9 394.9 435.3 C395.7 436.6 397.9 439.9 398.6 440.9 C399.4 441.9 401.2 442.8 401.4 443.7 C401.7 444.6 400.1 447.1 400.5 448.4 C400.9 449.7 404.2 453.5 405.2 454.9 C406.2 456.3 408.1 459.3 408.9 460.5 C409.8 461.7 412.5 463.9 412.7 465.2 C412.9 466.5 411.1 470.7 410.8 471.8 C410.5 472.9 410 474.3 409.9 474.6"/>
<path d="M349.5 364.5 C349.9 365.1 352.4 368.5 353 369.5 C353.6 370.5 354.8 372.6 355 373" stroke-width="6"/>
<path d="M317 311.2 C317.6 311.5 321 313 322.5 313.8 C324 314.5 328.4 316.8 330 317.5 C331.6 318.2 334.9 320 336.2 320 C337.6 320 340.1 317.5 341.2 317.5 C342.4 317.5 345.2 319.1 346.2 320 C347.3 320.9 348.8 323.4 350 325 C351.2 326.6 354.9 331.9 356.2 333.8 C357.6 335.6 360.2 339.5 361.2 341.2 C362.3 343 364.3 347.1 365 348.8 C365.7 350.4 366.8 353.4 367.5 355 C368.2 356.6 370.4 361 371.2 362.5 C372.1 364 374.1 366 375 367.5 C375.9 369 377.6 373.2 378.8 375 C379.9 376.8 383.4 380.8 385 382.5 C386.6 384.2 390.8 388.4 392.5 390 C394.2 391.6 398.4 395.1 400 396.2 C401.6 397.4 405.1 399.1 406.2 400 C407.4 400.9 409.1 402.6 410 403.8 C410.9 404.9 412.9 408.7 413.8 410 C414.6 411.3 416 414 417.5 415 C419 416 424.8 417.6 426.2 418.8 C427.7 419.9 428.8 424.1 430 425 C431.2 425.9 434.6 425.2 436.2 426.2 C437.9 427.3 443.3 432.1 443.8 433.8 C444.2 435.4 440.3 438.5 440 440 C439.7 441.5 440.4 445.1 441.2 446.2 C442.1 447.4 446.8 449.6 447.5 450"/>
<path d="M375 367.5 C374.6 367.9 371.8 370.2 371.2 371.2 C370.7 372.3 370.3 375.3 370.5 376.2 C370.7 377.2 372.3 379.1 373 379.5 C373.7 379.9 375.7 380.3 376.2 379.5 C376.8 378.7 377.6 373.9 377.5 372.5 C377.4 371.1 375.3 368.1 375 367.5"/>
<path d="M421.1 416.5 C421.9 416.7 426.6 417.5 427.7 418.4 C428.8 419.3 429.3 423.1 430.5 424 C431.7 424.9 436.5 425.1 438 425.9 C439.4 426.7 441.8 429.5 442.7 430.6 C443.5 431.7 445.8 434.3 445.5 435.3 C445.1 436.2 440.6 437.9 439.8 439 C439.1 440.1 438.7 443.4 438.9 444.6 C439.1 445.8 440.5 448.9 441.7 449.3 C442.9 449.7 448.1 448 449.2 448.4 C450.3 448.7 450 451.1 451.1 452.1 C452.2 453.1 456.9 455.7 458.6 456.8 C460.2 457.9 463.9 460.3 465.1 461.5 C466.3 462.7 468 465.9 468.9 467.1 C469.7 468.3 471.2 471 472.6 471.8 C474 472.5 480.1 473.4 481 473.7"/>
<path d="M242.5 371.2 L244 377.5" stroke-width="5"/>
<path d="M309.5 390.5 L311.2 395" stroke-width="6"/>
<path d="M239.5 290.5 L241.5 291.5" stroke-width="4"/>
<path d="M698 473.8 C698.4 472.7 700.4 467.2 701.2 465 C702.1 462.8 704.5 457.2 705.5 455 C706.5 452.8 709.1 448.3 709.5 446.2 C709.9 444.2 709.2 439.4 708.8 437.5 C708.3 435.6 706.1 431.8 705.5 430 C704.9 428.2 704.2 424.5 703.8 422.5 C703.3 420.5 701.4 414.8 701.2 412.5 C701.1 410.2 701.9 404.1 702.5 402.5 C703.1 400.9 705.1 399.8 706.2 398.8 C707.4 397.7 711 394.9 712.5 393.8 C714 392.6 717.8 390 718.8 388.8 C719.7 387.5 720.1 383.2 720.5 383 C720.9 382.8 721.8 386.6 722.5 387 C723.2 387.4 724.9 386.7 726.2 386.2 C727.6 385.8 732 383.9 733.8 383 C735.5 382.1 739.4 380 741.2 378.8 C743.1 377.5 748.2 373.8 750 372.5 C751.8 371.2 755.4 368.8 756.2 367.5 C757.1 366.2 757.1 361.7 757.5 361.2 C757.9 360.8 759.1 363.5 760 363.8 C760.9 364 763.5 364.2 765 363.8 C766.5 363.3 770.8 360.7 772.5 360 C774.2 359.3 778.9 358.2 780 357.5 C781.1 356.8 781.6 354.2 782 354.2 C782.4 354.2 782.8 357.1 783.8 357.5 C784.7 357.9 788.1 357.4 790 357.5 C791.9 357.6 798 358.3 800 358.8 C802 359.2 806 360.8 807.5 361.2 C809 361.7 811.2 363.1 812.5 363 C813.8 362.9 817.3 360.6 818.8 360 C820.2 359.4 823.4 357.2 825 357.5 C826.6 357.8 831 361.3 832.5 362.5 C834 363.7 836.9 366.9 837.5 367.5"/>
<path d="M702.5 402 C702.9 401.4 704.6 397.8 705.5 397 C706.4 396.2 709 396.1 710 395.5 C711 394.9 712.8 392.6 713.8 392 C714.7 391.4 717.3 390.8 718 390 C718.7 389.2 719.8 386 720 385.5" stroke-width="5"/>
<path d="M835.5 389 L839 390.5" stroke-width="6"/>
<path d="M800 358.7 C801.1 359.1 807.8 361.6 809.6 361.9 C811.5 362.2 814.6 361.7 816.1 361.1 C817.6 360.5 820.6 357.6 822.5 357.1 C824.4 356.5 829.9 356.5 832.2 356.3 C834.4 356.1 839.4 355.7 841.8 355.5 C844.2 355.3 850.4 354.8 853.1 354.7 C855.7 354.5 862.1 354.2 864.3 353.9 C866.6 353.5 870.5 351.8 872.3 351.4 C874.2 351.1 878.3 351 880.4 350.6 C882.4 350.3 887.8 348.4 890 348.2 C892.3 348 897.4 349.1 899.7 349 C901.9 348.9 907.9 348.1 909.3 347.4 C910.7 346.8 911.1 343.4 911.7 343.4 C912.3 343.4 912.9 346.9 914.5 347.4 C916.1 348 923 348.2 925.4 348.2 C927.8 348.2 932.8 347.4 935 347.4 C937.3 347.4 942.4 348 944.7 348.2 C946.9 348.4 952.5 348.8 954.3 349 C956.2 349.3 959.6 350.2 960.8 350.6 C961.9 351.1 963.2 352.2 964 353.1 C964.7 353.9 966.1 357 967.2 357.9 C968.3 358.7 972.3 360.2 973.6 360.3 C974.9 360.4 977.5 359.3 978.5 358.7 C979.4 358 981.3 355.1 981.7 354.7"/>
<path d="M817.7 357.1 L824.1 356.3" stroke-width="5"/>
<path d="M965.5 355 C966.1 355.6 969.2 359.3 970.5 360 C971.8 360.7 975.3 361.5 976.8 361.2 C978.2 361 981.4 358.5 983 357.5 C984.6 356.5 988.8 353.2 990.5 352.5 C992.2 351.8 996.2 351 998 351.2 C999.8 351.5 1003.8 353.7 1005.5 355 C1007.2 356.3 1011.4 360.9 1013 362.5 C1014.6 364.1 1017.9 367.4 1019.2 368.8 C1020.6 370.1 1023.3 372.4 1024.2 373.8 C1025.2 375.1 1027.1 378.4 1027.5 380 C1027.9 381.6 1028.2 385.8 1028 387.5 C1027.8 389.2 1025.4 393.7 1025.5 395 C1025.6 396.3 1028.4 397.9 1029.2 398.8 C1030.1 399.6 1032.7 401.5 1033 402.5 C1033.3 403.5 1031.2 406 1031.8 407.5 C1032.3 409 1036.7 413 1038 415 C1039.3 417 1042.1 422.7 1043 425 C1043.9 427.3 1044.6 433 1045.5 435 C1046.4 437 1049 440.8 1050.5 442.5 C1052 444.2 1056.8 448.2 1058 450 C1059.2 451.8 1059.3 456.3 1060.5 457.5 C1061.7 458.7 1066.5 460.3 1068 460 C1069.5 459.7 1071.8 456.5 1073 455 C1074.2 453.5 1076.8 449.5 1078 447.5 C1079.2 445.5 1082.4 439.5 1083 437.5 C1083.6 435.5 1083.3 432 1083 430 C1082.7 428 1081.1 422.3 1080.5 420 C1079.9 417.7 1078.6 412.3 1078 410 C1077.4 407.7 1076.2 402.3 1075.5 400 C1074.8 397.7 1072.6 392.2 1071.8 390 C1070.9 387.8 1068.7 383.3 1068 381.2 C1067.3 379.2 1066.2 374.7 1065.5 372.5 C1064.8 370.3 1062.6 364.8 1061.8 362.5 C1060.9 360.2 1058.7 354.8 1058 352.5 C1057.3 350.2 1056.1 344.5 1055.5 342.5 C1054.9 340.5 1053.2 336.5 1053 335 C1052.8 333.5 1053.4 330.6 1053.5 330"/>
<path d="M1026.8 396.2 L1031.8 402.5" stroke-width="6"/>
<path d="M1067.5 380 L1073 388.8" stroke-width="5"/>
<path d="M1033.5 372.5 L1034.2 373.8" stroke-width="3"/>
<path d="M1045.5 473 C1046.1 472.8 1049.3 471.9 1050.5 471.5 C1051.7 471.1 1054.3 469.6 1055.5 469.2 C1056.7 468.9 1059.3 468.6 1060.5 468.2 C1061.7 467.9 1064.4 466.8 1065.5 466.2 C1066.6 465.7 1069.1 464.3 1070 463.8 C1070.9 463.2 1072.2 462.3 1073 461.2 C1073.8 460.2 1076.3 455.7 1076.8 455" stroke-width="5.5"/>
<path d="M1145.5 428.8 C1146.1 428.9 1149.6 429.3 1150.5 430 C1151.4 430.7 1153.1 433.7 1153 435 C1152.9 436.3 1150.1 440.4 1149.2 441.2 C1148.4 442.1 1146.4 442.4 1146 442.5" stroke-width="5"/>
<path d="M1156.8 452.5 C1157.9 453.1 1165 456.3 1166.8 457.5 C1168.5 458.7 1171.4 461.1 1171.8 462.5 C1172.1 463.9 1170.2 468.7 1170 469.5" stroke-width="5"/>
<path d="M1180 469.5 L1183 473" stroke-width="6"/>
<path d="M1125.5 461.2 C1126.1 461.7 1129.6 463.8 1130.5 465 C1131.4 466.2 1132.7 470.5 1133 471.2" stroke-width="6"/>
<path d="M1128 465 C1127.4 465.6 1123.9 469.1 1123 470 C1122.1 470.9 1120.3 472.6 1120 473" stroke-width="5.5"/>
<path d="M1140.5 461.8 L1145.5 461.2" stroke-width="6"/>
<path d="M1059.5 362.9 C1059.1 361.8 1056.9 355.3 1056.3 353.2 C1055.6 351.2 1054.3 347.1 1053.9 345.2 C1053.4 343.3 1052.3 338.9 1052.3 337.2 C1052.2 335.5 1052.7 332.2 1053.1 330.7 C1053.4 329.2 1054.7 325.8 1055.5 324.3 C1056.2 322.8 1058.5 319.6 1059.5 317.9 C1060.5 316.2 1063.2 311.6 1064.3 309.8 C1065.4 308.1 1067.8 303.9 1069.1 302.6 C1070.4 301.3 1073.9 299.3 1075.6 298.6 C1077.3 297.8 1081.9 296.9 1083.6 296.2 C1085.3 295.4 1088.5 293.3 1090 292.2 C1091.5 291 1095 288 1096.5 286.5 C1098 285 1102.1 280.1 1102.9 279.3"/>
<path d="M1067.5 301 C1068.5 300.8 1073.7 299.8 1075.6 299.4 C1077.4 299 1081.9 297.9 1083.6 297.3 C1085.3 296.7 1089.3 294.9 1090 294.6" stroke-width="6"/>
<path d="M1102.9 280.5 C1103.5 279.6 1106.6 274.6 1107.7 273.2 C1108.8 271.9 1111.2 269.9 1112.5 269.2 C1113.9 268.6 1117.5 267.9 1119 267.6 C1120.5 267.3 1124.1 267.1 1125.4 266.8 C1126.7 266.5 1129.3 266 1130.2 265.2 C1131.2 264.5 1132.5 261.5 1133.4 260.4 C1134.4 259.3 1137.1 256.7 1138.3 255.6 C1139.4 254.4 1141.8 251.6 1143.1 250.7 C1144.4 249.9 1148 248.7 1149.5 248.3 C1151 248 1154.4 247.4 1155.9 247.5 C1157.4 247.6 1161.1 249.2 1162.4 249.1 C1163.7 249 1165.9 247.7 1167.2 246.7 C1168.5 245.8 1172.1 241.9 1173.6 241.1 C1175.1 240.2 1178.8 240.2 1180.1 239.5 C1181.4 238.7 1184.1 236 1184.9 234.7 C1185.6 233.3 1186.5 229.7 1186.5 228.2 C1186.5 226.7 1185.5 223.3 1184.9 221.8 C1184.3 220.3 1182.4 217.1 1181.7 215.4 C1180.9 213.7 1179.2 208.8 1178.5 207.3 C1177.7 205.8 1175.9 203.6 1175.2 202.5 C1174.6 201.4 1173.1 198.2 1172.8 197.7"/>
<path d="M1141.5 249.1 L1144.7 251.5" stroke-width="6"/>
<path d="M1160.8 244.3 C1160.6 243.6 1159.2 239.4 1159.2 237.9 C1159.2 236.4 1159.8 232.6 1160.8 231.4 C1161.7 230.3 1165.7 228.8 1167.2 228.2 C1168.7 227.7 1172.5 227.2 1173.6 226.6 C1174.8 226.1 1176.5 223.8 1176.8 223.4" stroke-width="5"/>
<path d="M1157.6 217 C1157.9 217.5 1159.6 221.4 1160.8 221.8 C1161.9 222.2 1165.9 220.8 1167.2 220.2 C1168.5 219.6 1171.1 217.7 1172 217 C1173 216.2 1174.9 214.1 1175.2 213.8" stroke-width="5"/>
<path d="M1170.4 212.2 C1170.8 213.3 1173.4 219.9 1173.6 221.8 C1173.9 223.7 1173.4 226.9 1172.8 228.2 C1172.3 229.5 1170 232.2 1168.8 233.1 C1167.6 233.9 1163.1 235.2 1162.4 235.5" stroke-width="5"/>
<path d="M1151.1 239.5 C1151.9 240 1156.1 243.8 1157.6 244.3 C1159.1 244.8 1163.2 243.6 1164 243.5" stroke-width="5"/>
<path d="M1195.9 133.2 C1195 133.5 1189.7 135 1188.3 135.7 C1186.9 136.3 1184.6 137.9 1183.9 138.8 C1183.3 139.7 1182.5 142.2 1182.7 143.2 C1182.8 144.2 1184.4 146.2 1185.2 147 C1186 147.7 1188.5 149 1189.6 149.5 C1190.7 150 1193.6 151 1194.6 151.4 C1195.6 151.7 1197.8 152.1 1198.4 152.6 C1198.9 153.1 1198.5 155.6 1199 155.7 C1199.4 155.9 1201.3 154.9 1202.1 153.9 C1202.9 152.8 1205.4 147.8 1205.9 147" stroke-width="4"/>
<path d="M1185.2 147 C1185.4 147.5 1186.7 150.5 1187.1 151.4 C1187.4 152.2 1187.7 153.7 1188.3 154.5 C1188.9 155.3 1191.4 157.4 1192.1 158.2 C1192.8 159.1 1194.2 160.4 1194.6 161.4 C1195 162.3 1195.2 165.4 1195.2 166.4 C1195.2 167.4 1195 169.3 1194.6 170.2 C1194.2 171 1192.8 172.9 1192.1 173.9 C1191.4 174.9 1189.2 177.8 1188.3 178.9 C1187.4 180.1 1185.4 183.1 1184.6 184 C1183.7 184.8 1181.7 185.8 1180.8 186.5 C1179.9 187.1 1177.8 188.9 1177 189.6 C1176.3 190.3 1174.7 191.9 1174.5 192.7 C1174.4 193.5 1175.3 195.6 1175.8 196.5 C1176.2 197.4 1178 199.8 1178.3 200.3" stroke-width="4.5"/>
<path d="M1174.5 143.2 C1173.8 143.6 1169.7 145.5 1168.3 146.3 C1166.8 147.1 1162.6 149.1 1162 150.1 C1161.4 151.1 1163 153.9 1163.2 155.1 C1163.5 156.3 1164.5 159.1 1164.5 160.1 C1164.5 161.2 1163.8 163.3 1163.2 163.9 C1162.7 164.5 1159.6 164.5 1159.5 165.1 C1159.3 165.8 1161.3 168.5 1162 169.5 C1162.7 170.6 1165 173 1165.8 173.9 C1166.5 174.9 1168 176.7 1168.3 177.7 C1168.6 178.7 1168.4 181.5 1168.3 182.7 C1168.1 183.9 1167.3 186.6 1167 187.7 C1166.7 188.8 1166 191.1 1165.8 192.1 C1165.5 193.1 1164.9 195.5 1164.5 196.5 C1164.1 197.4 1162.3 199.8 1162 200.3" stroke-width="6"/>
<path d="M1174.5 143.8 C1174.1 144.6 1171.4 148.8 1170.8 150.1 C1170.2 151.4 1169.2 153.7 1169.5 155.1 C1169.8 156.6 1172.5 161.2 1173.3 162.6 C1174 164.1 1175.2 166.5 1175.8 167.7 C1176.4 168.8 1177.7 171.5 1178.3 172.7 C1178.9 173.8 1180.4 176.7 1180.8 177.7 C1181.2 178.7 1181.9 181 1182.1 181.4" stroke-width="5"/>
<path d="M1151.3 157.6 C1151.1 158.1 1150.1 160.5 1149.4 161.4 C1148.8 162.3 1146.2 164.3 1145.7 165.1 C1145.2 166 1144.5 168.3 1145.1 168.9 C1145.6 169.5 1149.5 169.6 1150.7 170.2 C1151.9 170.7 1154.5 173 1155.7 173.9 C1156.9 174.8 1159.7 177 1160.7 177.7 C1161.8 178.4 1164.1 179.9 1164.5 180.2" stroke-width="5.5"/>
<path d="M1148.2 173.9 C1148.8 174.4 1152 176.8 1153.2 177.7 C1154.4 178.6 1157.1 180.6 1158.2 181.4 C1159.4 182.3 1162.7 184.8 1163.2 185.2" stroke-width="5"/>
<path d="M1145.7 192.1 C1146.3 192.3 1149.5 193.1 1150.7 193.4 C1151.9 193.6 1154.5 193.8 1155.7 194 C1156.9 194.2 1159.6 194.8 1160.7 195.2 C1161.9 195.7 1165.2 197.5 1165.8 197.8" stroke-width="5.5"/>
<path d="M1157 189 L1160.7 192.7" stroke-width="5"/>
<path d="M1168.3 151.4 L1165.8 157.6" stroke-width="7"/>
<path d="M1145.5 192.1 C1146.3 192.2 1151 193.2 1152.7 193.7 C1154.5 194.1 1159.1 195.4 1160.8 196.1 C1162.5 196.7 1165.8 199.1 1167.2 199.3 C1168.6 199.5 1172.2 197.9 1172.8 197.7" stroke-width="5"/>
<path d="M1160.8 186.4 C1161.1 187.4 1163.2 192.8 1164 194.5 C1164.7 196.2 1166.8 200.2 1167.2 200.9" stroke-width="5"/>
<path d="M1175.2 186.4 C1175.1 187.2 1174.6 191.5 1174.4 192.9 C1174.2 194.2 1173.7 197.1 1173.6 197.7" stroke-width="5"/>
<path d="M1183.3 183.2 C1182.9 184 1180.8 188.1 1180.1 189.6 C1179.3 191.1 1177.2 195.3 1176.8 196.1" stroke-width="4.5"/>
<path d="M1154.3 181.6 C1154.8 182.4 1157.4 186.7 1158.4 188 C1159.3 189.4 1161.9 192.3 1162.4 192.9" stroke-width="5"/>
<path d="M1202.5 23.8 C1202.8 23.6 1204.3 22.4 1205 22 C1205.7 21.6 1208.1 20.2 1208.5 20" stroke-width="4.5"/>
<path d="M375.5 465.5 C376 465.9 378.8 468.2 380 469 C381.2 469.8 385.3 472.1 386 472.5" stroke-width="5.5"/>
<path d="M410.5 463.5 L412 466" stroke-width="6"/>
</g>
<g clip-path="url(#data)" fill="none" stroke-linejoin="round" stroke-linecap="round">
<path d="M335.8 136.6 C335.9 135.9 338.3 133.6 339.1 133.3 C339.8 133 342.4 133.6 343.2 133.8 C344 134 346 135 346.6 135.6 C347.2 136.1 349.2 138.1 349.3 138.8 C349.5 139.5 348.5 142.1 348.1 142.6 C347.7 143.1 345.7 143.8 345.1 143.8 C344.4 143.8 342.3 143 341.6 142.7 C340.9 142.3 338.6 140.9 338.1 140.3 C337.5 139.7 335.7 137.3 335.8 136.6Z" stroke="#1f77b4" stroke-width="4.2"/>
<path d="M401.5 132.5 C402.6 132.1 408.5 131.9 410.3 131.9 C412 132 418 132.7 419.1 133.2 C420.1 133.6 421 135.7 421 136.3 C421 136.9 419.8 138.9 419.1 139.4 C418.4 140 414.7 141.4 414.1 141.9 C413.4 142.5 412.2 144.1 412.2 145.1 C412.1 146 412.7 150.7 413.4 151.4 C414.1 152 418.1 151.1 419.1 151.4 C420 151.6 422.5 153.2 422.8 153.9 C423.2 154.5 423 157 422.8 157.6 C422.6 158.2 421 159.5 421 160.1 C420.9 160.8 422 163 422.2 163.9 C422.4 164.8 423 168 422.8 168.9 C422.6 169.8 421 172.3 420.3 173.3 C419.7 174.3 417.2 178 416.6 178.9 C415.9 179.9 414.6 181.8 414.1 182.7 C413.6 183.6 412.2 187 411.5 187.7 C410.9 188.4 409.2 189.5 407.8 189.6 C406.4 189.7 399.4 189.3 397.8 189 C396.1 188.7 392.6 187.2 391.5 186.5 C390.4 185.7 387.3 182.5 386.5 181.4 C385.7 180.4 383.5 177.4 383.3 176.4 C383.1 175.4 384 172.2 384.6 171.4 C385.1 170.6 388 168.5 389 168.3 C389.9 168 392.9 169 394 168.9 C395.1 168.8 399.3 167.5 400.3 167 C401.3 166.5 403.7 164.6 404 163.9 C404.3 163.2 403.9 160.6 403.4 160.1 C402.9 159.6 399.9 158.9 399 158.9 C398.1 158.9 394.7 159.8 394 160.1 C393.2 160.5 392 162.6 391.5 162.6 C390.9 162.7 388.7 161.4 388.3 160.8 C388 160.1 387.5 157.3 387.7 156.4 C387.9 155.4 389.5 152 390.2 151.4 C391 150.7 394.4 150 395.2 149.5 C396.1 149 398 147.2 398.4 146.3 C398.8 145.5 398.9 142.3 399 141.3 C399.1 140.3 398.8 137.2 399 136.3 C399.3 135.4 400.4 133 401.5 132.5Z" stroke="#ff7f0e" stroke-width="4.2"/>
<path d="M374.6 180.9 C375.6 180.8 378.3 182.2 378.9 182.7 C379.6 183.3 380.8 185.6 380.8 186.5 C380.8 187.3 379.8 190.3 379.2 191 C378.6 191.7 376 193.6 375.2 193.7 C374.3 193.9 371.4 192.6 370.7 192.1 C369.9 191.6 368.1 189.2 367.9 188.3 C367.7 187.5 368.2 184.4 368.9 183.7 C369.6 183 373.5 181 374.6 180.9Z" stroke="#ff7f0e" stroke-width="4.2"/>
<path d="M533.7 154.8 C534.7 154.5 539.1 154.3 539.9 154.8 C540.7 155.2 541.6 158.2 541.7 159.2 C541.8 160.2 540.5 163.4 540.8 164.5 C541.1 165.5 543.8 168.7 544.3 169.8 C544.9 170.9 546.1 174.1 546.1 175.1 C546.1 176.1 544 179.1 544.3 179.5 C544.7 180 548.4 179.7 549.6 179.5 C550.9 179.3 555.3 177.8 556.7 177.4 C558.1 177 562.5 175.5 563.8 175.1 C565.1 174.7 569.1 173.7 570 173.9 C570.8 174 572.3 176.1 572.3 176.9 C572.3 177.6 570.7 180.5 570 181.3 C569.3 182.1 566.5 184.3 565.6 184.8 C564.6 185.4 561.5 186.1 560.3 186.6 C559 187 554.6 189.2 553.2 189.2 C551.8 189.3 547.5 187.9 546.1 187.5 C544.7 187.1 540.3 185.3 539 185.2 C537.8 185.1 534.8 186.3 533.7 186.2 C532.7 186.2 529.4 184.7 528.4 184.8 C527.5 184.9 524.8 186.8 524 187.5 C523.2 188.2 521.1 191.2 520.5 191.9 C519.8 192.6 518.3 193.9 517.8 194.6 C517.4 195.2 516.4 197.3 516 198.1 C515.7 198.9 515 201.8 514.3 202.5 C513.6 203.2 510.2 205 509 205.2 C507.7 205.3 503.1 204.7 501.9 204.3 C500.7 203.8 497.1 201.5 496.6 200.7 C496.1 199.9 496.4 197.2 496.9 196.3 C497.5 195.4 501.2 192.6 501.9 191.9 C502.6 191.2 504 189.6 503.7 189.2 C503.3 188.9 499.6 188.2 498.4 188.4 C497.1 188.5 492.7 190.8 491.3 191 C489.9 191.2 485.3 190.7 484.2 190.1 C483.1 189.5 480.8 186 480.3 184.8 C479.9 183.7 479.6 179.9 479.8 178.6 C480 177.4 481.6 173.5 482.4 172.4 C483.2 171.4 486.3 168.5 487.7 168 C489.2 167.6 494.6 167.9 496.6 168 C498.5 168.1 505.3 169 507.2 168.9 C509.1 168.9 514.5 167.8 516 167.5 C517.6 167.2 522 166.7 523.1 166.3 C524.3 165.8 526.8 163.6 527.5 162.7 C528.2 161.8 529.6 158.2 530.2 157.4 C530.8 156.6 532.8 155 533.7 154.8Z" stroke="#d62728" stroke-width="4.2"/>
<path d="M528.4 184.8 C529.4 184.7 532.7 186.2 533.7 186.2 C534.8 186.3 537.8 185.1 539 185.2 C540.3 185.3 544.7 187.1 546.1 187.5 C547.5 187.9 551.8 189.3 553.2 189.2 C554.6 189.2 558.8 186.8 560.3 186.6 C561.7 186.4 565.6 187.4 567.3 187.5 C569.1 187.5 576 187.1 577.9 186.9 C579.9 186.8 585.2 186.5 586.8 186.2 C588.4 186 592.6 184.4 593.9 184.5 C595.1 184.5 598.3 186.1 599.2 186.9 C600 187.8 602.3 191.6 602.3 192.8 C602.4 194 600.5 197.6 600 199 C599.6 200.3 598 204.6 597.4 206 C596.8 207.5 594.6 211.9 593.9 213.1 C593.2 214.4 590.8 217.5 590.3 218.4 C589.9 219.4 590.1 222.1 589.4 222.8 C588.7 223.6 584.6 225.9 583.2 226.4 C581.9 226.8 577.4 227.1 576.2 227.3 C574.9 227.4 572.1 228.3 570.9 228.2 C569.6 228 565.2 226 563.8 225.5 C562.4 225 558 223.6 556.7 223.4 C555.5 223.1 552.7 222.5 551.4 222.8 C550.2 223.2 545.8 226.6 544.3 227.3 C542.9 227.9 538.7 228.8 537.3 229 C535.9 229.3 531.4 230.2 530.2 229.9 C529 229.7 525.6 227.4 524.9 226.4 C524.2 225.4 523.6 221.5 523.1 220.2 C522.7 218.9 520.8 214.5 520.5 213.1 C520.1 211.7 519.6 207.5 519.6 206 C519.6 204.6 520.3 200.4 520.5 199 C520.6 197.6 521 193 521.4 191.9 C521.7 190.7 523.3 188.2 524 187.5 C524.7 186.8 527.5 184.9 528.4 184.8Z" stroke="#f7b6d2" stroke-width="4.2"/>
<path d="M506.3 215.8 C507.6 215.6 511.6 216.9 512.5 217.5 C513.4 218.2 515.6 220.9 515.7 222 C515.8 223 514.2 227.2 513.4 228.2 C512.6 229.1 509.3 231.4 508.1 231.7 C506.8 232 501.9 231.8 501 231.2 C500.1 230.5 499.3 226.7 499.2 225.5 C499.2 224.3 499.4 220.3 500.1 219.3 C500.8 218.3 505.1 215.9 506.3 215.8Z" stroke="#9edae5" stroke-width="4.2"/>
<path d="M585.9 156.2 C587.1 156.1 590.9 158.5 592.1 159.2 C593.2 159.8 596.7 161.9 597.4 162.7 C598.1 163.5 599.3 166.6 599.2 167.5 C599 168.4 596.6 171.1 595.6 171.6 C594.7 172.1 590.8 172.6 589.4 172.4 C588.1 172.3 583.7 171 582.4 170.3 C581.1 169.6 576.8 166.4 576.5 165.4 C576.3 164.3 578.8 161 579.7 160.1 C580.6 159.1 584.7 156.3 585.9 156.2Z" stroke="#ff7f0e" stroke-width="4.2"/>
<path d="M617.7 155.6 C619.2 155.6 623.5 158.2 624.8 159.2 C626.1 160.2 630.4 164.1 630.6 165.4 C630.9 166.6 628.5 170.6 627.5 171.6 C626.4 172.5 622.1 174.3 620.4 174.6 C618.7 174.8 612.2 174.6 610.7 173.9 C609.2 173.2 605.4 168.9 605.4 167.5 C605.3 166.1 608.5 161.2 609.8 160.1 C611 158.9 616.2 155.7 617.7 155.6Z" stroke="#ffbb78" stroke-width="4.2"/>
<path d="M614.2 208.7 C615.5 208.8 619.2 211.3 620.4 212.2 C621.5 213.2 625.1 217 625.7 218.4 C626.3 219.8 626.3 224.8 626 226.4 C625.8 228 624 233.2 623 234.3 C622.1 235.5 618.2 237.8 616.9 237.9 C615.5 238 611 236.3 609.8 235.2 C608.5 234.2 605.2 228.9 604.5 227.3 C603.8 225.6 602.4 220 602.7 218.4 C603 216.8 606 212.3 607.1 211.4 C608.3 210.4 612.9 208.6 614.2 208.7Z" stroke="#c49c94" stroke-width="4.2"/>
<path d="M641.6 7.9 C636.7 8.7 641.5 22.8 641.6 23.8 C641.6 24.9 643 27.9 643.3 28.3 C643.6 28.7 647.3 31.4 647.7 31.8 C648.2 32.2 652.4 36 653.1 36.2 C653.7 36.5 659.4 36.6 660.1 36.6 C660.8 36.6 666.6 36.1 667.2 35.9 C667.8 35.7 671.9 32.8 672.5 32.7 C673.1 32.5 679 32.5 679.6 32.7 C680.2 32.9 684.4 35.9 684.9 36.2 C685.4 36.5 689.6 38.3 690.2 38.3 C690.8 38.4 695.8 38.2 696.4 38 C697 37.8 701.9 35 702.6 34.8 C703.2 34.6 709 33.5 709.6 33.6 C710.3 33.7 714.3 36.4 715 36.6 C715.6 36.7 721.4 36.6 722 36.6 C722.6 36.5 726.8 36.2 727.3 35.9 C727.9 35.6 732.1 31.4 732.6 30.9 C733.2 30.4 737.3 26 737.6 25.6 C737.9 25.2 738.8 23.8 738.8 23 C738.9 22.1 743.7 8.7 738.8 7.9 C734 7.2 646.4 7.1 641.6 7.9Z" stroke="#ff9896" stroke-width="4.2"/>
<path d="M701.7 38.9 C703 38.5 708.3 39.1 709.6 39.4 C711 39.7 714.3 41 715 41.5 C715.6 42.1 716.1 44.3 715.8 45.1 C715.6 45.8 713.3 48.5 712.3 49 C711.3 49.5 707.3 50.1 706.1 50 C704.9 49.9 700.8 48.4 699.9 47.7 C699 47 696.7 44.2 696.9 43.3 C697.1 42.4 700.4 39.3 701.7 38.9Z" stroke="#ffbb78" stroke-width="4.2"/>
<path d="M845.1 160.9 C847 160.1 855 159.9 857.6 159.9 C860.2 159.8 869.1 159.9 871.2 160.5 C873.3 161.1 876.7 165.5 878.5 166.1 C880.3 166.8 887 167 889 167.2 C891 167.3 896.8 167 898.4 167.6 C899.9 168.2 903.6 172.1 904.6 173.4 C905.7 174.8 908.6 179.2 908.8 180.8 C909 182.3 907.7 187.7 906.7 189.1 C905.8 190.6 901.2 194.3 899.4 195.4 C897.6 196.4 891.1 198.9 889 199.6 C886.9 200.2 879.9 201.3 878.5 201.7 C877.2 202 876.2 202.8 875.4 202.7 C874.6 202.6 872.1 201.2 870.2 201 C868.2 200.8 857.8 201.3 855.5 200.6 C853.2 199.9 848.5 195.9 847.2 194.3 C845.8 192.8 842.8 186.8 841.9 184.9 C841.1 183.1 839.2 177.2 838.8 175.5 C838.5 173.9 837.8 169.7 838.4 168.2 C839 166.8 843.2 161.7 845.1 160.9Z" stroke="#ffbb78" stroke-width="4.2"/>
<path d="M928.7 159.9 C929.9 158.9 935.6 157.7 937 157.8 C938.5 157.9 942.5 159.8 943.3 160.9 C944.1 162 944.7 168.3 945.4 169.3 C946.1 170.2 949.5 170.6 950.6 170.3 C951.8 170.1 955.5 167.1 956.9 166.8 C958.3 166.4 962.9 166.6 964.2 167.2 C965.6 167.7 969.3 171.2 970.5 172.4 C971.6 173.5 974.9 177.8 975.7 178.7 C976.5 179.5 977.7 181 978.8 180.8 C980 180.5 985.7 177.4 987.2 176.6 C988.7 175.7 991.8 172.9 993.5 172.4 C995.1 171.9 1002 171.6 1003.9 171.8 C1005.8 172 1010.6 174.3 1012.3 174.5 C1014 174.7 1019.3 173 1020.6 173.4 C1022 173.9 1025 177.5 1025.9 178.7 C1026.7 179.8 1029 183.8 1029 184.9 C1029 186.1 1026.9 189.2 1025.9 190.2 C1024.8 191.1 1020.1 193.5 1018.6 194.3 C1017 195.2 1011.9 197.6 1010.2 198.5 C1008.5 199.5 1003.3 202.8 1001.8 203.7 C1000.4 204.7 997 207.4 995.6 207.9 C994.1 208.4 988.9 209.3 987.2 209 C985.5 208.7 980.1 205.4 978.8 204.8 C977.6 204.2 975.9 202.9 974.7 202.7 C973.4 202.5 968 202.6 966.3 202.7 C964.6 202.8 959.6 203.2 957.9 203.7 C956.3 204.3 951.3 206.9 949.6 207.9 C947.9 209 942.9 213.2 941.2 214.2 C939.6 215.2 934.3 217.6 932.9 218.4 C931.4 219.1 928.1 221.4 926.6 221.5 C925.1 221.6 919.9 220.2 918.2 219.4 C916.6 218.7 911 215.5 909.9 214.2 C908.7 212.9 906.9 208.4 906.7 206.9 C906.5 205.3 907.4 200.3 907.8 198.5 C908.2 196.7 910.2 190.9 910.9 189.1 C911.6 187.3 914.2 182.2 915.1 180.8 C916 179.3 919.4 175.8 920.3 174.5 C921.3 173.1 923.7 168.6 924.5 167.2 C925.3 165.7 927.4 160.8 928.7 159.9Z" stroke="#9467bd" stroke-width="4.2"/>
<path d="M1021.7 170.3 C1022.4 169.5 1029.1 169.4 1031.1 169.3 C1033.1 169.2 1039.9 168.8 1041.5 169.3 C1043.2 169.7 1046.4 172.8 1047.8 173.4 C1049.3 174.1 1055 175.3 1056.2 175.9 C1057.3 176.6 1059.3 178.9 1059.3 179.7 C1059.3 180.5 1057.3 183.4 1056.2 183.9 C1055 184.4 1049.5 185 1047.8 184.9 C1046.1 184.8 1041.1 182.8 1039.5 182.8 C1037.8 182.9 1032.3 185.5 1031.1 185.6 C1029.8 185.7 1027.6 184.7 1026.9 183.9 C1026.2 183.1 1024.3 179 1023.8 177.6 C1023.3 176.3 1021 171.1 1021.7 170.3Z" stroke="#ffbb78" stroke-width="4.2"/>
<path d="M1020.6 198.1 C1022.2 198.1 1027.6 198.8 1029 199.6 C1030.4 200.3 1033.8 204.5 1034.2 205.8 C1034.7 207.2 1034.1 211.8 1033.6 213.2 C1033.1 214.5 1030.3 218.5 1029 219.4 C1027.7 220.4 1022.3 222.5 1020.6 222.6 C1019 222.7 1013.6 221.4 1012.3 220.5 C1010.9 219.5 1007.5 214.7 1007.1 213.2 C1006.6 211.6 1007.5 206.1 1008.1 204.8 C1008.7 203.4 1012.1 200.2 1013.3 199.6 C1014.6 198.9 1019.1 198.1 1020.6 198.1Z" stroke="#c5b0d5" stroke-width="4.2"/>
<path d="M939.6 259.6 C940.6 259.8 944.6 262.4 945.4 263.3 C946.2 264.2 947.4 267.6 947.1 268.5 C946.8 269.5 943.4 272.4 942.3 272.7 C941.2 273 937 272 936 271.3 C935 270.5 932.5 266.4 932.4 265.4 C932.3 264.4 934.2 261.8 935 261.2 C935.7 260.6 938.5 259.3 939.6 259.6Z" stroke="#aec7e8" stroke-width="4.2"/>
<path d="M1152.2 116.9 C1152.2 116.1 1155.5 113.5 1156.6 112.5 C1157.6 111.6 1161.5 108.2 1162.8 107.5 C1164.2 106.8 1169.1 105.6 1170.4 105.6 C1171.6 105.6 1174.5 106.9 1175.4 107.5 C1176.3 108.2 1178.6 111 1179.1 111.9 C1179.6 112.8 1180.5 115.5 1180.4 116.3 C1180.3 117.1 1178.6 119.6 1177.9 120.1 C1177.1 120.6 1173.9 121.1 1172.9 121.3 C1171.9 121.5 1168.7 121.6 1167.9 121.9 C1167 122.3 1164.8 124.3 1164.1 124.5 C1163.3 124.6 1161.1 123.6 1160.3 123.2 C1159.6 122.8 1157.4 121.3 1156.6 120.7 C1155.7 120.1 1152.2 117.7 1152.2 116.9Z" stroke="#aec7e8" stroke-width="4.2"/>
<path d="M1181 113.2 C1181.6 112.8 1184.5 111.7 1185.4 111.3 C1186.3 110.9 1189.5 109.3 1190.4 109.4 C1191.4 109.5 1194.3 111.7 1194.8 112.5 C1195.3 113.4 1195.8 116.7 1195.7 117.6 C1195.6 118.4 1194.8 120.8 1194.2 121.3 C1193.5 121.8 1190.3 122.3 1189.2 122.3 C1188 122.4 1183.9 122.3 1182.9 121.9 C1181.9 121.6 1179.5 119.5 1179.1 118.8 C1178.8 118.1 1178.9 115.6 1179.1 115 C1179.3 114.5 1180.4 113.5 1181 113.2Z" stroke="#9467bd" stroke-width="4.2"/>
<path d="M356.9 223.8 C357.2 223 359.1 219.5 360.1 218.8 C361 218.2 365.1 217.8 366.3 217.6 C367.6 217.4 371.6 217.4 372.6 216.9 C373.6 216.5 375.5 213.7 376.4 213.2 C377.2 212.6 380.4 211.2 381.4 211.3 C382.3 211.4 385.1 213.6 385.8 214.4 C386.4 215.3 387.4 219 387.7 220.1 C387.9 221.1 388.3 224.2 388.3 225.1 C388.3 226 388.2 228.2 387.7 228.9 C387.1 229.5 383.8 231.1 382.6 231.4 C381.5 231.7 377.5 231.9 376.4 232 C375.2 232.1 372.2 232.3 371.4 232.6 C370.5 232.9 368.3 234.8 367.6 235.1 C366.8 235.4 364.7 236.1 363.8 235.8 C362.9 235.4 359.5 232.2 358.8 231.4 C358.1 230.6 357.1 228.4 356.9 227.6 C356.7 226.9 356.6 224.7 356.9 223.8Z" stroke="#2ca02c" stroke-width="4.2"/>
<path d="M422.8 196.9 C423.5 197 426.1 199.4 426.5 200 C426.9 200.6 427.4 203.2 427.8 203.8 C428.2 204.4 430.8 206.3 431.5 206.9 C432.3 207.5 435.7 211 436.6 211.3 C437.4 211.6 440.8 210.5 441.6 210.7 C442.3 210.9 444.9 213.2 445.3 213.8 C445.8 214.4 446.2 217.2 446.6 217.6 C447 218 449.6 218.4 450.4 218.8 C451.1 219.2 454.5 222 455.4 222.6 C456.2 223.2 459.6 225.3 460.4 225.7 C461.2 226.2 464.5 228 465.4 228.2 C466.3 228.5 470.7 228.7 471.7 228.9 C472.6 229.1 476.1 230.2 476.7 230.7 C477.3 231.3 478.6 234.5 478.6 235.1 C478.5 235.8 476.4 238.2 476.1 238.9 C475.8 239.6 474.7 243.2 474.8 243.9 C475 244.6 477.2 246.7 477.9 247 C478.7 247.4 483.2 247.7 484.2 247.7 C485.3 247.6 489.6 246.5 490.5 246.4 C491.4 246.3 494.4 246.2 495.2 246.4 C496 246.6 499.4 248.3 500.2 248.3 C501 248.2 504.3 246.2 505.2 245.8 C506.2 245.4 510.6 243.8 511.5 243.3 C512.3 242.7 514.7 239.7 515.2 238.9 C515.8 238.1 517.3 234.6 517.8 233.9 C518.2 233.1 520.3 230 520.9 229.5 C521.5 228.9 524.6 226.9 525.3 227 C526 227 528.4 229.5 529 230.1 C529.7 230.7 532.1 233.4 532.8 233.9 C533.5 234.3 537 235.2 537.8 235.1 C538.7 235.1 542 233.5 542.8 233.2 C543.7 232.9 547 231.6 547.9 231.4 C548.7 231.1 552 230.7 552.9 230.7 C553.7 230.7 557.1 230.8 557.9 231.1 C558.7 231.4 561.7 233.2 562.3 233.9 C562.8 234.5 563.8 238 564.2 238.9 C564.5 239.7 566.2 243.1 566.7 243.9 C567.1 244.7 568.7 248.1 569.2 248.9 C569.6 249.7 571.8 253.1 572.3 253.9 C572.8 254.7 574.9 257.6 575.4 258.3 C576 259 578.7 261.9 579.2 262.7 C579.7 263.5 581.1 266.8 581.1 267.7 C581.1 268.6 579.9 272.6 579.5 273.2 C579.2 273.8 577.2 275.1 576.3 275.1 C575.4 275.2 569.8 273.9 568.6 273.9 C567.4 273.9 563.2 274.7 562.2 275.1 C561.2 275.6 557.7 278.1 557 279 C556.4 279.9 554.8 284.4 554.5 285.4 C554.1 286.5 553.4 290.7 553.2 291.9 C553 293 552.1 298.5 551.9 299.6 C551.7 300.7 551 304.6 550.6 305.4 C550.2 306.1 547.5 308.4 546.8 308.6 C546 308.8 542.4 308.3 541.6 307.9 C540.9 307.6 538.4 304.7 537.7 304.1 C537.1 303.4 534.5 300.7 533.9 300.2 C533.2 299.8 530.6 298.8 530 298.9 C529.4 299.1 527.2 301.4 526.8 302.2 C526.5 303 525.9 307.5 525.9 308.6 C525.9 309.7 526.2 314 526.4 315 C526.7 316 528.2 319.9 528.7 320.8 C529.3 321.7 531.9 324.8 532.6 325.3 C533.4 325.8 537.1 326.8 537.7 326.6 C538.4 326.4 540.6 324.1 541 323.4 C541.3 322.6 541.4 318.4 541.6 317.6 C541.8 316.8 542.5 314.2 542.9 313.7 C543.3 313.2 546.1 311.9 546.8 311.8 C547.4 311.7 550.6 312 551.3 312.4 C552 312.9 554.6 316 555.1 316.9 C555.6 317.9 557.3 322.9 557.7 324 C558.1 325.1 559.2 329.3 559.6 330.5 C560 331.6 561.8 336.9 562.2 338.2 C562.6 339.5 563.9 344.7 564.1 345.9 C564.4 347.1 565.4 351.3 565 352.3 C564.6 353.4 560 357.5 559.5 358.5 C558.9 359.6 558.2 364 558.4 364.8 C558.6 365.6 561.5 367.1 561.5 367.9 C561.6 368.8 559.7 373.9 559.5 375.2 C559.2 376.5 558.4 382.4 558.4 383.6 C558.4 384.8 559.5 388.8 559.5 389.9 C559.4 390.9 557.5 395.5 557.4 396.1 C557.3 396.8 558.8 397 558.2 397.2 C557.6 397.4 551.4 398.5 550.2 398.7 C549.1 398.9 544.9 398.8 544.4 399.4 C544 400 545.3 404.8 545.2 405.9 C545 407.1 543.2 411.9 543 413.2 C542.8 414.4 542.3 419.2 542.3 420.4 C542.3 421.6 543.1 426.4 543 427.6 C542.9 428.8 541.7 433.7 541.5 434.9 C541.4 436.1 540.7 441 540.8 442.1 C540.9 443.2 542.6 446.9 543 447.9 C543.4 448.8 544.9 452.5 545.2 453.7 C545.4 454.9 545.8 460.7 545.9 462.3 C545.9 464 552.9 473 545.9 473.9 C538.9 474.9 469 474.9 462 473.9 C455 472.9 462.4 462.9 462 461.9 C461.5 460.9 457.3 462 456.2 461.9 C455.1 461.8 450.1 461.2 448.9 460.9 C447.7 460.6 442.9 458.6 441.7 458 C440.5 457.5 435.6 455.1 434.5 454.4 C433.4 453.7 429.5 450.4 428.7 449.3 C427.8 448.3 425.1 443.4 424.3 442.1 C423.6 440.8 421 434.8 420 433.4 C419 432 413.5 426.4 412.7 425 C411.8 423.5 410.2 417 409.9 415.6 C409.6 414.2 409.1 409.5 408.9 408.1 C408.7 406.7 407.8 400.3 407.6 398.7 C407.5 397.2 407.3 390.9 407.1 389.4 C406.8 387.8 404.1 379.6 404.3 380 C404.4 380.4 408.7 393.8 409 394.1 C409.3 394.4 408.3 385.3 407.9 383.6 C407.6 381.9 405.6 374.5 404.8 373.2 C404 371.8 399.7 367.9 398.5 366.9 C397.3 365.8 391.6 361.6 390.2 360.6 C388.8 359.7 383 356.3 381.8 355.4 C380.6 354.5 376.2 351.3 375.5 350.2 C374.8 349 374.3 342.9 373.4 341.8 C372.6 340.7 366.5 337.4 365.1 336.6 C363.7 335.7 357.9 332.5 356.7 331.4 C355.6 330.2 352.1 324.6 351.5 323 C350.9 321.4 349.6 313.9 349.4 312.5 C349.2 311.2 349.3 308.5 349.4 307 C349.5 305.5 349.8 296.1 350.5 294.5 C351.1 292.9 355.5 289.5 356.7 288.2 C357.9 287 363.7 280.9 365.1 279.9 C366.5 278.8 372 276 373.4 275.7 C374.8 275.3 380.7 275.3 381.8 275.7 C382.9 276 386.2 279.1 387 279.9 C387.9 280.7 391.4 284.5 392.3 285.1 C393.1 285.7 396.6 287.3 397.5 287.2 C398.3 287.1 401.9 284.8 402.7 284.1 C403.5 283.3 406.3 278.9 406.9 277.8 C407.5 276.6 409.6 271.7 410 270.5 C410.5 269.2 411.9 263.6 412.1 263.2 C412.3 262.7 412.2 265.4 412.1 265.2 C412.1 265.1 411.8 262.1 411.5 261.5 C411.1 260.8 408.5 258.2 407.7 257.7 C407 257.2 403.3 255.8 402.7 255.2 C402.1 254.6 400 251.2 400.2 250.2 C400.4 249.1 404.2 244.5 404.6 242.7 C405 240.8 404.8 229 405.2 227.6 C405.6 226.2 408.5 226.5 409 226.4 C409.5 226.2 411.1 226.2 411.5 226.4 C411.8 226.5 413.2 227.7 413.4 228.2 C413.6 228.8 413.7 232.1 414 232.6 C414.3 233.1 416 234.5 416.5 234.5 C417 234.6 419.7 233.7 420.3 233.2 C420.8 232.8 422.7 230.1 422.8 229.5 C422.9 228.9 421.7 227 421.5 226.4 C421.4 225.7 421 222.2 420.9 221.3 C420.8 220.4 420.5 216.5 420.3 215.7 C420 214.9 418.3 211.9 417.8 211.3 C417.2 210.7 414.5 209.4 414 208.8 C413.5 208.2 411.5 205.1 411.5 204.4 C411.4 203.7 412.8 201.1 413.4 200.6 C413.9 200.2 417 199.1 417.8 198.8 C418.5 198.4 422 196.8 422.8 196.9Z" stroke="#17becf" stroke-width="4.2"/>
<path d="M465.7 286.7 C466.2 286.4 470.2 286 471.5 286.1 C472.8 286.1 477.2 286.8 478.6 287.4 C479.9 287.9 484 290.3 485 291.2 C486 292.2 488.1 295.8 488.9 297 C489.6 298.2 492 302.3 492.7 303.4 C493.5 304.6 496 307.6 496.6 308.6 C497.2 309.6 498.5 312.6 498.5 313.7 C498.6 314.9 497.7 319.3 497.2 320.2 C496.7 321 494.2 322.3 493.4 322.1 C492.5 321.9 489.8 319.2 488.9 318.2 C487.9 317.3 484.8 313.6 483.7 312.4 C482.7 311.3 479.6 307.8 478.6 306.7 C477.6 305.5 474.3 302.1 473.4 300.9 C472.5 299.6 470.3 295.6 469.6 294.4 C468.9 293.3 466.8 290.1 466.4 289.3 C466 288.5 465.2 287 465.7 286.7Z" stroke="#17becf" stroke-width="4.2"/>
<path d="M502.4 266.8 C503.4 266.8 506.8 268.3 507.5 269 C508.3 269.7 510.1 272.9 510.1 273.9 C510.1 274.8 508.3 277.8 507.5 278.4 C506.8 278.9 503.4 279.7 502.4 279.6 C501.4 279.6 498.3 278.4 497.6 277.7 C496.9 277.1 495.6 274.1 495.6 273.2 C495.6 272.3 496.9 269.6 497.6 269 C498.3 268.3 501.4 266.8 502.4 266.8Z" stroke="#17becf" stroke-width="4.2"/>
<path d="M539 340.5 C539.8 340.6 542.4 342.6 542.9 343.3 C543.4 344 544.4 346.9 544.4 347.8 C544.4 348.7 543.4 351.7 542.9 352.3 C542.4 352.9 539.8 353.7 539 353.6 C538.3 353.5 535.7 351.7 535.2 351 C534.6 350.3 533.6 347.4 533.6 346.5 C533.6 345.6 534.6 342.6 535.2 342 C535.7 341.4 538.3 340.4 539 340.5Z" stroke="#17becf" stroke-width="4.2"/>
<path d="M468 338.2 C468.2 338 469.7 338 469.8 338.2 C470 338.4 470 339.9 469.8 340.1 C469.7 340.3 468.2 340.3 468 340.1 C467.9 339.9 467.9 338.4 468 338.2Z" stroke="#17becf" stroke-width="4.2"/>
<path d="M511.4 382.6 C511.9 382.2 516 383.1 516.6 383.6 C517.2 384.1 517.9 387.2 517.7 387.8 C517.4 388.4 515.2 390 514.5 389.9 C513.8 389.8 511.3 387.5 511 386.7 C510.7 386 510.8 382.9 511.4 382.6Z" stroke="#17becf" stroke-width="4.2"/>
<path d="M437.2 221.3 C437.3 221 440.8 219.1 441.6 218.8 C442.4 218.5 445.1 218 445.3 218.2 C445.6 218.4 444.6 220.3 444.1 220.7 C443.6 221.1 441 222.5 440.3 222.6 C439.6 222.7 437.1 221.7 437.2 221.3Z" stroke="#17becf" stroke-width="4.2"/>
<path d="M370.1 229.5 C370.6 228.8 373.9 228.1 375.1 227.9 C376.4 227.6 381.1 227 382.6 227 C384.1 227 389 227.7 390.2 227.6 C391.3 227.5 393.2 226.2 393.9 225.7 C394.7 225.2 396.8 222.9 397.7 222.6 C398.6 222.3 401.8 222.2 402.7 222.6 C403.6 223 406.5 225.5 407.1 226.4 C407.7 227.2 408.3 230.2 408.3 231.4 C408.4 232.5 407.8 236.4 407.7 237.6 C407.7 238.9 408 242.8 407.7 243.9 C407.5 245 405.8 248 405.2 248.9 C404.6 249.8 402.1 252.2 401.4 252.7 C400.8 253.2 399.7 254 398.9 253.9 C398.2 253.9 394.8 252.4 393.9 252.1 C393 251.7 390.9 250.2 390.2 250.2 C389.4 250.2 387.2 252 386.4 252.1 C385.6 252.1 383.6 251 382.6 250.8 C381.6 250.6 377.5 250.3 376.4 250.2 C375.2 250.1 372 250.1 371.4 249.6 C370.7 249.1 370.2 246.1 370.1 245.2 C370 244.2 370.7 241.1 370.7 240.1 C370.7 239.1 370.2 236.2 370.1 235.1 C370 234.1 369.6 230.2 370.1 229.5Z" stroke="#8c564b" stroke-width="4.2"/>
<path d="M397.9 237 C397.9 237.1 397.8 237.5 397.7 237.6 C397.7 237.7 397.3 238 397.2 238.1 C397.1 238.2 396.6 238.3 396.4 238.3 C396.3 238.3 395.8 238.2 395.7 238.1 C395.6 238 395.2 237.7 395.1 237.6 C395.1 237.5 394.9 237.1 394.9 237 C394.9 236.9 395.1 236.5 395.1 236.4 C395.2 236.3 395.6 236 395.7 235.9 C395.8 235.9 396.3 235.8 396.4 235.8 C396.6 235.8 397.1 235.9 397.2 235.9 C397.3 236 397.7 236.3 397.7 236.4 C397.8 236.5 397.9 236.9 397.9 237Z" stroke="#8c564b" stroke-width="4.2"/>
<path d="M374.5 255.2 C375.6 255.2 379.4 259.3 380.1 260.2 C380.8 261.1 381.6 263.1 381.4 264 C381.1 264.9 378.5 268.4 377.6 269 C376.7 269.6 373.4 270 372.6 269.6 C371.8 269.2 369.8 266.2 369.5 265.2 C369.1 264.3 368.6 261.2 369.1 260.2 C369.6 259.2 373.4 255.2 374.5 255.2Z" stroke="#ffbb78" stroke-width="4.2"/>
<path d="M392.7 252.9 C393.7 253 397.7 254.7 398.7 255.4 C399.7 256.2 402.5 259.1 403 260.2 C403.4 261.3 403.3 265.4 403 266.5 C402.7 267.6 400.8 270.6 399.9 271.2 C399 271.8 395.1 272.6 393.9 272.5 C392.8 272.4 389.4 270.7 388.5 270 C387.7 269.3 385.9 266.3 385.6 265.2 C385.4 264.1 385.8 260.2 386.1 259.2 C386.5 258.2 388 255.6 388.7 254.9 C389.3 254.3 391.7 252.9 392.7 252.9Z" stroke="#c5b0d5" stroke-width="4.2"/>
<path d="M1209 198 C1208.1 192.6 1199.4 198.1 1197.7 198 C1196.1 197.9 1190.9 197 1189.7 196.9 C1188.5 196.7 1184.4 195.8 1183.3 196.1 C1182.2 196.3 1177.9 199.5 1176.8 200.1 C1175.8 200.7 1171.5 202.8 1170.4 203.3 C1169.3 203.8 1165.1 205.3 1164 205.7 C1162.9 206.1 1158.6 207.9 1157.6 208.1 C1156.5 208.4 1152.2 208.8 1151.1 208.9 C1150.1 209.1 1145.8 209.7 1144.7 209.7 C1143.6 209.7 1139.2 208.7 1138.3 208.9 C1137.3 209.1 1134.4 211.6 1133.4 212.2 C1132.5 212.8 1128.1 215.8 1127 216.2 C1125.9 216.6 1121.7 216.8 1120.6 217 C1119.5 217.2 1115.2 218.3 1114.1 218.6 C1113.1 218.9 1108.9 220.1 1107.7 220.2 C1106.5 220.3 1100.9 220 1099.7 220.2 C1098.5 220.4 1094.3 222.1 1093.2 222.6 C1092.2 223.1 1087.9 225.9 1086.8 226.6 C1085.7 227.4 1081.3 230.7 1080.4 231.4 C1079.4 232.2 1076.4 235.3 1075.6 235.5 C1074.8 235.7 1071.7 234 1070.7 233.9 C1069.8 233.7 1065.2 233.5 1064.3 233.9 C1063.4 234.2 1060.3 237.2 1059.5 237.9 C1058.7 238.5 1055.5 241.2 1054.7 241.9 C1053.9 242.6 1050.5 245.4 1049.8 245.9 C1049.2 246.5 1047.4 248.2 1046.6 248.3 C1045.8 248.5 1041.1 247.7 1040.2 247.5 C1039.3 247.4 1036.2 246.5 1035.4 246.7 C1034.6 246.9 1031.5 249.4 1030.5 249.9 C1029.6 250.5 1025.2 252.7 1024.1 253.2 C1023 253.6 1018.6 255.1 1017.7 255.6 C1016.7 256 1013.7 258 1012.9 258.8 C1012.1 259.6 1008.8 264.1 1008 265.2 C1007.2 266.3 1004 271 1003.2 271.6 C1002.4 272.3 999.5 272.8 998.6 273.3 C997.7 273.8 993 276.6 992.2 277.3 C991.4 278.1 989.6 281.2 989 282.2 C988.3 283.1 985 287.7 984.1 288.6 C983.3 289.5 980.3 292.2 979.3 292.6 C978.4 293 973.8 293.7 972.9 293.4 C972 293.1 969.4 290.2 968.9 289.4 C968.3 288.6 967.1 284.4 966.5 283.8 C965.9 283.1 962.4 281.5 961.6 281.4 C960.8 281.2 957.6 281.8 956.8 282.2 C956 282.6 952.8 285.4 952 286.2 C951.2 287 948.1 290.9 947.2 291.8 C946.2 292.7 941.8 296.2 940.7 296.6 C939.7 297 935.5 296.8 934.3 296.6 C933.1 296.5 927.3 295.6 926.3 295 C925.2 294.5 922.1 290.9 921.4 290.2 C920.8 289.5 918.9 286.5 918.2 286.2 C917.6 285.8 914.3 286 913.4 286.2 C912.5 286.4 908 288.3 907 288.6 C905.9 288.9 901.6 290 900.5 290.2 C899.5 290.4 895.1 290.7 894.1 291 C893.2 291.3 889.9 293.3 889.3 294.2 C888.7 295.1 887.1 300.2 886.9 301.4 C886.7 302.7 886.7 308.3 886.9 309.5 C887 310.7 888.2 314.8 888.5 315.9 C888.8 317 890.6 321.4 890.9 322.3 C891.2 323.3 892.7 326.4 892.5 327.2 C892.3 328 889.3 331.3 888.5 332 C887.7 332.7 883.7 335.5 882.9 336 C882.1 336.5 878.8 337.4 878.8 338.4 C878.9 339.4 882.7 347.1 883.6 348.2 C884.5 349.4 888.7 351.6 890 352.3 C891.4 352.9 898.3 355.1 899.7 355.5 C901 355.8 905 356.3 906.1 356.3 C907.2 356.3 911.8 354.9 912.5 355.5 C913.3 356 914.5 361.8 915 362.7 C915.4 363.6 917 365.9 917.4 365.9 C917.8 365.9 919.5 363.5 919.8 362.7 C920 361.9 920 357.1 920.6 356.3 C921.2 355.5 925.9 353.2 927 353.1 C928.1 352.9 932.4 354.5 933.4 354.7 C934.5 354.9 938.8 355.6 939.9 355.5 C940.9 355.3 945.2 353.4 946.3 353.1 C947.4 352.7 951.7 351.5 952.7 351.4 C953.8 351.4 958.2 352.4 959.2 352.3 C960.1 352.1 963.3 350.3 964 349.8 C964.7 349.4 967.4 346.6 968 346.6 C968.6 346.6 970.6 349.2 971.2 349.8 C971.8 350.4 974.4 353.4 975.2 353.9 C976.1 354.3 980.6 355.3 981.7 355.5 C982.7 355.6 987.2 355.3 988.1 355.5 C989 355.6 992.3 356.6 992.9 357.1 C993.5 357.5 995.3 360.2 995.3 361.1 C995.4 362 994.1 366.5 993.7 367.5 C993.3 368.6 990.8 372.9 990.5 374 C990.2 375 989.5 379.4 989.7 380.4 C989.9 381.3 992.3 384.5 992.9 385.2 C993.6 385.9 997.5 388 997.7 388.4 C998 388.8 995.3 390.1 995.5 390 C995.7 389.9 999.5 388.1 1000.5 387.5 C1001.5 386.9 1006.8 383.3 1008 382.5 C1009.2 381.7 1014.5 378.4 1015.5 377.5 C1016.5 376.6 1019.8 372.5 1020.5 371.2 C1021.2 370 1023.6 364.1 1024.1 362.9 C1024.6 361.7 1026 357.5 1026.5 356.5 C1027.1 355.5 1029.9 351.8 1030.5 350.8 C1031.1 349.9 1033.4 346.2 1033.8 345.2 C1034.2 344.2 1035.1 339.8 1035.4 338.8 C1035.6 337.8 1036.4 334 1037 333.2 C1037.5 332.3 1040.9 329.7 1041.8 329.1 C1042.7 328.6 1047.2 327.2 1048.2 326.7 C1049.3 326.3 1053.7 324 1054.7 323.5 C1055.6 323 1058.8 320.9 1059.5 320.3 C1060.2 319.7 1062 316.8 1062.7 316.3 C1063.4 315.7 1066.7 314.4 1067.5 313.9 C1068.3 313.3 1071.5 310.5 1072.3 309.8 C1073.2 309.2 1076.4 306.2 1077.2 305.8 C1078 305.4 1081.2 304.9 1082 305 C1082.8 305.2 1085.9 307.2 1086.8 307.4 C1087.8 307.7 1092.3 308.3 1093.2 308.2 C1094.2 308.2 1097.7 307.2 1098.1 306.6 C1098.5 306.1 1097.8 302.4 1098.1 301.8 C1098.3 301.2 1100.6 299.5 1101.3 299.4 C1102 299.3 1105.4 300.5 1106.1 301 C1106.8 301.5 1108.8 304.3 1109.3 305 C1109.9 305.8 1111.9 309.3 1112.5 309.8 C1113.2 310.4 1116.4 311.5 1117.4 311.4 C1118.3 311.4 1122.9 309.6 1123.8 309 C1124.7 308.5 1127.9 305.8 1128.6 305 C1129.3 304.3 1131.7 301.1 1131.8 300.2 C1132 299.3 1130.1 295.4 1130.2 294.6 C1130.4 293.7 1132.6 290.3 1133.4 289.7 C1134.2 289.1 1138.8 287.8 1139.9 287.3 C1140.9 286.9 1145.5 284.7 1146.3 284.1 C1147.1 283.5 1148.8 280.7 1149.5 280.1 C1150.2 279.5 1153.4 277.3 1154.3 276.9 C1155.3 276.5 1159.7 275.5 1160.8 275.3 C1161.8 275 1166.3 274.1 1167.2 273.7 C1168.1 273.3 1171.2 271.1 1172 270.5 C1172.8 269.8 1176 266.4 1176.8 265.6 C1177.7 264.9 1180.9 262 1181.7 261.6 C1182.5 261.2 1185.7 260.7 1186.5 260.8 C1187.3 260.9 1190.4 262.2 1191.3 262.4 C1192.3 262.6 1196.3 263.1 1197.7 263.2 C1199.2 263.3 1208.1 268.6 1209 263.2 C1209.9 257.8 1209.9 203.4 1209 198Z" stroke="#ff9896" stroke-width="4.2"/>
<path d="M1151.8 233.9 C1151.8 234.1 1151.4 234.7 1151.2 234.9 C1151 235.1 1150 235.5 1149.7 235.5 C1149.3 235.6 1148.1 235.6 1147.8 235.5 C1147.4 235.5 1146.5 235.1 1146.2 234.9 C1146 234.7 1145.7 234.1 1145.7 233.9 C1145.7 233.7 1146 233 1146.2 232.8 C1146.5 232.7 1147.4 232.2 1147.8 232.2 C1148.1 232.1 1149.3 232.1 1149.7 232.2 C1150 232.2 1151 232.7 1151.2 232.8 C1151.4 233 1151.8 233.7 1151.8 233.9Z" stroke="#ff9896" stroke-width="4.2" fill="#ff9896"/>
<path d="M1195.5 237.9 C1195.5 238 1195.4 238.5 1195.3 238.6 C1195.2 238.8 1194.9 239.1 1194.8 239.1 C1194.7 239.1 1194.3 239.1 1194.2 239.1 C1194.1 239.1 1193.8 238.8 1193.8 238.6 C1193.7 238.5 1193.6 238 1193.6 237.9 C1193.6 237.7 1193.7 237.2 1193.8 237.1 C1193.8 237 1194.1 236.7 1194.2 236.7 C1194.3 236.6 1194.7 236.6 1194.8 236.7 C1194.9 236.7 1195.2 237 1195.3 237.1 C1195.4 237.2 1195.5 237.7 1195.5 237.9Z" stroke="#ff9896" stroke-width="4.2" fill="#ff9896"/>
<path d="M987.7 338.9 C987.7 339.1 987.4 339.9 987.2 340 C987 340.2 986.1 340.7 985.8 340.7 C985.5 340.8 984.4 340.8 984.1 340.7 C983.8 340.7 982.9 340.2 982.7 340 C982.6 339.9 982.2 339.1 982.2 338.9 C982.2 338.7 982.6 338 982.7 337.8 C982.9 337.6 983.8 337.1 984.1 337.1 C984.4 337 985.5 337 985.8 337.1 C986.1 337.1 987 337.6 987.2 337.8 C987.4 338 987.7 338.7 987.7 338.9Z" stroke="#ff9896" stroke-width="4.2" fill="#ff9896"/>
<path d="M1018.2 347.6 C1018.2 347.9 1017.9 348.8 1017.7 349 C1017.5 349.2 1016.6 349.8 1016.3 349.9 C1016 350 1015 350 1014.7 349.9 C1014.3 349.8 1013.5 349.2 1013.3 349 C1013.1 348.8 1012.8 347.9 1012.8 347.6 C1012.8 347.3 1013.1 346.4 1013.3 346.2 C1013.5 345.9 1014.3 345.4 1014.7 345.3 C1015 345.2 1016 345.2 1016.3 345.3 C1016.6 345.4 1017.5 345.9 1017.7 346.2 C1017.9 346.4 1018.2 347.3 1018.2 347.6Z" stroke="#ff9896" stroke-width="4.2" fill="#ff9896"/>
<path d="M1018.5 348.1 C1018.5 348.4 1018.1 349.4 1017.9 349.7 C1017.7 350 1016.6 350.6 1016.3 350.7 C1015.9 350.8 1014.6 350.8 1014.3 350.7 C1013.9 350.6 1012.9 350 1012.7 349.7 C1012.4 349.4 1012.1 348.4 1012.1 348.1 C1012.1 347.8 1012.4 346.8 1012.7 346.5 C1012.9 346.2 1013.9 345.6 1014.3 345.5 C1014.6 345.4 1015.9 345.4 1016.3 345.5 C1016.6 345.6 1017.7 346.2 1017.9 346.5 C1018.1 346.8 1018.5 347.8 1018.5 348.1Z" stroke="#ff9896" stroke-width="4.2" fill="#ff9896"/>
<path d="M851.4 316.9 C852.4 316.9 855.6 318.4 856.3 319.3 C856.9 320.2 857.7 324.3 857.9 325.7 C858 327.2 857.8 332.3 857.9 333.8 C858 335.2 858.3 339.1 858.7 340.2 C859.1 341.3 861.3 344.3 861.9 345 C862.5 345.7 864.5 347.6 865.1 347.4 C865.7 347.3 867.1 344.2 867.5 343.4 C867.9 342.6 868.5 339.9 869.1 339.4 C869.8 338.9 873 338.3 874 338.6 C874.9 338.8 878 341 878.8 341.8 C879.6 342.6 881.4 345.8 882 346.6 C882.6 347.4 884.4 349.4 885.2 349.8 C886 350.3 889.1 351.1 890 351.4 C891 351.8 894 352.6 894.9 353.1 C895.7 353.5 898.4 355.4 898.9 356.3 C899.4 357.2 899.4 360.8 899.7 361.9 C900 363 901.9 366.4 902.1 367.5 C902.3 368.6 901.4 372 901.3 373.2 C901.1 374.3 901 377.9 900.5 378.8 C900 379.7 897.3 381.4 896.5 382 C895.6 382.6 892.6 384 891.6 384.4 C890.7 384.8 887.8 385.5 886.8 386 C885.9 386.5 883 389.1 882 389.2 C881 389.4 878.1 388.2 877.2 387.6 C876.2 387.1 873.2 384.5 872.3 383.6 C871.5 382.7 869.6 379.9 869.1 378.8 C868.6 377.7 868 373.6 867.5 372.3 C867 371.1 864.9 367.1 864.3 365.9 C863.7 364.7 862.3 360.3 861.9 360.3 C861.5 360.3 860.3 364.7 860.3 365.9 C860.3 367.1 861.9 371.1 861.9 372.3 C861.9 373.6 860.6 377.5 860.3 378.8 C860 380.1 859.1 384 858.7 385.2 C858.3 386.4 857.2 390.5 856.3 390.8 C855.4 391.2 851 389 849.8 388.4 C848.7 387.9 845.7 386 845 385.2 C844.4 384.4 843.4 381.4 843.4 380.4 C843.4 379.4 845.3 376 845 375.6 C844.7 375.1 841.2 375.6 840.2 375.6 C839.2 375.5 836.3 375.1 835.4 374.8 C834.4 374.4 831.4 373.1 830.5 372.3 C829.7 371.6 828.1 368 827.3 367.5 C826.5 367 823.5 367.2 822.5 367.5 C821.5 367.8 818.6 370.6 817.7 370.7 C816.8 370.9 814.2 369.6 813.7 369.1 C813.1 368.6 811.8 366.6 812.1 365.9 C812.3 365.3 815 363.2 816.1 362.7 C817.1 362.2 821.2 361.5 822.5 361.1 C823.8 360.7 827.9 359.3 828.9 358.7 C830 358 832.4 355.7 833 354.7 C833.5 353.6 834.2 349.5 834.6 348.2 C834.9 346.9 836.2 343.1 836.2 341.8 C836.2 340.5 834.5 336.7 834.6 335.4 C834.6 334.1 836.3 330.1 837 328.9 C837.7 327.8 840.8 325.1 841.8 324.1 C842.8 323.2 845.7 320 846.6 319.3 C847.6 318.6 850.5 316.9 851.4 316.9Z" stroke="#aec7e8" stroke-width="4.2"/>
<path d="M839.5 389.2 C839.5 389.4 839.4 389.8 839.2 390 C839.1 390.2 838.7 390.5 838.4 390.6 C838.2 390.7 837.6 390.8 837.3 390.8 C837 390.8 836.4 390.7 836.2 390.6 C835.9 390.5 835.5 390.2 835.3 390 C835.2 389.8 835 389.4 835 389.2 C835 389 835.2 388.6 835.3 388.4 C835.5 388.2 835.9 387.9 836.2 387.8 C836.4 387.7 837 387.6 837.3 387.6 C837.6 387.6 838.2 387.7 838.4 387.8 C838.7 387.9 839.1 388.2 839.2 388.4 C839.4 388.6 839.5 389 839.5 389.2Z" stroke="#aec7e8" stroke-width="4.2" fill="#aec7e8"/>
<path d="M964 385.2 C965 385.3 968.1 389.1 968.8 390 C969.5 391 971.2 394 971.2 394.9 C971.2 395.7 969.7 398.5 968.8 398.9 C967.9 399.3 963.6 399.1 962.4 398.9 C961.2 398.6 957.5 397 956.8 396.5 C956 395.9 954.9 394 955.1 393.2 C955.4 392.5 958.3 390 959.2 389.2 C960 388.4 963 385.1 964 385.2Z" stroke="#d62728" stroke-width="4.2"/>
<path d="M971.5 378.5 C971.5 378.6 971.4 378.9 971.4 378.9 C971.3 379 971.1 379.2 971 379.3 C970.9 379.3 970.5 379.4 970.4 379.4 C970.3 379.4 970 379.3 969.9 379.3 C969.8 379.2 969.5 379 969.4 378.9 C969.4 378.9 969.3 378.6 969.3 378.5 C969.3 378.4 969.4 378.1 969.4 378 C969.5 377.9 969.8 377.7 969.9 377.6 C970 377.6 970.3 377.5 970.4 377.5 C970.5 377.5 970.9 377.6 971 377.6 C971.1 377.7 971.3 377.9 971.4 378 C971.4 378.1 971.5 378.4 971.5 378.5Z" stroke="#d62728" stroke-width="4.2" fill="#d62728"/>
<path d="M1172 276.9 C1173 277 1175.9 279.9 1176.8 280.9 C1177.8 281.9 1180.9 286.1 1181.7 287.3 C1182.5 288.5 1183.9 292.4 1184.9 293 C1185.9 293.5 1190.4 292.6 1191.3 293 C1192.2 293.3 1193.7 295.4 1193.7 296.2 C1193.7 297 1192.2 300.3 1191.3 301 C1190.4 301.7 1186.3 303.1 1184.9 303.4 C1183.4 303.7 1178.5 303.9 1176.8 304.2 C1175.2 304.5 1170.4 305.9 1168.8 306.6 C1167.2 307.3 1162.2 310.6 1160.8 311.4 C1159.3 312.3 1155.6 314.4 1154.3 314.7 C1153.1 314.9 1149 314.5 1147.9 313.9 C1146.9 313.2 1144.2 309.4 1143.9 308.2 C1143.6 307.1 1144.1 303.7 1144.7 302.6 C1145.3 301.5 1148.4 298.2 1149.5 297 C1150.6 295.8 1154.7 291.8 1155.9 290.5 C1157.2 289.3 1161.3 285.2 1162.4 284.1 C1163.5 283 1166.2 280 1167.2 279.3 C1168.2 278.6 1171.1 276.7 1172 276.9Z" stroke="#aec7e8" stroke-width="4.2"/>
<path d="M1124.6 334.8 C1125.6 334.8 1129.5 337.1 1130.2 338 C1130.9 338.9 1131.7 342.4 1131.8 343.6 C1132 344.8 1131.5 348.7 1131.5 350 C1131.5 351.3 1132.1 355.4 1131.8 356.5 C1131.5 357.5 1129.6 360 1128.6 360.5 C1127.7 361 1123.5 361.5 1122.2 361.3 C1120.9 361 1116.3 358.9 1115.8 358.1 C1115.2 357.3 1116.2 354.1 1116.6 353.2 C1117 352.4 1119.6 351 1119.8 350 C1119.9 349.1 1118.2 344.8 1118.2 343.6 C1118.2 342.4 1119.1 338.9 1119.8 338 C1120.4 337.1 1123.6 334.8 1124.6 334.8Z" stroke="#98df8a" stroke-width="4.2"/>
<path d="M591.4 223.8 C592.7 223.7 596.5 225.1 597.6 225.7 C598.8 226.3 601.8 228.6 602.6 229.5 C603.5 230.3 605.5 233.3 605.8 234.5 C606.1 235.7 605.9 240.1 605.8 241.4 C605.6 242.7 605.1 246.5 604.5 247.7 C604 248.8 601.1 251.7 600.1 252.7 C599.2 253.7 596.1 256.7 595.1 257.7 C594.1 258.7 591.1 262 590.1 262.7 C589.1 263.5 586.2 265 585.1 265.2 C584 265.4 579.9 265 578.8 264.6 C577.7 264.2 575.1 262.3 574.4 261.4 C573.7 260.6 572.1 257.4 571.9 256.4 C571.7 255.4 572.1 252.2 572.5 251.4 C573 250.6 575.5 248.8 576.3 248.3 C577.1 247.8 579.9 246.9 580.7 246.4 C581.4 245.9 583.9 243.9 583.8 243.3 C583.8 242.6 580.6 240.9 580.1 240.1 C579.6 239.4 578.9 236.6 578.8 235.7 C578.7 234.9 578.9 232.2 579.4 231.4 C579.9 230.5 582.6 227.7 583.8 227 C585 226.2 590 224 591.4 223.8Z" stroke="#ff9896" stroke-width="4.2"/>
<path d="M615.9 289.5 C615.9 290.2 615.3 292.5 614.9 293.1 C614.5 293.8 612.9 295.4 612.2 295.8 C611.6 296.2 609.3 296.8 608.6 296.8 C607.9 296.8 605.6 296.2 605 295.8 C604.3 295.4 602.7 293.8 602.3 293.1 C601.9 292.5 601.3 290.2 601.3 289.5 C601.3 288.8 601.9 286.5 602.3 285.9 C602.7 285.2 604.3 283.6 605 283.2 C605.6 282.8 607.9 282.2 608.6 282.2 C609.3 282.2 611.6 282.8 612.2 283.2 C612.9 283.6 614.5 285.2 614.9 285.9 C615.3 286.5 615.9 288.8 615.9 289.5Z" stroke="#d62728" stroke-width="4.2"/>
<path d="M698.8 406.9 C699.7 406.8 702.4 407.7 703.2 408.2 C704 408.7 706.6 411 707 412 C707.3 412.9 707.2 416.4 707 417.6 C706.8 418.8 705.7 422.8 705.1 423.9 C704.5 424.9 701.7 427.7 700.7 428.3 C699.7 428.8 696.1 429.5 695 429.5 C694 429.5 690.8 428.8 690 428.3 C689.2 427.7 687.2 424.8 686.9 423.9 C686.6 422.9 686.5 419.8 686.9 418.9 C687.3 417.9 689.9 415.3 690.7 414.5 C691.4 413.6 693.6 410.8 694.4 410.1 C695.2 409.3 697.9 407.1 698.8 406.9Z" stroke="#ff7f0e" stroke-width="4.2"/>
<path d="M715.1 472.8 C713.7 471.6 715.2 456.8 715.4 455.2 C715.5 453.7 717.2 450.1 717.6 449.6 C718.1 449 721.3 447.2 722 447.1 C722.7 446.9 727 446.9 727.7 447.1 C728.3 447.3 730.9 449.7 731.4 450.2 C731.9 450.8 734.8 454.6 735.2 455.2 C735.5 455.9 736.3 459.1 736.4 460.2 C736.6 461.4 738.5 471.9 737.1 472.8 C735.6 473.6 716.6 474 715.1 472.8Z" stroke="#d62728" stroke-width="4.2"/>
<path d="M730.2 472.8 C728.4 471.9 732.3 461.3 732.7 460.2 C733.1 459.2 735.9 457.6 736.4 457.1 C736.9 456.6 739.6 453.8 740.2 453.3 C740.8 452.9 744.5 451 745.2 450.8 C745.9 450.7 749.6 450.7 750.2 450.8 C750.9 451 754.7 452.3 755.2 452.7 C755.8 453.1 758.1 455.8 758.4 457.1 C758.7 458.4 761.5 471.7 759.6 472.8 C757.8 473.8 732 473.6 730.2 472.8Z" stroke="#aec7e8" stroke-width="4.2"/>
<path d="M761.5 431.4 C762.1 431.4 766.1 434.6 766.5 435.2 C766.9 435.7 767.5 439.6 767.8 440.2 C768 440.7 769.9 443.1 770.3 443.3 C770.7 443.5 773.1 443.1 773.4 442.7 C773.7 442.3 774.5 438.3 774.7 437.7 C774.9 437 776.1 433.8 776.6 433.3 C777 432.8 780.8 430.4 781.6 430.1 C782.3 429.9 787.1 429.3 787.9 429.5 C788.6 429.7 791.8 432.7 792.2 433.3 C792.7 433.9 794.7 437.6 794.7 438.3 C794.8 439 793.8 442.7 793.5 443.3 C793.2 443.9 790.7 447.1 790.4 447.7 C790 448.3 788.6 451.9 788.5 452.7 C788.3 453.6 788.1 458.9 788.1 460.2 C788.1 461.6 789.3 471.9 787.9 472.8 C786.4 473.6 767.4 473.6 765.9 472.8 C764.4 471.9 766 461.3 765.9 460.2 C765.8 459.2 764.4 456.9 764 456.5 C763.6 456 760.8 453.6 760.3 453.3 C759.7 453.1 755.7 453 755.2 452.7 C754.7 452.4 752.8 449.5 752.7 449 C752.7 448.5 754.5 445.8 754.6 445.2 C754.8 444.6 755.1 440.8 755.2 440.2 C755.4 439.5 756.7 435.7 757.1 435.2 C757.5 434.6 760.9 431.4 761.5 431.4Z" stroke="#bcbd22" stroke-width="4.2"/>
<path d="M816.4 409.5 C817.2 409.5 821.3 411.3 822 412 C822.8 412.6 823.1 415.3 823.9 415.7 C824.7 416.2 829 415.9 830.2 416.4 C831.3 416.9 834.2 419.9 835.2 420.7 C836.2 421.6 839.6 424.4 840.2 425.1 C840.8 425.9 841.7 427.6 841.4 428.3 C841.2 429 838.6 431.4 837.7 432 C836.8 432.7 833.6 434 832.7 434.5 C831.7 435.1 829.2 437.1 828.3 437.7 C827.4 438.2 824.7 439.8 823.9 440.2 C823.1 440.6 821 441.2 820.1 441.4 C819.3 441.7 816.1 442.5 815.1 442.7 C814.1 442.9 811 443.6 810.1 443.3 C809.2 443.1 806.8 441 806.3 440.2 C805.8 439.4 805 436.2 805.1 435.2 C805.1 434.2 806.4 431.1 807 430.1 C807.5 429.1 810.2 426.1 810.7 425.1 C811.3 424.1 812.5 421.1 812.6 420.1 C812.7 419.1 811.9 416 812 415.1 C812 414.2 812.8 411.9 813.2 411.3 C813.7 410.8 815.5 409.4 816.4 409.5Z" stroke="#ffbb78" stroke-width="4.2"/>
<path d="M800.1 447.7 C800.7 447.3 803.8 446.6 805.1 446.4 C806.3 446.3 811.1 446.6 812.6 446.4 C814.1 446.3 818.8 444.8 820.1 444.6 C821.4 444.3 825 443.7 825.8 443.9 C826.6 444.2 828.2 446.3 828.3 447.1 C828.3 447.8 827.1 450.6 826.4 451.5 C825.7 452.3 822.4 455.1 821.4 455.9 C820.4 456.6 817.4 458.5 816.4 459 C815.3 459.5 811.8 460.9 810.7 460.9 C809.7 460.8 806.6 459.1 805.7 458.4 C804.8 457.7 802 454.8 801.3 454 C800.6 453.2 798.7 450.8 798.6 450.2 C798.4 449.6 799.4 448.1 800.1 447.7Z" stroke="#ffbb78" stroke-width="4.2"/>
<path d="M816.4 387.5 C817.4 387.4 820.2 390.3 820.8 391.3 C821.3 392.3 821.6 396.2 821.6 397.5 C821.7 398.9 821.4 403.9 821.1 405.1 C820.8 406.3 819.3 408.9 818.6 409.5 C817.9 410 814.9 411 814.1 410.7 C813.3 410.4 810.9 407.5 810.5 406.3 C810 405.1 809.5 400.2 809.5 398.8 C809.5 397.4 809.8 393 810.5 391.9 C811.2 390.8 815.3 387.6 816.4 387.5Z" stroke="#dbdb8d" stroke-width="4.2"/>
<path d="M887.9 428.9 C889.1 428.9 893 430.1 894.1 430.8 C895.2 431.4 898.4 434.2 899.1 435.2 C899.8 436.1 901 439.2 901 440.2 C901.1 441.2 900.5 444.5 899.8 445.2 C899.1 445.9 895.3 447 894.1 447.1 C892.9 447.2 889 446.8 887.9 446.4 C886.7 446.1 883.1 444.1 882.2 443.3 C881.3 442.6 878.9 439.7 878.4 438.9 C878 438.1 877.5 436 877.8 435.2 C878.1 434.3 880.6 431.4 881.6 430.8 C882.6 430.1 886.6 428.9 887.9 428.9Z" stroke="#1f77b4" stroke-width="4.2"/>
<path d="M860.3 472.8 C858.1 472 860 462.5 860.3 461.5 C860.5 460.5 863.5 458.2 864 457.7 C864.5 457.3 867 455.4 867.8 455.2 C868.5 455 874.2 454.6 875.3 454.6 C876.4 454.6 883.2 454.4 884.1 454.6 C885 454.8 888.6 456.7 889.1 457.1 C889.6 457.5 892 459.2 892.2 460.2 C892.5 461.3 895 471.9 892.9 472.8 C890.7 473.6 862.4 473.5 860.3 472.8Z" stroke="#9edae5" stroke-width="4.2"/>
<path d="M1047.5 380.8 C1048.2 381 1051.3 383.5 1051.8 384.4 C1052.4 385.3 1053 388.5 1053 389.5 C1053 390.5 1052.5 393.8 1052.1 394.5 C1051.7 395.3 1049.7 396.6 1048.9 396.7 C1048.2 396.8 1045.2 395.8 1044.6 395.3 C1043.9 394.7 1042.6 391.9 1042.4 390.9 C1042.2 390 1042.2 386.7 1042.4 385.9 C1042.6 385 1044.1 382.7 1044.6 382.2 C1045.1 381.7 1046.8 380.6 1047.5 380.8Z" stroke="#f7b6d2" stroke-width="4.2"/>
<path d="M1185 393.8 C1186 394 1188.6 395.8 1189.3 396.7 C1189.9 397.6 1191.3 401.3 1191.5 402.5 C1191.6 403.6 1191.2 407.1 1190.7 408.3 C1190.2 409.4 1187.4 412.9 1186.4 414.1 C1185.4 415.2 1181.6 418.9 1180.6 419.9 C1179.6 420.8 1177.3 423 1176.3 423.5 C1175.3 423.9 1171.6 424.4 1170.5 424.2 C1169.3 424 1165.7 422 1164.7 421.3 C1163.7 420.7 1161.2 418.1 1160.4 417.7 C1159.5 417.3 1157 416.9 1156 417 C1155 417 1151.2 418.1 1150.2 418.4 C1149.2 418.7 1146.8 420 1145.9 419.9 C1145 419.7 1142.1 417.8 1141.5 417 C1141 416.1 1139.8 412.1 1140.1 411.2 C1140.4 410.2 1143.4 408.1 1144.4 407.6 C1145.5 407.1 1149.1 406.5 1150.2 406.1 C1151.4 405.7 1154.9 403.7 1156 403.2 C1157.2 402.7 1160.5 401.4 1161.8 401 C1163.1 400.7 1167.7 400 1169 399.6 C1170.3 399.2 1173.8 397.2 1174.8 396.7 C1175.8 396.2 1178.2 394.8 1179.2 394.5 C1180.2 394.2 1183.9 393.6 1185 393.8Z" stroke="#17becf" stroke-width="4.2"/>
<path d="M1095.2 421.3 C1095.3 419.9 1097.7 415.7 1098.9 414.8 C1100 413.9 1104.9 412.1 1106.8 411.9 C1108.8 411.7 1116.4 412.2 1118.4 412.6 C1120.4 413.1 1125.8 415.4 1127.1 416.2 C1128.3 417.1 1130.5 420.1 1130.7 421.3 C1130.8 422.5 1129.5 426.7 1128.5 427.8 C1127.6 428.9 1122.7 431.5 1121.3 432.2 C1119.8 432.8 1115.6 434.3 1114.1 434.3 C1112.5 434.4 1107 433.4 1105.4 432.9 C1103.8 432.4 1099.1 430.4 1098.1 429.3 C1097.1 428.1 1095.2 422.7 1095.2 421.3Z" stroke="#8c564b" stroke-width="4.2"/>
<path d="M1038.8 476.3 C1032 475.3 1036.3 463.2 1035.9 461.8 C1035.5 460.5 1033.3 456.9 1033 456 C1032.7 455.2 1031.5 449.6 1031.6 448.8 C1031.7 448 1033.9 444.3 1034.5 443.7 C1035 443.2 1039.3 441.1 1040.3 440.8 C1041.2 440.6 1047.8 440 1048.9 440.1 C1050.1 440.3 1056.5 442.8 1057.6 443 C1058.8 443.2 1065.1 443.8 1066.3 443.7 C1067.5 443.7 1073.9 442.3 1075 442.3 C1076 442.2 1081.4 442.7 1082.2 443 C1083.1 443.3 1087.2 446.2 1088 446.6 C1088.8 447 1092.9 448.6 1093.8 448.8 C1094.7 449 1100 449.4 1101 449.5 C1102.1 449.6 1108.5 450.2 1109.7 450.2 C1111 450.3 1118.7 450.2 1119.8 450.2 C1121 450.3 1126.3 450.7 1127.1 451 C1127.8 451.3 1130.8 454.1 1131.4 454.6 C1132 455.1 1135.3 457.7 1135.8 458.2 C1136.2 458.7 1137.7 460.6 1137.9 461.8 C1138.1 463 1145.3 475.3 1138.7 476.3 C1132 477.3 1045.7 477.3 1038.8 476.3Z" stroke="#aec7e8" stroke-width="4.2"/>
</g>
<g stroke="#808080" stroke-width="1" fill="none">
<line x1="96.5" y1="12.5" x2="96.5" y2="474.5"/>
<line x1="316.5" y1="12.5" x2="316.5" y2="474.5"/>
<line x1="536.5" y1="12.5" x2="536.5" y2="474.5"/>
<line x1="756.5" y1="12.5" x2="756.5" y2="474.5"/>
<line x1="976.5" y1="12.5" x2="976.5" y2="474.5"/>
<line x1="1196.5" y1="12.5" x2="1196.5" y2="474.5"/>
<line x1="85.5" y1="23.5" x2="1207.5" y2="23.5"/>
<line x1="85.5" y1="133.5" x2="1207.5" y2="133.5"/>
<line x1="85.5" y1="243.5" x2="1207.5" y2="243.5"/>
<line x1="85.5" y1="353.5" x2="1207.5" y2="353.5"/>
<line x1="85.5" y1="463.5" x2="1207.5" y2="463.5"/>
</g>
<rect x="921.3" y="401.3" width="242.2" height="39.2" fill="#fff" fill-opacity="0.5" stroke="#fff" stroke-opacity="0.45" stroke-width="1"/>
<text x="1042" y="429" text-anchor="middle">20160802 00:00</text>
<rect x="85.5" y="12.5" width="1122" height="462" fill="none" stroke="#000" stroke-width="1.1"/>
<text x="79.4" y="31.9" text-anchor="end" letter-spacing="-0.3">45°N</text>
<text x="79.4" y="141.9" text-anchor="end" letter-spacing="-0.3">40°N</text>
<text x="79.4" y="251.9" text-anchor="end" letter-spacing="-0.3">35°N</text>
<text x="79.4" y="361.9" text-anchor="end" letter-spacing="-0.3">30°N</text>
<text x="79.4" y="471.9" text-anchor="end" letter-spacing="-0.3">25°N</text>
<text x="95.5" y="501.7" text-anchor="middle" letter-spacing="-0.3">125°W</text>
<text x="315.5" y="501.7" text-anchor="middle" letter-spacing="-0.3">115°W</text>
<text x="535.5" y="501.7" text-anchor="middle" letter-spacing="-0.3">105°W</text>
<text x="755.5" y="501.7" text-anchor="middle" letter-spacing="-0.3">95°W</text>
<text x="975.5" y="501.7" text-anchor="middle" letter-spacing="-0.3">85°W</text>
<text x="1195.5" y="501.7" text-anchor="middle" letter-spacing="-0.3">75°W</text>
<rect x="152.30" y="536" width="123.78" height="24.299999999999955" fill="#08306b"/>
<rect x="275.68" y="536" width="123.78" height="24.299999999999955" fill="#1c6ab0"/>
<rect x="399.05" y="536" width="123.78" height="24.299999999999955" fill="#539ecd"/>
<rect x="522.42" y="536" width="123.78" height="24.299999999999955" fill="#a3cce3"/>
<rect x="645.80" y="536" width="123.78" height="24.299999999999955" fill="#f2f2f2"/>
<rect x="769.17" y="536" width="123.78" height="24.299999999999955" fill="#c8c8c8"/>
<rect x="892.55" y="536" width="123.78" height="24.299999999999955" fill="#8f8f8f"/>
<rect x="1015.92" y="536" width="123.78" height="24.299999999999955" fill="#545454"/>
<path d="M152.5 536 L103.2 548.15 L152.5 560.3 Z" fill="#000"/>
<path d="M1139.5 536 L1188.8 548.15 L1139.5 560.3 Z" fill="#000"/>
<path d="M103.2 548.15 L152.5 536 L1139.5 536 L1188.8 548.15 L1139.5 560.3 L152.5 560.3 Z" fill="none" stroke="#000" stroke-width="1.1" stroke-linejoin="miter"/>
<line x1="153.10" y1="560.3" x2="153.10" y2="566" stroke="#000" stroke-width="1.1"/>
<text x="152.50" y="593" text-anchor="middle">180</text>
<line x1="399.85" y1="560.3" x2="399.85" y2="566" stroke="#000" stroke-width="1.1"/>
<text x="399.25" y="593" text-anchor="middle">200</text>
<line x1="646.60" y1="560.3" x2="646.60" y2="566" stroke="#000" stroke-width="1.1"/>
<text x="646.00" y="593" text-anchor="middle">220</text>
<line x1="893.35" y1="560.3" x2="893.35" y2="566" stroke="#000" stroke-width="1.1"/>
<text x="892.75" y="593" text-anchor="middle">240</text>
<line x1="1140.10" y1="560.3" x2="1140.10" y2="566" stroke="#000" stroke-width="1.1"/>
<text x="1139.50" y="593" text-anchor="middle">260</text>
<text x="646" y="627" text-anchor="middle" letter-spacing="0.06">Infrared Tb (K)</text>
</svg></body></html>
